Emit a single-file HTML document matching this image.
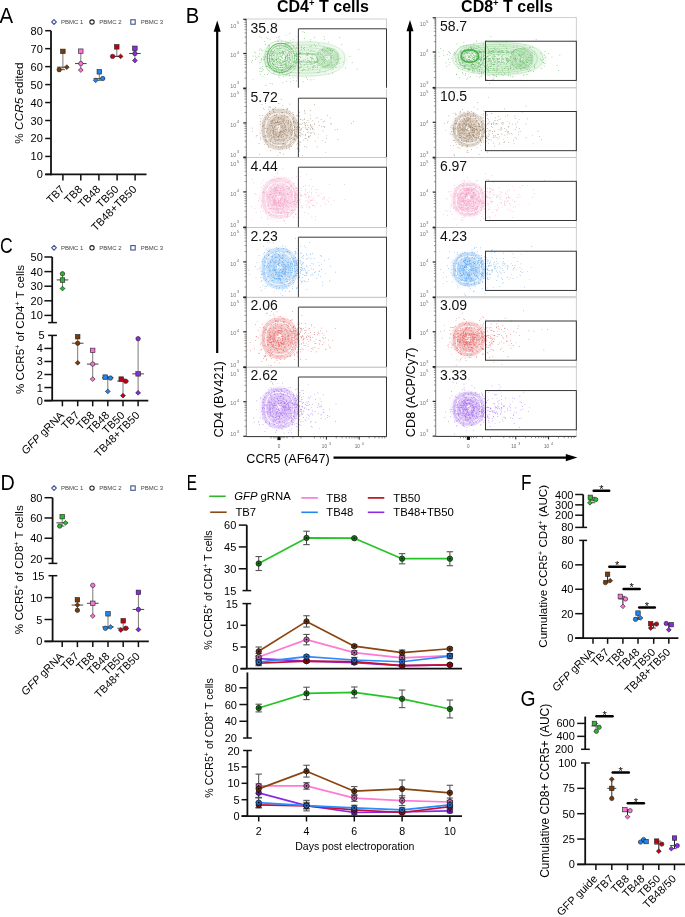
<!DOCTYPE html>
<html><head><meta charset="utf-8"><style>
html,body{margin:0;padding:0;background:#fff;overflow:hidden;width:685px;height:917px;}
svg{display:block;font-family:"Liberation Sans", sans-serif;will-change:transform;}
</style></head><body>
<svg width="685" height="917" viewBox="0 0 685 917">
<rect width="685" height="917" fill="#fff"/>
<defs><radialGradient id="g00"><stop offset="0" stop-color="#7fcf7f" stop-opacity="0.2"/><stop offset="0.75" stop-color="#7fcf7f" stop-opacity="0.28"/><stop offset="1" stop-color="#7fcf7f" stop-opacity="0"/></radialGradient><radialGradient id="g01"><stop offset="0" stop-color="#c8b39e" stop-opacity="0.2"/><stop offset="0.75" stop-color="#c8b39e" stop-opacity="0.28"/><stop offset="1" stop-color="#c8b39e" stop-opacity="0"/></radialGradient><radialGradient id="g02"><stop offset="0" stop-color="#f7c3dc" stop-opacity="0.2"/><stop offset="0.75" stop-color="#f7c3dc" stop-opacity="0.28"/><stop offset="1" stop-color="#f7c3dc" stop-opacity="0"/></radialGradient><radialGradient id="g03"><stop offset="0" stop-color="#a6cdf5" stop-opacity="0.2"/><stop offset="0.75" stop-color="#a6cdf5" stop-opacity="0.28"/><stop offset="1" stop-color="#a6cdf5" stop-opacity="0"/></radialGradient><radialGradient id="g04"><stop offset="0" stop-color="#f2a8a8" stop-opacity="0.2"/><stop offset="0.75" stop-color="#f2a8a8" stop-opacity="0.28"/><stop offset="1" stop-color="#f2a8a8" stop-opacity="0"/></radialGradient><radialGradient id="g05"><stop offset="0" stop-color="#cbaaf5" stop-opacity="0.2"/><stop offset="0.75" stop-color="#cbaaf5" stop-opacity="0.28"/><stop offset="1" stop-color="#cbaaf5" stop-opacity="0"/></radialGradient><radialGradient id="g10"><stop offset="0" stop-color="#7fcf7f" stop-opacity="0.2"/><stop offset="0.75" stop-color="#7fcf7f" stop-opacity="0.28"/><stop offset="1" stop-color="#7fcf7f" stop-opacity="0"/></radialGradient><radialGradient id="g11"><stop offset="0" stop-color="#c8b39e" stop-opacity="0.2"/><stop offset="0.75" stop-color="#c8b39e" stop-opacity="0.28"/><stop offset="1" stop-color="#c8b39e" stop-opacity="0"/></radialGradient><radialGradient id="g12"><stop offset="0" stop-color="#f7c3dc" stop-opacity="0.2"/><stop offset="0.75" stop-color="#f7c3dc" stop-opacity="0.28"/><stop offset="1" stop-color="#f7c3dc" stop-opacity="0"/></radialGradient><radialGradient id="g13"><stop offset="0" stop-color="#a6cdf5" stop-opacity="0.2"/><stop offset="0.75" stop-color="#a6cdf5" stop-opacity="0.28"/><stop offset="1" stop-color="#a6cdf5" stop-opacity="0"/></radialGradient><radialGradient id="g14"><stop offset="0" stop-color="#f2a8a8" stop-opacity="0.2"/><stop offset="0.75" stop-color="#f2a8a8" stop-opacity="0.28"/><stop offset="1" stop-color="#f2a8a8" stop-opacity="0"/></radialGradient><radialGradient id="g15"><stop offset="0" stop-color="#cbaaf5" stop-opacity="0.2"/><stop offset="0.75" stop-color="#cbaaf5" stop-opacity="0.28"/><stop offset="1" stop-color="#cbaaf5" stop-opacity="0"/></radialGradient></defs>
<text transform="translate(-0.49 23.00) scale(0.93 1)" font-size="22">A</text>
<path d="M54.00 19.65L56.35 22.00L54.00 24.35L51.65 22.00Z" fill="none" stroke="#3d5690" stroke-width="1.1"/>
<text x="61.00" y="24.10" font-size="6" fill="#444">PBMC 1</text>
<circle cx="92.00" cy="22.00" r="2.16" fill="none" stroke="#222" stroke-width="1.1"/>
<text x="99.30" y="24.10" font-size="6" fill="#444">PBMC 2</text>
<rect x="130.79" y="19.79" width="4.42" height="4.42" fill="none" stroke="#3d5690" stroke-width="1.1"/>
<text x="140.70" y="24.10" font-size="6" fill="#444">PBMC 3</text>
<line x1="51.00" y1="30.70" x2="51.00" y2="175.15" stroke="#111" stroke-width="1.8"/>
<line x1="45.20" y1="174.40" x2="51.00" y2="174.40" stroke="#111" stroke-width="1.5"/>
<text x="42.80" y="178.40" font-size="11" text-anchor="end">0</text>
<line x1="45.20" y1="156.44" x2="51.00" y2="156.44" stroke="#111" stroke-width="1.5"/>
<text x="42.80" y="160.44" font-size="11" text-anchor="end">10</text>
<line x1="45.20" y1="138.47" x2="51.00" y2="138.47" stroke="#111" stroke-width="1.5"/>
<text x="42.80" y="142.47" font-size="11" text-anchor="end">20</text>
<line x1="45.20" y1="120.51" x2="51.00" y2="120.51" stroke="#111" stroke-width="1.5"/>
<text x="42.80" y="124.51" font-size="11" text-anchor="end">30</text>
<line x1="45.20" y1="102.55" x2="51.00" y2="102.55" stroke="#111" stroke-width="1.5"/>
<text x="42.80" y="106.55" font-size="11" text-anchor="end">40</text>
<line x1="45.20" y1="84.59" x2="51.00" y2="84.59" stroke="#111" stroke-width="1.5"/>
<text x="42.80" y="88.59" font-size="11" text-anchor="end">50</text>
<line x1="45.20" y1="66.62" x2="51.00" y2="66.62" stroke="#111" stroke-width="1.5"/>
<text x="42.80" y="70.62" font-size="11" text-anchor="end">60</text>
<line x1="45.20" y1="48.66" x2="51.00" y2="48.66" stroke="#111" stroke-width="1.5"/>
<text x="42.80" y="52.66" font-size="11" text-anchor="end">70</text>
<line x1="45.20" y1="30.70" x2="51.00" y2="30.70" stroke="#111" stroke-width="1.5"/>
<text x="42.80" y="34.70" font-size="11" text-anchor="end">80</text>
<line x1="45.20" y1="174.40" x2="146.50" y2="174.40" stroke="#111" stroke-width="1.8"/>
<line x1="62.90" y1="174.40" x2="62.90" y2="180.40" stroke="#111" stroke-width="1.5"/>
<line x1="80.80" y1="174.40" x2="80.80" y2="180.40" stroke="#111" stroke-width="1.5"/>
<line x1="98.90" y1="174.40" x2="98.90" y2="180.40" stroke="#111" stroke-width="1.5"/>
<line x1="117.10" y1="174.40" x2="117.10" y2="180.40" stroke="#111" stroke-width="1.5"/>
<line x1="135.10" y1="174.40" x2="135.10" y2="180.40" stroke="#111" stroke-width="1.5"/>
<text x="65.20" y="190.00" font-size="11" text-anchor="end" transform="rotate(-45 65.20 190.00)">TB7</text>
<text x="83.10" y="190.00" font-size="11" text-anchor="end" transform="rotate(-45 83.10 190.00)">TB8</text>
<text x="101.20" y="190.00" font-size="11" text-anchor="end" transform="rotate(-45 101.20 190.00)">TB48</text>
<text x="119.40" y="190.00" font-size="11" text-anchor="end" transform="rotate(-45 119.40 190.00)">TB50</text>
<text x="137.40" y="190.00" font-size="11" text-anchor="end" transform="rotate(-45 137.40 190.00)">TB48+TB50</text>
<text x="23.00" y="103.00" font-size="11.8" text-anchor="middle" transform="rotate(-90 23.00 103.00)">% <tspan font-style="italic">CCR5</tspan> edited</text>
<line x1="62.90" y1="51.36" x2="62.90" y2="69.68" stroke="#7a7a7a" stroke-width="1"/>
<line x1="60.70" y1="51.36" x2="65.10" y2="51.36" stroke="#333" stroke-width="0.8"/>
<line x1="60.70" y1="69.68" x2="65.10" y2="69.68" stroke="#333" stroke-width="0.8"/>
<line x1="57.10" y1="67.16" x2="68.70" y2="67.16" stroke="#444" stroke-width="1"/>
<rect x="60.65" y="49.10" width="4.51" height="4.51" fill="#7b3b05" stroke="#222" stroke-width="0.6"/>
<circle cx="59.20" cy="69.68" r="2.21" fill="#7b3b05" stroke="#222" stroke-width="0.6"/>
<path d="M66.80 64.76L69.20 67.16L66.80 69.56L64.40 67.16Z" fill="#7b3b05" stroke="#222" stroke-width="0.6"/>
<line x1="80.80" y1="51.18" x2="80.80" y2="70.04" stroke="#7a7a7a" stroke-width="1"/>
<line x1="78.60" y1="51.18" x2="83.00" y2="51.18" stroke="#333" stroke-width="0.8"/>
<line x1="78.60" y1="70.04" x2="83.00" y2="70.04" stroke="#333" stroke-width="0.8"/>
<line x1="75.00" y1="63.57" x2="86.60" y2="63.57" stroke="#444" stroke-width="1"/>
<rect x="78.55" y="48.92" width="4.51" height="4.51" fill="#fd72d6" stroke="#222" stroke-width="0.6"/>
<circle cx="80.80" cy="63.57" r="2.21" fill="#fd72d6" stroke="#222" stroke-width="0.6"/>
<path d="M80.80 67.64L83.20 70.04L80.80 72.44L78.40 70.04Z" fill="#fd72d6" stroke="#222" stroke-width="0.6"/>
<line x1="99.30" y1="71.83" x2="99.30" y2="80.28" stroke="#7a7a7a" stroke-width="1"/>
<line x1="97.10" y1="71.83" x2="101.50" y2="71.83" stroke="#333" stroke-width="0.8"/>
<line x1="97.10" y1="80.28" x2="101.50" y2="80.28" stroke="#333" stroke-width="0.8"/>
<line x1="93.50" y1="78.66" x2="105.10" y2="78.66" stroke="#444" stroke-width="1"/>
<rect x="97.05" y="69.58" width="4.51" height="4.51" fill="#1f86f0" stroke="#222" stroke-width="0.6"/>
<circle cx="102.70" cy="78.48" r="2.21" fill="#1f86f0" stroke="#222" stroke-width="0.6"/>
<path d="M95.70 77.88L98.10 80.28L95.70 82.68L93.30 80.28Z" fill="#1f86f0" stroke="#222" stroke-width="0.6"/>
<line x1="116.80" y1="46.87" x2="116.80" y2="56.39" stroke="#7a7a7a" stroke-width="1"/>
<line x1="114.60" y1="46.87" x2="119.00" y2="46.87" stroke="#333" stroke-width="0.8"/>
<line x1="114.60" y1="56.39" x2="119.00" y2="56.39" stroke="#333" stroke-width="0.8"/>
<line x1="111.00" y1="56.39" x2="122.60" y2="56.39" stroke="#444" stroke-width="1"/>
<rect x="114.55" y="44.61" width="4.51" height="4.51" fill="#c10010" stroke="#222" stroke-width="0.6"/>
<circle cx="112.60" cy="56.39" r="2.21" fill="#c10010" stroke="#222" stroke-width="0.6"/>
<path d="M120.60 53.99L123.00 56.39L120.60 58.79L118.20 56.39Z" fill="#c10010" stroke="#222" stroke-width="0.6"/>
<line x1="134.90" y1="48.30" x2="134.90" y2="60.52" stroke="#7a7a7a" stroke-width="1"/>
<line x1="132.70" y1="48.30" x2="137.10" y2="48.30" stroke="#333" stroke-width="0.8"/>
<line x1="132.70" y1="60.52" x2="137.10" y2="60.52" stroke="#333" stroke-width="0.8"/>
<line x1="129.10" y1="53.51" x2="140.70" y2="53.51" stroke="#444" stroke-width="1"/>
<rect x="132.65" y="46.05" width="4.51" height="4.51" fill="#8a2be2" stroke="#222" stroke-width="0.6"/>
<circle cx="134.90" cy="53.51" r="2.21" fill="#8a2be2" stroke="#222" stroke-width="0.6"/>
<path d="M134.90 58.12L137.30 60.52L134.90 62.92L132.50 60.52Z" fill="#8a2be2" stroke="#222" stroke-width="0.6"/>
<text transform="translate(-0.02 253.20) scale(0.8 1)" font-size="22">C</text>
<path d="M54.00 245.45L56.35 247.80L54.00 250.15L51.65 247.80Z" fill="none" stroke="#3d5690" stroke-width="1.1"/>
<text x="61.00" y="249.90" font-size="6" fill="#444">PBMC 1</text>
<circle cx="92.00" cy="247.80" r="2.16" fill="none" stroke="#222" stroke-width="1.1"/>
<text x="99.30" y="249.90" font-size="6" fill="#444">PBMC 2</text>
<rect x="130.79" y="245.59" width="4.42" height="4.42" fill="none" stroke="#3d5690" stroke-width="1.1"/>
<text x="140.70" y="249.90" font-size="6" fill="#444">PBMC 3</text>
<line x1="52.20" y1="257.00" x2="52.20" y2="322.60" stroke="#111" stroke-width="1.8"/>
<line x1="44.40" y1="315.40" x2="52.20" y2="315.40" stroke="#111" stroke-width="1.5"/>
<text x="42.80" y="319.40" font-size="11" text-anchor="end">10</text>
<line x1="44.40" y1="300.80" x2="52.20" y2="300.80" stroke="#111" stroke-width="1.5"/>
<text x="42.80" y="304.80" font-size="11" text-anchor="end">20</text>
<line x1="44.40" y1="286.20" x2="52.20" y2="286.20" stroke="#111" stroke-width="1.5"/>
<text x="42.80" y="290.20" font-size="11" text-anchor="end">30</text>
<line x1="44.40" y1="271.60" x2="52.20" y2="271.60" stroke="#111" stroke-width="1.5"/>
<text x="42.80" y="275.60" font-size="11" text-anchor="end">40</text>
<line x1="44.40" y1="257.00" x2="52.20" y2="257.00" stroke="#111" stroke-width="1.5"/>
<text x="42.80" y="261.00" font-size="11" text-anchor="end">50</text>
<line x1="48.10" y1="322.60" x2="56.90" y2="322.60" stroke="#111" stroke-width="1.5"/>
<line x1="52.20" y1="335.40" x2="52.20" y2="400.60" stroke="#111" stroke-width="1.8"/>
<line x1="48.10" y1="335.40" x2="56.90" y2="335.40" stroke="#111" stroke-width="1.5"/>
<text x="44.50" y="339.40" font-size="11" text-anchor="end">5</text>
<line x1="44.40" y1="400.60" x2="52.20" y2="400.60" stroke="#111" stroke-width="1.5"/>
<text x="42.80" y="404.60" font-size="11" text-anchor="end">0</text>
<line x1="44.40" y1="387.56" x2="52.20" y2="387.56" stroke="#111" stroke-width="1.5"/>
<text x="42.80" y="391.56" font-size="11" text-anchor="end">1</text>
<line x1="44.40" y1="374.52" x2="52.20" y2="374.52" stroke="#111" stroke-width="1.5"/>
<text x="42.80" y="378.52" font-size="11" text-anchor="end">2</text>
<line x1="44.40" y1="361.48" x2="52.20" y2="361.48" stroke="#111" stroke-width="1.5"/>
<text x="42.80" y="365.48" font-size="11" text-anchor="end">3</text>
<line x1="44.40" y1="348.44" x2="52.20" y2="348.44" stroke="#111" stroke-width="1.5"/>
<text x="42.80" y="352.44" font-size="11" text-anchor="end">4</text>
<line x1="44.40" y1="400.60" x2="148.30" y2="400.60" stroke="#111" stroke-width="1.8"/>
<line x1="62.40" y1="400.60" x2="62.40" y2="406.30" stroke="#111" stroke-width="1.5"/>
<line x1="77.70" y1="400.60" x2="77.70" y2="406.30" stroke="#111" stroke-width="1.5"/>
<line x1="92.70" y1="400.60" x2="92.70" y2="406.30" stroke="#111" stroke-width="1.5"/>
<line x1="107.80" y1="400.60" x2="107.80" y2="406.30" stroke="#111" stroke-width="1.5"/>
<line x1="123.00" y1="400.60" x2="123.00" y2="406.30" stroke="#111" stroke-width="1.5"/>
<line x1="138.10" y1="400.60" x2="138.10" y2="406.30" stroke="#111" stroke-width="1.5"/>
<text x="64.70" y="416.00" font-size="11" text-anchor="end" transform="rotate(-45 64.70 416.00)"><tspan font-style="italic">GFP</tspan> gRNA</text>
<text x="80.00" y="416.00" font-size="11" text-anchor="end" transform="rotate(-45 80.00 416.00)">TB7</text>
<text x="95.00" y="416.00" font-size="11" text-anchor="end" transform="rotate(-45 95.00 416.00)">TB8</text>
<text x="110.10" y="416.00" font-size="11" text-anchor="end" transform="rotate(-45 110.10 416.00)">TB48</text>
<text x="125.30" y="416.00" font-size="11" text-anchor="end" transform="rotate(-45 125.30 416.00)">TB50</text>
<text x="140.40" y="416.00" font-size="11" text-anchor="end" transform="rotate(-45 140.40 416.00)">TB48+TB50</text>
<text x="23.50" y="329.50" font-size="11.6" text-anchor="middle" transform="rotate(-90 23.50 329.50)">% CCR5<tspan dy="-4" font-size="7">+</tspan><tspan dy="4"> of CD4</tspan><tspan dy="-4" font-size="7">+</tspan><tspan dy="4"> T cells</tspan></text>
<line x1="62.50" y1="273.79" x2="62.50" y2="288.54" stroke="#7a7a7a" stroke-width="1"/>
<line x1="60.30" y1="273.79" x2="64.70" y2="273.79" stroke="#333" stroke-width="0.8"/>
<line x1="60.30" y1="288.54" x2="64.70" y2="288.54" stroke="#333" stroke-width="0.8"/>
<line x1="56.70" y1="279.92" x2="68.30" y2="279.92" stroke="#444" stroke-width="1"/>
<circle cx="62.50" cy="273.79" r="2.21" fill="#2fb52f" stroke="#222" stroke-width="0.6"/>
<rect x="60.25" y="277.81" width="4.51" height="4.51" fill="#2fb52f" stroke="#222" stroke-width="0.6"/>
<path d="M62.50 286.13L64.90 288.54L62.50 290.94L60.10 288.54Z" fill="#2fb52f" stroke="#222" stroke-width="0.6"/>
<line x1="77.70" y1="336.70" x2="77.70" y2="362.78" stroke="#7a7a7a" stroke-width="1"/>
<line x1="75.50" y1="336.70" x2="79.90" y2="336.70" stroke="#333" stroke-width="0.8"/>
<line x1="75.50" y1="362.78" x2="79.90" y2="362.78" stroke="#333" stroke-width="0.8"/>
<line x1="71.90" y1="343.22" x2="83.50" y2="343.22" stroke="#444" stroke-width="1"/>
<rect x="75.45" y="334.45" width="4.51" height="4.51" fill="#7b3b05" stroke="#222" stroke-width="0.6"/>
<circle cx="77.70" cy="343.22" r="2.21" fill="#7b3b05" stroke="#222" stroke-width="0.6"/>
<path d="M77.70 360.38L80.10 362.78L77.70 365.19L75.30 362.78Z" fill="#7b3b05" stroke="#222" stroke-width="0.6"/>
<line x1="92.70" y1="350.40" x2="92.70" y2="379.08" stroke="#7a7a7a" stroke-width="1"/>
<line x1="90.50" y1="350.40" x2="94.90" y2="350.40" stroke="#333" stroke-width="0.8"/>
<line x1="90.50" y1="379.08" x2="94.90" y2="379.08" stroke="#333" stroke-width="0.8"/>
<line x1="86.90" y1="364.09" x2="98.50" y2="364.09" stroke="#444" stroke-width="1"/>
<rect x="90.45" y="348.14" width="4.51" height="4.51" fill="#fd72d6" stroke="#222" stroke-width="0.6"/>
<circle cx="92.70" cy="364.09" r="2.21" fill="#fd72d6" stroke="#222" stroke-width="0.6"/>
<path d="M92.70 376.68L95.10 379.08L92.70 381.49L90.30 379.08Z" fill="#fd72d6" stroke="#222" stroke-width="0.6"/>
<line x1="107.80" y1="377.13" x2="107.80" y2="391.47" stroke="#7a7a7a" stroke-width="1"/>
<line x1="105.60" y1="377.13" x2="110.00" y2="377.13" stroke="#333" stroke-width="0.8"/>
<line x1="105.60" y1="391.47" x2="110.00" y2="391.47" stroke="#333" stroke-width="0.8"/>
<line x1="102.00" y1="377.78" x2="113.60" y2="377.78" stroke="#444" stroke-width="1"/>
<rect x="102.95" y="374.87" width="4.51" height="4.51" fill="#1f86f0" stroke="#222" stroke-width="0.6"/>
<circle cx="110.40" cy="378.04" r="2.21" fill="#1f86f0" stroke="#222" stroke-width="0.6"/>
<path d="M107.80 389.07L110.20 391.47L107.80 393.87L105.40 391.47Z" fill="#1f86f0" stroke="#222" stroke-width="0.6"/>
<line x1="123.00" y1="379.08" x2="123.00" y2="395.64" stroke="#7a7a7a" stroke-width="1"/>
<line x1="120.80" y1="379.08" x2="125.20" y2="379.08" stroke="#333" stroke-width="0.8"/>
<line x1="120.80" y1="395.64" x2="125.20" y2="395.64" stroke="#333" stroke-width="0.8"/>
<line x1="117.20" y1="381.04" x2="128.80" y2="381.04" stroke="#444" stroke-width="1"/>
<rect x="118.95" y="376.83" width="4.51" height="4.51" fill="#c10010" stroke="#222" stroke-width="0.6"/>
<circle cx="125.70" cy="381.30" r="2.21" fill="#c10010" stroke="#222" stroke-width="0.6"/>
<path d="M123.00 393.24L125.40 395.64L123.00 398.05L120.60 395.64Z" fill="#c10010" stroke="#222" stroke-width="0.6"/>
<line x1="138.10" y1="338.66" x2="138.10" y2="392.78" stroke="#7a7a7a" stroke-width="1"/>
<line x1="135.90" y1="338.66" x2="140.30" y2="338.66" stroke="#333" stroke-width="0.8"/>
<line x1="135.90" y1="392.78" x2="140.30" y2="392.78" stroke="#333" stroke-width="0.8"/>
<line x1="132.30" y1="373.87" x2="143.90" y2="373.87" stroke="#444" stroke-width="1"/>
<circle cx="138.10" cy="338.66" r="2.21" fill="#8a2be2" stroke="#222" stroke-width="0.6"/>
<rect x="135.85" y="371.61" width="4.51" height="4.51" fill="#8a2be2" stroke="#222" stroke-width="0.6"/>
<path d="M138.10 390.38L140.50 392.78L138.10 395.18L135.70 392.78Z" fill="#8a2be2" stroke="#222" stroke-width="0.6"/>
<text transform="translate(0.38 489.70) scale(0.9 1)" font-size="22">D</text>
<path d="M54.00 485.75L56.35 488.10L54.00 490.45L51.65 488.10Z" fill="none" stroke="#3d5690" stroke-width="1.1"/>
<text x="61.00" y="490.20" font-size="6" fill="#444">PBMC 1</text>
<circle cx="92.00" cy="488.10" r="2.16" fill="none" stroke="#222" stroke-width="1.1"/>
<text x="99.30" y="490.20" font-size="6" fill="#444">PBMC 2</text>
<rect x="130.79" y="485.89" width="4.42" height="4.42" fill="none" stroke="#3d5690" stroke-width="1.1"/>
<text x="140.70" y="490.20" font-size="6" fill="#444">PBMC 3</text>
<line x1="52.60" y1="497.70" x2="52.60" y2="563.40" stroke="#111" stroke-width="1.8"/>
<line x1="44.50" y1="558.50" x2="52.60" y2="558.50" stroke="#111" stroke-width="1.5"/>
<text x="42.40" y="562.50" font-size="11" text-anchor="end">20</text>
<line x1="44.50" y1="538.23" x2="52.60" y2="538.23" stroke="#111" stroke-width="1.5"/>
<text x="42.40" y="542.23" font-size="11" text-anchor="end">40</text>
<line x1="44.50" y1="517.97" x2="52.60" y2="517.97" stroke="#111" stroke-width="1.5"/>
<text x="42.40" y="521.97" font-size="11" text-anchor="end">60</text>
<line x1="44.50" y1="497.70" x2="52.60" y2="497.70" stroke="#111" stroke-width="1.5"/>
<text x="42.40" y="501.70" font-size="11" text-anchor="end">80</text>
<line x1="48.50" y1="563.40" x2="57.30" y2="563.40" stroke="#111" stroke-width="1.5"/>
<line x1="52.60" y1="575.70" x2="52.60" y2="641.40" stroke="#111" stroke-width="1.8"/>
<line x1="48.50" y1="575.70" x2="57.30" y2="575.70" stroke="#111" stroke-width="1.5"/>
<text x="44.50" y="579.70" font-size="11" text-anchor="end">15</text>
<line x1="44.50" y1="641.40" x2="52.60" y2="641.40" stroke="#111" stroke-width="1.5"/>
<text x="42.40" y="645.40" font-size="11" text-anchor="end">0</text>
<line x1="44.50" y1="619.50" x2="52.60" y2="619.50" stroke="#111" stroke-width="1.5"/>
<text x="42.40" y="623.50" font-size="11" text-anchor="end">5</text>
<line x1="44.50" y1="597.60" x2="52.60" y2="597.60" stroke="#111" stroke-width="1.5"/>
<text x="42.40" y="601.60" font-size="11" text-anchor="end">10</text>
<line x1="44.50" y1="641.40" x2="148.80" y2="641.40" stroke="#111" stroke-width="1.8"/>
<line x1="62.20" y1="641.40" x2="62.20" y2="647.10" stroke="#111" stroke-width="1.5"/>
<line x1="77.40" y1="641.40" x2="77.40" y2="647.10" stroke="#111" stroke-width="1.5"/>
<line x1="92.80" y1="641.40" x2="92.80" y2="647.10" stroke="#111" stroke-width="1.5"/>
<line x1="108.00" y1="641.40" x2="108.00" y2="647.10" stroke="#111" stroke-width="1.5"/>
<line x1="123.20" y1="641.40" x2="123.20" y2="647.10" stroke="#111" stroke-width="1.5"/>
<line x1="138.40" y1="641.40" x2="138.40" y2="647.10" stroke="#111" stroke-width="1.5"/>
<text x="64.50" y="657.00" font-size="11" text-anchor="end" transform="rotate(-45 64.50 657.00)"><tspan font-style="italic">GFP</tspan> gRNA</text>
<text x="79.70" y="657.00" font-size="11" text-anchor="end" transform="rotate(-45 79.70 657.00)">TB7</text>
<text x="95.10" y="657.00" font-size="11" text-anchor="end" transform="rotate(-45 95.10 657.00)">TB8</text>
<text x="110.30" y="657.00" font-size="11" text-anchor="end" transform="rotate(-45 110.30 657.00)">TB48</text>
<text x="125.50" y="657.00" font-size="11" text-anchor="end" transform="rotate(-45 125.50 657.00)">TB50</text>
<text x="140.70" y="657.00" font-size="11" text-anchor="end" transform="rotate(-45 140.70 657.00)">TB48+TB50</text>
<text x="23.50" y="569.70" font-size="11.6" text-anchor="middle" transform="rotate(-90 23.50 569.70)">% CCR5<tspan dy="-4" font-size="7">+</tspan><tspan dy="4"> of CD8</tspan><tspan dy="-4" font-size="7">+</tspan><tspan dy="4"> T cells</tspan></text>
<line x1="62.20" y1="516.65" x2="62.20" y2="526.07" stroke="#7a7a7a" stroke-width="1"/>
<line x1="60.00" y1="516.65" x2="64.40" y2="516.65" stroke="#333" stroke-width="0.8"/>
<line x1="60.00" y1="526.07" x2="64.40" y2="526.07" stroke="#333" stroke-width="0.8"/>
<line x1="56.40" y1="522.83" x2="68.00" y2="522.83" stroke="#444" stroke-width="1"/>
<rect x="59.95" y="514.40" width="4.51" height="4.51" fill="#2fb52f" stroke="#222" stroke-width="0.6"/>
<path d="M65.50 520.43L67.90 522.83L65.50 525.23L63.10 522.83Z" fill="#2fb52f" stroke="#222" stroke-width="0.6"/>
<circle cx="59.70" cy="526.07" r="2.21" fill="#2fb52f" stroke="#222" stroke-width="0.6"/>
<line x1="77.40" y1="599.79" x2="77.40" y2="610.30" stroke="#7a7a7a" stroke-width="1"/>
<line x1="75.20" y1="599.79" x2="79.60" y2="599.79" stroke="#333" stroke-width="0.8"/>
<line x1="75.20" y1="610.30" x2="79.60" y2="610.30" stroke="#333" stroke-width="0.8"/>
<line x1="71.60" y1="605.05" x2="83.20" y2="605.05" stroke="#444" stroke-width="1"/>
<rect x="75.15" y="597.54" width="4.51" height="4.51" fill="#7b3b05" stroke="#222" stroke-width="0.6"/>
<path d="M77.40 602.65L79.80 605.05L77.40 607.45L75.00 605.05Z" fill="#7b3b05" stroke="#222" stroke-width="0.6"/>
<circle cx="77.40" cy="610.30" r="2.21" fill="#7b3b05" stroke="#222" stroke-width="0.6"/>
<line x1="92.80" y1="585.34" x2="92.80" y2="616.00" stroke="#7a7a7a" stroke-width="1"/>
<line x1="90.60" y1="585.34" x2="95.00" y2="585.34" stroke="#333" stroke-width="0.8"/>
<line x1="90.60" y1="616.00" x2="95.00" y2="616.00" stroke="#333" stroke-width="0.8"/>
<line x1="87.00" y1="603.29" x2="98.60" y2="603.29" stroke="#444" stroke-width="1"/>
<circle cx="92.80" cy="585.34" r="2.21" fill="#fd72d6" stroke="#222" stroke-width="0.6"/>
<rect x="90.55" y="601.04" width="4.51" height="4.51" fill="#fd72d6" stroke="#222" stroke-width="0.6"/>
<path d="M92.80 613.60L95.20 616.00L92.80 618.40L90.40 616.00Z" fill="#fd72d6" stroke="#222" stroke-width="0.6"/>
<line x1="108.00" y1="613.81" x2="108.00" y2="628.26" stroke="#7a7a7a" stroke-width="1"/>
<line x1="105.80" y1="613.81" x2="110.20" y2="613.81" stroke="#333" stroke-width="0.8"/>
<line x1="105.80" y1="628.26" x2="110.20" y2="628.26" stroke="#333" stroke-width="0.8"/>
<line x1="102.20" y1="626.95" x2="113.80" y2="626.95" stroke="#444" stroke-width="1"/>
<rect x="105.75" y="611.55" width="4.51" height="4.51" fill="#1f86f0" stroke="#222" stroke-width="0.6"/>
<circle cx="105.40" cy="628.26" r="2.21" fill="#1f86f0" stroke="#222" stroke-width="0.6"/>
<path d="M110.60 624.55L113.00 626.95L110.60 629.35L108.20 626.95Z" fill="#1f86f0" stroke="#222" stroke-width="0.6"/>
<line x1="123.20" y1="620.81" x2="123.20" y2="630.01" stroke="#7a7a7a" stroke-width="1"/>
<line x1="121.00" y1="620.81" x2="125.40" y2="620.81" stroke="#333" stroke-width="0.8"/>
<line x1="121.00" y1="630.01" x2="125.40" y2="630.01" stroke="#333" stroke-width="0.8"/>
<line x1="117.40" y1="628.26" x2="129.00" y2="628.26" stroke="#444" stroke-width="1"/>
<rect x="120.95" y="618.56" width="4.51" height="4.51" fill="#c10010" stroke="#222" stroke-width="0.6"/>
<circle cx="125.90" cy="628.26" r="2.21" fill="#c10010" stroke="#222" stroke-width="0.6"/>
<path d="M120.80 627.61L123.20 630.01L120.80 632.41L118.40 630.01Z" fill="#c10010" stroke="#222" stroke-width="0.6"/>
<line x1="138.40" y1="592.34" x2="138.40" y2="629.57" stroke="#7a7a7a" stroke-width="1"/>
<line x1="136.20" y1="592.34" x2="140.60" y2="592.34" stroke="#333" stroke-width="0.8"/>
<line x1="136.20" y1="629.57" x2="140.60" y2="629.57" stroke="#333" stroke-width="0.8"/>
<line x1="132.60" y1="609.43" x2="144.20" y2="609.43" stroke="#444" stroke-width="1"/>
<rect x="136.15" y="590.09" width="4.51" height="4.51" fill="#8a2be2" stroke="#222" stroke-width="0.6"/>
<circle cx="138.40" cy="609.43" r="2.21" fill="#8a2be2" stroke="#222" stroke-width="0.6"/>
<path d="M138.40 627.17L140.80 629.57L138.40 631.97L136.00 629.57Z" fill="#8a2be2" stroke="#222" stroke-width="0.6"/>
<text transform="translate(185.74 23.20) scale(0.92 1)" font-size="22">B</text>
<text x="322.90" y="11.80" font-size="16" text-anchor="middle" font-weight="bold">CD4<tspan dy="-5.5" font-size="9.5">+</tspan><tspan dy="5.5"> T cells</tspan></text>
<text x="507.00" y="11.80" font-size="16" text-anchor="middle" font-weight="bold">CD8<tspan dy="-5.5" font-size="9.5">+</tspan><tspan dy="5.5"> T cells</tspan></text>
<line x1="217.20" y1="28.00" x2="217.20" y2="353.10" stroke="#000" stroke-width="2.2"/>
<path d="M217.2 20.6L220.7 31.8L213.7 31.8Z" fill="#000"/>
<line x1="410.00" y1="28.00" x2="410.00" y2="339.20" stroke="#000" stroke-width="2.2"/>
<path d="M410.0 20.1L413.5 31.3L406.5 31.3Z" fill="#000"/>
<text x="222.60" y="399.30" font-size="12.85" text-anchor="middle" transform="rotate(-90 222.60 399.30)">CD4 (BV421)</text>
<text x="414.60" y="392.40" font-size="12.7" text-anchor="middle" transform="rotate(-90 414.60 392.40)">CD8 (ACP/Cy7)</text>
<text x="246.30" y="463.30" font-size="12.6">CCR5 (AF647)</text>
<line x1="333.50" y1="457.60" x2="567.00" y2="457.60" stroke="#000" stroke-width="2.2"/>
<path d="M577.4 457.6L565.8 461.2L565.8 454.0Z" fill="#000"/>
<rect x="246.30" y="19.00" width="140.20" height="69.40" fill="none" stroke="#c4c4c4" stroke-width="0.8"/>
<ellipse cx="302.8" cy="59.0" rx="48" ry="20" fill="url(#g00)" opacity="0.7"/>
<path d="M292.3 65.4L291.3 66.9L290.1 68.3L288.8 69.5L287.3 70.5L285.7 71.3L284.1 71.9L282.3 72.2L280.6 72.3L278.8 72.1L277.1 71.8L275.5 71.1L273.9 70.3L272.5 69.2L271.2 68.0L270.0 66.6L269.1 65.0L268.3 63.3L267.8 61.5L267.4 59.7L267.3 57.8L267.4 55.9L267.8 54.1L268.3 52.3L269.1 50.6L270.0 49.0L271.2 47.6L272.5 46.4L273.9 45.3L275.5 44.5L277.1 43.8L278.8 43.5L280.6 43.3L282.3 43.4L284.1 43.7L285.7 44.3L287.3 45.1L288.8 46.1L290.1 47.3L291.3 48.7L292.3 50.2" fill="none" stroke="#3aa53a" stroke-width="1.0" opacity="0.75"/>
<path d="M289.6 65.9L288.6 67.0L287.5 67.9L286.4 68.7L285.1 69.4L283.8 69.9L282.4 70.2L281.0 70.3L279.6 70.2L278.2 70.0L276.9 69.5L275.6 68.9L274.4 68.2L273.2 67.2L272.2 66.2L271.4 65.0L270.6 63.7L270.1 62.3L269.6 60.8L269.4 59.3L269.3 57.8L269.4 56.3L269.6 54.8L270.1 53.3L270.6 51.9L271.4 50.6L272.2 49.4L273.2 48.4L274.4 47.4L275.6 46.7L276.9 46.1L278.2 45.6L279.6 45.4L281.0 45.3L282.4 45.4L283.8 45.7L285.1 46.2L286.4 46.9L287.5 47.7L288.6 48.6L289.6 49.7" fill="none" stroke="#3aa53a" stroke-width="0.6" opacity="0.6"/>
<ellipse cx="281.8" cy="57.0" rx="3.5" ry="3" fill="#fff" opacity="0.9"/>
<path d="M293.8 54.0H318.8M293.8 62.0H318.8" stroke="#3aa53a" stroke-width="0.8" opacity="0.6"/>
<path d="M344.8 59.0L344.3 63.0L342.8 66.0L340.3 68.5L336.8 70.8L332.5 72.6L327.2 74.1L321.2 75.1L314.1 75.8L304.8 76.0L295.5 75.8L288.4 75.1L282.4 74.1L277.1 72.6L272.8 70.8L269.3 68.5L266.8 66.0L265.3 63.0L264.8 59.0L265.3 55.0L266.8 52.0L269.3 49.5L272.8 47.2L277.1 45.4L282.4 43.9L288.4 42.9L295.5 42.2L304.8 42.0L314.1 42.2L321.2 42.9L327.2 43.9L332.5 45.4L336.8 47.2L340.3 49.5L342.8 52.0L344.3 55.0Z" fill="none" stroke="#3aa53a" stroke-width="0.45" opacity="0.4"/>
<path d="M338.0 59.0L337.6 62.3L336.3 64.8L334.2 66.9L331.4 68.8L327.8 70.3L323.4 71.5L318.4 72.4L312.5 72.9L304.8 73.1L297.1 72.9L291.2 72.4L286.2 71.5L281.8 70.3L278.2 68.8L275.4 66.9L273.3 64.8L272.0 62.3L271.6 59.0L272.0 55.7L273.3 53.2L275.4 51.1L278.2 49.2L281.8 47.7L286.2 46.5L291.2 45.6L297.1 45.1L304.8 44.9L312.5 45.1L318.4 45.6L323.4 46.5L327.8 47.7L331.4 49.2L334.2 51.1L336.3 53.2L337.6 55.7Z" fill="none" stroke="#3aa53a" stroke-width="0.45" opacity="0.4"/>
<path d="M331.2 59.0L330.9 61.6L329.9 63.6L328.2 65.3L325.9 66.8L323.1 68.0L319.6 69.0L315.6 69.7L310.9 70.1L304.8 70.2L298.7 70.1L294.0 69.7L290.0 69.0L286.5 68.0L283.7 66.8L281.4 65.3L279.7 63.6L278.7 61.6L278.4 59.0L278.7 56.4L279.7 54.4L281.4 52.7L283.7 51.2L286.5 50.0L290.0 49.0L294.0 48.3L298.7 47.9L304.8 47.8L310.9 47.9L315.6 48.3L319.6 49.0L323.1 50.0L325.9 51.2L328.2 52.7L329.9 54.4L330.9 56.4Z" fill="none" stroke="#3aa53a" stroke-width="0.45" opacity="0.4"/>
<path d="M324.4 59.0L324.2 60.9L323.4 62.4L322.2 63.7L320.5 64.8L318.4 65.7L315.8 66.4L312.8 66.9L309.4 67.2L304.8 67.3L300.2 67.2L296.8 66.9L293.8 66.4L291.2 65.7L289.1 64.8L287.4 63.7L286.2 62.4L285.4 60.9L285.2 59.0L285.4 57.1L286.2 55.6L287.4 54.3L289.1 53.2L291.2 52.3L293.8 51.6L296.8 51.1L300.2 50.8L304.8 50.7L309.4 50.8L312.8 51.1L315.8 51.6L318.4 52.3L320.5 53.2L322.2 54.3L323.4 55.6L324.2 57.1Z" fill="none" stroke="#3aa53a" stroke-width="0.45" opacity="0.4"/>
<path d="M317.6 59.0L317.4 60.3L317.0 61.2L316.2 62.1L315.1 62.8L313.7 63.4L312.0 63.8L310.0 64.2L307.8 64.4L304.8 64.4L301.8 64.4L299.6 64.2L297.6 63.8L295.9 63.4L294.5 62.8L293.4 62.1L292.6 61.2L292.2 60.3L292.0 59.0L292.2 57.7L292.6 56.8L293.4 55.9L294.5 55.2L295.9 54.6L297.6 54.2L299.6 53.8L301.8 53.6L304.8 53.6L307.8 53.6L310.0 53.8L312.0 54.2L313.7 54.6L315.1 55.2L316.2 55.9L317.0 56.8L317.4 57.7Z" fill="none" stroke="#3aa53a" stroke-width="0.45" opacity="0.4"/>
<path d="M338.8 58.0L338.7 60.3L338.2 62.1L337.6 63.6L336.6 64.9L335.4 66.0L334.0 66.9L332.3 67.5L330.4 67.9L327.8 68.0L325.2 67.9L323.3 67.5L321.6 66.9L320.2 66.0L319.0 64.9L318.0 63.6L317.4 62.1L316.9 60.3L316.8 58.0L316.9 55.7L317.4 53.9L318.0 52.4L319.0 51.1L320.2 50.0L321.6 49.1L323.3 48.5L325.2 48.1L327.8 48.0L330.4 48.1L332.3 48.5L334.0 49.1L335.4 50.0L336.6 51.1L337.6 52.4L338.2 53.9L338.7 55.7Z" fill="none" stroke="#3aa53a" stroke-width="0.5" opacity="0.6"/>
<path d="M337.5 58.0L337.3 60.0L337.0 61.6L336.4 62.9L335.5 64.1L334.5 65.0L333.2 65.8L331.8 66.3L330.0 66.7L327.8 66.8L325.6 66.7L323.8 66.3L322.4 65.8L321.1 65.0L320.1 64.1L319.2 62.9L318.6 61.6L318.3 60.0L318.1 58.0L318.3 56.0L318.6 54.4L319.2 53.1L320.1 51.9L321.1 51.0L322.4 50.2L323.8 49.7L325.6 49.3L327.8 49.2L330.0 49.3L331.8 49.7L333.2 50.2L334.5 51.0L335.5 51.9L336.4 53.1L337.0 54.4L337.3 56.0Z" fill="none" stroke="#3aa53a" stroke-width="0.5" opacity="0.6"/>
<path d="M336.1 58.0L336.0 59.8L335.7 61.1L335.2 62.2L334.5 63.2L333.6 64.1L332.5 64.7L331.2 65.2L329.7 65.5L327.8 65.6L325.9 65.5L324.4 65.2L323.1 64.7L322.0 64.1L321.1 63.2L320.4 62.2L319.9 61.1L319.6 59.8L319.5 58.0L319.6 56.2L319.9 54.9L320.4 53.8L321.1 52.8L322.0 51.9L323.1 51.3L324.4 50.8L325.9 50.5L327.8 50.4L329.7 50.5L331.2 50.8L332.5 51.3L333.6 51.9L334.5 52.8L335.2 53.8L335.7 54.9L336.0 56.2Z" fill="none" stroke="#3aa53a" stroke-width="0.5" opacity="0.6"/>
<path d="M334.8 58.0L334.7 59.5L334.4 60.6L334.0 61.6L333.4 62.4L332.6 63.1L331.7 63.6L330.7 64.0L329.4 64.3L327.8 64.4L326.2 64.3L324.9 64.0L323.9 63.6L323.0 63.1L322.2 62.4L321.6 61.6L321.2 60.6L320.9 59.5L320.8 58.0L320.9 56.5L321.2 55.4L321.6 54.4L322.2 53.6L323.0 52.9L323.9 52.4L324.9 52.0L326.2 51.7L327.8 51.6L329.4 51.7L330.7 52.0L331.7 52.4L332.6 52.9L333.4 53.6L334.0 54.4L334.4 55.4L334.7 56.5Z" fill="none" stroke="#3aa53a" stroke-width="0.5" opacity="0.6"/>
<path d="M333.5 58.0L333.4 59.2L333.2 60.1L332.8 60.9L332.3 61.6L331.7 62.1L331.0 62.6L330.1 62.9L329.1 63.1L327.8 63.1L326.5 63.1L325.5 62.9L324.6 62.6L323.9 62.1L323.3 61.6L322.8 60.9L322.4 60.1L322.2 59.2L322.1 58.0L322.2 56.8L322.4 55.9L322.8 55.1L323.3 54.4L323.9 53.9L324.6 53.4L325.5 53.1L326.5 52.9L327.8 52.9L329.1 52.9L330.1 53.1L331.0 53.4L331.7 53.9L332.3 54.4L332.8 55.1L333.2 55.9L333.4 56.8Z" fill="none" stroke="#3aa53a" stroke-width="0.5" opacity="0.6"/>
<path d="M332.1 58.0L332.1 58.9L331.9 59.6L331.6 60.2L331.3 60.7L330.8 61.1L330.2 61.5L329.6 61.7L328.8 61.9L327.8 61.9L326.8 61.9L326.0 61.7L325.4 61.5L324.8 61.1L324.3 60.7L324.0 60.2L323.7 59.6L323.5 58.9L323.5 58.0L323.5 57.1L323.7 56.4L324.0 55.8L324.3 55.3L324.8 54.9L325.4 54.5L326.0 54.3L326.8 54.1L327.8 54.1L328.8 54.1L329.6 54.3L330.2 54.5L330.8 54.9L331.3 55.3L331.6 55.8L331.9 56.4L332.1 57.1Z" fill="none" stroke="#3aa53a" stroke-width="0.5" opacity="0.6"/>
<path d="M330.8 58.0L330.7 58.6L330.6 59.1L330.4 59.5L330.2 59.9L329.9 60.2L329.5 60.4L329.0 60.6L328.5 60.7L327.8 60.7L327.1 60.7L326.6 60.6L326.1 60.4L325.7 60.2L325.4 59.9L325.2 59.5L325.0 59.1L324.9 58.6L324.8 58.0L324.9 57.4L325.0 56.9L325.2 56.5L325.4 56.1L325.7 55.8L326.1 55.6L326.6 55.4L327.1 55.3L327.8 55.3L328.5 55.3L329.0 55.4L329.5 55.6L329.9 55.8L330.2 56.1L330.4 56.5L330.6 56.9L330.7 57.4Z" fill="none" stroke="#3aa53a" stroke-width="0.5" opacity="0.6"/>
<path d="M296.8 58.0L296.6 62.0L296.0 65.0L295.0 67.5L293.6 69.8L291.9 71.6L289.8 73.1L287.3 74.1L284.5 74.8L280.8 75.0L277.1 74.8L274.3 74.1L271.8 73.1L269.7 71.6L268.0 69.8L266.6 67.5L265.6 65.0L265.0 62.0L264.8 58.0L265.0 54.0L265.6 51.0L266.6 48.5L268.0 46.2L269.7 44.4L271.8 42.9L274.3 41.9L277.1 41.2L280.8 41.0L284.5 41.2L287.3 41.9L289.8 42.9L291.9 44.4L293.6 46.2L295.0 48.5L296.0 51.0L296.6 54.0Z" fill="none" stroke="#3aa53a" stroke-width="0.5" opacity="0.55"/>
<path d="M294.5 58.0L294.4 61.4L293.8 64.0L293.0 66.2L291.8 68.1L290.3 69.7L288.5 70.9L286.4 71.9L284.0 72.4L280.8 72.6L277.6 72.4L275.2 71.9L273.1 70.9L271.3 69.7L269.8 68.1L268.6 66.2L267.8 64.0L267.2 61.4L267.1 58.0L267.2 54.6L267.8 52.0L268.6 49.8L269.8 47.9L271.3 46.3L273.1 45.1L275.2 44.1L277.6 43.6L280.8 43.4L284.0 43.6L286.4 44.1L288.5 45.1L290.3 46.3L291.8 47.9L293.0 49.8L293.8 52.0L294.4 54.6Z" fill="none" stroke="#3aa53a" stroke-width="0.5" opacity="0.55"/>
<path d="M292.3 58.0L292.1 60.8L291.7 63.0L291.0 64.8L290.0 66.4L288.7 67.8L287.2 68.8L285.5 69.6L283.5 70.0L280.8 70.2L278.1 70.0L276.1 69.6L274.4 68.8L272.9 67.8L271.6 66.4L270.6 64.8L269.9 63.0L269.5 60.8L269.3 58.0L269.5 55.2L269.9 53.0L270.6 51.2L271.6 49.6L272.9 48.2L274.4 47.2L276.1 46.4L278.1 46.0L280.8 45.8L283.5 46.0L285.5 46.4L287.2 47.2L288.7 48.2L290.0 49.6L291.0 51.2L291.7 53.0L292.1 55.2Z" fill="none" stroke="#3aa53a" stroke-width="0.5" opacity="0.55"/>
<path d="M290.0 58.0L289.9 60.3L289.5 62.0L289.0 63.5L288.2 64.8L287.2 65.8L286.0 66.7L284.6 67.3L282.9 67.7L280.8 67.8L278.7 67.7L277.0 67.3L275.6 66.7L274.4 65.8L273.4 64.8L272.6 63.5L272.1 62.0L271.7 60.3L271.6 58.0L271.7 55.7L272.1 54.0L272.6 52.5L273.4 51.2L274.4 50.2L275.6 49.3L277.0 48.7L278.7 48.3L280.8 48.2L282.9 48.3L284.6 48.7L286.0 49.3L287.2 50.2L288.2 51.2L289.0 52.5L289.5 54.0L289.9 55.7Z" fill="none" stroke="#3aa53a" stroke-width="0.5" opacity="0.55"/>
<path d="M287.7 58.0L287.6 59.7L287.4 61.0L287.0 62.1L286.4 63.1L285.6 63.9L284.7 64.5L283.6 65.0L282.4 65.3L280.8 65.4L279.2 65.3L278.0 65.0L276.9 64.5L276.0 63.9L275.2 63.1L274.6 62.1L274.2 61.0L274.0 59.7L273.9 58.0L274.0 56.3L274.2 55.0L274.6 53.9L275.2 52.9L276.0 52.1L276.9 51.5L278.0 51.0L279.2 50.7L280.8 50.6L282.4 50.7L283.6 51.0L284.7 51.5L285.6 52.1L286.4 52.9L287.0 53.9L287.4 55.0L287.6 56.3Z" fill="none" stroke="#3aa53a" stroke-width="0.5" opacity="0.55"/>
<path d="M285.5 58.0L285.4 59.2L285.2 60.0L284.9 60.8L284.5 61.4L284.0 62.0L283.4 62.4L282.7 62.7L281.9 62.9L280.8 63.0L279.7 62.9L278.9 62.7L278.2 62.4L277.6 62.0L277.1 61.4L276.7 60.8L276.4 60.0L276.2 59.2L276.1 58.0L276.2 56.8L276.4 56.0L276.7 55.2L277.1 54.6L277.6 54.0L278.2 53.6L278.9 53.3L279.7 53.1L280.8 53.0L281.9 53.1L282.7 53.3L283.4 53.6L284.0 54.0L284.5 54.6L284.9 55.2L285.2 56.0L285.4 56.8Z" fill="none" stroke="#3aa53a" stroke-width="0.5" opacity="0.55"/>
<path d="M295.4 63.3h.7v.7h-.7zM296.1 56.3h.7v.7h-.7zM281.3 57.2h.7v.7h-.7zM324.2 62.6h.7v.7h-.7zM322.6 61.1h.7v.7h-.7zM309.1 60.6h.7v.7h-.7zM265.8 66.3h.7v.7h-.7zM311.4 63.2h.7v.7h-.7zM265.3 44.2h.7v.7h-.7zM282.1 55.0h.7v.7h-.7zM307.2 58.6h.7v.7h-.7zM311.7 53.5h.7v.7h-.7zM307.3 62.4h.7v.7h-.7zM286.9 73.6h.7v.7h-.7zM312.5 69.2h.7v.7h-.7zM287.8 52.7h.7v.7h-.7zM293.6 58.1h.7v.7h-.7zM314.1 61.1h.7v.7h-.7zM291.4 50.9h.7v.7h-.7zM289.9 69.4h.7v.7h-.7zM283.8 61.1h.7v.7h-.7zM309.8 46.3h.7v.7h-.7zM301.8 70.1h.7v.7h-.7zM258.5 56.3h.7v.7h-.7zM298.6 52.1h.7v.7h-.7zM311.2 58.5h.7v.7h-.7zM270.0 66.0h.7v.7h-.7zM314.9 67.0h.7v.7h-.7zM331.1 62.1h.7v.7h-.7zM303.3 48.0h.7v.7h-.7zM313.7 53.8h.7v.7h-.7zM291.3 48.2h.7v.7h-.7zM280.5 54.5h.7v.7h-.7zM327.9 41.7h.7v.7h-.7zM270.2 61.0h.7v.7h-.7zM331.1 63.9h.7v.7h-.7zM260.9 37.6h.7v.7h-.7zM308.3 52.7h.7v.7h-.7zM277.3 67.3h.7v.7h-.7zM323.9 60.3h.7v.7h-.7zM306.0 62.7h.7v.7h-.7zM334.3 64.3h.7v.7h-.7zM311.7 63.7h.7v.7h-.7zM267.9 69.9h.7v.7h-.7zM320.9 63.5h.7v.7h-.7zM259.3 53.6h.7v.7h-.7zM318.5 43.6h.7v.7h-.7zM296.9 67.7h.7v.7h-.7zM273.3 72.7h.7v.7h-.7zM312.4 57.7h.7v.7h-.7zM307.6 64.5h.7v.7h-.7zM303.3 68.7h.7v.7h-.7zM286.9 55.5h.7v.7h-.7zM322.7 59.2h.7v.7h-.7zM282.3 67.0h.7v.7h-.7zM331.6 55.2h.7v.7h-.7zM271.8 57.9h.7v.7h-.7zM297.7 56.5h.7v.7h-.7zM330.3 50.3h.7v.7h-.7zM327.3 48.2h.7v.7h-.7zM284.3 64.4h.7v.7h-.7zM324.5 66.3h.7v.7h-.7zM308.0 60.2h.7v.7h-.7zM304.0 63.9h.7v.7h-.7zM297.1 61.4h.7v.7h-.7zM312.8 59.0h.7v.7h-.7zM316.8 63.8h.7v.7h-.7zM343.0 61.8h.7v.7h-.7zM291.8 55.8h.7v.7h-.7zM300.5 66.9h.7v.7h-.7zM293.7 62.3h.7v.7h-.7zM339.4 37.2h.7v.7h-.7zM277.2 61.1h.7v.7h-.7zM309.2 61.0h.7v.7h-.7zM291.7 64.6h.7v.7h-.7zM306.7 54.6h.7v.7h-.7zM351.8 62.0h.7v.7h-.7zM289.2 58.2h.7v.7h-.7zM296.1 58.5h.7v.7h-.7zM322.0 49.1h.7v.7h-.7zM299.4 67.1h.7v.7h-.7zM318.8 71.7h.7v.7h-.7zM265.1 56.0h.7v.7h-.7zM293.6 64.3h.7v.7h-.7zM323.7 36.2h.7v.7h-.7zM323.7 46.7h.7v.7h-.7zM315.1 46.3h.7v.7h-.7zM304.5 69.2h.7v.7h-.7zM297.7 60.6h.7v.7h-.7zM317.5 60.2h.7v.7h-.7zM298.9 72.0h.7v.7h-.7zM322.8 56.5h.7v.7h-.7zM358.5 49.3h.7v.7h-.7zM320.0 56.7h.7v.7h-.7zM303.6 65.0h.7v.7h-.7zM305.5 64.4h.7v.7h-.7zM268.7 46.2h.7v.7h-.7zM313.7 50.8h.7v.7h-.7zM279.2 46.5h.7v.7h-.7zM327.4 65.3h.7v.7h-.7zM331.7 51.0h.7v.7h-.7zM300.8 49.3h.7v.7h-.7zM316.9 72.5h.7v.7h-.7zM282.1 72.3h.7v.7h-.7zM321.5 57.5h.7v.7h-.7zM259.4 71.0h.7v.7h-.7zM298.8 53.9h.7v.7h-.7zM309.2 62.5h.7v.7h-.7zM332.3 50.3h.7v.7h-.7zM324.7 71.6h.7v.7h-.7zM331.3 57.5h.7v.7h-.7zM285.2 67.7h.7v.7h-.7zM303.2 60.1h.7v.7h-.7zM330.7 56.8h.7v.7h-.7zM252.6 55.7h.7v.7h-.7zM261.9 66.0h.7v.7h-.7zM307.5 53.8h.7v.7h-.7zM300.6 66.1h.7v.7h-.7zM302.5 70.3h.7v.7h-.7zM299.5 67.8h.7v.7h-.7zM332.1 72.7h.7v.7h-.7zM286.7 66.5h.7v.7h-.7zM261.4 49.8h.7v.7h-.7zM259.6 68.1h.7v.7h-.7zM274.9 58.9h.7v.7h-.7zM296.8 58.8h.7v.7h-.7zM288.4 61.0h.7v.7h-.7zM338.4 59.4h.7v.7h-.7zM312.0 67.5h.7v.7h-.7zM296.6 48.3h.7v.7h-.7zM289.1 68.1h.7v.7h-.7zM266.2 53.9h.7v.7h-.7zM322.0 65.7h.7v.7h-.7zM301.0 65.8h.7v.7h-.7zM304.3 49.0h.7v.7h-.7zM268.0 53.6h.7v.7h-.7zM320.2 54.2h.7v.7h-.7zM281.9 52.4h.7v.7h-.7zM268.6 58.0h.7v.7h-.7zM276.0 62.1h.7v.7h-.7zM251.2 61.8h.7v.7h-.7zM287.3 42.5h.7v.7h-.7zM316.0 56.7h.7v.7h-.7zM254.0 51.6h.7v.7h-.7zM306.9 55.1h.7v.7h-.7zM317.2 65.4h.7v.7h-.7zM314.8 61.8h.7v.7h-.7zM328.8 64.6h.7v.7h-.7zM310.3 41.3h.7v.7h-.7zM319.6 70.1h.7v.7h-.7zM294.6 55.0h.7v.7h-.7zM341.5 44.1h.7v.7h-.7zM310.6 79.6h.7v.7h-.7zM281.3 64.9h.7v.7h-.7zM340.4 58.0h.7v.7h-.7zM312.6 66.7h.7v.7h-.7zM281.8 58.2h.7v.7h-.7zM306.9 66.0h.7v.7h-.7zM300.1 57.3h.7v.7h-.7zM279.5 55.9h.7v.7h-.7zM319.5 59.9h.7v.7h-.7zM282.9 51.8h.7v.7h-.7zM356.8 68.7h.7v.7h-.7zM314.2 37.0h.7v.7h-.7zM313.9 63.1h.7v.7h-.7zM336.2 62.6h.7v.7h-.7zM299.4 63.4h.7v.7h-.7zM260.0 67.8h.7v.7h-.7zM307.6 53.0h.7v.7h-.7zM328.6 74.4h.7v.7h-.7zM271.3 53.3h.7v.7h-.7zM306.9 60.6h.7v.7h-.7zM292.4 50.7h.7v.7h-.7zM345.3 67.8h.7v.7h-.7zM275.7 47.6h.7v.7h-.7zM336.6 67.4h.7v.7h-.7zM339.0 65.9h.7v.7h-.7zM282.5 61.2h.7v.7h-.7zM255.4 52.6h.7v.7h-.7zM299.6 63.4h.7v.7h-.7zM285.5 57.9h.7v.7h-.7zM310.4 62.2h.7v.7h-.7zM314.2 60.8h.7v.7h-.7zM294.0 65.7h.7v.7h-.7zM301.8 52.0h.7v.7h-.7zM287.7 59.0h.7v.7h-.7zM298.5 60.3h.7v.7h-.7zM300.8 60.5h.7v.7h-.7zM298.0 48.3h.7v.7h-.7zM309.6 68.0h.7v.7h-.7zM309.9 57.4h.7v.7h-.7zM310.2 50.8h.7v.7h-.7zM261.0 59.5h.7v.7h-.7zM281.3 65.3h.7v.7h-.7zM278.0 36.7h.7v.7h-.7zM279.0 72.4h.7v.7h-.7zM292.8 47.4h.7v.7h-.7zM284.8 63.4h.7v.7h-.7zM311.2 60.5h.7v.7h-.7zM332.0 65.0h.7v.7h-.7zM300.4 64.1h.7v.7h-.7zM335.5 67.3h.7v.7h-.7zM322.3 49.8h.7v.7h-.7zM297.7 65.2h.7v.7h-.7zM294.6 68.1h.7v.7h-.7zM313.3 66.7h.7v.7h-.7zM296.3 80.6h.7v.7h-.7zM326.8 57.2h.7v.7h-.7zM302.7 81.1h.7v.7h-.7zM293.6 66.4h.7v.7h-.7zM321.4 59.1h.7v.7h-.7zM276.3 60.6h.7v.7h-.7zM308.3 68.6h.7v.7h-.7zM317.2 59.2h.7v.7h-.7zM318.7 63.6h.7v.7h-.7zM305.1 59.5h.7v.7h-.7zM295.7 64.8h.7v.7h-.7zM278.7 53.7h.7v.7h-.7zM300.9 46.6h.7v.7h-.7zM291.6 41.9h.7v.7h-.7zM286.5 63.8h.7v.7h-.7zM312.7 58.5h.7v.7h-.7zM295.9 47.0h.7v.7h-.7zM339.2 63.4h.7v.7h-.7zM323.8 51.5h.7v.7h-.7zM296.9 43.5h.7v.7h-.7zM317.2 66.9h.7v.7h-.7zM261.0 58.6h.7v.7h-.7zM314.0 44.0h.7v.7h-.7zM262.5 49.9h.7v.7h-.7zM287.6 47.1h.7v.7h-.7zM301.5 61.1h.7v.7h-.7zM314.1 65.0h.7v.7h-.7zM332.4 68.9h.7v.7h-.7zM273.3 54.7h.7v.7h-.7zM278.5 49.8h.7v.7h-.7zM299.1 59.0h.7v.7h-.7zM311.1 45.5h.7v.7h-.7zM274.8 58.8h.7v.7h-.7zM296.6 56.4h.7v.7h-.7zM299.5 52.5h.7v.7h-.7zM315.5 62.0h.7v.7h-.7zM299.0 53.3h.7v.7h-.7zM297.1 35.9h.7v.7h-.7zM280.2 59.3h.7v.7h-.7zM269.2 60.7h.7v.7h-.7zM303.9 47.3h.7v.7h-.7zM295.5 56.3h.7v.7h-.7zM310.5 64.2h.7v.7h-.7zM300.0 51.8h.7v.7h-.7zM297.8 58.4h.7v.7h-.7zM316.2 61.5h.7v.7h-.7zM285.6 47.5h.7v.7h-.7zM293.0 52.7h.7v.7h-.7zM277.5 58.0h.7v.7h-.7zM290.5 59.9h.7v.7h-.7zM311.8 55.5h.7v.7h-.7zM349.6 56.3h.7v.7h-.7zM323.9 60.0h.7v.7h-.7zM324.2 38.8h.7v.7h-.7zM285.0 61.1h.7v.7h-.7zM313.5 78.9h.7v.7h-.7zM307.6 69.9h.7v.7h-.7zM316.9 67.1h.7v.7h-.7zM311.5 57.7h.7v.7h-.7zM311.5 49.8h.7v.7h-.7zM325.6 50.4h.7v.7h-.7zM306.0 77.0h.7v.7h-.7zM296.1 59.2h.7v.7h-.7zM325.2 59.2h.7v.7h-.7zM283.8 61.2h.7v.7h-.7zM313.0 65.0h.7v.7h-.7zM284.6 73.9h.7v.7h-.7zM335.8 59.2h.7v.7h-.7zM306.4 55.4h.7v.7h-.7zM330.5 53.0h.7v.7h-.7zM315.0 54.9h.7v.7h-.7zM286.2 65.1h.7v.7h-.7zM328.8 58.9h.7v.7h-.7zM286.6 65.9h.7v.7h-.7zM299.8 61.6h.7v.7h-.7zM332.8 68.6h.7v.7h-.7zM289.9 78.4h.7v.7h-.7zM300.9 65.7h.7v.7h-.7zM287.2 58.6h.7v.7h-.7zM264.1 74.2h.7v.7h-.7zM329.5 48.7h.7v.7h-.7zM269.2 45.2h.7v.7h-.7zM325.5 55.1h.7v.7h-.7zM299.5 56.3h.7v.7h-.7zM298.3 49.8h.7v.7h-.7zM301.3 46.8h.7v.7h-.7zM299.3 61.6h.7v.7h-.7zM310.6 57.0h.7v.7h-.7zM281.8 60.4h.7v.7h-.7zM290.6 72.3h.7v.7h-.7zM316.9 58.0h.7v.7h-.7zM290.9 53.0h.7v.7h-.7zM281.1 56.0h.7v.7h-.7zM283.0 64.4h.7v.7h-.7zM286.1 81.0h.7v.7h-.7zM272.0 59.1h.7v.7h-.7zM310.5 39.4h.7v.7h-.7zM274.1 60.8h.7v.7h-.7zM281.5 63.3h.7v.7h-.7zM277.2 62.8h.7v.7h-.7zM280.4 67.1h.7v.7h-.7zM259.0 49.7h.7v.7h-.7zM279.8 48.2h.7v.7h-.7zM268.3 65.6h.7v.7h-.7zM272.7 65.7h.7v.7h-.7zM288.0 62.2h.7v.7h-.7zM285.4 57.9h.7v.7h-.7zM264.3 58.7h.7v.7h-.7zM284.8 53.4h.7v.7h-.7zM278.7 66.9h.7v.7h-.7zM270.1 65.7h.7v.7h-.7zM300.3 53.2h.7v.7h-.7zM281.4 57.4h.7v.7h-.7zM296.7 62.3h.7v.7h-.7zM289.7 51.8h.7v.7h-.7zM279.6 58.9h.7v.7h-.7zM260.3 74.1h.7v.7h-.7zM289.7 40.6h.7v.7h-.7zM288.0 57.6h.7v.7h-.7zM284.7 62.8h.7v.7h-.7zM263.3 56.8h.7v.7h-.7zM296.2 53.0h.7v.7h-.7zM268.5 44.7h.7v.7h-.7zM266.4 62.5h.7v.7h-.7zM298.4 63.5h.7v.7h-.7zM282.5 82.5h.7v.7h-.7zM274.1 51.9h.7v.7h-.7zM285.6 64.8h.7v.7h-.7zM268.6 46.7h.7v.7h-.7zM283.0 61.6h.7v.7h-.7zM265.4 56.9h.7v.7h-.7zM273.8 63.8h.7v.7h-.7zM278.5 58.1h.7v.7h-.7zM275.9 70.1h.7v.7h-.7zM295.1 55.1h.7v.7h-.7zM289.1 51.0h.7v.7h-.7zM280.6 66.9h.7v.7h-.7zM296.5 55.0h.7v.7h-.7zM279.0 61.1h.7v.7h-.7zM263.3 59.2h.7v.7h-.7zM272.4 62.9h.7v.7h-.7zM267.4 38.2h.7v.7h-.7zM280.2 61.7h.7v.7h-.7zM273.8 68.3h.7v.7h-.7zM276.8 52.6h.7v.7h-.7zM285.1 42.5h.7v.7h-.7zM272.3 58.8h.7v.7h-.7zM289.1 57.3h.7v.7h-.7zM283.2 52.1h.7v.7h-.7zM283.1 76.5h.7v.7h-.7zM272.2 83.8h.7v.7h-.7zM272.7 59.2h.7v.7h-.7zM281.7 69.8h.7v.7h-.7zM266.2 36.9h.7v.7h-.7zM286.5 67.4h.7v.7h-.7zM282.1 61.7h.7v.7h-.7zM290.0 62.9h.7v.7h-.7zM298.1 46.0h.7v.7h-.7zM275.7 22.8h.7v.7h-.7zM288.7 55.1h.7v.7h-.7zM290.0 81.6h.7v.7h-.7zM279.7 56.3h.7v.7h-.7zM274.3 50.2h.7v.7h-.7zM272.9 65.7h.7v.7h-.7zM280.2 59.7h.7v.7h-.7zM277.9 68.6h.7v.7h-.7zM285.2 57.5h.7v.7h-.7zM287.1 57.4h.7v.7h-.7zM267.1 74.3h.7v.7h-.7zM284.9 48.9h.7v.7h-.7zM291.7 62.6h.7v.7h-.7zM262.6 75.9h.7v.7h-.7zM283.5 68.4h.7v.7h-.7zM282.0 57.4h.7v.7h-.7zM262.8 69.2h.7v.7h-.7zM280.1 56.0h.7v.7h-.7zM283.7 59.8h.7v.7h-.7zM287.2 55.1h.7v.7h-.7zM279.4 36.5h.7v.7h-.7zM275.1 66.1h.7v.7h-.7zM294.5 55.2h.7v.7h-.7zM278.5 75.6h.7v.7h-.7zM276.2 66.7h.7v.7h-.7zM298.3 59.4h.7v.7h-.7zM293.3 51.5h.7v.7h-.7zM282.1 58.2h.7v.7h-.7zM281.1 70.9h.7v.7h-.7zM306.1 52.0h.7v.7h-.7zM273.5 64.2h.7v.7h-.7zM268.2 64.2h.7v.7h-.7zM286.1 56.1h.7v.7h-.7zM285.6 42.7h.7v.7h-.7zM288.2 42.8h.7v.7h-.7zM272.1 53.2h.7v.7h-.7zM275.4 68.0h.7v.7h-.7zM280.7 54.8h.7v.7h-.7zM285.8 75.6h.7v.7h-.7zM279.9 62.8h.7v.7h-.7zM293.4 61.8h.7v.7h-.7zM265.7 85.1h.7v.7h-.7zM304.1 38.2h.7v.7h-.7zM279.4 63.4h.7v.7h-.7zM290.4 66.0h.7v.7h-.7zM276.8 47.9h.7v.7h-.7zM280.9 69.9h.7v.7h-.7zM267.8 48.2h.7v.7h-.7zM279.5 38.7h.7v.7h-.7zM276.9 54.4h.7v.7h-.7zM284.8 51.6h.7v.7h-.7zM270.1 54.9h.7v.7h-.7zM279.3 52.0h.7v.7h-.7zM279.9 66.9h.7v.7h-.7zM292.8 76.9h.7v.7h-.7zM271.2 54.6h.7v.7h-.7zM252.5 78.9h.7v.7h-.7zM271.8 58.6h.7v.7h-.7zM285.5 44.7h.7v.7h-.7zM284.9 58.7h.7v.7h-.7zM259.7 62.1h.7v.7h-.7zM292.9 39.4h.7v.7h-.7zM288.7 61.2h.7v.7h-.7zM285.0 63.6h.7v.7h-.7zM294.1 56.7h.7v.7h-.7zM289.4 54.7h.7v.7h-.7zM287.8 50.5h.7v.7h-.7zM278.6 77.2h.7v.7h-.7zM284.7 57.3h.7v.7h-.7zM267.2 50.7h.7v.7h-.7zM281.9 68.9h.7v.7h-.7zM284.5 64.5h.7v.7h-.7zM279.3 73.2h.7v.7h-.7zM275.5 53.2h.7v.7h-.7zM289.6 59.7h.7v.7h-.7zM276.7 53.0h.7v.7h-.7zM277.0 65.5h.7v.7h-.7zM283.7 46.3h.7v.7h-.7zM284.5 60.9h.7v.7h-.7zM268.8 67.1h.7v.7h-.7zM276.7 55.5h.7v.7h-.7zM288.6 72.9h.7v.7h-.7zM272.2 63.6h.7v.7h-.7zM270.2 83.3h.7v.7h-.7zM274.4 71.5h.7v.7h-.7zM272.7 67.5h.7v.7h-.7zM304.2 32.3h.7v.7h-.7zM275.0 64.3h.7v.7h-.7zM278.8 52.0h.7v.7h-.7zM303.5 59.8h.7v.7h-.7zM261.7 68.0h.7v.7h-.7zM260.9 71.1h.7v.7h-.7zM273.4 60.5h.7v.7h-.7zM293.7 60.2h.7v.7h-.7zM264.5 41.2h.7v.7h-.7zM292.8 66.8h.7v.7h-.7zM270.8 68.0h.7v.7h-.7zM285.3 65.8h.7v.7h-.7zM255.0 55.8h.7v.7h-.7zM289.7 66.7h.7v.7h-.7zM289.5 33.2h.7v.7h-.7zM281.7 64.2h.7v.7h-.7zM307.9 49.0h.7v.7h-.7zM276.2 59.4h.7v.7h-.7zM289.5 54.3h.7v.7h-.7zM292.4 50.7h.7v.7h-.7zM282.7 53.5h.7v.7h-.7zM281.5 51.7h.7v.7h-.7zM262.2 70.5h.7v.7h-.7zM283.1 53.1h.7v.7h-.7zM282.0 69.4h.7v.7h-.7zM269.0 57.8h.7v.7h-.7zM285.7 64.5h.7v.7h-.7zM276.1 36.9h.7v.7h-.7zM293.5 62.4h.7v.7h-.7zM279.9 56.1h.7v.7h-.7zM282.7 54.5h.7v.7h-.7zM268.5 51.2h.7v.7h-.7zM273.2 52.6h.7v.7h-.7zM267.1 65.7h.7v.7h-.7zM265.4 65.9h.7v.7h-.7zM268.6 62.7h.7v.7h-.7zM294.9 61.1h.7v.7h-.7zM271.8 59.5h.7v.7h-.7zM281.4 40.8h.7v.7h-.7zM273.1 60.7h.7v.7h-.7zM274.6 59.8h.7v.7h-.7zM287.9 67.0h.7v.7h-.7zM289.8 65.2h.7v.7h-.7zM276.6 58.8h.7v.7h-.7zM276.8 55.7h.7v.7h-.7zM277.8 40.9h.7v.7h-.7zM276.1 58.7h.7v.7h-.7zM269.1 58.7h.7v.7h-.7zM285.5 57.3h.7v.7h-.7zM302.6 31.6h.7v.7h-.7zM277.5 39.8h.7v.7h-.7zM252.3 60.3h.7v.7h-.7zM285.5 55.8h.7v.7h-.7zM285.9 35.4h.7v.7h-.7zM289.2 62.9h.7v.7h-.7zM280.1 52.8h.7v.7h-.7zM286.8 53.9h.7v.7h-.7zM282.3 53.6h.7v.7h-.7zM255.1 58.7h.7v.7h-.7zM282.0 66.9h.7v.7h-.7zM270.2 58.7h.7v.7h-.7zM286.6 60.5h.7v.7h-.7zM293.5 79.9h.7v.7h-.7zM269.8 38.8h.7v.7h-.7zM289.2 75.1h.7v.7h-.7zM289.9 67.5h.7v.7h-.7zM273.0 51.5h.7v.7h-.7zM289.6 49.4h.7v.7h-.7zM259.9 48.5h.7v.7h-.7zM307.2 79.2h.7v.7h-.7zM272.2 51.3h.7v.7h-.7zM282.3 51.1h.7v.7h-.7zM294.2 58.2h.7v.7h-.7zM267.9 72.7h.7v.7h-.7zM273.4 61.3h.7v.7h-.7zM279.7 55.7h.7v.7h-.7zM283.4 51.7h.7v.7h-.7zM259.5 35.8h.7v.7h-.7zM265.9 51.0h.7v.7h-.7zM279.5 59.6h.7v.7h-.7zM285.9 60.3h.7v.7h-.7zM271.1 51.6h.7v.7h-.7zM256.5 57.2h.7v.7h-.7zM285.1 64.6h.7v.7h-.7zM278.5 57.2h.7v.7h-.7zM290.1 59.2h.7v.7h-.7zM287.9 65.1h.7v.7h-.7zM282.1 72.7h.7v.7h-.7zM273.5 55.2h.7v.7h-.7zM270.9 50.6h.7v.7h-.7zM296.9 77.5h.7v.7h-.7zM280.1 65.0h.7v.7h-.7zM292.7 67.5h.7v.7h-.7zM293.1 45.7h.7v.7h-.7zM272.8 63.8h.7v.7h-.7zM295.6 60.1h.7v.7h-.7zM270.4 55.3h.7v.7h-.7z" fill="#3aa53a" opacity="0.78"/>
<path d="M298.40 88.40V28.80H386.50V88.40" fill="none" stroke="#222" stroke-width="0.9"/>
<text x="250.50" y="33.30" font-size="14" fill="#111">35.8</text>
<line x1="246.30" y1="19.00" x2="246.30" y2="88.40" stroke="#777" stroke-width="0.8"/>
<line x1="243.30" y1="19.30" x2="246.30" y2="19.30" stroke="#222" stroke-width="1.2"/>
<text x="230.30" y="27.60" font-size="5.4" fill="#777">10</text>
<text x="236.70" y="24.20" font-size="4.4" fill="#777">5</text>
<line x1="243.30" y1="53.50" x2="246.30" y2="53.50" stroke="#222" stroke-width="1.2"/>
<text x="230.30" y="57.10" font-size="5.4" fill="#777">10</text>
<text x="236.70" y="53.70" font-size="4.4" fill="#777">4</text>
<line x1="243.30" y1="88.10" x2="246.30" y2="88.10" stroke="#222" stroke-width="1.2"/>
<text x="230.30" y="87.80" font-size="5.4" fill="#777">10</text>
<text x="236.70" y="84.40" font-size="4.4" fill="#777">3</text>
<line x1="244.50" y1="43.17" x2="246.30" y2="43.17" stroke="#555" stroke-width="0.6"/>
<line x1="244.50" y1="37.13" x2="246.30" y2="37.13" stroke="#555" stroke-width="0.6"/>
<line x1="244.50" y1="32.85" x2="246.30" y2="32.85" stroke="#555" stroke-width="0.6"/>
<line x1="244.50" y1="29.53" x2="246.30" y2="29.53" stroke="#555" stroke-width="0.6"/>
<line x1="244.50" y1="26.81" x2="246.30" y2="26.81" stroke="#555" stroke-width="0.6"/>
<line x1="244.50" y1="24.51" x2="246.30" y2="24.51" stroke="#555" stroke-width="0.6"/>
<line x1="244.50" y1="22.52" x2="246.30" y2="22.52" stroke="#555" stroke-width="0.6"/>
<line x1="244.50" y1="20.77" x2="246.30" y2="20.77" stroke="#555" stroke-width="0.6"/>
<line x1="244.50" y1="78.07" x2="246.30" y2="78.07" stroke="#555" stroke-width="0.6"/>
<line x1="244.50" y1="72.03" x2="246.30" y2="72.03" stroke="#555" stroke-width="0.6"/>
<line x1="244.50" y1="67.75" x2="246.30" y2="67.75" stroke="#555" stroke-width="0.6"/>
<line x1="244.50" y1="64.43" x2="246.30" y2="64.43" stroke="#555" stroke-width="0.6"/>
<line x1="244.50" y1="61.71" x2="246.30" y2="61.71" stroke="#555" stroke-width="0.6"/>
<line x1="244.50" y1="59.41" x2="246.30" y2="59.41" stroke="#555" stroke-width="0.6"/>
<line x1="244.50" y1="57.42" x2="246.30" y2="57.42" stroke="#555" stroke-width="0.6"/>
<line x1="244.50" y1="55.67" x2="246.30" y2="55.67" stroke="#555" stroke-width="0.6"/>
<rect x="246.30" y="88.40" width="140.20" height="69.00" fill="none" stroke="#c4c4c4" stroke-width="0.8"/>
<line x1="246.90" y1="88.40" x2="387.10" y2="88.40" stroke="#fff" stroke-width="1.2"/>
<ellipse cx="278.8" cy="129.0" rx="21.0" ry="23" fill="url(#g01)"/>
<ellipse cx="278.8" cy="129.0" rx="10.5" ry="12.0" fill="#c8b39e" opacity="0.35"/>
<path d="M297.3 129.3L297.1 133.9L296.4 137.5L295.3 140.5L293.8 143.1L291.9 145.3L289.6 147.0L287.0 148.3L283.9 149.0L279.8 149.3L275.7 149.0L272.6 148.3L270.0 147.0L267.7 145.3L265.8 143.1L264.3 140.5L263.2 137.5L262.5 133.9L262.3 129.3L262.5 124.7L263.2 121.1L264.3 118.1L265.8 115.5L267.7 113.3L270.0 111.6L272.6 110.3L275.7 109.6L279.8 109.3L283.9 109.6L287.0 110.3L289.6 111.6L291.9 113.3L293.8 115.5L295.3 118.1L296.4 121.1L297.1 124.7Z" fill="none" stroke="#8a6a4c" stroke-width="0.45" opacity="0.6"/>
<path d="M296.0 129.3L295.8 133.6L295.2 136.9L294.2 139.7L292.8 142.2L291.0 144.2L288.9 145.8L286.4 147.0L283.5 147.7L279.7 147.9L275.9 147.7L273.1 147.0L270.6 145.8L268.5 144.2L266.7 142.2L265.3 139.7L264.3 136.9L263.7 133.6L263.5 129.3L263.7 125.0L264.3 121.7L265.3 118.9L266.7 116.4L268.5 114.4L270.6 112.8L273.1 111.6L275.9 110.9L279.7 110.7L283.5 110.9L286.4 111.6L288.9 112.8L291.0 114.4L292.8 116.4L294.2 118.9L295.2 121.7L295.8 125.0Z" fill="none" stroke="#8a6a4c" stroke-width="0.45" opacity="0.6"/>
<path d="M294.7 129.3L294.5 133.3L293.9 136.3L293.0 139.0L291.7 141.2L290.1 143.1L288.1 144.6L285.8 145.6L283.2 146.3L279.7 146.5L276.2 146.3L273.5 145.6L271.2 144.6L269.2 143.1L267.6 141.2L266.3 139.0L265.4 136.3L264.8 133.3L264.6 129.3L264.8 125.3L265.4 122.3L266.3 119.6L267.6 117.4L269.2 115.5L271.2 114.0L273.5 113.0L276.2 112.3L279.7 112.1L283.2 112.3L285.8 113.0L288.1 114.0L290.1 115.5L291.7 117.4L293.0 119.6L293.9 122.3L294.5 125.3Z" fill="none" stroke="#8a6a4c" stroke-width="0.45" opacity="0.6"/>
<path d="M293.4 129.3L293.2 133.0L292.7 135.8L291.9 138.2L290.7 140.2L289.2 142.0L287.3 143.3L285.2 144.3L282.8 144.9L279.6 145.1L276.4 144.9L273.9 144.3L271.8 143.3L270.0 142.0L268.5 140.2L267.3 138.2L266.5 135.8L265.9 133.0L265.8 129.3L265.9 125.6L266.5 122.8L267.3 120.4L268.5 118.4L270.0 116.6L271.8 115.3L273.9 114.3L276.4 113.7L279.6 113.5L282.8 113.7L285.2 114.3L287.3 115.3L289.2 116.6L290.7 118.4L291.9 120.4L292.7 122.8L293.2 125.6Z" fill="none" stroke="#8a6a4c" stroke-width="0.45" opacity="0.6"/>
<path d="M292.1 129.3L292.0 132.6L291.5 135.2L290.7 137.4L289.6 139.3L288.2 140.8L286.6 142.1L284.7 143.0L282.4 143.5L279.5 143.7L276.6 143.5L274.4 143.0L272.4 142.1L270.8 140.8L269.4 139.3L268.3 137.4L267.6 135.2L267.1 132.6L266.9 129.3L267.1 126.0L267.6 123.4L268.3 121.2L269.4 119.3L270.8 117.8L272.4 116.5L274.4 115.6L276.6 115.1L279.5 114.9L282.4 115.1L284.7 115.6L286.6 116.5L288.2 117.8L289.6 119.3L290.7 121.2L291.5 123.4L292.0 126.0Z" fill="none" stroke="#8a6a4c" stroke-width="0.45" opacity="0.6"/>
<path d="M290.8 129.3L290.7 132.3L290.3 134.6L289.5 136.6L288.6 138.3L287.3 139.7L285.8 140.8L284.1 141.6L282.1 142.1L279.5 142.3L276.8 142.1L274.8 141.6L273.1 140.8L271.6 139.7L270.3 138.3L269.4 136.6L268.6 134.6L268.2 132.3L268.1 129.3L268.2 126.3L268.6 124.0L269.4 122.0L270.3 120.3L271.6 118.9L273.1 117.8L274.8 117.0L276.8 116.5L279.4 116.3L282.1 116.5L284.1 117.0L285.8 117.8L287.3 118.9L288.6 120.3L289.5 122.0L290.3 124.0L290.7 126.3Z" fill="none" stroke="#8a6a4c" stroke-width="0.45" opacity="0.5"/>
<path d="M289.5 129.3L289.4 132.0L289.0 134.0L288.4 135.8L287.5 137.3L286.4 138.6L285.1 139.6L283.5 140.3L281.7 140.8L279.4 140.9L277.0 140.8L275.2 140.3L273.7 139.6L272.4 138.6L271.3 137.3L270.4 135.8L269.7 134.0L269.4 132.0L269.2 129.3L269.4 126.6L269.7 124.6L270.4 122.8L271.3 121.3L272.4 120.0L273.7 119.0L275.2 118.3L277.0 117.8L279.4 117.7L281.7 117.8L283.5 118.3L285.1 119.0L286.4 120.0L287.5 121.3L288.4 122.8L289.0 124.6L289.4 126.6Z" fill="none" stroke="#8a6a4c" stroke-width="0.45" opacity="0.5"/>
<path d="M288.2 129.3L288.1 131.7L287.8 133.5L287.2 135.0L286.5 136.4L285.5 137.5L284.3 138.3L283.0 139.0L281.4 139.4L279.3 139.5L277.2 139.4L275.7 139.0L274.3 138.3L273.1 137.5L272.2 136.4L271.4 135.0L270.8 133.5L270.5 131.7L270.4 129.3L270.5 126.9L270.8 125.1L271.4 123.6L272.2 122.2L273.1 121.1L274.3 120.3L275.7 119.6L277.2 119.2L279.3 119.1L281.4 119.2L283.0 119.6L284.3 120.3L285.5 121.1L286.5 122.2L287.2 123.6L287.8 125.1L288.1 126.9Z" fill="none" stroke="#8a6a4c" stroke-width="0.45" opacity="0.5"/>
<path d="M286.9 129.3L286.8 131.3L286.6 132.9L286.1 134.2L285.4 135.4L284.6 136.3L283.6 137.1L282.4 137.7L281.0 138.0L279.2 138.1L277.4 138.0L276.1 137.7L274.9 137.1L273.9 136.3L273.1 135.4L272.4 134.2L271.9 132.9L271.6 131.3L271.5 129.3L271.6 127.3L271.9 125.7L272.4 124.4L273.1 123.2L273.9 122.3L274.9 121.5L276.1 120.9L277.4 120.6L279.2 120.5L281.0 120.6L282.4 120.9L283.6 121.5L284.6 122.3L285.4 123.2L286.1 124.4L286.6 125.7L286.8 127.3Z" fill="none" stroke="#8a6a4c" stroke-width="0.45" opacity="0.5"/>
<path d="M285.6 129.3L285.6 131.0L285.3 132.3L284.9 133.5L284.4 134.4L283.7 135.2L282.8 135.9L281.8 136.3L280.7 136.6L279.2 136.7L277.7 136.6L276.5 136.3L275.5 135.9L274.7 135.2L274.0 134.4L273.4 133.5L273.0 132.3L272.8 131.0L272.7 129.3L272.8 127.6L273.0 126.3L273.4 125.1L274.0 124.2L274.7 123.4L275.5 122.7L276.5 122.3L277.7 122.0L279.2 121.9L280.7 122.0L281.8 122.3L282.8 122.7L283.7 123.4L284.4 124.2L284.9 125.1L285.3 126.3L285.6 127.6Z" fill="none" stroke="#8a6a4c" stroke-width="0.45" opacity="0.5"/>
<path d="M284.4 129.3L284.3 130.7L284.1 131.8L283.8 132.7L283.3 133.5L282.7 134.1L282.0 134.6L281.2 135.0L280.3 135.2L279.1 135.3L277.9 135.2L277.0 135.0L276.2 134.6L275.5 134.1L274.9 133.5L274.4 132.7L274.1 131.8L273.9 130.7L273.9 129.3L273.9 127.9L274.1 126.8L274.4 125.9L274.9 125.1L275.5 124.5L276.2 124.0L277.0 123.6L277.9 123.4L279.1 123.3L280.3 123.4L281.2 123.6L282.0 124.0L282.7 124.5L283.3 125.1L283.8 125.9L284.1 126.8L284.3 127.9Z" fill="none" stroke="#8a6a4c" stroke-width="0.45" opacity="0.5"/>
<path d="M283.1 129.3L283.0 130.4L282.9 131.2L282.6 131.9L282.3 132.5L281.8 133.0L281.3 133.4L280.7 133.7L280.0 133.8L279.0 133.9L278.1 133.8L277.4 133.7L276.8 133.4L276.2 133.0L275.8 132.5L275.5 131.9L275.2 131.2L275.1 130.4L275.0 129.3L275.1 128.2L275.2 127.4L275.5 126.7L275.8 126.1L276.2 125.6L276.8 125.2L277.4 124.9L278.1 124.8L279.0 124.7L280.0 124.8L280.7 124.9L281.3 125.2L281.8 125.6L282.3 126.1L282.6 126.7L282.9 127.4L283.0 128.2Z" fill="none" stroke="#8a6a4c" stroke-width="0.45" opacity="0.5"/>
<path d="M293.6 129.5L293.4 133.2L292.9 136.0L292.0 138.5L290.8 140.6L289.3 142.3L287.5 143.7L285.3 144.7L282.9 145.3L279.6 145.5L276.3 145.3L273.9 144.7L271.7 143.7L269.9 142.3L268.4 140.6L267.2 138.5L266.3 136.0L265.8 133.2L265.6 129.5L265.8 125.8L266.3 123.0L267.2 120.5L268.4 118.4L269.9 116.7L271.7 115.3L273.9 114.3L276.3 113.7L279.6 113.5L282.9 113.7L285.3 114.3L287.5 115.3L289.3 116.7L290.8 118.4L292.0 120.5L292.9 123.0L293.4 125.8Z" fill="none" stroke="#fff" stroke-width="1.1" opacity="0.85"/>
<path d="M287.2 129.5L287.1 131.6L286.8 133.2L286.3 134.6L285.6 135.7L284.7 136.7L283.7 137.5L282.5 138.0L281.1 138.4L279.3 138.5L277.5 138.4L276.1 138.0L274.9 137.5L273.9 136.7L273.0 135.7L272.3 134.6L271.8 133.2L271.5 131.6L271.4 129.5L271.5 127.4L271.8 125.8L272.3 124.4L273.0 123.3L273.9 122.3L274.9 121.5L276.1 121.0L277.5 120.6L279.3 120.5L281.1 120.6L282.5 121.0L283.7 121.5L284.7 122.3L285.6 123.3L286.3 124.4L286.8 125.8L287.1 127.4Z" fill="none" stroke="#fff" stroke-width="0.7" opacity="0.7"/>
<ellipse cx="279.3" cy="128.0" rx="2.2" ry="3" fill="#fff" opacity="0.8"/>
<path d="M272.3 119.7h.7v.7h-.7zM293.5 122.2h.7v.7h-.7zM279.0 152.4h.7v.7h-.7zM290.4 132.6h.7v.7h-.7zM272.8 133.4h.7v.7h-.7zM294.7 135.7h.7v.7h-.7zM291.2 130.1h.7v.7h-.7zM283.9 126.8h.7v.7h-.7zM283.0 143.0h.7v.7h-.7zM264.8 128.3h.7v.7h-.7zM281.2 122.8h.7v.7h-.7zM275.8 137.5h.7v.7h-.7zM298.4 135.8h.7v.7h-.7zM282.0 112.2h.7v.7h-.7zM297.7 129.8h.7v.7h-.7zM278.5 116.9h.7v.7h-.7zM278.2 117.2h.7v.7h-.7zM279.5 134.0h.7v.7h-.7zM279.1 132.0h.7v.7h-.7zM270.5 144.4h.7v.7h-.7zM272.4 109.4h.7v.7h-.7zM277.0 120.8h.7v.7h-.7zM268.9 125.2h.7v.7h-.7zM281.7 116.2h.7v.7h-.7zM277.5 144.4h.7v.7h-.7zM285.5 127.4h.7v.7h-.7zM280.1 127.7h.7v.7h-.7zM278.3 136.9h.7v.7h-.7zM277.9 103.0h.7v.7h-.7zM278.6 119.4h.7v.7h-.7zM285.2 122.4h.7v.7h-.7zM280.3 152.5h.7v.7h-.7zM268.5 116.9h.7v.7h-.7zM265.0 103.1h.7v.7h-.7zM260.4 132.9h.7v.7h-.7zM272.5 108.8h.7v.7h-.7zM264.3 135.7h.7v.7h-.7zM271.2 125.0h.7v.7h-.7zM282.0 143.6h.7v.7h-.7zM297.8 140.2h.7v.7h-.7zM280.2 131.0h.7v.7h-.7zM296.5 144.4h.7v.7h-.7zM275.8 133.9h.7v.7h-.7zM281.6 129.6h.7v.7h-.7zM273.9 114.7h.7v.7h-.7zM273.6 112.3h.7v.7h-.7zM290.8 134.8h.7v.7h-.7zM267.0 144.1h.7v.7h-.7zM287.5 108.4h.7v.7h-.7zM296.8 137.7h.7v.7h-.7zM299.0 115.7h.7v.7h-.7zM284.0 133.6h.7v.7h-.7zM280.8 130.8h.7v.7h-.7zM289.1 112.9h.7v.7h-.7zM266.6 113.9h.7v.7h-.7zM273.3 122.5h.7v.7h-.7zM282.4 131.9h.7v.7h-.7zM279.1 121.7h.7v.7h-.7zM274.5 139.3h.7v.7h-.7zM286.3 130.1h.7v.7h-.7zM275.6 145.8h.7v.7h-.7zM273.0 136.0h.7v.7h-.7zM290.1 126.1h.7v.7h-.7zM286.9 117.0h.7v.7h-.7zM288.7 131.2h.7v.7h-.7zM263.3 136.2h.7v.7h-.7zM270.1 142.8h.7v.7h-.7zM272.1 127.2h.7v.7h-.7zM281.6 125.4h.7v.7h-.7zM281.3 123.0h.7v.7h-.7zM285.4 129.1h.7v.7h-.7zM280.9 99.3h.7v.7h-.7zM290.2 129.3h.7v.7h-.7zM261.3 130.0h.7v.7h-.7zM283.4 140.6h.7v.7h-.7zM268.2 145.7h.7v.7h-.7zM277.2 154.9h.7v.7h-.7zM277.4 136.3h.7v.7h-.7zM275.2 116.9h.7v.7h-.7zM289.5 138.8h.7v.7h-.7zM293.9 138.3h.7v.7h-.7zM273.2 111.0h.7v.7h-.7zM272.4 121.7h.7v.7h-.7zM270.8 135.3h.7v.7h-.7zM282.0 126.1h.7v.7h-.7zM280.5 127.4h.7v.7h-.7zM280.9 137.1h.7v.7h-.7zM288.2 121.6h.7v.7h-.7zM264.0 144.4h.7v.7h-.7zM279.9 140.9h.7v.7h-.7zM262.7 125.4h.7v.7h-.7zM279.1 113.4h.7v.7h-.7zM273.7 136.8h.7v.7h-.7zM289.4 146.2h.7v.7h-.7zM270.3 113.9h.7v.7h-.7zM283.9 139.2h.7v.7h-.7zM280.7 114.9h.7v.7h-.7zM286.5 137.6h.7v.7h-.7zM284.2 123.7h.7v.7h-.7zM281.8 137.5h.7v.7h-.7zM273.3 109.1h.7v.7h-.7zM282.0 134.2h.7v.7h-.7zM278.9 138.6h.7v.7h-.7zM273.1 128.1h.7v.7h-.7zM275.8 135.2h.7v.7h-.7zM294.4 126.3h.7v.7h-.7zM298.9 145.5h.7v.7h-.7zM286.5 135.3h.7v.7h-.7zM296.2 127.1h.7v.7h-.7zM277.7 117.5h.7v.7h-.7zM283.4 143.5h.7v.7h-.7zM284.0 133.6h.7v.7h-.7zM276.8 130.8h.7v.7h-.7zM264.8 140.3h.7v.7h-.7zM274.8 117.1h.7v.7h-.7zM271.4 120.1h.7v.7h-.7zM287.2 140.4h.7v.7h-.7zM265.5 139.0h.7v.7h-.7zM287.5 122.7h.7v.7h-.7zM264.2 120.9h.7v.7h-.7zM272.6 132.7h.7v.7h-.7zM275.3 107.1h.7v.7h-.7zM281.1 112.4h.7v.7h-.7zM287.7 116.0h.7v.7h-.7zM272.0 119.8h.7v.7h-.7zM273.5 143.0h.7v.7h-.7zM287.1 135.5h.7v.7h-.7zM281.9 112.3h.7v.7h-.7zM273.7 123.0h.7v.7h-.7zM269.2 134.5h.7v.7h-.7zM271.5 121.3h.7v.7h-.7zM268.6 106.8h.7v.7h-.7zM284.6 143.4h.7v.7h-.7zM280.5 118.5h.7v.7h-.7zM252.3 130.9h.7v.7h-.7zM290.7 132.2h.7v.7h-.7zM287.9 145.0h.7v.7h-.7zM289.8 124.2h.7v.7h-.7zM289.1 137.4h.7v.7h-.7zM263.7 124.6h.7v.7h-.7zM264.8 127.8h.7v.7h-.7zM284.5 117.5h.7v.7h-.7zM258.7 143.0h.7v.7h-.7zM282.5 144.9h.7v.7h-.7zM265.8 140.5h.7v.7h-.7zM299.1 150.7h.7v.7h-.7zM276.7 131.9h.7v.7h-.7zM277.3 139.8h.7v.7h-.7zM289.0 129.9h.7v.7h-.7zM265.5 137.0h.7v.7h-.7zM274.2 135.8h.7v.7h-.7zM281.4 146.5h.7v.7h-.7zM289.9 124.1h.7v.7h-.7zM282.2 148.1h.7v.7h-.7zM273.5 133.7h.7v.7h-.7zM290.5 142.6h.7v.7h-.7zM283.9 114.7h.7v.7h-.7zM266.4 131.7h.7v.7h-.7zM270.4 141.3h.7v.7h-.7zM286.4 110.9h.7v.7h-.7zM270.8 130.8h.7v.7h-.7zM274.0 127.3h.7v.7h-.7zM283.4 120.3h.7v.7h-.7zM283.4 122.1h.7v.7h-.7zM273.5 134.8h.7v.7h-.7zM273.2 132.1h.7v.7h-.7zM294.5 129.3h.7v.7h-.7zM277.4 136.9h.7v.7h-.7zM275.2 140.7h.7v.7h-.7zM266.2 135.7h.7v.7h-.7zM273.8 120.4h.7v.7h-.7zM296.1 119.8h.7v.7h-.7zM296.0 136.1h.7v.7h-.7zM293.0 118.5h.7v.7h-.7zM290.5 144.7h.7v.7h-.7zM277.7 127.6h.7v.7h-.7zM302.9 130.9h.7v.7h-.7zM274.7 122.2h.7v.7h-.7zM283.2 132.6h.7v.7h-.7zM280.5 147.6h.7v.7h-.7zM275.6 134.1h.7v.7h-.7zM293.1 118.2h.7v.7h-.7zM289.0 148.8h.7v.7h-.7zM265.5 117.1h.7v.7h-.7zM268.6 109.1h.7v.7h-.7zM283.2 109.0h.7v.7h-.7zM283.7 144.7h.7v.7h-.7zM263.0 125.6h.7v.7h-.7zM260.0 137.4h.7v.7h-.7zM271.6 126.1h.7v.7h-.7zM279.3 134.9h.7v.7h-.7zM275.4 129.2h.7v.7h-.7zM273.4 130.2h.7v.7h-.7zM267.3 129.7h.7v.7h-.7zM259.9 123.7h.7v.7h-.7zM297.6 129.9h.7v.7h-.7zM266.5 131.8h.7v.7h-.7zM269.3 111.2h.7v.7h-.7zM271.6 137.0h.7v.7h-.7zM282.6 128.0h.7v.7h-.7zM269.7 117.4h.7v.7h-.7zM292.0 131.6h.7v.7h-.7zM269.5 106.2h.7v.7h-.7zM267.5 128.2h.7v.7h-.7zM280.9 127.3h.7v.7h-.7zM276.1 114.2h.7v.7h-.7zM268.5 147.2h.7v.7h-.7zM271.4 138.1h.7v.7h-.7zM262.2 126.0h.7v.7h-.7zM281.4 140.2h.7v.7h-.7zM267.8 135.4h.7v.7h-.7zM282.6 121.0h.7v.7h-.7zM283.5 119.3h.7v.7h-.7zM271.0 128.8h.7v.7h-.7zM252.2 127.8h.7v.7h-.7zM269.0 113.2h.7v.7h-.7zM274.6 137.2h.7v.7h-.7zM274.8 142.7h.7v.7h-.7zM267.4 114.8h.7v.7h-.7zM294.0 133.3h.7v.7h-.7zM288.1 120.1h.7v.7h-.7zM286.7 131.8h.7v.7h-.7zM285.2 129.3h.7v.7h-.7zM290.6 122.0h.7v.7h-.7zM269.4 113.0h.7v.7h-.7zM290.2 121.0h.7v.7h-.7zM268.6 118.9h.7v.7h-.7zM274.4 115.3h.7v.7h-.7zM276.0 122.2h.7v.7h-.7zM273.4 118.6h.7v.7h-.7zM279.2 124.0h.7v.7h-.7zM279.9 131.7h.7v.7h-.7zM282.1 105.4h.7v.7h-.7zM273.6 120.4h.7v.7h-.7zM286.4 112.0h.7v.7h-.7zM271.8 125.8h.7v.7h-.7zM275.5 139.7h.7v.7h-.7zM274.5 139.4h.7v.7h-.7zM264.4 109.4h.7v.7h-.7zM290.7 133.7h.7v.7h-.7zM283.6 130.3h.7v.7h-.7zM283.5 115.9h.7v.7h-.7zM288.1 123.3h.7v.7h-.7zM288.5 129.9h.7v.7h-.7zM259.5 115.1h.7v.7h-.7zM289.9 127.5h.7v.7h-.7zM274.9 131.6h.7v.7h-.7zM274.6 123.1h.7v.7h-.7zM279.8 130.6h.7v.7h-.7zM293.7 129.5h.7v.7h-.7zM297.2 148.5h.7v.7h-.7zM295.6 140.5h.7v.7h-.7zM280.1 130.5h.7v.7h-.7zM277.4 121.1h.7v.7h-.7zM278.1 122.1h.7v.7h-.7zM294.9 134.8h.7v.7h-.7zM274.4 108.3h.7v.7h-.7zM278.3 124.5h.7v.7h-.7zM268.2 116.7h.7v.7h-.7zM256.7 135.1h.7v.7h-.7zM278.5 127.4h.7v.7h-.7zM293.0 130.4h.7v.7h-.7zM280.4 125.0h.7v.7h-.7zM272.9 145.2h.7v.7h-.7zM288.6 147.5h.7v.7h-.7zM275.4 129.3h.7v.7h-.7zM270.2 139.4h.7v.7h-.7zM265.1 135.1h.7v.7h-.7zM289.5 144.2h.7v.7h-.7zM269.6 140.8h.7v.7h-.7zM271.8 120.8h.7v.7h-.7zM265.8 141.5h.7v.7h-.7zM295.0 122.6h.7v.7h-.7zM271.4 125.3h.7v.7h-.7zM303.4 139.8h.7v.7h-.7zM273.5 109.6h.7v.7h-.7zM272.2 141.8h.7v.7h-.7zM297.1 126.1h.7v.7h-.7zM272.0 123.5h.7v.7h-.7zM260.3 138.8h.7v.7h-.7zM268.2 140.5h.7v.7h-.7zM262.1 115.3h.7v.7h-.7zM281.6 120.8h.7v.7h-.7zM286.5 129.1h.7v.7h-.7zM267.3 135.7h.7v.7h-.7zM287.1 108.3h.7v.7h-.7zM296.7 134.4h.7v.7h-.7zM286.3 108.9h.7v.7h-.7zM271.7 125.2h.7v.7h-.7zM289.4 113.2h.7v.7h-.7zM270.1 107.1h.7v.7h-.7zM276.4 132.7h.7v.7h-.7zM262.3 122.6h.7v.7h-.7zM283.8 146.1h.7v.7h-.7zM285.3 125.7h.7v.7h-.7zM267.3 118.9h.7v.7h-.7zM272.3 130.6h.7v.7h-.7zM278.3 147.0h.7v.7h-.7zM281.6 117.4h.7v.7h-.7zM293.9 139.2h.7v.7h-.7zM279.8 121.2h.7v.7h-.7zM260.5 118.0h.7v.7h-.7zM287.7 120.3h.7v.7h-.7zM265.9 131.1h.7v.7h-.7zM281.2 135.5h.7v.7h-.7zM285.2 144.2h.7v.7h-.7zM270.6 139.6h.7v.7h-.7zM269.1 136.5h.7v.7h-.7zM280.6 131.6h.7v.7h-.7zM288.3 128.8h.7v.7h-.7zM289.7 138.5h.7v.7h-.7zM280.1 122.9h.7v.7h-.7zM271.4 123.3h.7v.7h-.7zM276.8 128.7h.7v.7h-.7zM308.0 135.9h.7v.7h-.7zM286.3 119.7h.7v.7h-.7zM271.8 125.6h.7v.7h-.7zM280.7 117.8h.7v.7h-.7zM294.6 122.9h.7v.7h-.7zM289.4 103.8h.7v.7h-.7zM278.7 132.0h.7v.7h-.7zM280.7 135.5h.7v.7h-.7zM281.5 130.8h.7v.7h-.7zM260.3 121.3h.7v.7h-.7zM255.8 135.8h.7v.7h-.7zM281.8 126.9h.7v.7h-.7zM270.8 122.7h.7v.7h-.7zM296.9 147.7h.7v.7h-.7zM278.2 142.9h.7v.7h-.7zM263.2 108.1h.7v.7h-.7zM274.1 119.6h.7v.7h-.7zM273.3 131.0h.7v.7h-.7zM308.4 121.9h.7v.7h-.7zM279.3 132.0h.7v.7h-.7zM278.5 139.1h.7v.7h-.7zM296.2 115.6h.7v.7h-.7zM280.4 126.1h.7v.7h-.7zM282.3 112.5h.7v.7h-.7zM261.6 104.0h.7v.7h-.7zM283.9 131.1h.7v.7h-.7zM279.5 103.4h.7v.7h-.7zM275.1 120.8h.7v.7h-.7zM264.9 119.1h.7v.7h-.7zM285.6 134.9h.7v.7h-.7zM278.6 134.6h.7v.7h-.7zM272.9 129.8h.7v.7h-.7zM279.2 135.0h.7v.7h-.7zM278.1 127.5h.7v.7h-.7zM277.5 122.0h.7v.7h-.7zM300.7 134.6h.7v.7h-.7zM283.0 153.7h.7v.7h-.7zM292.5 112.2h.7v.7h-.7zM285.6 138.1h.7v.7h-.7zM297.3 143.2h.7v.7h-.7zM286.4 116.3h.7v.7h-.7zM270.3 131.9h.7v.7h-.7zM283.7 118.0h.7v.7h-.7zM275.0 124.7h.7v.7h-.7zM279.4 132.6h.7v.7h-.7zM276.0 115.6h.7v.7h-.7zM291.0 146.2h.7v.7h-.7zM277.8 140.1h.7v.7h-.7zM283.2 136.1h.7v.7h-.7zM283.5 120.8h.7v.7h-.7zM284.4 139.9h.7v.7h-.7zM270.0 150.2h.7v.7h-.7zM299.3 148.7h.7v.7h-.7zM298.3 137.0h.7v.7h-.7zM275.5 122.5h.7v.7h-.7zM270.8 130.3h.7v.7h-.7zM278.5 136.2h.7v.7h-.7zM259.0 154.0h.7v.7h-.7zM301.1 128.7h.7v.7h-.7zM285.4 134.1h.7v.7h-.7zM281.5 126.7h.7v.7h-.7zM277.6 120.1h.7v.7h-.7zM280.5 128.7h.7v.7h-.7zM281.9 119.8h.7v.7h-.7zM279.2 129.5h.7v.7h-.7zM284.7 117.5h.7v.7h-.7zM282.9 139.6h.7v.7h-.7zM284.7 125.0h.7v.7h-.7zM274.0 126.4h.7v.7h-.7zM285.9 145.8h.7v.7h-.7zM277.3 122.1h.7v.7h-.7zM282.5 131.2h.7v.7h-.7zM269.9 121.0h.7v.7h-.7zM277.8 136.3h.7v.7h-.7zM267.1 118.0h.7v.7h-.7zM283.7 115.8h.7v.7h-.7zM279.9 132.8h.7v.7h-.7zM277.7 118.0h.7v.7h-.7zM278.2 125.4h.7v.7h-.7zM282.1 119.9h.7v.7h-.7zM289.5 110.9h.7v.7h-.7zM277.1 129.1h.7v.7h-.7zM288.2 122.4h.7v.7h-.7zM284.1 122.9h.7v.7h-.7zM286.0 147.8h.7v.7h-.7zM274.9 133.8h.7v.7h-.7zM269.7 139.5h.7v.7h-.7zM290.7 129.4h.7v.7h-.7zM267.7 133.3h.7v.7h-.7zM290.1 140.8h.7v.7h-.7zM286.8 109.2h.7v.7h-.7zM272.1 144.4h.7v.7h-.7zM266.8 141.2h.7v.7h-.7zM297.2 137.2h.7v.7h-.7zM289.8 125.4h.7v.7h-.7zM266.8 127.9h.7v.7h-.7zM276.9 128.5h.7v.7h-.7zM285.6 127.4h.7v.7h-.7zM280.7 133.6h.7v.7h-.7zM278.7 148.9h.7v.7h-.7zM283.1 129.9h.7v.7h-.7zM276.8 122.2h.7v.7h-.7zM292.0 130.6h.7v.7h-.7zM310.2 123.9h.7v.7h-.7zM293.3 125.0h.7v.7h-.7zM310.3 118.5h.7v.7h-.7zM299.7 130.3h.7v.7h-.7zM312.0 129.4h.7v.7h-.7zM292.5 133.5h.7v.7h-.7zM298.9 131.7h.7v.7h-.7zM320.8 119.2h.7v.7h-.7zM304.9 138.4h.7v.7h-.7zM291.0 123.6h.7v.7h-.7zM310.3 110.2h.7v.7h-.7zM305.2 135.0h.7v.7h-.7zM302.5 119.7h.7v.7h-.7zM324.8 142.1h.7v.7h-.7zM293.6 120.9h.7v.7h-.7zM291.8 137.1h.7v.7h-.7zM337.5 139.0h.7v.7h-.7zM304.1 110.3h.7v.7h-.7zM304.7 113.0h.7v.7h-.7zM311.3 132.6h.7v.7h-.7zM331.3 123.5h.7v.7h-.7zM290.9 138.4h.7v.7h-.7zM302.3 122.7h.7v.7h-.7zM297.5 128.3h.7v.7h-.7zM310.3 133.4h.7v.7h-.7zM300.6 129.6h.7v.7h-.7zM321.4 126.1h.7v.7h-.7zM314.3 124.1h.7v.7h-.7zM304.4 111.6h.7v.7h-.7zM294.4 127.4h.7v.7h-.7zM299.7 123.5h.7v.7h-.7zM297.1 122.5h.7v.7h-.7zM330.3 123.6h.7v.7h-.7zM300.7 124.3h.7v.7h-.7zM309.8 127.8h.7v.7h-.7zM304.9 126.7h.7v.7h-.7zM299.7 141.2h.7v.7h-.7zM308.4 137.3h.7v.7h-.7zM311.6 126.1h.7v.7h-.7zM293.1 139.0h.7v.7h-.7zM300.8 127.9h.7v.7h-.7zM297.6 132.4h.7v.7h-.7zM295.8 137.9h.7v.7h-.7zM294.0 135.5h.7v.7h-.7zM310.1 134.9h.7v.7h-.7zM304.0 118.6h.7v.7h-.7zM314.4 123.4h.7v.7h-.7zM299.4 142.5h.7v.7h-.7zM312.8 131.8h.7v.7h-.7zM306.2 122.4h.7v.7h-.7zM295.8 135.2h.7v.7h-.7zM294.6 139.6h.7v.7h-.7zM308.5 137.0h.7v.7h-.7zM307.5 129.6h.7v.7h-.7zM299.4 123.9h.7v.7h-.7zM310.4 125.4h.7v.7h-.7zM302.4 155.0h.7v.7h-.7zM299.5 143.9h.7v.7h-.7zM294.4 131.8h.7v.7h-.7zM304.2 122.0h.7v.7h-.7zM307.3 132.4h.7v.7h-.7zM318.1 134.4h.7v.7h-.7zM300.7 133.1h.7v.7h-.7zM319.3 125.3h.7v.7h-.7zM300.0 135.7h.7v.7h-.7zM307.0 139.8h.7v.7h-.7zM316.9 117.3h.7v.7h-.7zM300.2 119.2h.7v.7h-.7zM292.9 114.2h.7v.7h-.7zM292.0 118.8h.7v.7h-.7zM297.0 115.2h.7v.7h-.7zM298.9 126.6h.7v.7h-.7zM292.0 128.4h.7v.7h-.7zM293.2 117.1h.7v.7h-.7zM337.0 129.3h.7v.7h-.7zM307.6 124.9h.7v.7h-.7zM298.5 111.1h.7v.7h-.7zM304.5 123.5h.7v.7h-.7zM309.8 131.9h.7v.7h-.7zM293.3 121.6h.7v.7h-.7zM308.5 136.3h.7v.7h-.7zM302.7 134.3h.7v.7h-.7zM298.9 112.0h.7v.7h-.7zM310.3 129.0h.7v.7h-.7zM297.0 136.0h.7v.7h-.7zM305.2 138.3h.7v.7h-.7zM297.5 127.1h.7v.7h-.7zM304.8 125.2h.7v.7h-.7zM309.8 114.7h.7v.7h-.7zM302.6 127.4h.7v.7h-.7zM326.2 137.8h.7v.7h-.7zM296.4 129.2h.7v.7h-.7zM310.2 124.8h.7v.7h-.7zM318.0 121.6h.7v.7h-.7zM353.3 121.3h.7v.7h-.7zM312.4 127.8h.7v.7h-.7zM297.9 120.8h.7v.7h-.7zM306.0 138.4h.7v.7h-.7zM316.8 146.6h.7v.7h-.7zM300.6 119.2h.7v.7h-.7zM305.0 134.1h.7v.7h-.7zM309.6 135.7h.7v.7h-.7zM323.9 120.7h.7v.7h-.7zM311.1 126.7h.7v.7h-.7zM314.2 133.6h.7v.7h-.7zM307.3 128.8h.7v.7h-.7zM323.3 125.9h.7v.7h-.7zM298.3 135.9h.7v.7h-.7zM324.2 126.7h.7v.7h-.7zM299.5 128.7h.7v.7h-.7zM312.5 120.5h.7v.7h-.7zM314.3 104.3h.7v.7h-.7zM305.2 122.9h.7v.7h-.7zM299.1 135.2h.7v.7h-.7zM312.1 128.2h.7v.7h-.7zM295.1 134.3h.7v.7h-.7zM307.5 120.1h.7v.7h-.7zM325.4 151.9h.7v.7h-.7zM294.3 127.0h.7v.7h-.7zM317.7 137.4h.7v.7h-.7zM300.4 141.9h.7v.7h-.7zM306.1 129.2h.7v.7h-.7zM303.9 119.0h.7v.7h-.7zM296.7 123.8h.7v.7h-.7zM313.6 129.2h.7v.7h-.7zM293.4 141.9h.7v.7h-.7zM351.1 123.0h.7v.7h-.7zM307.3 124.8h.7v.7h-.7zM298.4 132.6h.7v.7h-.7zM291.3 124.7h.7v.7h-.7zM299.7 132.2h.7v.7h-.7zM324.0 126.6h.7v.7h-.7zM315.5 118.4h.7v.7h-.7zM293.4 129.5h.7v.7h-.7zM292.8 121.1h.7v.7h-.7zM294.4 120.8h.7v.7h-.7zM297.7 135.2h.7v.7h-.7zM322.4 140.4h.7v.7h-.7zM305.3 124.9h.7v.7h-.7zM307.7 131.8h.7v.7h-.7zM326.4 135.4h.7v.7h-.7zM330.4 117.7h.7v.7h-.7zM314.1 133.6h.7v.7h-.7zM290.8 131.7h.7v.7h-.7zM322.9 121.6h.7v.7h-.7zM306.1 146.7h.7v.7h-.7zM297.0 122.0h.7v.7h-.7zM327.3 115.3h.7v.7h-.7zM334.8 129.6h.7v.7h-.7zM291.6 137.9h.7v.7h-.7zM293.3 122.8h.7v.7h-.7zM304.1 146.1h.7v.7h-.7zM322.6 130.6h.7v.7h-.7zM291.3 134.6h.7v.7h-.7zM298.1 133.5h.7v.7h-.7zM305.5 127.7h.7v.7h-.7zM299.0 127.3h.7v.7h-.7zM308.2 127.1h.7v.7h-.7zM296.2 130.9h.7v.7h-.7zM314.9 140.8h.7v.7h-.7z" fill="#8a6a4c" opacity="0.78"/>
<path d="M298.40 157.40V98.20H386.50V157.40" fill="none" stroke="#222" stroke-width="0.9"/>
<text x="250.50" y="101.50" font-size="14" fill="#111">5.72</text>
<line x1="246.30" y1="88.40" x2="246.30" y2="157.40" stroke="#777" stroke-width="0.8"/>
<line x1="243.30" y1="88.70" x2="246.30" y2="88.70" stroke="#222" stroke-width="1.2"/>
<text x="230.30" y="97.00" font-size="5.4" fill="#777">10</text>
<text x="236.70" y="93.60" font-size="4.4" fill="#777">5</text>
<line x1="243.30" y1="122.90" x2="246.30" y2="122.90" stroke="#222" stroke-width="1.2"/>
<text x="230.30" y="126.50" font-size="5.4" fill="#777">10</text>
<text x="236.70" y="123.10" font-size="4.4" fill="#777">4</text>
<line x1="243.30" y1="157.10" x2="246.30" y2="157.10" stroke="#222" stroke-width="1.2"/>
<text x="230.30" y="156.80" font-size="5.4" fill="#777">10</text>
<text x="236.70" y="153.40" font-size="4.4" fill="#777">3</text>
<line x1="244.50" y1="112.57" x2="246.30" y2="112.57" stroke="#555" stroke-width="0.6"/>
<line x1="244.50" y1="106.53" x2="246.30" y2="106.53" stroke="#555" stroke-width="0.6"/>
<line x1="244.50" y1="102.25" x2="246.30" y2="102.25" stroke="#555" stroke-width="0.6"/>
<line x1="244.50" y1="98.93" x2="246.30" y2="98.93" stroke="#555" stroke-width="0.6"/>
<line x1="244.50" y1="96.21" x2="246.30" y2="96.21" stroke="#555" stroke-width="0.6"/>
<line x1="244.50" y1="93.91" x2="246.30" y2="93.91" stroke="#555" stroke-width="0.6"/>
<line x1="244.50" y1="91.92" x2="246.30" y2="91.92" stroke="#555" stroke-width="0.6"/>
<line x1="244.50" y1="90.17" x2="246.30" y2="90.17" stroke="#555" stroke-width="0.6"/>
<line x1="244.50" y1="147.07" x2="246.30" y2="147.07" stroke="#555" stroke-width="0.6"/>
<line x1="244.50" y1="141.03" x2="246.30" y2="141.03" stroke="#555" stroke-width="0.6"/>
<line x1="244.50" y1="136.75" x2="246.30" y2="136.75" stroke="#555" stroke-width="0.6"/>
<line x1="244.50" y1="133.43" x2="246.30" y2="133.43" stroke="#555" stroke-width="0.6"/>
<line x1="244.50" y1="130.71" x2="246.30" y2="130.71" stroke="#555" stroke-width="0.6"/>
<line x1="244.50" y1="128.41" x2="246.30" y2="128.41" stroke="#555" stroke-width="0.6"/>
<line x1="244.50" y1="126.42" x2="246.30" y2="126.42" stroke="#555" stroke-width="0.6"/>
<line x1="244.50" y1="124.67" x2="246.30" y2="124.67" stroke="#555" stroke-width="0.6"/>
<rect x="246.30" y="157.40" width="140.20" height="70.00" fill="none" stroke="#c4c4c4" stroke-width="0.8"/>
<ellipse cx="278.8" cy="198.0" rx="21.0" ry="23" fill="url(#g02)"/>
<ellipse cx="278.8" cy="198.0" rx="10.5" ry="12.0" fill="#f7c3dc" opacity="0.35"/>
<path d="M297.3 198.3L297.1 202.9L296.4 206.5L295.3 209.5L293.8 212.1L291.9 214.3L289.6 216.0L287.0 217.3L283.9 218.0L279.8 218.3L275.7 218.0L272.6 217.3L270.0 216.0L267.7 214.3L265.8 212.1L264.3 209.5L263.2 206.5L262.5 202.9L262.3 198.3L262.5 193.7L263.2 190.1L264.3 187.1L265.8 184.5L267.7 182.3L270.0 180.6L272.6 179.3L275.7 178.6L279.8 178.3L283.9 178.6L287.0 179.3L289.6 180.6L291.9 182.3L293.8 184.5L295.3 187.1L296.4 190.1L297.1 193.7Z" fill="none" stroke="#f08ab8" stroke-width="0.45" opacity="0.6"/>
<path d="M296.0 198.3L295.8 202.6L295.2 205.9L294.2 208.7L292.8 211.2L291.0 213.2L288.9 214.8L286.4 216.0L283.5 216.7L279.7 216.9L275.9 216.7L273.1 216.0L270.6 214.8L268.5 213.2L266.7 211.2L265.3 208.7L264.3 205.9L263.7 202.6L263.5 198.3L263.7 194.0L264.3 190.7L265.3 187.9L266.7 185.4L268.5 183.4L270.6 181.8L273.1 180.6L275.9 179.9L279.7 179.7L283.5 179.9L286.4 180.6L288.9 181.8L291.0 183.4L292.8 185.4L294.2 187.9L295.2 190.7L295.8 194.0Z" fill="none" stroke="#f08ab8" stroke-width="0.45" opacity="0.6"/>
<path d="M294.7 198.3L294.5 202.3L293.9 205.3L293.0 208.0L291.7 210.2L290.1 212.1L288.1 213.6L285.8 214.6L283.2 215.3L279.7 215.5L276.2 215.3L273.5 214.6L271.2 213.6L269.2 212.1L267.6 210.2L266.3 208.0L265.4 205.3L264.8 202.3L264.6 198.3L264.8 194.3L265.4 191.3L266.3 188.6L267.6 186.4L269.2 184.5L271.2 183.0L273.5 182.0L276.2 181.3L279.7 181.1L283.2 181.3L285.8 182.0L288.1 183.0L290.1 184.5L291.7 186.4L293.0 188.6L293.9 191.3L294.5 194.3Z" fill="none" stroke="#f08ab8" stroke-width="0.45" opacity="0.6"/>
<path d="M293.4 198.3L293.2 202.0L292.7 204.8L291.9 207.2L290.7 209.2L289.2 211.0L287.3 212.3L285.2 213.3L282.8 213.9L279.6 214.1L276.4 213.9L273.9 213.3L271.8 212.3L270.0 211.0L268.5 209.2L267.3 207.2L266.5 204.8L265.9 202.0L265.8 198.3L265.9 194.6L266.5 191.8L267.3 189.4L268.5 187.4L270.0 185.6L271.8 184.3L273.9 183.3L276.4 182.7L279.6 182.5L282.8 182.7L285.2 183.3L287.3 184.3L289.2 185.6L290.7 187.4L291.9 189.4L292.7 191.8L293.2 194.6Z" fill="none" stroke="#f08ab8" stroke-width="0.45" opacity="0.6"/>
<path d="M292.1 198.3L292.0 201.6L291.5 204.2L290.7 206.4L289.6 208.3L288.2 209.8L286.6 211.1L284.7 212.0L282.4 212.5L279.5 212.7L276.6 212.5L274.4 212.0L272.4 211.1L270.8 209.8L269.4 208.3L268.3 206.4L267.6 204.2L267.1 201.6L266.9 198.3L267.1 195.0L267.6 192.4L268.3 190.2L269.4 188.3L270.8 186.8L272.4 185.5L274.4 184.6L276.6 184.1L279.5 183.9L282.4 184.1L284.7 184.6L286.6 185.5L288.2 186.8L289.6 188.3L290.7 190.2L291.5 192.4L292.0 195.0Z" fill="none" stroke="#f08ab8" stroke-width="0.45" opacity="0.6"/>
<path d="M290.8 198.3L290.7 201.3L290.3 203.6L289.5 205.6L288.6 207.3L287.3 208.7L285.8 209.8L284.1 210.6L282.1 211.1L279.5 211.3L276.8 211.1L274.8 210.6L273.1 209.8L271.6 208.7L270.3 207.3L269.4 205.6L268.6 203.6L268.2 201.3L268.1 198.3L268.2 195.3L268.6 193.0L269.4 191.0L270.3 189.3L271.6 187.9L273.1 186.8L274.8 186.0L276.8 185.5L279.4 185.3L282.1 185.5L284.1 186.0L285.8 186.8L287.3 187.9L288.6 189.3L289.5 191.0L290.3 193.0L290.7 195.3Z" fill="none" stroke="#f08ab8" stroke-width="0.45" opacity="0.5"/>
<path d="M289.5 198.3L289.4 201.0L289.0 203.0L288.4 204.8L287.5 206.3L286.4 207.6L285.1 208.6L283.5 209.3L281.7 209.8L279.4 209.9L277.0 209.8L275.2 209.3L273.7 208.6L272.4 207.6L271.3 206.3L270.4 204.8L269.7 203.0L269.4 201.0L269.2 198.3L269.4 195.6L269.7 193.6L270.4 191.8L271.3 190.3L272.4 189.0L273.7 188.0L275.2 187.3L277.0 186.8L279.4 186.7L281.7 186.8L283.5 187.3L285.1 188.0L286.4 189.0L287.5 190.3L288.4 191.8L289.0 193.6L289.4 195.6Z" fill="none" stroke="#f08ab8" stroke-width="0.45" opacity="0.5"/>
<path d="M288.2 198.3L288.1 200.7L287.8 202.5L287.2 204.0L286.5 205.4L285.5 206.5L284.3 207.3L283.0 208.0L281.4 208.4L279.3 208.5L277.2 208.4L275.7 208.0L274.3 207.3L273.1 206.5L272.2 205.4L271.4 204.0L270.8 202.5L270.5 200.7L270.4 198.3L270.5 195.9L270.8 194.1L271.4 192.6L272.2 191.2L273.1 190.1L274.3 189.3L275.7 188.6L277.2 188.2L279.3 188.1L281.4 188.2L283.0 188.6L284.3 189.3L285.5 190.1L286.5 191.2L287.2 192.6L287.8 194.1L288.1 195.9Z" fill="none" stroke="#f08ab8" stroke-width="0.45" opacity="0.5"/>
<path d="M286.9 198.3L286.8 200.3L286.6 201.9L286.1 203.2L285.4 204.4L284.6 205.3L283.6 206.1L282.4 206.7L281.0 207.0L279.2 207.1L277.4 207.0L276.1 206.7L274.9 206.1L273.9 205.3L273.1 204.4L272.4 203.2L271.9 201.9L271.6 200.3L271.5 198.3L271.6 196.3L271.9 194.7L272.4 193.4L273.1 192.2L273.9 191.3L274.9 190.5L276.1 189.9L277.4 189.6L279.2 189.5L281.0 189.6L282.4 189.9L283.6 190.5L284.6 191.3L285.4 192.2L286.1 193.4L286.6 194.7L286.8 196.3Z" fill="none" stroke="#f08ab8" stroke-width="0.45" opacity="0.5"/>
<path d="M285.6 198.3L285.6 200.0L285.3 201.3L284.9 202.5L284.4 203.4L283.7 204.2L282.8 204.9L281.8 205.3L280.7 205.6L279.2 205.7L277.7 205.6L276.5 205.3L275.5 204.9L274.7 204.2L274.0 203.4L273.4 202.5L273.0 201.3L272.8 200.0L272.7 198.3L272.8 196.6L273.0 195.3L273.4 194.1L274.0 193.2L274.7 192.4L275.5 191.7L276.5 191.3L277.7 191.0L279.2 190.9L280.7 191.0L281.8 191.3L282.8 191.7L283.7 192.4L284.4 193.2L284.9 194.1L285.3 195.3L285.6 196.6Z" fill="none" stroke="#f08ab8" stroke-width="0.45" opacity="0.5"/>
<path d="M284.4 198.3L284.3 199.7L284.1 200.8L283.8 201.7L283.3 202.5L282.7 203.1L282.0 203.6L281.2 204.0L280.3 204.2L279.1 204.3L277.9 204.2L277.0 204.0L276.2 203.6L275.5 203.1L274.9 202.5L274.4 201.7L274.1 200.8L273.9 199.7L273.9 198.3L273.9 196.9L274.1 195.8L274.4 194.9L274.9 194.1L275.5 193.5L276.2 193.0L277.0 192.6L277.9 192.4L279.1 192.3L280.3 192.4L281.2 192.6L282.0 193.0L282.7 193.5L283.3 194.1L283.8 194.9L284.1 195.8L284.3 196.9Z" fill="none" stroke="#f08ab8" stroke-width="0.45" opacity="0.5"/>
<path d="M283.1 198.3L283.0 199.4L282.9 200.2L282.6 200.9L282.3 201.5L281.8 202.0L281.3 202.4L280.7 202.7L280.0 202.8L279.0 202.9L278.1 202.8L277.4 202.7L276.8 202.4L276.2 202.0L275.8 201.5L275.5 200.9L275.2 200.2L275.1 199.4L275.0 198.3L275.1 197.2L275.2 196.4L275.5 195.7L275.8 195.1L276.2 194.6L276.8 194.2L277.4 193.9L278.1 193.8L279.0 193.7L280.0 193.8L280.7 193.9L281.3 194.2L281.8 194.6L282.3 195.1L282.6 195.7L282.9 196.4L283.0 197.2Z" fill="none" stroke="#f08ab8" stroke-width="0.45" opacity="0.5"/>
<path d="M293.6 198.5L293.4 202.2L292.9 205.0L292.0 207.5L290.8 209.6L289.3 211.3L287.5 212.7L285.3 213.7L282.9 214.3L279.6 214.5L276.3 214.3L273.9 213.7L271.7 212.7L269.9 211.3L268.4 209.6L267.2 207.5L266.3 205.0L265.8 202.2L265.6 198.5L265.8 194.8L266.3 192.0L267.2 189.5L268.4 187.4L269.9 185.7L271.7 184.3L273.9 183.3L276.3 182.7L279.6 182.5L282.9 182.7L285.3 183.3L287.5 184.3L289.3 185.7L290.8 187.4L292.0 189.5L292.9 192.0L293.4 194.8Z" fill="none" stroke="#fff" stroke-width="1.1" opacity="0.85"/>
<path d="M287.2 198.5L287.1 200.6L286.8 202.2L286.3 203.6L285.6 204.7L284.7 205.7L283.7 206.5L282.5 207.0L281.1 207.4L279.3 207.5L277.5 207.4L276.1 207.0L274.9 206.5L273.9 205.7L273.0 204.7L272.3 203.6L271.8 202.2L271.5 200.6L271.4 198.5L271.5 196.4L271.8 194.8L272.3 193.4L273.0 192.3L273.9 191.3L274.9 190.5L276.1 190.0L277.5 189.6L279.3 189.5L281.1 189.6L282.5 190.0L283.7 190.5L284.7 191.3L285.6 192.3L286.3 193.4L286.8 194.8L287.1 196.4Z" fill="none" stroke="#fff" stroke-width="0.7" opacity="0.7"/>
<ellipse cx="279.3" cy="197.0" rx="2.2" ry="3" fill="#fff" opacity="0.8"/>
<path d="M274.4 204.5h.7v.7h-.7zM281.7 206.2h.7v.7h-.7zM279.0 200.9h.7v.7h-.7zM274.2 189.5h.7v.7h-.7zM287.3 212.0h.7v.7h-.7zM285.3 202.7h.7v.7h-.7zM281.4 193.1h.7v.7h-.7zM261.3 205.2h.7v.7h-.7zM280.8 192.0h.7v.7h-.7zM269.3 211.8h.7v.7h-.7zM261.1 217.0h.7v.7h-.7zM285.1 223.6h.7v.7h-.7zM271.8 197.8h.7v.7h-.7zM273.8 199.7h.7v.7h-.7zM276.7 189.9h.7v.7h-.7zM289.3 189.5h.7v.7h-.7zM273.8 204.0h.7v.7h-.7zM273.5 193.3h.7v.7h-.7zM282.3 194.0h.7v.7h-.7zM266.6 196.9h.7v.7h-.7zM276.6 216.4h.7v.7h-.7zM268.0 208.5h.7v.7h-.7zM271.1 194.2h.7v.7h-.7zM275.6 200.9h.7v.7h-.7zM287.3 216.9h.7v.7h-.7zM272.6 212.4h.7v.7h-.7zM288.6 206.8h.7v.7h-.7zM271.4 207.7h.7v.7h-.7zM277.7 201.8h.7v.7h-.7zM276.2 205.2h.7v.7h-.7zM289.7 210.2h.7v.7h-.7zM276.8 208.8h.7v.7h-.7zM293.0 187.9h.7v.7h-.7zM293.2 183.6h.7v.7h-.7zM284.1 204.4h.7v.7h-.7zM293.3 201.0h.7v.7h-.7zM274.1 189.4h.7v.7h-.7zM266.5 206.3h.7v.7h-.7zM276.5 190.2h.7v.7h-.7zM284.0 189.7h.7v.7h-.7zM274.5 193.0h.7v.7h-.7zM295.0 213.8h.7v.7h-.7zM277.3 181.0h.7v.7h-.7zM281.5 198.8h.7v.7h-.7zM282.2 204.1h.7v.7h-.7zM275.7 208.0h.7v.7h-.7zM287.0 200.3h.7v.7h-.7zM274.8 192.8h.7v.7h-.7zM285.6 186.1h.7v.7h-.7zM277.2 189.9h.7v.7h-.7zM265.1 204.5h.7v.7h-.7zM278.5 198.4h.7v.7h-.7zM287.4 181.9h.7v.7h-.7zM278.1 201.1h.7v.7h-.7zM287.0 186.3h.7v.7h-.7zM285.8 200.4h.7v.7h-.7zM292.1 210.3h.7v.7h-.7zM284.2 221.2h.7v.7h-.7zM278.8 193.4h.7v.7h-.7zM275.5 187.8h.7v.7h-.7zM278.5 177.7h.7v.7h-.7zM278.0 202.6h.7v.7h-.7zM288.5 194.2h.7v.7h-.7zM292.4 191.0h.7v.7h-.7zM277.5 177.7h.7v.7h-.7zM271.3 189.5h.7v.7h-.7zM293.1 203.6h.7v.7h-.7zM268.2 203.6h.7v.7h-.7zM283.4 195.5h.7v.7h-.7zM279.0 194.8h.7v.7h-.7zM273.6 179.3h.7v.7h-.7zM277.9 211.5h.7v.7h-.7zM292.5 195.1h.7v.7h-.7zM271.7 195.8h.7v.7h-.7zM287.4 201.7h.7v.7h-.7zM273.2 201.8h.7v.7h-.7zM276.8 203.4h.7v.7h-.7zM274.9 182.5h.7v.7h-.7zM279.4 206.0h.7v.7h-.7zM268.2 196.9h.7v.7h-.7zM287.2 194.1h.7v.7h-.7zM272.6 219.4h.7v.7h-.7zM286.7 208.8h.7v.7h-.7zM269.8 215.2h.7v.7h-.7zM263.0 192.5h.7v.7h-.7zM285.9 212.0h.7v.7h-.7zM269.9 191.0h.7v.7h-.7zM280.7 177.7h.7v.7h-.7zM284.9 203.9h.7v.7h-.7zM274.5 203.6h.7v.7h-.7zM286.2 201.2h.7v.7h-.7zM283.8 213.9h.7v.7h-.7zM274.3 199.7h.7v.7h-.7zM273.8 208.8h.7v.7h-.7zM274.9 203.0h.7v.7h-.7zM280.1 198.7h.7v.7h-.7zM295.1 197.1h.7v.7h-.7zM292.3 206.6h.7v.7h-.7zM291.3 196.3h.7v.7h-.7zM287.6 205.9h.7v.7h-.7zM273.0 200.8h.7v.7h-.7zM277.6 197.6h.7v.7h-.7zM291.1 190.5h.7v.7h-.7zM262.9 179.8h.7v.7h-.7zM274.5 191.3h.7v.7h-.7zM278.9 203.9h.7v.7h-.7zM295.5 201.2h.7v.7h-.7zM283.2 190.3h.7v.7h-.7zM284.3 212.2h.7v.7h-.7zM291.5 177.6h.7v.7h-.7zM287.2 214.5h.7v.7h-.7zM286.6 182.4h.7v.7h-.7zM275.9 204.1h.7v.7h-.7zM282.7 189.6h.7v.7h-.7zM270.4 208.1h.7v.7h-.7zM266.2 212.9h.7v.7h-.7zM279.0 201.1h.7v.7h-.7zM266.2 191.8h.7v.7h-.7zM285.3 182.7h.7v.7h-.7zM298.3 183.4h.7v.7h-.7zM267.3 198.4h.7v.7h-.7zM283.3 205.6h.7v.7h-.7zM275.3 195.8h.7v.7h-.7zM276.6 192.0h.7v.7h-.7zM254.5 208.0h.7v.7h-.7zM281.2 199.6h.7v.7h-.7zM272.9 200.6h.7v.7h-.7zM278.7 197.2h.7v.7h-.7zM289.2 180.1h.7v.7h-.7zM281.2 186.9h.7v.7h-.7zM275.8 213.6h.7v.7h-.7zM268.6 197.0h.7v.7h-.7zM273.2 207.9h.7v.7h-.7zM269.6 180.5h.7v.7h-.7zM283.6 194.3h.7v.7h-.7zM275.8 209.2h.7v.7h-.7zM270.4 194.1h.7v.7h-.7zM280.2 202.3h.7v.7h-.7zM273.9 208.7h.7v.7h-.7zM299.9 193.8h.7v.7h-.7zM296.4 176.1h.7v.7h-.7zM292.0 194.4h.7v.7h-.7zM280.1 194.5h.7v.7h-.7zM272.8 184.7h.7v.7h-.7zM275.1 211.4h.7v.7h-.7zM289.5 194.4h.7v.7h-.7zM273.8 190.7h.7v.7h-.7zM267.5 216.7h.7v.7h-.7zM285.0 199.2h.7v.7h-.7zM274.2 187.4h.7v.7h-.7zM291.2 206.1h.7v.7h-.7zM269.8 208.3h.7v.7h-.7zM268.4 204.7h.7v.7h-.7zM269.8 193.7h.7v.7h-.7zM283.5 202.5h.7v.7h-.7zM288.3 189.3h.7v.7h-.7zM293.7 211.9h.7v.7h-.7zM278.7 202.8h.7v.7h-.7zM271.5 196.4h.7v.7h-.7zM266.4 198.9h.7v.7h-.7zM280.7 211.9h.7v.7h-.7zM287.7 206.4h.7v.7h-.7zM275.4 195.7h.7v.7h-.7zM275.6 200.3h.7v.7h-.7zM260.6 206.0h.7v.7h-.7zM264.1 192.7h.7v.7h-.7zM279.0 192.7h.7v.7h-.7zM294.4 197.0h.7v.7h-.7zM293.6 210.2h.7v.7h-.7zM274.1 202.2h.7v.7h-.7zM291.0 194.5h.7v.7h-.7zM279.6 192.2h.7v.7h-.7zM279.4 194.3h.7v.7h-.7zM279.6 208.4h.7v.7h-.7zM291.9 199.4h.7v.7h-.7zM280.7 206.9h.7v.7h-.7zM276.1 187.0h.7v.7h-.7zM289.2 188.3h.7v.7h-.7zM287.6 188.0h.7v.7h-.7zM296.0 187.2h.7v.7h-.7zM286.8 213.5h.7v.7h-.7zM269.8 213.4h.7v.7h-.7zM271.1 179.7h.7v.7h-.7zM285.6 205.3h.7v.7h-.7zM276.9 171.8h.7v.7h-.7zM278.3 194.8h.7v.7h-.7zM275.2 195.0h.7v.7h-.7zM262.0 192.1h.7v.7h-.7zM295.7 214.0h.7v.7h-.7zM275.4 190.6h.7v.7h-.7zM282.5 209.0h.7v.7h-.7zM285.6 185.9h.7v.7h-.7zM280.3 199.5h.7v.7h-.7zM292.3 210.4h.7v.7h-.7zM283.7 210.6h.7v.7h-.7zM275.1 213.9h.7v.7h-.7zM274.8 202.1h.7v.7h-.7zM287.4 188.5h.7v.7h-.7zM272.2 179.8h.7v.7h-.7zM280.3 197.4h.7v.7h-.7zM275.7 203.2h.7v.7h-.7zM258.9 197.8h.7v.7h-.7zM279.6 195.2h.7v.7h-.7zM286.3 216.2h.7v.7h-.7zM274.6 188.3h.7v.7h-.7zM273.1 199.0h.7v.7h-.7zM284.3 189.1h.7v.7h-.7zM288.2 187.4h.7v.7h-.7zM286.6 202.4h.7v.7h-.7zM283.2 220.4h.7v.7h-.7zM276.3 196.3h.7v.7h-.7zM283.3 206.9h.7v.7h-.7zM266.2 200.9h.7v.7h-.7zM271.8 204.5h.7v.7h-.7zM291.7 198.5h.7v.7h-.7zM277.8 199.9h.7v.7h-.7zM251.0 206.0h.7v.7h-.7zM284.1 199.7h.7v.7h-.7zM275.1 190.4h.7v.7h-.7zM277.1 210.6h.7v.7h-.7zM277.8 212.0h.7v.7h-.7zM254.6 193.2h.7v.7h-.7zM281.4 197.9h.7v.7h-.7zM263.2 191.1h.7v.7h-.7zM290.6 184.6h.7v.7h-.7zM269.5 186.6h.7v.7h-.7zM273.6 204.7h.7v.7h-.7zM284.4 177.0h.7v.7h-.7zM292.5 191.9h.7v.7h-.7zM273.3 215.3h.7v.7h-.7zM278.0 185.1h.7v.7h-.7zM272.8 190.5h.7v.7h-.7zM269.3 194.5h.7v.7h-.7zM287.1 201.6h.7v.7h-.7zM269.5 199.2h.7v.7h-.7zM279.1 205.9h.7v.7h-.7zM275.7 202.7h.7v.7h-.7zM298.6 199.0h.7v.7h-.7zM268.6 201.4h.7v.7h-.7zM271.2 194.2h.7v.7h-.7zM280.6 201.5h.7v.7h-.7zM276.1 206.8h.7v.7h-.7zM277.0 184.5h.7v.7h-.7zM287.1 194.2h.7v.7h-.7zM290.2 191.2h.7v.7h-.7zM284.2 201.3h.7v.7h-.7zM253.4 182.5h.7v.7h-.7zM268.3 212.6h.7v.7h-.7zM261.0 207.5h.7v.7h-.7zM289.1 203.1h.7v.7h-.7zM285.1 192.9h.7v.7h-.7zM278.7 200.3h.7v.7h-.7zM282.8 205.3h.7v.7h-.7zM276.9 190.7h.7v.7h-.7zM273.5 202.3h.7v.7h-.7zM263.2 185.0h.7v.7h-.7zM274.9 192.3h.7v.7h-.7zM276.3 170.4h.7v.7h-.7zM275.6 195.4h.7v.7h-.7zM286.1 177.5h.7v.7h-.7zM275.9 202.9h.7v.7h-.7zM283.4 210.4h.7v.7h-.7zM288.7 187.1h.7v.7h-.7zM284.8 194.5h.7v.7h-.7zM271.2 213.9h.7v.7h-.7zM272.9 189.1h.7v.7h-.7zM275.0 189.2h.7v.7h-.7zM288.3 201.9h.7v.7h-.7zM292.0 202.3h.7v.7h-.7zM273.0 208.9h.7v.7h-.7zM272.6 193.2h.7v.7h-.7zM277.2 198.4h.7v.7h-.7zM290.1 191.7h.7v.7h-.7zM282.1 197.7h.7v.7h-.7zM266.9 186.6h.7v.7h-.7zM276.7 202.2h.7v.7h-.7zM281.8 203.0h.7v.7h-.7zM279.3 193.3h.7v.7h-.7zM282.8 187.6h.7v.7h-.7zM266.1 194.5h.7v.7h-.7zM265.3 192.6h.7v.7h-.7zM271.7 192.2h.7v.7h-.7zM278.4 189.7h.7v.7h-.7zM274.8 180.2h.7v.7h-.7zM280.2 188.8h.7v.7h-.7zM282.6 168.6h.7v.7h-.7zM271.2 200.5h.7v.7h-.7zM255.7 194.2h.7v.7h-.7zM279.7 199.1h.7v.7h-.7zM264.7 200.4h.7v.7h-.7zM280.2 187.9h.7v.7h-.7zM285.8 197.5h.7v.7h-.7zM279.0 193.3h.7v.7h-.7zM284.0 199.0h.7v.7h-.7zM289.6 202.7h.7v.7h-.7zM273.0 195.7h.7v.7h-.7zM287.5 194.2h.7v.7h-.7zM282.4 203.4h.7v.7h-.7zM277.1 173.7h.7v.7h-.7zM280.0 200.2h.7v.7h-.7zM280.1 190.1h.7v.7h-.7zM290.3 196.6h.7v.7h-.7zM272.9 190.5h.7v.7h-.7zM282.2 186.6h.7v.7h-.7zM269.3 218.9h.7v.7h-.7zM291.2 209.0h.7v.7h-.7zM291.7 204.2h.7v.7h-.7zM262.8 210.5h.7v.7h-.7zM290.5 203.1h.7v.7h-.7zM260.2 211.0h.7v.7h-.7zM291.8 192.9h.7v.7h-.7zM280.0 206.1h.7v.7h-.7zM278.0 209.5h.7v.7h-.7zM279.6 205.2h.7v.7h-.7zM279.6 182.5h.7v.7h-.7zM281.4 211.7h.7v.7h-.7zM289.6 215.9h.7v.7h-.7zM284.1 191.8h.7v.7h-.7zM279.0 177.9h.7v.7h-.7zM277.0 207.5h.7v.7h-.7zM258.3 200.1h.7v.7h-.7zM286.6 211.9h.7v.7h-.7zM270.0 191.2h.7v.7h-.7zM261.0 187.3h.7v.7h-.7zM283.9 219.7h.7v.7h-.7zM267.9 212.4h.7v.7h-.7zM282.9 192.8h.7v.7h-.7zM299.7 171.6h.7v.7h-.7zM278.2 200.3h.7v.7h-.7zM299.1 216.9h.7v.7h-.7zM300.3 199.4h.7v.7h-.7zM288.1 212.3h.7v.7h-.7zM283.7 201.8h.7v.7h-.7zM277.1 193.7h.7v.7h-.7zM267.1 218.5h.7v.7h-.7zM274.5 176.2h.7v.7h-.7zM281.3 197.6h.7v.7h-.7zM280.5 217.1h.7v.7h-.7zM277.8 195.2h.7v.7h-.7zM271.7 197.8h.7v.7h-.7zM274.6 200.2h.7v.7h-.7zM308.6 202.1h.7v.7h-.7zM270.6 218.3h.7v.7h-.7zM287.0 206.6h.7v.7h-.7zM285.6 206.6h.7v.7h-.7zM285.2 212.8h.7v.7h-.7zM288.4 212.2h.7v.7h-.7zM274.0 198.0h.7v.7h-.7zM271.8 208.1h.7v.7h-.7zM286.7 193.1h.7v.7h-.7zM290.6 186.3h.7v.7h-.7zM277.9 204.7h.7v.7h-.7zM278.5 202.1h.7v.7h-.7zM290.1 201.5h.7v.7h-.7zM268.3 205.5h.7v.7h-.7zM277.9 199.2h.7v.7h-.7zM273.4 183.5h.7v.7h-.7zM266.9 194.3h.7v.7h-.7zM268.6 169.4h.7v.7h-.7zM289.8 185.8h.7v.7h-.7zM271.9 203.6h.7v.7h-.7zM255.8 212.1h.7v.7h-.7zM271.5 204.9h.7v.7h-.7zM274.2 201.2h.7v.7h-.7zM279.8 198.0h.7v.7h-.7zM261.4 182.5h.7v.7h-.7zM278.4 212.8h.7v.7h-.7zM273.6 203.6h.7v.7h-.7zM280.4 203.1h.7v.7h-.7zM288.3 182.2h.7v.7h-.7zM281.4 196.1h.7v.7h-.7zM275.8 189.0h.7v.7h-.7zM271.3 187.2h.7v.7h-.7zM268.3 224.4h.7v.7h-.7zM295.0 198.1h.7v.7h-.7zM285.9 187.7h.7v.7h-.7zM252.2 178.8h.7v.7h-.7zM280.1 213.1h.7v.7h-.7zM278.4 187.5h.7v.7h-.7zM276.5 187.5h.7v.7h-.7zM265.5 195.6h.7v.7h-.7zM275.0 189.5h.7v.7h-.7zM270.3 188.2h.7v.7h-.7zM281.1 212.7h.7v.7h-.7zM276.8 221.5h.7v.7h-.7zM263.3 200.9h.7v.7h-.7zM267.8 196.3h.7v.7h-.7zM279.8 203.9h.7v.7h-.7zM289.6 192.2h.7v.7h-.7zM266.9 196.0h.7v.7h-.7zM281.6 190.6h.7v.7h-.7zM287.3 215.7h.7v.7h-.7zM265.2 201.8h.7v.7h-.7zM288.5 177.8h.7v.7h-.7zM280.8 195.6h.7v.7h-.7zM265.2 211.8h.7v.7h-.7zM280.9 193.0h.7v.7h-.7zM283.0 204.8h.7v.7h-.7zM286.1 204.1h.7v.7h-.7zM282.7 185.6h.7v.7h-.7zM274.8 199.4h.7v.7h-.7zM252.4 220.4h.7v.7h-.7zM275.2 186.9h.7v.7h-.7zM261.4 200.6h.7v.7h-.7zM279.1 191.9h.7v.7h-.7zM274.8 188.7h.7v.7h-.7zM271.6 197.0h.7v.7h-.7zM272.7 205.1h.7v.7h-.7zM277.4 199.4h.7v.7h-.7zM282.7 211.4h.7v.7h-.7zM284.5 200.4h.7v.7h-.7zM277.2 189.5h.7v.7h-.7zM275.5 205.2h.7v.7h-.7zM281.0 193.9h.7v.7h-.7zM266.1 181.9h.7v.7h-.7zM281.9 208.8h.7v.7h-.7zM282.4 183.5h.7v.7h-.7zM294.5 199.9h.7v.7h-.7zM306.9 201.0h.7v.7h-.7zM294.3 190.7h.7v.7h-.7zM312.6 205.1h.7v.7h-.7zM297.1 190.2h.7v.7h-.7zM308.6 205.8h.7v.7h-.7zM301.3 195.3h.7v.7h-.7zM318.7 195.5h.7v.7h-.7zM309.3 207.6h.7v.7h-.7zM294.1 201.0h.7v.7h-.7zM291.5 189.2h.7v.7h-.7zM311.6 196.3h.7v.7h-.7zM315.4 189.2h.7v.7h-.7zM314.6 199.9h.7v.7h-.7zM310.3 200.3h.7v.7h-.7zM300.7 190.1h.7v.7h-.7zM328.1 201.1h.7v.7h-.7zM310.2 201.9h.7v.7h-.7zM324.3 196.8h.7v.7h-.7zM305.0 185.0h.7v.7h-.7zM295.0 199.5h.7v.7h-.7zM300.6 187.7h.7v.7h-.7zM294.5 182.7h.7v.7h-.7zM300.2 202.3h.7v.7h-.7zM320.2 205.7h.7v.7h-.7zM297.0 200.3h.7v.7h-.7zM291.3 186.4h.7v.7h-.7zM316.4 202.6h.7v.7h-.7zM295.8 188.0h.7v.7h-.7zM316.8 202.7h.7v.7h-.7zM311.5 203.9h.7v.7h-.7zM324.0 197.8h.7v.7h-.7zM297.8 194.4h.7v.7h-.7zM301.8 207.4h.7v.7h-.7zM344.6 199.0h.7v.7h-.7zM293.0 204.9h.7v.7h-.7zM296.1 204.4h.7v.7h-.7zM305.3 189.1h.7v.7h-.7zM309.5 197.4h.7v.7h-.7zM305.4 200.4h.7v.7h-.7zM312.5 186.0h.7v.7h-.7zM299.4 192.6h.7v.7h-.7zM292.5 200.8h.7v.7h-.7zM307.8 196.0h.7v.7h-.7zM311.1 200.3h.7v.7h-.7zM305.7 193.7h.7v.7h-.7zM294.6 192.3h.7v.7h-.7zM310.9 192.4h.7v.7h-.7zM305.6 200.5h.7v.7h-.7zM308.9 196.1h.7v.7h-.7zM305.4 194.8h.7v.7h-.7zM295.5 213.9h.7v.7h-.7zM298.1 211.7h.7v.7h-.7zM298.6 186.6h.7v.7h-.7zM331.2 203.9h.7v.7h-.7zM325.5 204.3h.7v.7h-.7zM308.7 201.4h.7v.7h-.7zM294.5 195.8h.7v.7h-.7zM295.3 195.4h.7v.7h-.7zM300.1 194.8h.7v.7h-.7zM311.2 192.6h.7v.7h-.7zM297.4 188.0h.7v.7h-.7zM303.2 186.0h.7v.7h-.7zM294.2 204.0h.7v.7h-.7zM296.1 193.7h.7v.7h-.7zM301.5 195.0h.7v.7h-.7zM297.3 200.4h.7v.7h-.7zM300.2 176.4h.7v.7h-.7zM313.5 204.7h.7v.7h-.7zM292.7 217.5h.7v.7h-.7zM294.9 193.2h.7v.7h-.7zM316.8 202.8h.7v.7h-.7zM323.9 202.4h.7v.7h-.7zM294.3 204.3h.7v.7h-.7zM304.5 194.1h.7v.7h-.7zM300.5 196.1h.7v.7h-.7zM304.4 193.8h.7v.7h-.7zM296.4 193.7h.7v.7h-.7zM306.2 174.0h.7v.7h-.7zM294.4 199.5h.7v.7h-.7zM309.6 206.8h.7v.7h-.7zM294.6 209.1h.7v.7h-.7zM307.5 203.6h.7v.7h-.7zM293.4 188.5h.7v.7h-.7zM294.6 194.0h.7v.7h-.7zM295.1 194.0h.7v.7h-.7zM344.0 184.1h.7v.7h-.7zM311.2 193.9h.7v.7h-.7zM295.0 206.1h.7v.7h-.7zM290.8 187.5h.7v.7h-.7zM298.0 196.3h.7v.7h-.7zM326.6 199.7h.7v.7h-.7zM309.1 191.5h.7v.7h-.7zM299.2 200.6h.7v.7h-.7zM295.8 216.9h.7v.7h-.7zM298.1 192.7h.7v.7h-.7zM294.9 196.9h.7v.7h-.7zM329.1 184.3h.7v.7h-.7zM315.0 215.9h.7v.7h-.7zM294.0 195.6h.7v.7h-.7zM300.6 206.5h.7v.7h-.7zM291.3 212.8h.7v.7h-.7zM304.5 212.3h.7v.7h-.7zM292.8 201.3h.7v.7h-.7zM298.3 196.5h.7v.7h-.7zM320.9 193.0h.7v.7h-.7zM307.3 192.3h.7v.7h-.7zM311.9 200.3h.7v.7h-.7zM312.1 205.4h.7v.7h-.7zM306.8 206.7h.7v.7h-.7zM301.3 205.0h.7v.7h-.7zM296.4 193.4h.7v.7h-.7zM311.5 216.8h.7v.7h-.7zM307.8 213.1h.7v.7h-.7zM305.2 190.6h.7v.7h-.7zM295.5 201.2h.7v.7h-.7zM297.3 194.9h.7v.7h-.7zM313.1 198.3h.7v.7h-.7zM305.7 204.8h.7v.7h-.7zM302.3 207.6h.7v.7h-.7zM308.0 197.6h.7v.7h-.7zM296.7 206.7h.7v.7h-.7zM293.5 202.5h.7v.7h-.7zM293.1 216.2h.7v.7h-.7zM328.7 197.8h.7v.7h-.7zM333.7 200.0h.7v.7h-.7zM322.6 199.2h.7v.7h-.7zM315.7 192.1h.7v.7h-.7zM294.7 212.9h.7v.7h-.7zM298.8 203.8h.7v.7h-.7zM308.5 199.7h.7v.7h-.7zM305.7 197.2h.7v.7h-.7zM296.6 195.6h.7v.7h-.7zM302.4 194.9h.7v.7h-.7zM316.8 189.1h.7v.7h-.7zM292.4 194.9h.7v.7h-.7zM291.4 210.2h.7v.7h-.7zM296.0 197.7h.7v.7h-.7zM311.1 188.7h.7v.7h-.7zM297.3 190.4h.7v.7h-.7zM298.2 188.7h.7v.7h-.7zM293.1 197.4h.7v.7h-.7zM308.1 194.6h.7v.7h-.7zM297.2 200.1h.7v.7h-.7zM291.7 212.6h.7v.7h-.7zM295.3 193.4h.7v.7h-.7zM296.3 202.1h.7v.7h-.7zM294.9 204.0h.7v.7h-.7zM314.8 219.5h.7v.7h-.7zM322.7 197.7h.7v.7h-.7zM311.7 199.3h.7v.7h-.7zM298.0 178.7h.7v.7h-.7zM291.0 185.2h.7v.7h-.7zM298.7 210.0h.7v.7h-.7zM308.7 185.0h.7v.7h-.7zM314.7 205.8h.7v.7h-.7zM297.1 202.3h.7v.7h-.7zM317.1 195.1h.7v.7h-.7zM291.1 193.2h.7v.7h-.7zM310.8 179.3h.7v.7h-.7z" fill="#f08ab8" opacity="0.78"/>
<path d="M298.40 227.40V167.20H386.50V227.40" fill="none" stroke="#222" stroke-width="0.9"/>
<text x="250.50" y="170.50" font-size="14" fill="#111">4.44</text>
<line x1="246.30" y1="157.40" x2="246.30" y2="227.40" stroke="#777" stroke-width="0.8"/>
<line x1="243.30" y1="157.70" x2="246.30" y2="157.70" stroke="#222" stroke-width="1.2"/>
<text x="230.30" y="166.00" font-size="5.4" fill="#777">10</text>
<text x="236.70" y="162.60" font-size="4.4" fill="#777">5</text>
<line x1="243.30" y1="191.90" x2="246.30" y2="191.90" stroke="#222" stroke-width="1.2"/>
<text x="230.30" y="195.50" font-size="5.4" fill="#777">10</text>
<text x="236.70" y="192.10" font-size="4.4" fill="#777">4</text>
<line x1="243.30" y1="227.10" x2="246.30" y2="227.10" stroke="#222" stroke-width="1.2"/>
<text x="230.30" y="226.80" font-size="5.4" fill="#777">10</text>
<text x="236.70" y="223.40" font-size="4.4" fill="#777">3</text>
<line x1="244.50" y1="181.57" x2="246.30" y2="181.57" stroke="#555" stroke-width="0.6"/>
<line x1="244.50" y1="175.53" x2="246.30" y2="175.53" stroke="#555" stroke-width="0.6"/>
<line x1="244.50" y1="171.25" x2="246.30" y2="171.25" stroke="#555" stroke-width="0.6"/>
<line x1="244.50" y1="167.93" x2="246.30" y2="167.93" stroke="#555" stroke-width="0.6"/>
<line x1="244.50" y1="165.21" x2="246.30" y2="165.21" stroke="#555" stroke-width="0.6"/>
<line x1="244.50" y1="162.91" x2="246.30" y2="162.91" stroke="#555" stroke-width="0.6"/>
<line x1="244.50" y1="160.92" x2="246.30" y2="160.92" stroke="#555" stroke-width="0.6"/>
<line x1="244.50" y1="159.17" x2="246.30" y2="159.17" stroke="#555" stroke-width="0.6"/>
<line x1="244.50" y1="217.07" x2="246.30" y2="217.07" stroke="#555" stroke-width="0.6"/>
<line x1="244.50" y1="211.03" x2="246.30" y2="211.03" stroke="#555" stroke-width="0.6"/>
<line x1="244.50" y1="206.75" x2="246.30" y2="206.75" stroke="#555" stroke-width="0.6"/>
<line x1="244.50" y1="203.43" x2="246.30" y2="203.43" stroke="#555" stroke-width="0.6"/>
<line x1="244.50" y1="200.71" x2="246.30" y2="200.71" stroke="#555" stroke-width="0.6"/>
<line x1="244.50" y1="198.41" x2="246.30" y2="198.41" stroke="#555" stroke-width="0.6"/>
<line x1="244.50" y1="196.42" x2="246.30" y2="196.42" stroke="#555" stroke-width="0.6"/>
<line x1="244.50" y1="194.67" x2="246.30" y2="194.67" stroke="#555" stroke-width="0.6"/>
<rect x="246.30" y="227.40" width="140.20" height="69.90" fill="none" stroke="#c4c4c4" stroke-width="0.8"/>
<ellipse cx="278.8" cy="268.0" rx="21.0" ry="23" fill="url(#g03)"/>
<ellipse cx="278.8" cy="268.0" rx="10.5" ry="12.0" fill="#a6cdf5" opacity="0.35"/>
<path d="M297.3 268.3L297.1 272.9L296.4 276.5L295.3 279.5L293.8 282.1L291.9 284.3L289.6 286.0L287.0 287.3L283.9 288.0L279.8 288.3L275.7 288.0L272.6 287.3L270.0 286.0L267.7 284.3L265.8 282.1L264.3 279.5L263.2 276.5L262.5 272.9L262.3 268.3L262.5 263.7L263.2 260.1L264.3 257.1L265.8 254.5L267.7 252.3L270.0 250.6L272.6 249.3L275.7 248.6L279.8 248.3L283.9 248.6L287.0 249.3L289.6 250.6L291.9 252.3L293.8 254.5L295.3 257.1L296.4 260.1L297.1 263.7Z" fill="none" stroke="#3c95ee" stroke-width="0.45" opacity="0.6"/>
<path d="M296.0 268.3L295.8 272.6L295.2 275.9L294.2 278.7L292.8 281.2L291.0 283.2L288.9 284.8L286.4 286.0L283.5 286.7L279.7 286.9L275.9 286.7L273.1 286.0L270.6 284.8L268.5 283.2L266.7 281.2L265.3 278.7L264.3 275.9L263.7 272.6L263.5 268.3L263.7 264.0L264.3 260.7L265.3 257.9L266.7 255.4L268.5 253.4L270.6 251.8L273.1 250.6L275.9 249.9L279.7 249.7L283.5 249.9L286.4 250.6L288.9 251.8L291.0 253.4L292.8 255.4L294.2 257.9L295.2 260.7L295.8 264.0Z" fill="none" stroke="#3c95ee" stroke-width="0.45" opacity="0.6"/>
<path d="M294.7 268.3L294.5 272.3L293.9 275.3L293.0 278.0L291.7 280.2L290.1 282.1L288.1 283.6L285.8 284.6L283.2 285.3L279.7 285.5L276.2 285.3L273.5 284.6L271.2 283.6L269.2 282.1L267.6 280.2L266.3 278.0L265.4 275.3L264.8 272.3L264.6 268.3L264.8 264.3L265.4 261.3L266.3 258.6L267.6 256.4L269.2 254.5L271.2 253.0L273.5 252.0L276.2 251.3L279.7 251.1L283.2 251.3L285.8 252.0L288.1 253.0L290.1 254.5L291.7 256.4L293.0 258.6L293.9 261.3L294.5 264.3Z" fill="none" stroke="#3c95ee" stroke-width="0.45" opacity="0.6"/>
<path d="M293.4 268.3L293.2 272.0L292.7 274.8L291.9 277.2L290.7 279.2L289.2 281.0L287.3 282.3L285.2 283.3L282.8 283.9L279.6 284.1L276.4 283.9L273.9 283.3L271.8 282.3L270.0 281.0L268.5 279.2L267.3 277.2L266.5 274.8L265.9 272.0L265.8 268.3L265.9 264.6L266.5 261.8L267.3 259.4L268.5 257.4L270.0 255.6L271.8 254.3L273.9 253.3L276.4 252.7L279.6 252.5L282.8 252.7L285.2 253.3L287.3 254.3L289.2 255.6L290.7 257.4L291.9 259.4L292.7 261.8L293.2 264.6Z" fill="none" stroke="#3c95ee" stroke-width="0.45" opacity="0.6"/>
<path d="M292.1 268.3L292.0 271.6L291.5 274.2L290.7 276.4L289.6 278.3L288.2 279.8L286.6 281.1L284.7 282.0L282.4 282.5L279.5 282.7L276.6 282.5L274.4 282.0L272.4 281.1L270.8 279.8L269.4 278.3L268.3 276.4L267.6 274.2L267.1 271.6L266.9 268.3L267.1 265.0L267.6 262.4L268.3 260.2L269.4 258.3L270.8 256.8L272.4 255.5L274.4 254.6L276.6 254.1L279.5 253.9L282.4 254.1L284.7 254.6L286.6 255.5L288.2 256.8L289.6 258.3L290.7 260.2L291.5 262.4L292.0 265.0Z" fill="none" stroke="#3c95ee" stroke-width="0.45" opacity="0.6"/>
<path d="M290.8 268.3L290.7 271.3L290.3 273.6L289.5 275.6L288.6 277.3L287.3 278.7L285.8 279.8L284.1 280.6L282.1 281.1L279.5 281.3L276.8 281.1L274.8 280.6L273.1 279.8L271.6 278.7L270.3 277.3L269.4 275.6L268.6 273.6L268.2 271.3L268.1 268.3L268.2 265.3L268.6 263.0L269.4 261.0L270.3 259.3L271.6 257.9L273.1 256.8L274.8 256.0L276.8 255.5L279.4 255.3L282.1 255.5L284.1 256.0L285.8 256.8L287.3 257.9L288.6 259.3L289.5 261.0L290.3 263.0L290.7 265.3Z" fill="none" stroke="#3c95ee" stroke-width="0.45" opacity="0.5"/>
<path d="M289.5 268.3L289.4 271.0L289.0 273.0L288.4 274.8L287.5 276.3L286.4 277.6L285.1 278.6L283.5 279.3L281.7 279.8L279.4 279.9L277.0 279.8L275.2 279.3L273.7 278.6L272.4 277.6L271.3 276.3L270.4 274.8L269.7 273.0L269.4 271.0L269.2 268.3L269.4 265.6L269.7 263.6L270.4 261.8L271.3 260.3L272.4 259.0L273.7 258.0L275.2 257.3L277.0 256.8L279.4 256.7L281.7 256.8L283.5 257.3L285.1 258.0L286.4 259.0L287.5 260.3L288.4 261.8L289.0 263.6L289.4 265.6Z" fill="none" stroke="#3c95ee" stroke-width="0.45" opacity="0.5"/>
<path d="M288.2 268.3L288.1 270.7L287.8 272.5L287.2 274.0L286.5 275.4L285.5 276.5L284.3 277.3L283.0 278.0L281.4 278.4L279.3 278.5L277.2 278.4L275.7 278.0L274.3 277.3L273.1 276.5L272.2 275.4L271.4 274.0L270.8 272.5L270.5 270.7L270.4 268.3L270.5 265.9L270.8 264.1L271.4 262.6L272.2 261.2L273.1 260.1L274.3 259.3L275.7 258.6L277.2 258.2L279.3 258.1L281.4 258.2L283.0 258.6L284.3 259.3L285.5 260.1L286.5 261.2L287.2 262.6L287.8 264.1L288.1 265.9Z" fill="none" stroke="#3c95ee" stroke-width="0.45" opacity="0.5"/>
<path d="M286.9 268.3L286.8 270.3L286.6 271.9L286.1 273.2L285.4 274.4L284.6 275.3L283.6 276.1L282.4 276.7L281.0 277.0L279.2 277.1L277.4 277.0L276.1 276.7L274.9 276.1L273.9 275.3L273.1 274.4L272.4 273.2L271.9 271.9L271.6 270.3L271.5 268.3L271.6 266.3L271.9 264.7L272.4 263.4L273.1 262.2L273.9 261.3L274.9 260.5L276.1 259.9L277.4 259.6L279.2 259.5L281.0 259.6L282.4 259.9L283.6 260.5L284.6 261.3L285.4 262.2L286.1 263.4L286.6 264.7L286.8 266.3Z" fill="none" stroke="#3c95ee" stroke-width="0.45" opacity="0.5"/>
<path d="M285.6 268.3L285.6 270.0L285.3 271.3L284.9 272.5L284.4 273.4L283.7 274.2L282.8 274.9L281.8 275.3L280.7 275.6L279.2 275.7L277.7 275.6L276.5 275.3L275.5 274.9L274.7 274.2L274.0 273.4L273.4 272.5L273.0 271.3L272.8 270.0L272.7 268.3L272.8 266.6L273.0 265.3L273.4 264.1L274.0 263.2L274.7 262.4L275.5 261.7L276.5 261.3L277.7 261.0L279.2 260.9L280.7 261.0L281.8 261.3L282.8 261.7L283.7 262.4L284.4 263.2L284.9 264.1L285.3 265.3L285.6 266.6Z" fill="none" stroke="#3c95ee" stroke-width="0.45" opacity="0.5"/>
<path d="M284.4 268.3L284.3 269.7L284.1 270.8L283.8 271.7L283.3 272.5L282.7 273.1L282.0 273.6L281.2 274.0L280.3 274.2L279.1 274.3L277.9 274.2L277.0 274.0L276.2 273.6L275.5 273.1L274.9 272.5L274.4 271.7L274.1 270.8L273.9 269.7L273.9 268.3L273.9 266.9L274.1 265.8L274.4 264.9L274.9 264.1L275.5 263.5L276.2 263.0L277.0 262.6L277.9 262.4L279.1 262.3L280.3 262.4L281.2 262.6L282.0 263.0L282.7 263.5L283.3 264.1L283.8 264.9L284.1 265.8L284.3 266.9Z" fill="none" stroke="#3c95ee" stroke-width="0.45" opacity="0.5"/>
<path d="M283.1 268.3L283.0 269.4L282.9 270.2L282.6 270.9L282.3 271.5L281.8 272.0L281.3 272.4L280.7 272.7L280.0 272.8L279.0 272.9L278.1 272.8L277.4 272.7L276.8 272.4L276.2 272.0L275.8 271.5L275.5 270.9L275.2 270.2L275.1 269.4L275.0 268.3L275.1 267.2L275.2 266.4L275.5 265.7L275.8 265.1L276.2 264.6L276.8 264.2L277.4 263.9L278.1 263.8L279.0 263.7L280.0 263.8L280.7 263.9L281.3 264.2L281.8 264.6L282.3 265.1L282.6 265.7L282.9 266.4L283.0 267.2Z" fill="none" stroke="#3c95ee" stroke-width="0.45" opacity="0.5"/>
<path d="M293.6 268.5L293.4 272.2L292.9 275.0L292.0 277.5L290.8 279.6L289.3 281.3L287.5 282.7L285.3 283.7L282.9 284.3L279.6 284.5L276.3 284.3L273.9 283.7L271.7 282.7L269.9 281.3L268.4 279.6L267.2 277.5L266.3 275.0L265.8 272.2L265.6 268.5L265.8 264.8L266.3 262.0L267.2 259.5L268.4 257.4L269.9 255.7L271.7 254.3L273.9 253.3L276.3 252.7L279.6 252.5L282.9 252.7L285.3 253.3L287.5 254.3L289.3 255.7L290.8 257.4L292.0 259.5L292.9 262.0L293.4 264.8Z" fill="none" stroke="#fff" stroke-width="1.1" opacity="0.85"/>
<path d="M287.2 268.5L287.1 270.6L286.8 272.2L286.3 273.6L285.6 274.7L284.7 275.7L283.7 276.5L282.5 277.0L281.1 277.4L279.3 277.5L277.5 277.4L276.1 277.0L274.9 276.5L273.9 275.7L273.0 274.7L272.3 273.6L271.8 272.2L271.5 270.6L271.4 268.5L271.5 266.4L271.8 264.8L272.3 263.4L273.0 262.3L273.9 261.3L274.9 260.5L276.1 260.0L277.5 259.6L279.3 259.5L281.1 259.6L282.5 260.0L283.7 260.5L284.7 261.3L285.6 262.3L286.3 263.4L286.8 264.8L287.1 266.4Z" fill="none" stroke="#fff" stroke-width="0.7" opacity="0.7"/>
<ellipse cx="279.3" cy="267.0" rx="2.2" ry="3" fill="#fff" opacity="0.8"/>
<path d="M292.2 257.9h.7v.7h-.7zM287.5 251.1h.7v.7h-.7zM270.0 261.8h.7v.7h-.7zM286.6 251.2h.7v.7h-.7zM284.5 261.4h.7v.7h-.7zM290.5 264.8h.7v.7h-.7zM283.4 266.2h.7v.7h-.7zM295.7 264.3h.7v.7h-.7zM278.6 288.6h.7v.7h-.7zM279.5 275.1h.7v.7h-.7zM271.8 270.1h.7v.7h-.7zM257.4 269.1h.7v.7h-.7zM272.7 252.4h.7v.7h-.7zM265.4 279.9h.7v.7h-.7zM282.8 252.2h.7v.7h-.7zM295.9 260.8h.7v.7h-.7zM275.3 270.6h.7v.7h-.7zM268.1 251.2h.7v.7h-.7zM271.8 280.3h.7v.7h-.7zM287.8 251.6h.7v.7h-.7zM290.2 268.4h.7v.7h-.7zM283.5 268.5h.7v.7h-.7zM282.7 257.6h.7v.7h-.7zM270.2 260.7h.7v.7h-.7zM275.3 274.4h.7v.7h-.7zM267.3 284.6h.7v.7h-.7zM272.8 261.9h.7v.7h-.7zM285.4 272.5h.7v.7h-.7zM275.6 256.9h.7v.7h-.7zM269.4 251.4h.7v.7h-.7zM289.6 279.3h.7v.7h-.7zM296.4 273.2h.7v.7h-.7zM281.9 275.9h.7v.7h-.7zM287.8 265.3h.7v.7h-.7zM282.1 290.4h.7v.7h-.7zM262.8 253.4h.7v.7h-.7zM269.7 275.8h.7v.7h-.7zM290.0 264.5h.7v.7h-.7zM285.1 267.5h.7v.7h-.7zM281.6 262.4h.7v.7h-.7zM278.5 268.0h.7v.7h-.7zM289.5 291.2h.7v.7h-.7zM261.7 273.5h.7v.7h-.7zM278.8 278.1h.7v.7h-.7zM288.8 276.1h.7v.7h-.7zM286.4 258.1h.7v.7h-.7zM262.7 285.4h.7v.7h-.7zM290.2 258.1h.7v.7h-.7zM291.0 274.9h.7v.7h-.7zM255.6 277.4h.7v.7h-.7zM269.5 280.1h.7v.7h-.7zM272.4 260.3h.7v.7h-.7zM264.2 265.7h.7v.7h-.7zM288.4 261.0h.7v.7h-.7zM261.2 290.3h.7v.7h-.7zM296.2 275.2h.7v.7h-.7zM273.7 255.4h.7v.7h-.7zM263.3 273.8h.7v.7h-.7zM291.1 257.0h.7v.7h-.7zM278.8 265.1h.7v.7h-.7zM276.4 273.2h.7v.7h-.7zM298.6 261.4h.7v.7h-.7zM286.8 279.3h.7v.7h-.7zM276.1 266.5h.7v.7h-.7zM266.1 279.2h.7v.7h-.7zM273.8 261.2h.7v.7h-.7zM279.4 259.1h.7v.7h-.7zM269.0 264.9h.7v.7h-.7zM292.8 265.9h.7v.7h-.7zM283.8 252.7h.7v.7h-.7zM260.4 286.9h.7v.7h-.7zM275.0 252.0h.7v.7h-.7zM277.8 274.3h.7v.7h-.7zM262.5 258.8h.7v.7h-.7zM281.3 258.4h.7v.7h-.7zM286.3 278.0h.7v.7h-.7zM283.0 263.5h.7v.7h-.7zM278.4 261.4h.7v.7h-.7zM277.6 271.3h.7v.7h-.7zM276.0 278.1h.7v.7h-.7zM303.3 262.3h.7v.7h-.7zM282.0 276.6h.7v.7h-.7zM284.9 265.5h.7v.7h-.7zM274.3 278.5h.7v.7h-.7zM284.7 273.3h.7v.7h-.7zM271.2 274.6h.7v.7h-.7zM286.3 266.1h.7v.7h-.7zM284.9 290.7h.7v.7h-.7zM261.0 274.3h.7v.7h-.7zM267.7 253.8h.7v.7h-.7zM276.6 273.7h.7v.7h-.7zM279.3 255.8h.7v.7h-.7zM265.2 262.2h.7v.7h-.7zM278.9 259.3h.7v.7h-.7zM264.6 286.3h.7v.7h-.7zM270.9 266.4h.7v.7h-.7zM273.6 261.9h.7v.7h-.7zM279.2 264.9h.7v.7h-.7zM284.7 255.6h.7v.7h-.7zM264.7 288.4h.7v.7h-.7zM278.1 276.0h.7v.7h-.7zM290.0 273.8h.7v.7h-.7zM279.1 251.7h.7v.7h-.7zM263.6 278.2h.7v.7h-.7zM285.2 274.0h.7v.7h-.7zM263.1 245.7h.7v.7h-.7zM268.8 255.6h.7v.7h-.7zM280.3 257.3h.7v.7h-.7zM293.8 261.5h.7v.7h-.7zM273.5 277.0h.7v.7h-.7zM281.9 258.6h.7v.7h-.7zM286.6 288.1h.7v.7h-.7zM267.1 265.4h.7v.7h-.7zM268.6 247.7h.7v.7h-.7zM284.8 275.3h.7v.7h-.7zM288.1 272.5h.7v.7h-.7zM259.6 267.7h.7v.7h-.7zM272.4 255.7h.7v.7h-.7zM268.3 276.0h.7v.7h-.7zM276.0 288.6h.7v.7h-.7zM283.3 248.0h.7v.7h-.7zM287.3 281.1h.7v.7h-.7zM279.1 255.3h.7v.7h-.7zM295.6 254.2h.7v.7h-.7zM278.0 248.0h.7v.7h-.7zM266.9 250.1h.7v.7h-.7zM289.2 280.4h.7v.7h-.7zM274.9 253.8h.7v.7h-.7zM278.2 272.0h.7v.7h-.7zM264.2 255.8h.7v.7h-.7zM277.8 275.4h.7v.7h-.7zM279.5 272.7h.7v.7h-.7zM266.9 241.8h.7v.7h-.7zM281.8 258.3h.7v.7h-.7zM277.6 264.0h.7v.7h-.7zM283.4 259.9h.7v.7h-.7zM292.6 268.3h.7v.7h-.7zM283.9 274.6h.7v.7h-.7zM288.7 272.3h.7v.7h-.7zM262.1 261.4h.7v.7h-.7zM296.6 273.0h.7v.7h-.7zM284.2 272.9h.7v.7h-.7zM272.7 260.8h.7v.7h-.7zM272.6 280.2h.7v.7h-.7zM282.3 286.8h.7v.7h-.7zM283.6 288.0h.7v.7h-.7zM283.2 255.5h.7v.7h-.7zM295.5 271.6h.7v.7h-.7zM290.2 270.3h.7v.7h-.7zM275.7 269.8h.7v.7h-.7zM268.0 255.4h.7v.7h-.7zM270.3 262.4h.7v.7h-.7zM265.8 266.9h.7v.7h-.7zM281.7 289.5h.7v.7h-.7zM296.5 267.5h.7v.7h-.7zM287.3 265.7h.7v.7h-.7zM282.6 267.6h.7v.7h-.7zM273.6 268.8h.7v.7h-.7zM264.6 272.7h.7v.7h-.7zM276.0 256.5h.7v.7h-.7zM275.3 273.9h.7v.7h-.7zM272.3 273.0h.7v.7h-.7zM284.3 284.6h.7v.7h-.7zM268.3 266.8h.7v.7h-.7zM283.7 283.9h.7v.7h-.7zM281.3 276.0h.7v.7h-.7zM264.6 261.8h.7v.7h-.7zM294.8 265.0h.7v.7h-.7zM299.7 260.3h.7v.7h-.7zM276.1 251.0h.7v.7h-.7zM284.9 270.8h.7v.7h-.7zM298.3 269.8h.7v.7h-.7zM276.4 253.0h.7v.7h-.7zM278.0 278.1h.7v.7h-.7zM286.0 281.1h.7v.7h-.7zM287.2 267.5h.7v.7h-.7zM284.6 269.8h.7v.7h-.7zM265.9 286.2h.7v.7h-.7zM282.4 256.8h.7v.7h-.7zM282.5 271.1h.7v.7h-.7zM288.4 283.4h.7v.7h-.7zM249.4 273.9h.7v.7h-.7zM293.6 257.9h.7v.7h-.7zM260.8 271.0h.7v.7h-.7zM282.1 271.7h.7v.7h-.7zM268.0 263.0h.7v.7h-.7zM280.7 276.0h.7v.7h-.7zM300.1 271.1h.7v.7h-.7zM273.0 242.8h.7v.7h-.7zM289.2 266.6h.7v.7h-.7zM277.7 257.4h.7v.7h-.7zM285.9 248.8h.7v.7h-.7zM279.9 269.3h.7v.7h-.7zM281.7 282.0h.7v.7h-.7zM277.8 269.0h.7v.7h-.7zM287.1 251.4h.7v.7h-.7zM276.0 268.7h.7v.7h-.7zM288.1 259.4h.7v.7h-.7zM286.6 272.1h.7v.7h-.7zM264.3 252.1h.7v.7h-.7zM264.9 269.5h.7v.7h-.7zM280.8 275.8h.7v.7h-.7zM286.8 262.1h.7v.7h-.7zM289.2 276.8h.7v.7h-.7zM283.4 273.1h.7v.7h-.7zM266.3 271.9h.7v.7h-.7zM268.7 255.2h.7v.7h-.7zM275.4 269.5h.7v.7h-.7zM278.3 264.5h.7v.7h-.7zM269.1 270.0h.7v.7h-.7zM271.6 252.9h.7v.7h-.7zM279.7 283.6h.7v.7h-.7zM274.9 256.6h.7v.7h-.7zM292.3 286.4h.7v.7h-.7zM275.9 265.7h.7v.7h-.7zM280.1 278.7h.7v.7h-.7zM283.1 248.4h.7v.7h-.7zM268.1 254.8h.7v.7h-.7zM283.0 269.1h.7v.7h-.7zM296.3 265.1h.7v.7h-.7zM281.8 268.8h.7v.7h-.7zM280.2 292.9h.7v.7h-.7zM281.6 283.8h.7v.7h-.7zM291.5 261.5h.7v.7h-.7zM285.5 263.9h.7v.7h-.7zM279.9 269.7h.7v.7h-.7zM279.0 262.9h.7v.7h-.7zM294.0 265.1h.7v.7h-.7zM285.7 286.1h.7v.7h-.7zM284.9 279.0h.7v.7h-.7zM292.4 279.7h.7v.7h-.7zM295.6 252.6h.7v.7h-.7zM297.9 268.3h.7v.7h-.7zM261.7 261.1h.7v.7h-.7zM265.2 267.8h.7v.7h-.7zM264.2 257.2h.7v.7h-.7zM281.7 269.7h.7v.7h-.7zM271.0 265.5h.7v.7h-.7zM277.8 268.8h.7v.7h-.7zM278.7 265.6h.7v.7h-.7zM287.4 250.7h.7v.7h-.7zM274.0 269.4h.7v.7h-.7zM274.9 262.0h.7v.7h-.7zM274.5 270.3h.7v.7h-.7zM291.0 266.0h.7v.7h-.7zM276.2 271.8h.7v.7h-.7zM276.4 247.1h.7v.7h-.7zM281.4 263.9h.7v.7h-.7zM273.2 274.8h.7v.7h-.7zM279.2 261.9h.7v.7h-.7zM257.5 249.4h.7v.7h-.7zM278.9 266.7h.7v.7h-.7zM283.1 270.4h.7v.7h-.7zM274.1 254.3h.7v.7h-.7zM268.1 266.5h.7v.7h-.7zM267.5 276.2h.7v.7h-.7zM265.8 248.7h.7v.7h-.7zM276.9 248.8h.7v.7h-.7zM294.7 257.3h.7v.7h-.7zM278.3 265.4h.7v.7h-.7zM270.8 248.9h.7v.7h-.7zM260.6 277.3h.7v.7h-.7zM288.8 291.4h.7v.7h-.7zM264.5 274.1h.7v.7h-.7zM278.7 277.1h.7v.7h-.7zM273.8 275.8h.7v.7h-.7zM287.6 274.5h.7v.7h-.7zM293.0 266.1h.7v.7h-.7zM293.9 260.4h.7v.7h-.7zM295.1 238.3h.7v.7h-.7zM278.9 259.4h.7v.7h-.7zM278.8 279.1h.7v.7h-.7zM285.8 269.0h.7v.7h-.7zM295.5 252.1h.7v.7h-.7zM270.8 284.3h.7v.7h-.7zM282.0 245.6h.7v.7h-.7zM282.1 255.2h.7v.7h-.7zM293.3 280.4h.7v.7h-.7zM273.4 282.0h.7v.7h-.7zM270.6 277.9h.7v.7h-.7zM284.5 266.6h.7v.7h-.7zM264.9 265.0h.7v.7h-.7zM256.4 261.9h.7v.7h-.7zM260.7 281.1h.7v.7h-.7zM269.3 241.7h.7v.7h-.7zM284.5 272.0h.7v.7h-.7zM273.8 290.9h.7v.7h-.7zM286.4 268.7h.7v.7h-.7zM272.5 236.1h.7v.7h-.7zM283.5 278.4h.7v.7h-.7zM273.0 252.7h.7v.7h-.7zM278.4 249.9h.7v.7h-.7zM278.9 276.3h.7v.7h-.7zM293.6 270.9h.7v.7h-.7zM280.7 276.1h.7v.7h-.7zM292.5 264.6h.7v.7h-.7zM266.8 259.5h.7v.7h-.7zM266.5 258.4h.7v.7h-.7zM277.6 271.7h.7v.7h-.7zM280.3 268.8h.7v.7h-.7zM275.3 272.6h.7v.7h-.7zM287.5 276.2h.7v.7h-.7zM293.5 264.9h.7v.7h-.7zM276.3 286.3h.7v.7h-.7zM280.8 272.5h.7v.7h-.7zM275.5 278.5h.7v.7h-.7zM274.9 257.1h.7v.7h-.7zM278.2 263.2h.7v.7h-.7zM287.0 263.9h.7v.7h-.7zM280.0 265.7h.7v.7h-.7zM282.1 261.2h.7v.7h-.7zM289.6 252.6h.7v.7h-.7zM275.0 260.3h.7v.7h-.7zM285.1 268.4h.7v.7h-.7zM283.6 264.4h.7v.7h-.7zM271.8 255.9h.7v.7h-.7zM275.5 262.2h.7v.7h-.7zM281.5 271.8h.7v.7h-.7zM288.4 266.8h.7v.7h-.7zM271.5 256.5h.7v.7h-.7zM279.4 271.9h.7v.7h-.7zM297.9 270.0h.7v.7h-.7zM296.0 288.2h.7v.7h-.7zM268.5 281.1h.7v.7h-.7zM289.9 282.5h.7v.7h-.7zM278.7 278.3h.7v.7h-.7zM274.1 267.2h.7v.7h-.7zM279.0 287.3h.7v.7h-.7zM276.7 278.3h.7v.7h-.7zM279.4 260.3h.7v.7h-.7zM281.2 275.1h.7v.7h-.7zM271.8 274.9h.7v.7h-.7zM271.8 258.5h.7v.7h-.7zM281.0 265.5h.7v.7h-.7zM269.2 250.4h.7v.7h-.7zM279.0 270.6h.7v.7h-.7zM274.3 270.0h.7v.7h-.7zM263.8 272.2h.7v.7h-.7zM282.9 271.0h.7v.7h-.7zM272.8 268.9h.7v.7h-.7zM280.1 279.5h.7v.7h-.7zM281.5 270.7h.7v.7h-.7zM271.7 277.3h.7v.7h-.7zM290.3 262.7h.7v.7h-.7zM285.1 271.3h.7v.7h-.7zM278.3 254.1h.7v.7h-.7zM296.0 247.9h.7v.7h-.7zM281.8 263.9h.7v.7h-.7zM290.0 263.4h.7v.7h-.7zM279.2 274.6h.7v.7h-.7zM283.3 262.4h.7v.7h-.7zM285.5 272.2h.7v.7h-.7zM288.5 262.5h.7v.7h-.7zM278.3 263.8h.7v.7h-.7zM270.6 270.7h.7v.7h-.7zM282.8 283.3h.7v.7h-.7zM275.6 272.2h.7v.7h-.7zM290.0 266.8h.7v.7h-.7zM279.4 269.4h.7v.7h-.7zM272.1 257.4h.7v.7h-.7zM289.7 269.9h.7v.7h-.7zM278.1 254.6h.7v.7h-.7zM280.0 280.6h.7v.7h-.7zM267.6 258.4h.7v.7h-.7zM289.6 283.4h.7v.7h-.7zM294.0 262.1h.7v.7h-.7zM284.7 259.9h.7v.7h-.7zM283.9 264.1h.7v.7h-.7zM280.7 282.4h.7v.7h-.7zM282.1 265.4h.7v.7h-.7zM279.3 270.9h.7v.7h-.7zM273.8 270.2h.7v.7h-.7zM284.7 284.8h.7v.7h-.7zM258.7 255.2h.7v.7h-.7zM266.7 277.4h.7v.7h-.7zM302.6 270.1h.7v.7h-.7zM280.0 280.2h.7v.7h-.7zM255.0 266.1h.7v.7h-.7zM248.4 269.7h.7v.7h-.7zM273.8 262.8h.7v.7h-.7zM282.1 261.7h.7v.7h-.7zM289.6 268.0h.7v.7h-.7zM282.5 295.2h.7v.7h-.7zM274.4 277.9h.7v.7h-.7zM270.8 281.4h.7v.7h-.7zM288.2 269.5h.7v.7h-.7zM288.4 285.3h.7v.7h-.7zM292.2 268.0h.7v.7h-.7zM278.3 279.9h.7v.7h-.7zM264.5 261.5h.7v.7h-.7zM283.5 274.1h.7v.7h-.7zM296.9 286.8h.7v.7h-.7zM282.0 272.7h.7v.7h-.7zM266.0 266.0h.7v.7h-.7zM281.3 265.6h.7v.7h-.7zM279.4 274.5h.7v.7h-.7zM269.6 261.9h.7v.7h-.7zM261.5 280.2h.7v.7h-.7zM268.6 249.8h.7v.7h-.7zM286.3 265.7h.7v.7h-.7zM288.2 264.1h.7v.7h-.7zM299.4 275.6h.7v.7h-.7zM280.3 269.2h.7v.7h-.7zM276.8 276.6h.7v.7h-.7zM298.2 263.5h.7v.7h-.7zM268.3 274.4h.7v.7h-.7zM289.1 252.1h.7v.7h-.7zM272.1 257.4h.7v.7h-.7zM284.2 273.4h.7v.7h-.7zM271.7 256.0h.7v.7h-.7zM285.4 246.1h.7v.7h-.7zM285.0 266.3h.7v.7h-.7zM297.4 278.6h.7v.7h-.7zM273.2 265.1h.7v.7h-.7zM276.1 260.2h.7v.7h-.7zM279.6 278.3h.7v.7h-.7zM264.2 265.6h.7v.7h-.7zM293.2 275.9h.7v.7h-.7zM270.9 259.4h.7v.7h-.7zM306.0 253.8h.7v.7h-.7zM311.2 268.6h.7v.7h-.7zM303.2 255.3h.7v.7h-.7zM297.6 263.5h.7v.7h-.7zM321.3 263.9h.7v.7h-.7zM292.8 277.5h.7v.7h-.7zM302.6 266.4h.7v.7h-.7zM329.5 280.4h.7v.7h-.7zM301.4 264.2h.7v.7h-.7zM292.4 259.5h.7v.7h-.7zM306.7 254.9h.7v.7h-.7zM299.7 272.6h.7v.7h-.7zM293.9 274.9h.7v.7h-.7zM300.3 269.1h.7v.7h-.7zM306.4 273.2h.7v.7h-.7zM311.8 273.6h.7v.7h-.7zM312.9 263.8h.7v.7h-.7zM308.1 279.1h.7v.7h-.7zM301.1 270.1h.7v.7h-.7zM294.2 268.2h.7v.7h-.7zM295.6 263.2h.7v.7h-.7zM322.3 284.8h.7v.7h-.7zM294.4 251.0h.7v.7h-.7zM306.8 258.1h.7v.7h-.7zM303.9 245.5h.7v.7h-.7zM301.0 282.5h.7v.7h-.7zM295.1 274.6h.7v.7h-.7zM301.4 257.0h.7v.7h-.7zM312.3 253.1h.7v.7h-.7zM301.0 264.8h.7v.7h-.7zM313.0 269.0h.7v.7h-.7zM293.0 260.9h.7v.7h-.7zM292.4 268.4h.7v.7h-.7zM303.7 280.3h.7v.7h-.7zM303.8 268.2h.7v.7h-.7zM293.5 282.1h.7v.7h-.7zM294.3 267.9h.7v.7h-.7zM322.5 281.8h.7v.7h-.7zM300.8 267.0h.7v.7h-.7zM302.0 277.4h.7v.7h-.7zM298.8 276.5h.7v.7h-.7zM304.6 268.9h.7v.7h-.7zM297.9 269.3h.7v.7h-.7zM294.9 271.4h.7v.7h-.7zM310.6 258.2h.7v.7h-.7zM293.4 283.9h.7v.7h-.7zM293.0 259.8h.7v.7h-.7zM302.4 268.3h.7v.7h-.7zM311.6 263.0h.7v.7h-.7zM300.7 269.6h.7v.7h-.7zM297.1 259.7h.7v.7h-.7zM293.5 261.6h.7v.7h-.7zM300.3 252.5h.7v.7h-.7zM310.6 274.7h.7v.7h-.7zM301.0 281.2h.7v.7h-.7zM301.4 253.0h.7v.7h-.7zM291.7 272.0h.7v.7h-.7zM302.8 258.1h.7v.7h-.7zM298.4 272.5h.7v.7h-.7zM298.3 265.9h.7v.7h-.7zM299.7 263.0h.7v.7h-.7zM291.8 277.4h.7v.7h-.7zM319.1 265.0h.7v.7h-.7zM319.2 270.8h.7v.7h-.7zM293.5 275.3h.7v.7h-.7zM308.4 257.4h.7v.7h-.7zM319.9 255.2h.7v.7h-.7zM295.2 275.5h.7v.7h-.7zM298.1 262.0h.7v.7h-.7zM297.9 273.4h.7v.7h-.7zM295.3 251.3h.7v.7h-.7zM300.4 245.8h.7v.7h-.7zM295.1 260.6h.7v.7h-.7zM302.3 281.2h.7v.7h-.7zM314.0 272.2h.7v.7h-.7zM295.6 269.5h.7v.7h-.7zM301.1 267.6h.7v.7h-.7zM324.3 260.3h.7v.7h-.7zM302.4 269.4h.7v.7h-.7zM306.4 275.3h.7v.7h-.7zM307.7 266.9h.7v.7h-.7zM295.4 257.2h.7v.7h-.7zM292.2 263.8h.7v.7h-.7zM306.9 271.8h.7v.7h-.7zM304.5 268.7h.7v.7h-.7zM297.0 262.4h.7v.7h-.7zM299.3 277.3h.7v.7h-.7zM298.0 253.0h.7v.7h-.7zM304.4 275.1h.7v.7h-.7zM328.5 258.8h.7v.7h-.7zM297.0 265.1h.7v.7h-.7zM315.4 271.5h.7v.7h-.7zM291.7 270.4h.7v.7h-.7zM330.0 265.7h.7v.7h-.7zM304.7 275.3h.7v.7h-.7zM301.9 262.8h.7v.7h-.7zM318.1 274.3h.7v.7h-.7zM293.3 258.4h.7v.7h-.7zM306.3 272.6h.7v.7h-.7zM329.3 280.9h.7v.7h-.7zM304.9 270.3h.7v.7h-.7zM291.9 263.2h.7v.7h-.7zM296.2 270.1h.7v.7h-.7zM302.2 277.5h.7v.7h-.7zM296.3 263.3h.7v.7h-.7zM304.9 281.6h.7v.7h-.7zM305.4 271.7h.7v.7h-.7zM300.4 272.7h.7v.7h-.7zM299.6 267.2h.7v.7h-.7zM292.6 282.8h.7v.7h-.7zM321.1 255.7h.7v.7h-.7zM335.2 271.8h.7v.7h-.7zM302.6 263.5h.7v.7h-.7zM318.7 271.1h.7v.7h-.7zM291.8 263.3h.7v.7h-.7zM306.5 289.3h.7v.7h-.7zM316.6 278.3h.7v.7h-.7zM298.0 273.8h.7v.7h-.7zM291.5 278.1h.7v.7h-.7zM301.0 267.7h.7v.7h-.7zM300.5 261.7h.7v.7h-.7zM304.7 281.2h.7v.7h-.7zM297.1 272.9h.7v.7h-.7zM319.9 276.2h.7v.7h-.7zM306.2 259.1h.7v.7h-.7zM321.3 269.0h.7v.7h-.7zM321.1 256.0h.7v.7h-.7zM306.1 265.6h.7v.7h-.7zM310.1 254.4h.7v.7h-.7zM292.5 276.5h.7v.7h-.7zM302.6 274.0h.7v.7h-.7zM297.1 271.0h.7v.7h-.7zM296.4 287.5h.7v.7h-.7zM312.5 274.8h.7v.7h-.7zM313.8 258.2h.7v.7h-.7zM292.2 288.2h.7v.7h-.7zM309.2 242.1h.7v.7h-.7zM294.9 253.1h.7v.7h-.7zM296.1 261.7h.7v.7h-.7zM300.6 260.7h.7v.7h-.7zM295.9 263.9h.7v.7h-.7zM306.6 266.0h.7v.7h-.7zM297.9 260.5h.7v.7h-.7zM310.2 253.5h.7v.7h-.7zM297.9 264.6h.7v.7h-.7zM318.3 262.4h.7v.7h-.7zM302.4 256.3h.7v.7h-.7zM325.5 273.4h.7v.7h-.7zM309.8 265.1h.7v.7h-.7zM307.5 281.3h.7v.7h-.7zM298.1 250.2h.7v.7h-.7zM294.5 276.0h.7v.7h-.7zM290.8 272.1h.7v.7h-.7zM292.7 269.8h.7v.7h-.7zM294.5 261.8h.7v.7h-.7zM296.9 269.4h.7v.7h-.7zM291.5 262.0h.7v.7h-.7zM308.5 270.2h.7v.7h-.7zM305.2 246.9h.7v.7h-.7zM300.2 279.8h.7v.7h-.7z" fill="#3c95ee" opacity="0.78"/>
<path d="M298.40 297.30V237.20H386.50V297.30" fill="none" stroke="#222" stroke-width="0.9"/>
<text x="250.50" y="240.50" font-size="14" fill="#111">2.23</text>
<line x1="246.30" y1="227.40" x2="246.30" y2="297.30" stroke="#777" stroke-width="0.8"/>
<line x1="243.30" y1="227.70" x2="246.30" y2="227.70" stroke="#222" stroke-width="1.2"/>
<text x="230.30" y="236.00" font-size="5.4" fill="#777">10</text>
<text x="236.70" y="232.60" font-size="4.4" fill="#777">5</text>
<line x1="243.30" y1="261.90" x2="246.30" y2="261.90" stroke="#222" stroke-width="1.2"/>
<text x="230.30" y="265.50" font-size="5.4" fill="#777">10</text>
<text x="236.70" y="262.10" font-size="4.4" fill="#777">4</text>
<line x1="243.30" y1="297.00" x2="246.30" y2="297.00" stroke="#222" stroke-width="1.2"/>
<text x="230.30" y="296.70" font-size="5.4" fill="#777">10</text>
<text x="236.70" y="293.30" font-size="4.4" fill="#777">3</text>
<line x1="244.50" y1="251.57" x2="246.30" y2="251.57" stroke="#555" stroke-width="0.6"/>
<line x1="244.50" y1="245.53" x2="246.30" y2="245.53" stroke="#555" stroke-width="0.6"/>
<line x1="244.50" y1="241.25" x2="246.30" y2="241.25" stroke="#555" stroke-width="0.6"/>
<line x1="244.50" y1="237.93" x2="246.30" y2="237.93" stroke="#555" stroke-width="0.6"/>
<line x1="244.50" y1="235.21" x2="246.30" y2="235.21" stroke="#555" stroke-width="0.6"/>
<line x1="244.50" y1="232.91" x2="246.30" y2="232.91" stroke="#555" stroke-width="0.6"/>
<line x1="244.50" y1="230.92" x2="246.30" y2="230.92" stroke="#555" stroke-width="0.6"/>
<line x1="244.50" y1="229.17" x2="246.30" y2="229.17" stroke="#555" stroke-width="0.6"/>
<line x1="244.50" y1="286.97" x2="246.30" y2="286.97" stroke="#555" stroke-width="0.6"/>
<line x1="244.50" y1="280.93" x2="246.30" y2="280.93" stroke="#555" stroke-width="0.6"/>
<line x1="244.50" y1="276.65" x2="246.30" y2="276.65" stroke="#555" stroke-width="0.6"/>
<line x1="244.50" y1="273.33" x2="246.30" y2="273.33" stroke="#555" stroke-width="0.6"/>
<line x1="244.50" y1="270.61" x2="246.30" y2="270.61" stroke="#555" stroke-width="0.6"/>
<line x1="244.50" y1="268.31" x2="246.30" y2="268.31" stroke="#555" stroke-width="0.6"/>
<line x1="244.50" y1="266.32" x2="246.30" y2="266.32" stroke="#555" stroke-width="0.6"/>
<line x1="244.50" y1="264.57" x2="246.30" y2="264.57" stroke="#555" stroke-width="0.6"/>
<rect x="246.30" y="297.30" width="140.20" height="69.90" fill="none" stroke="#c4c4c4" stroke-width="0.8"/>
<ellipse cx="278.8" cy="337.9" rx="21.0" ry="23" fill="url(#g04)"/>
<ellipse cx="278.8" cy="337.9" rx="10.5" ry="12.0" fill="#f2a8a8" opacity="0.35"/>
<path d="M297.3 338.2L297.1 342.8L296.4 346.4L295.3 349.4L293.8 352.0L291.9 354.2L289.6 355.9L287.0 357.2L283.9 357.9L279.8 358.2L275.7 357.9L272.6 357.2L270.0 355.9L267.7 354.2L265.8 352.0L264.3 349.4L263.2 346.4L262.5 342.8L262.3 338.2L262.5 333.6L263.2 330.0L264.3 327.0L265.8 324.4L267.7 322.2L270.0 320.5L272.6 319.2L275.7 318.5L279.8 318.2L283.9 318.5L287.0 319.2L289.6 320.5L291.9 322.2L293.8 324.4L295.3 327.0L296.4 330.0L297.1 333.6Z" fill="none" stroke="#e04848" stroke-width="0.45" opacity="0.6"/>
<path d="M296.0 338.2L295.8 342.5L295.2 345.8L294.2 348.6L292.8 351.1L291.0 353.1L288.9 354.7L286.4 355.9L283.5 356.6L279.7 356.8L275.9 356.6L273.1 355.9L270.6 354.7L268.5 353.1L266.7 351.1L265.3 348.6L264.3 345.8L263.7 342.5L263.5 338.2L263.7 333.9L264.3 330.6L265.3 327.8L266.7 325.3L268.5 323.3L270.6 321.7L273.1 320.5L275.9 319.8L279.7 319.6L283.5 319.8L286.4 320.5L288.9 321.7L291.0 323.3L292.8 325.3L294.2 327.8L295.2 330.6L295.8 333.9Z" fill="none" stroke="#e04848" stroke-width="0.45" opacity="0.6"/>
<path d="M294.7 338.2L294.5 342.2L293.9 345.2L293.0 347.9L291.7 350.1L290.1 352.0L288.1 353.5L285.8 354.5L283.2 355.2L279.7 355.4L276.2 355.2L273.5 354.5L271.2 353.5L269.2 352.0L267.6 350.1L266.3 347.9L265.4 345.2L264.8 342.2L264.6 338.2L264.8 334.2L265.4 331.2L266.3 328.5L267.6 326.3L269.2 324.4L271.2 322.9L273.5 321.9L276.2 321.2L279.7 321.0L283.2 321.2L285.8 321.9L288.1 322.9L290.1 324.4L291.7 326.3L293.0 328.5L293.9 331.2L294.5 334.2Z" fill="none" stroke="#e04848" stroke-width="0.45" opacity="0.6"/>
<path d="M293.4 338.2L293.2 341.9L292.7 344.7L291.9 347.1L290.7 349.1L289.2 350.9L287.3 352.2L285.2 353.2L282.8 353.8L279.6 354.0L276.4 353.8L273.9 353.2L271.8 352.2L270.0 350.9L268.5 349.1L267.3 347.1L266.5 344.7L265.9 341.9L265.8 338.2L265.9 334.5L266.5 331.7L267.3 329.3L268.5 327.3L270.0 325.5L271.8 324.2L273.9 323.2L276.4 322.6L279.6 322.4L282.8 322.6L285.2 323.2L287.3 324.2L289.2 325.5L290.7 327.3L291.9 329.3L292.7 331.7L293.2 334.5Z" fill="none" stroke="#e04848" stroke-width="0.45" opacity="0.6"/>
<path d="M292.1 338.2L292.0 341.5L291.5 344.1L290.7 346.3L289.6 348.2L288.2 349.7L286.6 351.0L284.7 351.9L282.4 352.4L279.5 352.6L276.6 352.4L274.4 351.9L272.4 351.0L270.8 349.7L269.4 348.2L268.3 346.3L267.6 344.1L267.1 341.5L266.9 338.2L267.1 334.9L267.6 332.3L268.3 330.1L269.4 328.2L270.8 326.7L272.4 325.4L274.4 324.5L276.6 324.0L279.5 323.8L282.4 324.0L284.7 324.5L286.6 325.4L288.2 326.7L289.6 328.2L290.7 330.1L291.5 332.3L292.0 334.9Z" fill="none" stroke="#e04848" stroke-width="0.45" opacity="0.6"/>
<path d="M290.8 338.2L290.7 341.2L290.3 343.5L289.5 345.5L288.6 347.2L287.3 348.6L285.8 349.7L284.1 350.5L282.1 351.0L279.5 351.2L276.8 351.0L274.8 350.5L273.1 349.7L271.6 348.6L270.3 347.2L269.4 345.5L268.6 343.5L268.2 341.2L268.1 338.2L268.2 335.2L268.6 332.9L269.4 330.9L270.3 329.2L271.6 327.8L273.1 326.7L274.8 325.9L276.8 325.4L279.4 325.2L282.1 325.4L284.1 325.9L285.8 326.7L287.3 327.8L288.6 329.2L289.5 330.9L290.3 332.9L290.7 335.2Z" fill="none" stroke="#e04848" stroke-width="0.45" opacity="0.5"/>
<path d="M289.5 338.2L289.4 340.9L289.0 342.9L288.4 344.7L287.5 346.2L286.4 347.5L285.1 348.5L283.5 349.2L281.7 349.7L279.4 349.8L277.0 349.7L275.2 349.2L273.7 348.5L272.4 347.5L271.3 346.2L270.4 344.7L269.7 342.9L269.4 340.9L269.2 338.2L269.4 335.5L269.7 333.5L270.4 331.7L271.3 330.2L272.4 328.9L273.7 327.9L275.2 327.2L277.0 326.7L279.4 326.6L281.7 326.7L283.5 327.2L285.1 327.9L286.4 328.9L287.5 330.2L288.4 331.7L289.0 333.5L289.4 335.5Z" fill="none" stroke="#e04848" stroke-width="0.45" opacity="0.5"/>
<path d="M288.2 338.2L288.1 340.6L287.8 342.4L287.2 343.9L286.5 345.3L285.5 346.4L284.3 347.2L283.0 347.9L281.4 348.3L279.3 348.4L277.2 348.3L275.7 347.9L274.3 347.2L273.1 346.4L272.2 345.3L271.4 343.9L270.8 342.4L270.5 340.6L270.4 338.2L270.5 335.8L270.8 334.0L271.4 332.5L272.2 331.1L273.1 330.0L274.3 329.2L275.7 328.5L277.2 328.1L279.3 328.0L281.4 328.1L283.0 328.5L284.3 329.2L285.5 330.0L286.5 331.1L287.2 332.5L287.8 334.0L288.1 335.8Z" fill="none" stroke="#e04848" stroke-width="0.45" opacity="0.5"/>
<path d="M286.9 338.2L286.8 340.2L286.6 341.8L286.1 343.1L285.4 344.3L284.6 345.2L283.6 346.0L282.4 346.6L281.0 346.9L279.2 347.0L277.4 346.9L276.1 346.6L274.9 346.0L273.9 345.2L273.1 344.3L272.4 343.1L271.9 341.8L271.6 340.2L271.5 338.2L271.6 336.2L271.9 334.6L272.4 333.3L273.1 332.1L273.9 331.2L274.9 330.4L276.1 329.8L277.4 329.5L279.2 329.4L281.0 329.5L282.4 329.8L283.6 330.4L284.6 331.2L285.4 332.1L286.1 333.3L286.6 334.6L286.8 336.2Z" fill="none" stroke="#e04848" stroke-width="0.45" opacity="0.5"/>
<path d="M285.6 338.2L285.6 339.9L285.3 341.2L284.9 342.4L284.4 343.3L283.7 344.1L282.8 344.8L281.8 345.2L280.7 345.5L279.2 345.6L277.7 345.5L276.5 345.2L275.5 344.8L274.7 344.1L274.0 343.3L273.4 342.4L273.0 341.2L272.8 339.9L272.7 338.2L272.8 336.5L273.0 335.2L273.4 334.0L274.0 333.1L274.7 332.3L275.5 331.6L276.5 331.2L277.7 330.9L279.2 330.8L280.7 330.9L281.8 331.2L282.8 331.6L283.7 332.3L284.4 333.1L284.9 334.0L285.3 335.2L285.6 336.5Z" fill="none" stroke="#e04848" stroke-width="0.45" opacity="0.5"/>
<path d="M284.4 338.2L284.3 339.6L284.1 340.7L283.8 341.6L283.3 342.4L282.7 343.0L282.0 343.5L281.2 343.9L280.3 344.1L279.1 344.2L277.9 344.1L277.0 343.9L276.2 343.5L275.5 343.0L274.9 342.4L274.4 341.6L274.1 340.7L273.9 339.6L273.9 338.2L273.9 336.8L274.1 335.7L274.4 334.8L274.9 334.0L275.5 333.4L276.2 332.9L277.0 332.5L277.9 332.3L279.1 332.2L280.3 332.3L281.2 332.5L282.0 332.9L282.7 333.4L283.3 334.0L283.8 334.8L284.1 335.7L284.3 336.8Z" fill="none" stroke="#e04848" stroke-width="0.45" opacity="0.5"/>
<path d="M283.1 338.2L283.0 339.3L282.9 340.1L282.6 340.8L282.3 341.4L281.8 341.9L281.3 342.3L280.7 342.6L280.0 342.7L279.0 342.8L278.1 342.7L277.4 342.6L276.8 342.3L276.2 341.9L275.8 341.4L275.5 340.8L275.2 340.1L275.1 339.3L275.0 338.2L275.1 337.1L275.2 336.3L275.5 335.6L275.8 335.0L276.2 334.5L276.8 334.1L277.4 333.8L278.1 333.7L279.0 333.6L280.0 333.7L280.7 333.8L281.3 334.1L281.8 334.5L282.3 335.0L282.6 335.6L282.9 336.3L283.0 337.1Z" fill="none" stroke="#e04848" stroke-width="0.45" opacity="0.5"/>
<path d="M293.6 338.4L293.4 342.1L292.9 344.9L292.0 347.4L290.8 349.5L289.3 351.2L287.5 352.6L285.3 353.6L282.9 354.2L279.6 354.4L276.3 354.2L273.9 353.6L271.7 352.6L269.9 351.2L268.4 349.5L267.2 347.4L266.3 344.9L265.8 342.1L265.6 338.4L265.8 334.7L266.3 331.9L267.2 329.4L268.4 327.3L269.9 325.6L271.7 324.2L273.9 323.2L276.3 322.6L279.6 322.4L282.9 322.6L285.3 323.2L287.5 324.2L289.3 325.6L290.8 327.3L292.0 329.4L292.9 331.9L293.4 334.7Z" fill="none" stroke="#fff" stroke-width="1.1" opacity="0.85"/>
<path d="M287.2 338.4L287.1 340.5L286.8 342.1L286.3 343.5L285.6 344.6L284.7 345.6L283.7 346.4L282.5 346.9L281.1 347.3L279.3 347.4L277.5 347.3L276.1 346.9L274.9 346.4L273.9 345.6L273.0 344.6L272.3 343.5L271.8 342.1L271.5 340.5L271.4 338.4L271.5 336.3L271.8 334.7L272.3 333.3L273.0 332.2L273.9 331.2L274.9 330.4L276.1 329.9L277.5 329.5L279.3 329.4L281.1 329.5L282.5 329.9L283.7 330.4L284.7 331.2L285.6 332.2L286.3 333.3L286.8 334.7L287.1 336.3Z" fill="none" stroke="#fff" stroke-width="0.7" opacity="0.7"/>
<ellipse cx="279.3" cy="336.9" rx="2.2" ry="3" fill="#fff" opacity="0.8"/>
<path d="M287.5 330.4h.7v.7h-.7zM291.7 327.5h.7v.7h-.7zM271.3 358.3h.7v.7h-.7zM274.6 335.6h.7v.7h-.7zM263.1 327.3h.7v.7h-.7zM267.6 336.5h.7v.7h-.7zM261.3 349.1h.7v.7h-.7zM275.4 331.5h.7v.7h-.7zM272.8 345.7h.7v.7h-.7zM293.4 333.6h.7v.7h-.7zM294.2 354.8h.7v.7h-.7zM291.6 341.0h.7v.7h-.7zM264.6 345.0h.7v.7h-.7zM274.9 339.9h.7v.7h-.7zM260.8 334.9h.7v.7h-.7zM281.0 328.1h.7v.7h-.7zM281.6 355.5h.7v.7h-.7zM281.0 330.7h.7v.7h-.7zM301.5 315.3h.7v.7h-.7zM270.0 342.2h.7v.7h-.7zM273.2 313.8h.7v.7h-.7zM281.3 346.6h.7v.7h-.7zM271.2 353.3h.7v.7h-.7zM283.6 350.4h.7v.7h-.7zM264.2 337.9h.7v.7h-.7zM294.1 359.1h.7v.7h-.7zM291.4 337.9h.7v.7h-.7zM280.5 331.3h.7v.7h-.7zM289.3 330.6h.7v.7h-.7zM280.0 316.2h.7v.7h-.7zM264.4 356.6h.7v.7h-.7zM279.4 340.2h.7v.7h-.7zM257.8 337.6h.7v.7h-.7zM298.6 322.2h.7v.7h-.7zM256.1 336.2h.7v.7h-.7zM273.7 335.7h.7v.7h-.7zM266.8 323.6h.7v.7h-.7zM267.0 344.7h.7v.7h-.7zM278.3 346.6h.7v.7h-.7zM268.5 344.1h.7v.7h-.7zM274.6 338.8h.7v.7h-.7zM287.7 338.3h.7v.7h-.7zM275.4 320.3h.7v.7h-.7zM279.4 346.2h.7v.7h-.7zM272.7 337.2h.7v.7h-.7zM261.9 323.8h.7v.7h-.7zM282.7 351.6h.7v.7h-.7zM275.8 320.2h.7v.7h-.7zM275.2 321.4h.7v.7h-.7zM276.2 358.3h.7v.7h-.7zM281.7 336.3h.7v.7h-.7zM288.7 333.9h.7v.7h-.7zM282.0 340.0h.7v.7h-.7zM283.1 322.3h.7v.7h-.7zM285.6 347.2h.7v.7h-.7zM256.9 309.2h.7v.7h-.7zM270.2 353.7h.7v.7h-.7zM279.0 345.1h.7v.7h-.7zM284.1 347.3h.7v.7h-.7zM272.7 331.7h.7v.7h-.7zM282.4 344.4h.7v.7h-.7zM284.3 341.5h.7v.7h-.7zM274.1 349.6h.7v.7h-.7zM283.3 349.2h.7v.7h-.7zM254.3 348.6h.7v.7h-.7zM255.3 340.1h.7v.7h-.7zM272.4 339.2h.7v.7h-.7zM274.2 334.6h.7v.7h-.7zM280.7 341.6h.7v.7h-.7zM271.1 311.0h.7v.7h-.7zM271.3 343.7h.7v.7h-.7zM270.7 342.5h.7v.7h-.7zM275.2 327.9h.7v.7h-.7zM290.1 355.5h.7v.7h-.7zM277.8 337.4h.7v.7h-.7zM288.1 323.8h.7v.7h-.7zM270.4 350.0h.7v.7h-.7zM287.5 332.6h.7v.7h-.7zM271.3 341.6h.7v.7h-.7zM265.2 332.6h.7v.7h-.7zM276.6 311.6h.7v.7h-.7zM284.5 346.1h.7v.7h-.7zM289.1 322.6h.7v.7h-.7zM266.4 329.2h.7v.7h-.7zM266.2 359.8h.7v.7h-.7zM269.3 334.6h.7v.7h-.7zM280.8 342.8h.7v.7h-.7zM292.9 326.3h.7v.7h-.7zM287.3 339.5h.7v.7h-.7zM267.4 339.5h.7v.7h-.7zM265.2 355.3h.7v.7h-.7zM271.7 348.7h.7v.7h-.7zM291.4 331.3h.7v.7h-.7zM270.1 339.3h.7v.7h-.7zM268.6 347.5h.7v.7h-.7zM280.5 329.7h.7v.7h-.7zM272.1 345.7h.7v.7h-.7zM264.7 356.0h.7v.7h-.7zM271.2 335.8h.7v.7h-.7zM269.8 355.3h.7v.7h-.7zM286.8 351.9h.7v.7h-.7zM285.2 338.9h.7v.7h-.7zM295.3 345.0h.7v.7h-.7zM283.1 344.1h.7v.7h-.7zM286.0 340.9h.7v.7h-.7zM277.2 320.8h.7v.7h-.7zM298.9 323.9h.7v.7h-.7zM257.8 330.2h.7v.7h-.7zM297.7 351.0h.7v.7h-.7zM272.9 340.7h.7v.7h-.7zM278.6 316.5h.7v.7h-.7zM275.5 341.0h.7v.7h-.7zM290.2 325.0h.7v.7h-.7zM256.8 320.9h.7v.7h-.7zM282.0 338.8h.7v.7h-.7zM280.3 339.5h.7v.7h-.7zM275.2 323.2h.7v.7h-.7zM283.2 342.1h.7v.7h-.7zM284.4 351.3h.7v.7h-.7zM266.7 312.7h.7v.7h-.7zM261.4 361.0h.7v.7h-.7zM269.9 342.2h.7v.7h-.7zM278.7 345.8h.7v.7h-.7zM310.2 332.3h.7v.7h-.7zM277.1 331.5h.7v.7h-.7zM281.2 343.5h.7v.7h-.7zM269.3 352.1h.7v.7h-.7zM290.0 342.7h.7v.7h-.7zM277.7 335.3h.7v.7h-.7zM262.7 345.0h.7v.7h-.7zM269.3 332.5h.7v.7h-.7zM288.6 328.0h.7v.7h-.7zM273.7 347.2h.7v.7h-.7zM297.0 330.4h.7v.7h-.7zM289.6 330.8h.7v.7h-.7zM282.6 343.1h.7v.7h-.7zM267.6 349.0h.7v.7h-.7zM296.4 338.5h.7v.7h-.7zM281.4 325.2h.7v.7h-.7zM296.3 338.6h.7v.7h-.7zM266.3 346.2h.7v.7h-.7zM264.5 330.5h.7v.7h-.7zM257.9 352.8h.7v.7h-.7zM300.5 331.0h.7v.7h-.7zM272.4 331.7h.7v.7h-.7zM273.3 343.9h.7v.7h-.7zM293.1 327.0h.7v.7h-.7zM283.1 318.4h.7v.7h-.7zM293.7 336.9h.7v.7h-.7zM271.9 354.4h.7v.7h-.7zM277.8 352.7h.7v.7h-.7zM289.3 355.8h.7v.7h-.7zM271.0 338.5h.7v.7h-.7zM282.4 335.8h.7v.7h-.7zM293.7 330.2h.7v.7h-.7zM288.6 352.6h.7v.7h-.7zM259.7 327.4h.7v.7h-.7zM269.9 332.0h.7v.7h-.7zM282.6 336.0h.7v.7h-.7zM279.6 332.9h.7v.7h-.7zM278.0 343.1h.7v.7h-.7zM286.1 329.5h.7v.7h-.7zM277.7 329.7h.7v.7h-.7zM277.1 322.4h.7v.7h-.7zM288.2 345.2h.7v.7h-.7zM277.6 330.5h.7v.7h-.7zM274.3 330.7h.7v.7h-.7zM263.7 355.5h.7v.7h-.7zM311.0 324.6h.7v.7h-.7zM267.4 344.1h.7v.7h-.7zM284.7 320.9h.7v.7h-.7zM260.0 343.8h.7v.7h-.7zM259.3 353.3h.7v.7h-.7zM273.9 338.8h.7v.7h-.7zM278.8 331.9h.7v.7h-.7zM277.4 334.7h.7v.7h-.7zM291.0 336.9h.7v.7h-.7zM278.5 332.2h.7v.7h-.7zM272.6 329.9h.7v.7h-.7zM278.9 357.7h.7v.7h-.7zM289.7 340.5h.7v.7h-.7zM295.2 348.8h.7v.7h-.7zM280.8 336.1h.7v.7h-.7zM268.0 340.6h.7v.7h-.7zM275.7 320.8h.7v.7h-.7zM266.2 358.8h.7v.7h-.7zM280.9 343.3h.7v.7h-.7zM280.8 332.9h.7v.7h-.7zM283.3 349.6h.7v.7h-.7zM275.8 343.4h.7v.7h-.7zM288.8 332.7h.7v.7h-.7zM280.5 329.9h.7v.7h-.7zM284.7 333.9h.7v.7h-.7zM290.0 329.6h.7v.7h-.7zM295.4 334.5h.7v.7h-.7zM270.6 328.1h.7v.7h-.7zM285.3 328.7h.7v.7h-.7zM296.5 351.8h.7v.7h-.7zM283.9 322.5h.7v.7h-.7zM278.6 330.1h.7v.7h-.7zM261.0 342.5h.7v.7h-.7zM300.4 332.1h.7v.7h-.7zM286.7 351.8h.7v.7h-.7zM269.4 334.2h.7v.7h-.7zM281.4 343.0h.7v.7h-.7zM267.6 340.2h.7v.7h-.7zM277.8 348.2h.7v.7h-.7zM263.1 331.8h.7v.7h-.7zM273.9 334.5h.7v.7h-.7zM285.9 331.1h.7v.7h-.7zM305.6 330.3h.7v.7h-.7zM287.0 348.9h.7v.7h-.7zM288.3 335.7h.7v.7h-.7zM270.7 335.1h.7v.7h-.7zM285.3 339.2h.7v.7h-.7zM284.5 344.1h.7v.7h-.7zM270.1 327.8h.7v.7h-.7zM292.9 332.7h.7v.7h-.7zM263.3 358.0h.7v.7h-.7zM270.6 327.8h.7v.7h-.7zM288.3 325.7h.7v.7h-.7zM270.3 349.2h.7v.7h-.7zM270.8 365.0h.7v.7h-.7zM280.1 338.5h.7v.7h-.7zM272.5 335.5h.7v.7h-.7zM273.9 337.6h.7v.7h-.7zM286.4 324.2h.7v.7h-.7zM269.8 315.3h.7v.7h-.7zM293.5 337.1h.7v.7h-.7zM278.7 337.3h.7v.7h-.7zM288.6 341.4h.7v.7h-.7zM287.1 336.1h.7v.7h-.7zM277.6 337.3h.7v.7h-.7zM260.5 349.7h.7v.7h-.7zM263.3 327.2h.7v.7h-.7zM285.4 338.5h.7v.7h-.7zM286.8 356.3h.7v.7h-.7zM297.0 352.8h.7v.7h-.7zM276.6 360.0h.7v.7h-.7zM270.2 337.0h.7v.7h-.7zM288.6 335.6h.7v.7h-.7zM277.6 334.1h.7v.7h-.7zM292.2 311.3h.7v.7h-.7zM291.3 349.3h.7v.7h-.7zM278.1 344.0h.7v.7h-.7zM269.3 349.9h.7v.7h-.7zM308.8 328.0h.7v.7h-.7zM292.5 337.3h.7v.7h-.7zM275.5 332.6h.7v.7h-.7zM276.9 324.4h.7v.7h-.7zM265.5 355.9h.7v.7h-.7zM278.6 343.9h.7v.7h-.7zM281.8 343.0h.7v.7h-.7zM263.8 327.7h.7v.7h-.7zM285.0 348.7h.7v.7h-.7zM267.6 331.7h.7v.7h-.7zM268.3 345.0h.7v.7h-.7zM282.2 338.3h.7v.7h-.7zM272.4 341.6h.7v.7h-.7zM279.1 329.9h.7v.7h-.7zM282.1 330.7h.7v.7h-.7zM288.1 344.7h.7v.7h-.7zM272.1 344.2h.7v.7h-.7zM279.5 330.3h.7v.7h-.7zM269.8 319.9h.7v.7h-.7zM267.7 341.6h.7v.7h-.7zM290.6 331.1h.7v.7h-.7zM280.4 341.6h.7v.7h-.7zM286.5 342.7h.7v.7h-.7zM290.8 346.2h.7v.7h-.7zM271.3 342.2h.7v.7h-.7zM255.8 336.0h.7v.7h-.7zM279.0 344.2h.7v.7h-.7zM275.8 346.9h.7v.7h-.7zM291.7 328.8h.7v.7h-.7zM273.5 340.7h.7v.7h-.7zM283.6 339.5h.7v.7h-.7zM286.9 325.1h.7v.7h-.7zM286.4 350.5h.7v.7h-.7zM289.7 342.5h.7v.7h-.7zM276.5 342.2h.7v.7h-.7zM278.1 320.8h.7v.7h-.7zM272.9 337.5h.7v.7h-.7zM273.7 327.8h.7v.7h-.7zM276.5 333.9h.7v.7h-.7zM279.5 337.4h.7v.7h-.7zM280.5 348.6h.7v.7h-.7zM280.1 342.3h.7v.7h-.7zM266.8 306.1h.7v.7h-.7zM274.9 345.2h.7v.7h-.7zM275.5 331.2h.7v.7h-.7zM266.7 347.5h.7v.7h-.7zM273.6 340.6h.7v.7h-.7zM289.9 343.7h.7v.7h-.7zM300.8 336.5h.7v.7h-.7zM288.2 345.4h.7v.7h-.7zM272.4 338.4h.7v.7h-.7zM273.3 326.8h.7v.7h-.7zM281.7 329.5h.7v.7h-.7zM295.3 329.9h.7v.7h-.7zM273.5 338.9h.7v.7h-.7zM273.7 338.5h.7v.7h-.7zM272.8 322.5h.7v.7h-.7zM255.2 324.0h.7v.7h-.7zM293.7 342.7h.7v.7h-.7zM280.3 332.9h.7v.7h-.7zM277.4 341.1h.7v.7h-.7zM265.2 329.3h.7v.7h-.7zM270.1 351.5h.7v.7h-.7zM268.4 350.6h.7v.7h-.7zM278.0 338.2h.7v.7h-.7zM292.0 347.3h.7v.7h-.7zM288.0 326.4h.7v.7h-.7zM289.9 356.0h.7v.7h-.7zM277.8 332.7h.7v.7h-.7zM268.1 348.9h.7v.7h-.7zM281.7 338.0h.7v.7h-.7zM266.7 355.4h.7v.7h-.7zM287.4 337.7h.7v.7h-.7zM293.3 327.6h.7v.7h-.7zM287.4 327.1h.7v.7h-.7zM292.6 334.9h.7v.7h-.7zM290.8 333.4h.7v.7h-.7zM282.7 350.2h.7v.7h-.7zM270.0 338.9h.7v.7h-.7zM270.6 347.1h.7v.7h-.7zM272.9 333.9h.7v.7h-.7zM276.8 350.5h.7v.7h-.7zM268.6 337.6h.7v.7h-.7zM275.6 332.0h.7v.7h-.7zM271.1 336.2h.7v.7h-.7zM280.7 321.2h.7v.7h-.7zM281.1 325.1h.7v.7h-.7zM278.9 362.5h.7v.7h-.7zM269.3 337.2h.7v.7h-.7zM276.3 348.5h.7v.7h-.7zM274.2 318.6h.7v.7h-.7zM263.0 339.8h.7v.7h-.7zM281.3 349.4h.7v.7h-.7zM273.5 345.1h.7v.7h-.7zM268.4 351.9h.7v.7h-.7zM278.1 330.6h.7v.7h-.7zM280.5 356.7h.7v.7h-.7zM270.5 324.5h.7v.7h-.7zM268.9 325.4h.7v.7h-.7zM278.3 341.7h.7v.7h-.7zM277.2 340.0h.7v.7h-.7zM290.4 334.8h.7v.7h-.7zM266.5 313.2h.7v.7h-.7zM281.2 330.6h.7v.7h-.7zM276.4 342.3h.7v.7h-.7zM283.3 321.0h.7v.7h-.7zM269.4 338.7h.7v.7h-.7zM277.4 350.3h.7v.7h-.7zM273.9 315.6h.7v.7h-.7zM290.3 320.2h.7v.7h-.7zM269.3 342.1h.7v.7h-.7zM268.4 364.8h.7v.7h-.7zM281.1 343.7h.7v.7h-.7zM274.5 361.8h.7v.7h-.7zM284.1 330.2h.7v.7h-.7zM291.1 319.7h.7v.7h-.7zM273.1 341.0h.7v.7h-.7zM280.2 327.5h.7v.7h-.7zM294.3 353.8h.7v.7h-.7zM269.6 341.9h.7v.7h-.7zM272.6 333.2h.7v.7h-.7zM288.5 339.3h.7v.7h-.7zM277.7 339.0h.7v.7h-.7zM267.3 351.1h.7v.7h-.7zM271.4 352.0h.7v.7h-.7zM274.3 333.0h.7v.7h-.7zM293.4 340.0h.7v.7h-.7zM272.5 332.1h.7v.7h-.7zM284.7 358.1h.7v.7h-.7zM284.8 333.7h.7v.7h-.7zM267.8 330.6h.7v.7h-.7zM277.6 340.5h.7v.7h-.7zM272.4 351.7h.7v.7h-.7zM269.4 330.2h.7v.7h-.7zM283.7 343.1h.7v.7h-.7zM275.0 348.3h.7v.7h-.7zM265.0 355.5h.7v.7h-.7zM300.2 359.0h.7v.7h-.7zM280.0 359.1h.7v.7h-.7zM279.3 352.3h.7v.7h-.7zM276.8 340.0h.7v.7h-.7zM283.9 319.0h.7v.7h-.7zM276.8 356.5h.7v.7h-.7zM250.2 342.1h.7v.7h-.7zM287.8 341.4h.7v.7h-.7zM280.7 352.9h.7v.7h-.7zM282.1 317.5h.7v.7h-.7zM269.5 334.7h.7v.7h-.7zM280.2 333.1h.7v.7h-.7zM277.8 355.9h.7v.7h-.7zM250.1 350.3h.7v.7h-.7zM288.0 344.4h.7v.7h-.7zM278.9 338.6h.7v.7h-.7zM282.4 340.5h.7v.7h-.7zM271.7 346.3h.7v.7h-.7zM270.7 337.5h.7v.7h-.7zM275.3 325.5h.7v.7h-.7zM284.7 337.2h.7v.7h-.7zM267.4 337.1h.7v.7h-.7zM265.3 353.4h.7v.7h-.7zM283.9 359.3h.7v.7h-.7zM273.2 345.5h.7v.7h-.7zM269.3 328.7h.7v.7h-.7zM277.9 342.3h.7v.7h-.7zM287.8 335.0h.7v.7h-.7zM289.6 348.3h.7v.7h-.7zM270.2 336.0h.7v.7h-.7zM269.8 356.3h.7v.7h-.7zM273.4 347.4h.7v.7h-.7zM287.7 335.2h.7v.7h-.7zM274.0 341.6h.7v.7h-.7zM271.2 324.3h.7v.7h-.7zM308.1 340.9h.7v.7h-.7zM294.2 353.7h.7v.7h-.7zM323.6 342.4h.7v.7h-.7zM311.5 348.3h.7v.7h-.7zM303.3 339.0h.7v.7h-.7zM317.2 334.6h.7v.7h-.7zM300.3 328.5h.7v.7h-.7zM302.6 338.9h.7v.7h-.7zM302.9 349.4h.7v.7h-.7zM295.6 331.4h.7v.7h-.7zM296.8 334.1h.7v.7h-.7zM299.2 334.3h.7v.7h-.7zM306.4 337.4h.7v.7h-.7zM300.0 336.4h.7v.7h-.7zM315.6 339.2h.7v.7h-.7zM301.0 343.7h.7v.7h-.7zM300.6 327.7h.7v.7h-.7zM314.1 327.4h.7v.7h-.7zM302.3 335.1h.7v.7h-.7zM322.5 343.9h.7v.7h-.7zM318.3 331.8h.7v.7h-.7zM303.7 345.3h.7v.7h-.7zM323.7 334.7h.7v.7h-.7zM295.7 334.4h.7v.7h-.7zM294.4 336.4h.7v.7h-.7zM334.9 328.2h.7v.7h-.7zM292.7 330.9h.7v.7h-.7zM297.2 333.3h.7v.7h-.7zM301.1 328.3h.7v.7h-.7zM328.5 339.8h.7v.7h-.7zM322.3 344.1h.7v.7h-.7zM299.2 327.6h.7v.7h-.7zM298.7 333.3h.7v.7h-.7zM304.0 333.0h.7v.7h-.7zM306.9 339.2h.7v.7h-.7zM297.2 339.3h.7v.7h-.7zM297.3 334.7h.7v.7h-.7zM298.9 344.2h.7v.7h-.7zM298.1 357.8h.7v.7h-.7zM320.9 327.7h.7v.7h-.7zM310.1 337.3h.7v.7h-.7zM294.9 330.9h.7v.7h-.7zM320.2 330.6h.7v.7h-.7zM292.2 331.5h.7v.7h-.7zM325.2 349.0h.7v.7h-.7zM314.3 333.9h.7v.7h-.7zM297.3 334.1h.7v.7h-.7zM297.1 328.4h.7v.7h-.7zM295.3 328.2h.7v.7h-.7zM305.6 359.2h.7v.7h-.7zM296.6 352.5h.7v.7h-.7zM297.4 332.0h.7v.7h-.7zM296.9 329.4h.7v.7h-.7zM292.8 344.1h.7v.7h-.7zM307.3 335.4h.7v.7h-.7zM312.0 337.2h.7v.7h-.7zM320.5 340.4h.7v.7h-.7zM291.9 319.5h.7v.7h-.7zM298.5 342.7h.7v.7h-.7zM307.6 349.9h.7v.7h-.7zM300.8 330.2h.7v.7h-.7zM301.1 337.1h.7v.7h-.7zM308.5 332.9h.7v.7h-.7zM322.4 337.2h.7v.7h-.7zM300.1 351.5h.7v.7h-.7zM310.7 351.0h.7v.7h-.7zM302.8 341.9h.7v.7h-.7zM304.4 330.1h.7v.7h-.7zM307.7 346.2h.7v.7h-.7zM294.7 347.4h.7v.7h-.7zM323.0 338.1h.7v.7h-.7zM291.6 354.9h.7v.7h-.7zM313.9 334.0h.7v.7h-.7zM297.3 334.6h.7v.7h-.7zM293.3 330.5h.7v.7h-.7zM311.4 325.9h.7v.7h-.7zM305.2 323.0h.7v.7h-.7zM315.6 343.1h.7v.7h-.7zM301.9 336.2h.7v.7h-.7zM305.8 343.4h.7v.7h-.7zM301.0 337.6h.7v.7h-.7zM297.3 355.7h.7v.7h-.7zM298.6 341.2h.7v.7h-.7zM300.5 348.7h.7v.7h-.7zM298.3 347.4h.7v.7h-.7zM309.6 335.6h.7v.7h-.7zM325.1 337.5h.7v.7h-.7zM332.1 340.1h.7v.7h-.7zM292.4 340.3h.7v.7h-.7zM293.4 326.3h.7v.7h-.7zM303.1 336.4h.7v.7h-.7zM293.8 330.3h.7v.7h-.7zM292.7 331.5h.7v.7h-.7zM314.1 332.2h.7v.7h-.7zM305.0 345.3h.7v.7h-.7zM314.5 343.1h.7v.7h-.7zM294.5 333.1h.7v.7h-.7zM318.6 333.3h.7v.7h-.7zM318.5 348.1h.7v.7h-.7zM294.8 335.8h.7v.7h-.7zM290.9 341.7h.7v.7h-.7zM290.9 341.7h.7v.7h-.7zM304.4 338.4h.7v.7h-.7zM297.0 347.4h.7v.7h-.7zM312.7 349.4h.7v.7h-.7zM292.3 333.5h.7v.7h-.7zM291.2 339.0h.7v.7h-.7zM294.9 341.7h.7v.7h-.7zM301.0 323.1h.7v.7h-.7zM303.1 337.7h.7v.7h-.7zM320.3 341.4h.7v.7h-.7zM326.2 348.9h.7v.7h-.7zM303.0 342.8h.7v.7h-.7zM330.1 347.5h.7v.7h-.7zM310.1 337.2h.7v.7h-.7zM319.2 343.8h.7v.7h-.7zM300.8 329.0h.7v.7h-.7zM298.8 346.2h.7v.7h-.7zM305.1 332.1h.7v.7h-.7zM303.0 328.1h.7v.7h-.7zM313.7 340.7h.7v.7h-.7zM291.5 349.4h.7v.7h-.7zM295.6 335.1h.7v.7h-.7zM316.0 351.5h.7v.7h-.7zM293.7 337.7h.7v.7h-.7zM308.6 328.8h.7v.7h-.7zM302.0 329.4h.7v.7h-.7zM301.1 343.5h.7v.7h-.7zM297.5 323.8h.7v.7h-.7zM298.1 350.3h.7v.7h-.7zM305.4 326.9h.7v.7h-.7zM310.0 339.2h.7v.7h-.7zM301.8 348.7h.7v.7h-.7zM295.7 341.9h.7v.7h-.7zM297.9 331.4h.7v.7h-.7zM294.7 330.5h.7v.7h-.7zM322.2 333.3h.7v.7h-.7zM312.6 347.6h.7v.7h-.7zM329.2 346.7h.7v.7h-.7zM319.3 340.2h.7v.7h-.7zM298.5 342.1h.7v.7h-.7zM307.6 344.4h.7v.7h-.7zM298.7 340.2h.7v.7h-.7zM305.9 336.8h.7v.7h-.7zM308.1 336.1h.7v.7h-.7zM302.7 340.5h.7v.7h-.7zM306.4 336.4h.7v.7h-.7zM311.4 324.4h.7v.7h-.7zM314.5 347.3h.7v.7h-.7zM292.4 342.2h.7v.7h-.7zM309.8 340.5h.7v.7h-.7zM299.3 333.6h.7v.7h-.7zM319.2 343.5h.7v.7h-.7zM292.5 343.0h.7v.7h-.7zM309.6 336.8h.7v.7h-.7zM326.4 330.7h.7v.7h-.7zM292.5 349.4h.7v.7h-.7zM294.9 339.1h.7v.7h-.7zM328.4 344.8h.7v.7h-.7zM298.6 349.2h.7v.7h-.7z" fill="#e04848" opacity="0.78"/>
<path d="M298.40 367.20V307.10H386.50V367.20" fill="none" stroke="#222" stroke-width="0.9"/>
<text x="250.50" y="310.40" font-size="14" fill="#111">2.06</text>
<line x1="246.30" y1="297.30" x2="246.30" y2="367.20" stroke="#777" stroke-width="0.8"/>
<line x1="243.30" y1="297.60" x2="246.30" y2="297.60" stroke="#222" stroke-width="1.2"/>
<text x="230.30" y="305.90" font-size="5.4" fill="#777">10</text>
<text x="236.70" y="302.50" font-size="4.4" fill="#777">5</text>
<line x1="243.30" y1="331.80" x2="246.30" y2="331.80" stroke="#222" stroke-width="1.2"/>
<text x="230.30" y="335.40" font-size="5.4" fill="#777">10</text>
<text x="236.70" y="332.00" font-size="4.4" fill="#777">4</text>
<line x1="243.30" y1="366.90" x2="246.30" y2="366.90" stroke="#222" stroke-width="1.2"/>
<text x="230.30" y="366.60" font-size="5.4" fill="#777">10</text>
<text x="236.70" y="363.20" font-size="4.4" fill="#777">3</text>
<line x1="244.50" y1="321.47" x2="246.30" y2="321.47" stroke="#555" stroke-width="0.6"/>
<line x1="244.50" y1="315.43" x2="246.30" y2="315.43" stroke="#555" stroke-width="0.6"/>
<line x1="244.50" y1="311.15" x2="246.30" y2="311.15" stroke="#555" stroke-width="0.6"/>
<line x1="244.50" y1="307.83" x2="246.30" y2="307.83" stroke="#555" stroke-width="0.6"/>
<line x1="244.50" y1="305.11" x2="246.30" y2="305.11" stroke="#555" stroke-width="0.6"/>
<line x1="244.50" y1="302.81" x2="246.30" y2="302.81" stroke="#555" stroke-width="0.6"/>
<line x1="244.50" y1="300.82" x2="246.30" y2="300.82" stroke="#555" stroke-width="0.6"/>
<line x1="244.50" y1="299.07" x2="246.30" y2="299.07" stroke="#555" stroke-width="0.6"/>
<line x1="244.50" y1="356.87" x2="246.30" y2="356.87" stroke="#555" stroke-width="0.6"/>
<line x1="244.50" y1="350.83" x2="246.30" y2="350.83" stroke="#555" stroke-width="0.6"/>
<line x1="244.50" y1="346.55" x2="246.30" y2="346.55" stroke="#555" stroke-width="0.6"/>
<line x1="244.50" y1="343.23" x2="246.30" y2="343.23" stroke="#555" stroke-width="0.6"/>
<line x1="244.50" y1="340.51" x2="246.30" y2="340.51" stroke="#555" stroke-width="0.6"/>
<line x1="244.50" y1="338.21" x2="246.30" y2="338.21" stroke="#555" stroke-width="0.6"/>
<line x1="244.50" y1="336.22" x2="246.30" y2="336.22" stroke="#555" stroke-width="0.6"/>
<line x1="244.50" y1="334.47" x2="246.30" y2="334.47" stroke="#555" stroke-width="0.6"/>
<rect x="246.30" y="367.20" width="140.20" height="69.40" fill="none" stroke="#c4c4c4" stroke-width="0.8"/>
<ellipse cx="278.8" cy="407.8" rx="21.0" ry="23" fill="url(#g05)"/>
<ellipse cx="278.8" cy="407.8" rx="10.5" ry="12.0" fill="#cbaaf5" opacity="0.35"/>
<path d="M297.3 408.1L297.1 412.7L296.4 416.3L295.3 419.3L293.8 421.9L291.9 424.1L289.6 425.8L287.0 427.1L283.9 427.8L279.8 428.1L275.7 427.8L272.6 427.1L270.0 425.8L267.7 424.1L265.8 421.9L264.3 419.3L263.2 416.3L262.5 412.7L262.3 408.1L262.5 403.5L263.2 399.9L264.3 396.9L265.8 394.3L267.7 392.1L270.0 390.4L272.6 389.1L275.7 388.4L279.8 388.1L283.9 388.4L287.0 389.1L289.6 390.4L291.9 392.1L293.8 394.3L295.3 396.9L296.4 399.9L297.1 403.5Z" fill="none" stroke="#9650ea" stroke-width="0.45" opacity="0.6"/>
<path d="M296.0 408.1L295.8 412.4L295.2 415.7L294.2 418.5L292.8 421.0L291.0 423.0L288.9 424.6L286.4 425.8L283.5 426.5L279.7 426.7L275.9 426.5L273.1 425.8L270.6 424.6L268.5 423.0L266.7 421.0L265.3 418.5L264.3 415.7L263.7 412.4L263.5 408.1L263.7 403.8L264.3 400.5L265.3 397.7L266.7 395.2L268.5 393.2L270.6 391.6L273.1 390.4L275.9 389.7L279.7 389.5L283.5 389.7L286.4 390.4L288.9 391.6L291.0 393.2L292.8 395.2L294.2 397.7L295.2 400.5L295.8 403.8Z" fill="none" stroke="#9650ea" stroke-width="0.45" opacity="0.6"/>
<path d="M294.7 408.1L294.5 412.1L293.9 415.1L293.0 417.8L291.7 420.0L290.1 421.9L288.1 423.4L285.8 424.4L283.2 425.1L279.7 425.3L276.2 425.1L273.5 424.4L271.2 423.4L269.2 421.9L267.6 420.0L266.3 417.8L265.4 415.1L264.8 412.1L264.6 408.1L264.8 404.1L265.4 401.1L266.3 398.4L267.6 396.2L269.2 394.3L271.2 392.8L273.5 391.8L276.2 391.1L279.7 390.9L283.2 391.1L285.8 391.8L288.1 392.8L290.1 394.3L291.7 396.2L293.0 398.4L293.9 401.1L294.5 404.1Z" fill="none" stroke="#9650ea" stroke-width="0.45" opacity="0.6"/>
<path d="M293.4 408.1L293.2 411.8L292.7 414.6L291.9 417.0L290.7 419.0L289.2 420.8L287.3 422.1L285.2 423.1L282.8 423.7L279.6 423.9L276.4 423.7L273.9 423.1L271.8 422.1L270.0 420.8L268.5 419.0L267.3 417.0L266.5 414.6L265.9 411.8L265.8 408.1L265.9 404.4L266.5 401.6L267.3 399.2L268.5 397.2L270.0 395.4L271.8 394.1L273.9 393.1L276.4 392.5L279.6 392.3L282.8 392.5L285.2 393.1L287.3 394.1L289.2 395.4L290.7 397.2L291.9 399.2L292.7 401.6L293.2 404.4Z" fill="none" stroke="#9650ea" stroke-width="0.45" opacity="0.6"/>
<path d="M292.1 408.1L292.0 411.4L291.5 414.0L290.7 416.2L289.6 418.1L288.2 419.6L286.6 420.9L284.7 421.8L282.4 422.3L279.5 422.5L276.6 422.3L274.4 421.8L272.4 420.9L270.8 419.6L269.4 418.1L268.3 416.2L267.6 414.0L267.1 411.4L266.9 408.1L267.1 404.8L267.6 402.2L268.3 400.0L269.4 398.1L270.8 396.6L272.4 395.3L274.4 394.4L276.6 393.9L279.5 393.7L282.4 393.9L284.7 394.4L286.6 395.3L288.2 396.6L289.6 398.1L290.7 400.0L291.5 402.2L292.0 404.8Z" fill="none" stroke="#9650ea" stroke-width="0.45" opacity="0.6"/>
<path d="M290.8 408.1L290.7 411.1L290.3 413.4L289.5 415.4L288.6 417.1L287.3 418.5L285.8 419.6L284.1 420.4L282.1 420.9L279.5 421.1L276.8 420.9L274.8 420.4L273.1 419.6L271.6 418.5L270.3 417.1L269.4 415.4L268.6 413.4L268.2 411.1L268.1 408.1L268.2 405.1L268.6 402.8L269.4 400.8L270.3 399.1L271.6 397.7L273.1 396.6L274.8 395.8L276.8 395.3L279.4 395.1L282.1 395.3L284.1 395.8L285.8 396.6L287.3 397.7L288.6 399.1L289.5 400.8L290.3 402.8L290.7 405.1Z" fill="none" stroke="#9650ea" stroke-width="0.45" opacity="0.5"/>
<path d="M289.5 408.1L289.4 410.8L289.0 412.8L288.4 414.6L287.5 416.1L286.4 417.4L285.1 418.4L283.5 419.1L281.7 419.6L279.4 419.7L277.0 419.6L275.2 419.1L273.7 418.4L272.4 417.4L271.3 416.1L270.4 414.6L269.7 412.8L269.4 410.8L269.2 408.1L269.4 405.4L269.7 403.4L270.4 401.6L271.3 400.1L272.4 398.8L273.7 397.8L275.2 397.1L277.0 396.6L279.4 396.5L281.7 396.6L283.5 397.1L285.1 397.8L286.4 398.8L287.5 400.1L288.4 401.6L289.0 403.4L289.4 405.4Z" fill="none" stroke="#9650ea" stroke-width="0.45" opacity="0.5"/>
<path d="M288.2 408.1L288.1 410.5L287.8 412.3L287.2 413.8L286.5 415.2L285.5 416.3L284.3 417.1L283.0 417.8L281.4 418.2L279.3 418.3L277.2 418.2L275.7 417.8L274.3 417.1L273.1 416.3L272.2 415.2L271.4 413.8L270.8 412.3L270.5 410.5L270.4 408.1L270.5 405.7L270.8 403.9L271.4 402.4L272.2 401.0L273.1 399.9L274.3 399.1L275.7 398.4L277.2 398.0L279.3 397.9L281.4 398.0L283.0 398.4L284.3 399.1L285.5 399.9L286.5 401.0L287.2 402.4L287.8 403.9L288.1 405.7Z" fill="none" stroke="#9650ea" stroke-width="0.45" opacity="0.5"/>
<path d="M286.9 408.1L286.8 410.1L286.6 411.7L286.1 413.0L285.4 414.2L284.6 415.1L283.6 415.9L282.4 416.5L281.0 416.8L279.2 416.9L277.4 416.8L276.1 416.5L274.9 415.9L273.9 415.1L273.1 414.2L272.4 413.0L271.9 411.7L271.6 410.1L271.5 408.1L271.6 406.1L271.9 404.5L272.4 403.2L273.1 402.0L273.9 401.1L274.9 400.3L276.1 399.7L277.4 399.4L279.2 399.3L281.0 399.4L282.4 399.7L283.6 400.3L284.6 401.1L285.4 402.0L286.1 403.2L286.6 404.5L286.8 406.1Z" fill="none" stroke="#9650ea" stroke-width="0.45" opacity="0.5"/>
<path d="M285.6 408.1L285.6 409.8L285.3 411.1L284.9 412.3L284.4 413.2L283.7 414.0L282.8 414.7L281.8 415.1L280.7 415.4L279.2 415.5L277.7 415.4L276.5 415.1L275.5 414.7L274.7 414.0L274.0 413.2L273.4 412.3L273.0 411.1L272.8 409.8L272.7 408.1L272.8 406.4L273.0 405.1L273.4 403.9L274.0 403.0L274.7 402.2L275.5 401.5L276.5 401.1L277.7 400.8L279.2 400.7L280.7 400.8L281.8 401.1L282.8 401.5L283.7 402.2L284.4 403.0L284.9 403.9L285.3 405.1L285.6 406.4Z" fill="none" stroke="#9650ea" stroke-width="0.45" opacity="0.5"/>
<path d="M284.4 408.1L284.3 409.5L284.1 410.6L283.8 411.5L283.3 412.3L282.7 412.9L282.0 413.4L281.2 413.8L280.3 414.0L279.1 414.1L277.9 414.0L277.0 413.8L276.2 413.4L275.5 412.9L274.9 412.3L274.4 411.5L274.1 410.6L273.9 409.5L273.9 408.1L273.9 406.7L274.1 405.6L274.4 404.7L274.9 403.9L275.5 403.3L276.2 402.8L277.0 402.4L277.9 402.2L279.1 402.1L280.3 402.2L281.2 402.4L282.0 402.8L282.7 403.3L283.3 403.9L283.8 404.7L284.1 405.6L284.3 406.7Z" fill="none" stroke="#9650ea" stroke-width="0.45" opacity="0.5"/>
<path d="M283.1 408.1L283.0 409.2L282.9 410.0L282.6 410.7L282.3 411.3L281.8 411.8L281.3 412.2L280.7 412.5L280.0 412.6L279.0 412.7L278.1 412.6L277.4 412.5L276.8 412.2L276.2 411.8L275.8 411.3L275.5 410.7L275.2 410.0L275.1 409.2L275.0 408.1L275.1 407.0L275.2 406.2L275.5 405.5L275.8 404.9L276.2 404.4L276.8 404.0L277.4 403.7L278.1 403.6L279.0 403.5L280.0 403.6L280.7 403.7L281.3 404.0L281.8 404.4L282.3 404.9L282.6 405.5L282.9 406.2L283.0 407.0Z" fill="none" stroke="#9650ea" stroke-width="0.45" opacity="0.5"/>
<path d="M293.6 408.3L293.4 412.0L292.9 414.8L292.0 417.3L290.8 419.4L289.3 421.1L287.5 422.5L285.3 423.5L282.9 424.1L279.6 424.3L276.3 424.1L273.9 423.5L271.7 422.5L269.9 421.1L268.4 419.4L267.2 417.3L266.3 414.8L265.8 412.0L265.6 408.3L265.8 404.6L266.3 401.8L267.2 399.3L268.4 397.2L269.9 395.5L271.7 394.1L273.9 393.1L276.3 392.5L279.6 392.3L282.9 392.5L285.3 393.1L287.5 394.1L289.3 395.5L290.8 397.2L292.0 399.3L292.9 401.8L293.4 404.6Z" fill="none" stroke="#fff" stroke-width="1.1" opacity="0.85"/>
<path d="M287.2 408.3L287.1 410.4L286.8 412.0L286.3 413.4L285.6 414.5L284.7 415.5L283.7 416.3L282.5 416.8L281.1 417.2L279.3 417.3L277.5 417.2L276.1 416.8L274.9 416.3L273.9 415.5L273.0 414.5L272.3 413.4L271.8 412.0L271.5 410.4L271.4 408.3L271.5 406.2L271.8 404.6L272.3 403.2L273.0 402.1L273.9 401.1L274.9 400.3L276.1 399.8L277.5 399.4L279.3 399.3L281.1 399.4L282.5 399.8L283.7 400.3L284.7 401.1L285.6 402.1L286.3 403.2L286.8 404.6L287.1 406.2Z" fill="none" stroke="#fff" stroke-width="0.7" opacity="0.7"/>
<ellipse cx="279.3" cy="406.8" rx="2.2" ry="3" fill="#fff" opacity="0.8"/>
<path d="M277.9 404.0h.7v.7h-.7zM283.0 405.4h.7v.7h-.7zM273.9 424.0h.7v.7h-.7zM288.2 409.1h.7v.7h-.7zM286.6 416.5h.7v.7h-.7zM284.4 408.4h.7v.7h-.7zM279.5 412.2h.7v.7h-.7zM284.2 411.6h.7v.7h-.7zM273.5 407.2h.7v.7h-.7zM283.2 397.7h.7v.7h-.7zM278.7 415.8h.7v.7h-.7zM280.4 405.0h.7v.7h-.7zM278.6 402.9h.7v.7h-.7zM288.2 404.0h.7v.7h-.7zM262.8 395.4h.7v.7h-.7zM281.7 410.1h.7v.7h-.7zM274.3 394.3h.7v.7h-.7zM277.4 399.2h.7v.7h-.7zM272.5 407.9h.7v.7h-.7zM271.4 411.2h.7v.7h-.7zM271.7 403.1h.7v.7h-.7zM276.6 423.1h.7v.7h-.7zM293.9 417.7h.7v.7h-.7zM271.7 408.0h.7v.7h-.7zM287.6 416.3h.7v.7h-.7zM263.2 407.4h.7v.7h-.7zM271.7 415.7h.7v.7h-.7zM284.9 402.4h.7v.7h-.7zM299.4 405.1h.7v.7h-.7zM302.2 406.2h.7v.7h-.7zM278.0 427.6h.7v.7h-.7zM273.8 403.1h.7v.7h-.7zM293.0 407.6h.7v.7h-.7zM283.4 395.0h.7v.7h-.7zM296.0 418.1h.7v.7h-.7zM282.2 415.3h.7v.7h-.7zM274.0 403.1h.7v.7h-.7zM263.7 411.8h.7v.7h-.7zM290.7 416.8h.7v.7h-.7zM287.6 415.3h.7v.7h-.7zM270.0 394.5h.7v.7h-.7zM284.9 409.7h.7v.7h-.7zM288.3 405.1h.7v.7h-.7zM270.3 412.6h.7v.7h-.7zM273.5 391.1h.7v.7h-.7zM273.0 398.9h.7v.7h-.7zM268.1 402.3h.7v.7h-.7zM287.9 432.2h.7v.7h-.7zM295.4 403.7h.7v.7h-.7zM289.8 407.2h.7v.7h-.7zM282.7 401.0h.7v.7h-.7zM278.1 390.7h.7v.7h-.7zM296.0 400.1h.7v.7h-.7zM284.4 401.9h.7v.7h-.7zM281.4 395.9h.7v.7h-.7zM275.2 417.4h.7v.7h-.7zM284.5 388.0h.7v.7h-.7zM287.0 394.5h.7v.7h-.7zM281.5 413.3h.7v.7h-.7zM272.6 404.7h.7v.7h-.7zM276.4 412.1h.7v.7h-.7zM287.6 422.0h.7v.7h-.7zM281.9 428.5h.7v.7h-.7zM269.7 426.3h.7v.7h-.7zM276.3 415.9h.7v.7h-.7zM277.6 408.8h.7v.7h-.7zM270.0 412.0h.7v.7h-.7zM298.2 409.5h.7v.7h-.7zM278.6 408.0h.7v.7h-.7zM285.6 405.9h.7v.7h-.7zM278.8 410.2h.7v.7h-.7zM291.3 417.7h.7v.7h-.7zM268.7 401.5h.7v.7h-.7zM279.0 416.7h.7v.7h-.7zM288.1 405.9h.7v.7h-.7zM299.2 406.3h.7v.7h-.7zM292.3 422.6h.7v.7h-.7zM294.1 410.0h.7v.7h-.7zM284.3 392.3h.7v.7h-.7zM261.7 401.7h.7v.7h-.7zM285.7 418.9h.7v.7h-.7zM277.8 418.6h.7v.7h-.7zM284.3 423.6h.7v.7h-.7zM263.5 399.5h.7v.7h-.7zM269.6 397.3h.7v.7h-.7zM294.6 398.5h.7v.7h-.7zM270.8 403.9h.7v.7h-.7zM287.3 403.2h.7v.7h-.7zM285.9 413.6h.7v.7h-.7zM272.7 383.7h.7v.7h-.7zM270.0 395.2h.7v.7h-.7zM294.5 400.6h.7v.7h-.7zM268.5 411.8h.7v.7h-.7zM279.3 398.4h.7v.7h-.7zM289.3 417.4h.7v.7h-.7zM281.5 400.2h.7v.7h-.7zM270.4 386.9h.7v.7h-.7zM282.5 412.0h.7v.7h-.7zM270.0 408.2h.7v.7h-.7zM310.3 396.4h.7v.7h-.7zM262.4 414.2h.7v.7h-.7zM274.7 402.9h.7v.7h-.7zM284.8 406.6h.7v.7h-.7zM288.4 413.2h.7v.7h-.7zM289.9 409.2h.7v.7h-.7zM258.1 421.9h.7v.7h-.7zM262.5 418.7h.7v.7h-.7zM281.2 393.7h.7v.7h-.7zM279.4 417.0h.7v.7h-.7zM269.0 408.4h.7v.7h-.7zM271.7 397.6h.7v.7h-.7zM272.9 421.0h.7v.7h-.7zM285.4 407.6h.7v.7h-.7zM278.0 409.2h.7v.7h-.7zM281.6 409.8h.7v.7h-.7zM262.3 417.4h.7v.7h-.7zM270.6 381.2h.7v.7h-.7zM285.6 395.5h.7v.7h-.7zM277.4 407.0h.7v.7h-.7zM273.1 413.4h.7v.7h-.7zM276.2 405.1h.7v.7h-.7zM269.6 405.0h.7v.7h-.7zM268.8 408.4h.7v.7h-.7zM291.5 418.3h.7v.7h-.7zM282.9 393.9h.7v.7h-.7zM288.7 417.5h.7v.7h-.7zM298.6 384.8h.7v.7h-.7zM279.0 404.5h.7v.7h-.7zM289.3 396.8h.7v.7h-.7zM275.1 431.7h.7v.7h-.7zM288.4 387.4h.7v.7h-.7zM279.0 422.0h.7v.7h-.7zM272.9 414.0h.7v.7h-.7zM279.8 392.9h.7v.7h-.7zM272.8 419.6h.7v.7h-.7zM290.2 401.7h.7v.7h-.7zM289.6 400.6h.7v.7h-.7zM281.2 407.7h.7v.7h-.7zM266.8 411.2h.7v.7h-.7zM275.1 379.7h.7v.7h-.7zM270.8 399.2h.7v.7h-.7zM270.8 397.8h.7v.7h-.7zM272.2 382.7h.7v.7h-.7zM287.4 408.6h.7v.7h-.7zM281.3 405.1h.7v.7h-.7zM279.4 405.2h.7v.7h-.7zM268.3 392.2h.7v.7h-.7zM279.5 418.4h.7v.7h-.7zM281.1 424.5h.7v.7h-.7zM265.6 405.1h.7v.7h-.7zM272.8 420.6h.7v.7h-.7zM295.1 402.5h.7v.7h-.7zM285.8 405.4h.7v.7h-.7zM269.2 406.7h.7v.7h-.7zM268.8 423.8h.7v.7h-.7zM284.5 420.1h.7v.7h-.7zM282.3 382.8h.7v.7h-.7zM286.5 408.8h.7v.7h-.7zM255.8 408.9h.7v.7h-.7zM288.5 425.5h.7v.7h-.7zM268.9 416.0h.7v.7h-.7zM282.0 406.1h.7v.7h-.7zM276.1 413.3h.7v.7h-.7zM284.4 414.6h.7v.7h-.7zM274.9 394.2h.7v.7h-.7zM291.5 421.3h.7v.7h-.7zM273.4 407.5h.7v.7h-.7zM286.6 389.7h.7v.7h-.7zM283.6 432.8h.7v.7h-.7zM281.4 400.6h.7v.7h-.7zM298.5 407.9h.7v.7h-.7zM280.8 403.5h.7v.7h-.7zM280.5 389.3h.7v.7h-.7zM266.4 392.6h.7v.7h-.7zM287.5 406.9h.7v.7h-.7zM289.9 386.8h.7v.7h-.7zM273.0 422.9h.7v.7h-.7zM271.2 388.6h.7v.7h-.7zM271.6 404.3h.7v.7h-.7zM278.7 421.3h.7v.7h-.7zM291.6 423.9h.7v.7h-.7zM284.4 402.6h.7v.7h-.7zM274.0 392.5h.7v.7h-.7zM291.1 420.8h.7v.7h-.7zM279.7 398.6h.7v.7h-.7zM285.3 412.9h.7v.7h-.7zM280.3 395.8h.7v.7h-.7zM281.1 402.0h.7v.7h-.7zM285.9 414.0h.7v.7h-.7zM283.0 403.4h.7v.7h-.7zM293.5 415.8h.7v.7h-.7zM291.0 416.5h.7v.7h-.7zM285.2 411.9h.7v.7h-.7zM268.5 389.0h.7v.7h-.7zM269.8 414.2h.7v.7h-.7zM287.6 409.7h.7v.7h-.7zM279.7 426.8h.7v.7h-.7zM275.0 389.4h.7v.7h-.7zM263.9 404.5h.7v.7h-.7zM285.5 415.4h.7v.7h-.7zM276.7 416.3h.7v.7h-.7zM278.3 400.3h.7v.7h-.7zM275.2 415.6h.7v.7h-.7zM288.0 396.2h.7v.7h-.7zM269.3 409.1h.7v.7h-.7zM299.2 395.7h.7v.7h-.7zM266.8 412.1h.7v.7h-.7zM283.7 401.5h.7v.7h-.7zM278.6 412.8h.7v.7h-.7zM262.0 407.6h.7v.7h-.7zM284.6 417.4h.7v.7h-.7zM290.0 407.1h.7v.7h-.7zM264.9 421.7h.7v.7h-.7zM286.2 401.2h.7v.7h-.7zM288.8 418.6h.7v.7h-.7zM277.5 383.4h.7v.7h-.7zM274.3 400.0h.7v.7h-.7zM270.8 407.0h.7v.7h-.7zM268.4 411.8h.7v.7h-.7zM296.9 395.5h.7v.7h-.7zM288.8 402.3h.7v.7h-.7zM284.0 406.5h.7v.7h-.7zM291.1 400.5h.7v.7h-.7zM285.8 399.8h.7v.7h-.7zM281.0 407.7h.7v.7h-.7zM289.3 391.5h.7v.7h-.7zM265.8 422.2h.7v.7h-.7zM282.5 425.4h.7v.7h-.7zM268.9 410.0h.7v.7h-.7zM284.6 426.1h.7v.7h-.7zM278.3 403.2h.7v.7h-.7zM285.7 406.7h.7v.7h-.7zM271.6 415.7h.7v.7h-.7zM260.5 397.3h.7v.7h-.7zM291.9 402.6h.7v.7h-.7zM275.7 411.7h.7v.7h-.7zM289.6 413.3h.7v.7h-.7zM269.6 401.9h.7v.7h-.7zM288.9 406.6h.7v.7h-.7zM272.8 416.9h.7v.7h-.7zM289.7 430.3h.7v.7h-.7zM268.5 400.5h.7v.7h-.7zM272.2 411.5h.7v.7h-.7zM274.2 419.3h.7v.7h-.7zM253.0 417.8h.7v.7h-.7zM272.6 405.0h.7v.7h-.7zM284.2 409.9h.7v.7h-.7zM269.1 423.3h.7v.7h-.7zM284.3 402.7h.7v.7h-.7zM280.8 396.4h.7v.7h-.7zM267.0 404.7h.7v.7h-.7zM282.3 408.9h.7v.7h-.7zM271.4 393.5h.7v.7h-.7zM262.7 424.3h.7v.7h-.7zM282.3 399.5h.7v.7h-.7zM290.2 413.4h.7v.7h-.7zM274.8 401.5h.7v.7h-.7zM289.7 411.2h.7v.7h-.7zM294.4 411.6h.7v.7h-.7zM273.2 401.6h.7v.7h-.7zM272.1 410.4h.7v.7h-.7zM281.2 414.1h.7v.7h-.7zM283.1 396.9h.7v.7h-.7zM276.9 398.1h.7v.7h-.7zM283.4 394.2h.7v.7h-.7zM273.2 398.9h.7v.7h-.7zM272.9 405.1h.7v.7h-.7zM293.2 405.2h.7v.7h-.7zM265.1 404.7h.7v.7h-.7zM285.9 413.5h.7v.7h-.7zM281.1 428.4h.7v.7h-.7zM289.4 408.7h.7v.7h-.7zM290.4 393.9h.7v.7h-.7zM277.2 398.8h.7v.7h-.7zM280.5 424.6h.7v.7h-.7zM274.1 424.3h.7v.7h-.7zM269.1 422.6h.7v.7h-.7zM262.6 399.0h.7v.7h-.7zM288.3 406.9h.7v.7h-.7zM280.2 407.7h.7v.7h-.7zM280.5 405.9h.7v.7h-.7zM269.5 404.8h.7v.7h-.7zM279.9 398.5h.7v.7h-.7zM283.3 426.1h.7v.7h-.7zM263.2 402.2h.7v.7h-.7zM276.1 408.0h.7v.7h-.7zM279.7 400.3h.7v.7h-.7zM278.5 407.9h.7v.7h-.7zM278.0 423.8h.7v.7h-.7zM280.0 392.5h.7v.7h-.7zM263.9 413.9h.7v.7h-.7zM275.6 401.4h.7v.7h-.7zM265.9 404.6h.7v.7h-.7zM277.9 400.7h.7v.7h-.7zM275.5 417.0h.7v.7h-.7zM286.3 413.5h.7v.7h-.7zM277.2 393.7h.7v.7h-.7zM286.2 423.3h.7v.7h-.7zM290.9 419.9h.7v.7h-.7zM281.4 411.7h.7v.7h-.7zM278.7 420.8h.7v.7h-.7zM276.2 430.0h.7v.7h-.7zM286.2 404.5h.7v.7h-.7zM278.8 391.1h.7v.7h-.7zM271.8 404.7h.7v.7h-.7zM302.1 399.4h.7v.7h-.7zM287.5 408.6h.7v.7h-.7zM276.0 414.3h.7v.7h-.7zM259.8 417.6h.7v.7h-.7zM297.2 410.9h.7v.7h-.7zM278.2 409.5h.7v.7h-.7zM285.1 402.7h.7v.7h-.7zM280.0 413.0h.7v.7h-.7zM275.5 411.8h.7v.7h-.7zM282.0 415.2h.7v.7h-.7zM269.4 402.3h.7v.7h-.7zM274.7 420.2h.7v.7h-.7zM281.2 390.7h.7v.7h-.7zM266.6 427.9h.7v.7h-.7zM282.0 394.4h.7v.7h-.7zM270.1 409.3h.7v.7h-.7zM292.4 424.6h.7v.7h-.7zM275.3 404.7h.7v.7h-.7zM297.1 397.6h.7v.7h-.7zM293.7 411.3h.7v.7h-.7zM279.7 421.1h.7v.7h-.7zM283.4 399.1h.7v.7h-.7zM264.3 408.0h.7v.7h-.7zM283.7 422.0h.7v.7h-.7zM253.9 421.7h.7v.7h-.7zM284.7 423.5h.7v.7h-.7zM286.4 410.0h.7v.7h-.7zM282.9 411.9h.7v.7h-.7zM272.8 406.6h.7v.7h-.7zM280.0 403.1h.7v.7h-.7zM264.9 392.8h.7v.7h-.7zM283.6 413.2h.7v.7h-.7zM279.8 395.7h.7v.7h-.7zM286.9 403.7h.7v.7h-.7zM259.1 424.0h.7v.7h-.7zM264.6 431.2h.7v.7h-.7zM283.9 403.2h.7v.7h-.7zM256.4 400.5h.7v.7h-.7zM292.9 421.9h.7v.7h-.7zM281.3 390.0h.7v.7h-.7zM275.2 404.9h.7v.7h-.7zM283.2 406.5h.7v.7h-.7zM282.1 390.9h.7v.7h-.7zM272.7 422.8h.7v.7h-.7zM265.0 417.4h.7v.7h-.7zM300.8 414.6h.7v.7h-.7zM265.6 420.7h.7v.7h-.7zM261.2 411.3h.7v.7h-.7zM274.9 420.7h.7v.7h-.7zM290.0 409.8h.7v.7h-.7zM295.9 418.0h.7v.7h-.7zM274.3 397.6h.7v.7h-.7zM302.2 403.6h.7v.7h-.7zM282.7 406.6h.7v.7h-.7zM274.3 391.1h.7v.7h-.7zM277.4 406.6h.7v.7h-.7zM288.1 402.5h.7v.7h-.7zM263.9 396.7h.7v.7h-.7zM278.4 410.4h.7v.7h-.7zM285.7 403.8h.7v.7h-.7zM283.9 409.3h.7v.7h-.7zM294.9 407.2h.7v.7h-.7zM280.2 413.7h.7v.7h-.7zM290.4 398.2h.7v.7h-.7zM274.3 404.9h.7v.7h-.7zM258.5 421.3h.7v.7h-.7zM289.0 408.0h.7v.7h-.7zM310.8 421.0h.7v.7h-.7zM298.1 424.1h.7v.7h-.7zM287.4 393.1h.7v.7h-.7zM293.4 412.2h.7v.7h-.7zM267.4 408.4h.7v.7h-.7zM286.0 418.0h.7v.7h-.7zM280.5 402.4h.7v.7h-.7zM286.1 399.9h.7v.7h-.7zM278.1 415.7h.7v.7h-.7zM265.1 411.7h.7v.7h-.7zM260.2 398.2h.7v.7h-.7zM267.1 406.9h.7v.7h-.7zM285.6 407.3h.7v.7h-.7zM287.5 408.8h.7v.7h-.7zM276.9 412.9h.7v.7h-.7zM276.5 409.2h.7v.7h-.7zM288.7 401.9h.7v.7h-.7zM289.8 396.3h.7v.7h-.7zM276.7 389.7h.7v.7h-.7zM273.8 424.3h.7v.7h-.7zM282.2 421.0h.7v.7h-.7zM264.8 397.3h.7v.7h-.7zM283.2 416.4h.7v.7h-.7zM286.8 390.4h.7v.7h-.7zM283.7 407.1h.7v.7h-.7zM280.0 412.8h.7v.7h-.7zM276.1 390.2h.7v.7h-.7zM268.6 392.7h.7v.7h-.7zM266.3 406.4h.7v.7h-.7zM291.3 400.4h.7v.7h-.7zM271.5 395.8h.7v.7h-.7zM262.3 408.5h.7v.7h-.7zM274.2 405.3h.7v.7h-.7zM269.6 412.9h.7v.7h-.7zM267.3 413.5h.7v.7h-.7zM272.5 416.0h.7v.7h-.7zM270.3 412.4h.7v.7h-.7zM283.0 407.0h.7v.7h-.7zM294.4 409.6h.7v.7h-.7zM270.3 415.0h.7v.7h-.7zM270.9 402.2h.7v.7h-.7zM278.9 409.7h.7v.7h-.7zM295.1 389.6h.7v.7h-.7zM276.3 419.6h.7v.7h-.7zM277.3 411.1h.7v.7h-.7zM293.4 395.0h.7v.7h-.7zM279.2 416.1h.7v.7h-.7zM273.2 389.5h.7v.7h-.7zM308.3 409.5h.7v.7h-.7zM294.1 423.8h.7v.7h-.7zM314.1 394.4h.7v.7h-.7zM309.0 415.8h.7v.7h-.7zM319.2 406.5h.7v.7h-.7zM300.6 409.1h.7v.7h-.7zM317.9 413.2h.7v.7h-.7zM320.6 414.6h.7v.7h-.7zM301.1 399.0h.7v.7h-.7zM323.3 394.6h.7v.7h-.7zM296.9 405.0h.7v.7h-.7zM306.8 402.8h.7v.7h-.7zM290.9 428.5h.7v.7h-.7zM291.9 403.2h.7v.7h-.7zM293.0 416.0h.7v.7h-.7zM305.1 404.3h.7v.7h-.7zM321.4 413.9h.7v.7h-.7zM302.7 420.9h.7v.7h-.7zM311.8 426.7h.7v.7h-.7zM306.1 405.4h.7v.7h-.7zM297.7 405.1h.7v.7h-.7zM312.1 414.5h.7v.7h-.7zM301.5 401.5h.7v.7h-.7zM299.9 408.8h.7v.7h-.7zM301.0 405.8h.7v.7h-.7zM299.4 419.5h.7v.7h-.7zM308.4 401.5h.7v.7h-.7zM291.5 419.7h.7v.7h-.7zM295.8 423.3h.7v.7h-.7zM298.6 413.6h.7v.7h-.7zM327.2 415.2h.7v.7h-.7zM296.8 412.9h.7v.7h-.7zM299.2 412.4h.7v.7h-.7zM299.7 415.6h.7v.7h-.7zM291.9 398.7h.7v.7h-.7zM308.7 409.2h.7v.7h-.7zM296.7 388.6h.7v.7h-.7zM327.0 417.0h.7v.7h-.7zM291.0 432.6h.7v.7h-.7zM317.7 405.6h.7v.7h-.7zM301.3 412.7h.7v.7h-.7zM315.5 421.9h.7v.7h-.7zM308.5 418.6h.7v.7h-.7zM312.1 410.5h.7v.7h-.7zM293.8 413.2h.7v.7h-.7zM304.8 419.5h.7v.7h-.7zM292.0 407.6h.7v.7h-.7zM295.5 398.5h.7v.7h-.7zM303.5 410.7h.7v.7h-.7zM298.8 424.1h.7v.7h-.7zM306.0 405.3h.7v.7h-.7zM290.9 415.3h.7v.7h-.7zM293.9 416.0h.7v.7h-.7zM298.8 392.5h.7v.7h-.7zM302.8 390.1h.7v.7h-.7zM295.8 404.2h.7v.7h-.7zM301.2 409.3h.7v.7h-.7zM291.9 418.8h.7v.7h-.7zM301.3 397.1h.7v.7h-.7zM302.9 410.7h.7v.7h-.7zM320.7 406.1h.7v.7h-.7zM293.8 410.1h.7v.7h-.7zM304.6 407.0h.7v.7h-.7zM296.0 404.1h.7v.7h-.7zM300.5 400.9h.7v.7h-.7zM302.4 402.9h.7v.7h-.7zM300.5 411.3h.7v.7h-.7zM307.9 384.4h.7v.7h-.7zM307.8 397.1h.7v.7h-.7zM293.7 414.8h.7v.7h-.7zM335.3 421.3h.7v.7h-.7zM314.7 411.1h.7v.7h-.7zM297.6 412.5h.7v.7h-.7zM329.1 415.9h.7v.7h-.7zM291.0 413.2h.7v.7h-.7zM308.9 398.2h.7v.7h-.7zM302.1 407.4h.7v.7h-.7zM296.9 404.7h.7v.7h-.7zM296.9 413.7h.7v.7h-.7zM311.2 406.9h.7v.7h-.7zM318.2 403.0h.7v.7h-.7zM306.7 401.6h.7v.7h-.7zM323.6 412.2h.7v.7h-.7zM306.4 408.7h.7v.7h-.7zM306.0 417.4h.7v.7h-.7zM292.7 403.2h.7v.7h-.7zM300.5 424.7h.7v.7h-.7zM294.0 403.8h.7v.7h-.7zM303.2 393.1h.7v.7h-.7zM299.6 410.6h.7v.7h-.7zM299.3 401.2h.7v.7h-.7zM298.0 411.8h.7v.7h-.7zM298.5 410.5h.7v.7h-.7zM307.9 415.3h.7v.7h-.7zM308.1 404.9h.7v.7h-.7zM293.2 404.1h.7v.7h-.7zM310.9 426.2h.7v.7h-.7zM317.5 392.5h.7v.7h-.7zM292.9 396.7h.7v.7h-.7zM296.3 396.4h.7v.7h-.7zM301.0 412.5h.7v.7h-.7zM320.8 418.3h.7v.7h-.7zM298.9 416.1h.7v.7h-.7zM298.9 406.8h.7v.7h-.7zM299.6 392.4h.7v.7h-.7zM301.4 390.0h.7v.7h-.7zM294.9 412.4h.7v.7h-.7zM292.8 394.0h.7v.7h-.7zM302.2 413.8h.7v.7h-.7zM310.1 421.8h.7v.7h-.7zM322.7 411.8h.7v.7h-.7zM299.3 414.5h.7v.7h-.7zM320.5 406.6h.7v.7h-.7zM303.2 402.2h.7v.7h-.7zM297.2 399.2h.7v.7h-.7zM310.4 396.2h.7v.7h-.7zM306.9 404.9h.7v.7h-.7zM296.4 426.3h.7v.7h-.7zM295.6 400.5h.7v.7h-.7zM301.0 410.8h.7v.7h-.7zM295.8 407.2h.7v.7h-.7zM298.9 397.5h.7v.7h-.7zM311.9 404.1h.7v.7h-.7zM310.2 413.9h.7v.7h-.7zM324.9 418.6h.7v.7h-.7zM298.7 410.8h.7v.7h-.7zM302.9 396.4h.7v.7h-.7zM300.4 394.8h.7v.7h-.7zM296.1 406.6h.7v.7h-.7zM304.0 408.2h.7v.7h-.7zM292.7 402.7h.7v.7h-.7zM321.1 404.8h.7v.7h-.7zM303.0 417.0h.7v.7h-.7zM315.0 399.1h.7v.7h-.7zM307.3 413.9h.7v.7h-.7zM298.8 430.3h.7v.7h-.7zM296.3 394.5h.7v.7h-.7zM300.6 421.6h.7v.7h-.7zM322.9 409.1h.7v.7h-.7zM315.2 421.8h.7v.7h-.7zM298.7 398.8h.7v.7h-.7zM320.8 401.6h.7v.7h-.7zM335.7 403.6h.7v.7h-.7zM329.2 408.7h.7v.7h-.7zM295.5 397.6h.7v.7h-.7zM296.8 403.7h.7v.7h-.7zM305.7 419.9h.7v.7h-.7zM298.5 400.0h.7v.7h-.7zM316.8 407.3h.7v.7h-.7zM299.7 409.1h.7v.7h-.7zM311.5 413.2h.7v.7h-.7zM296.9 414.1h.7v.7h-.7zM297.7 409.0h.7v.7h-.7zM319.7 398.5h.7v.7h-.7zM309.0 404.3h.7v.7h-.7zM299.6 419.2h.7v.7h-.7zM318.8 427.9h.7v.7h-.7zM318.7 403.9h.7v.7h-.7zM294.1 404.6h.7v.7h-.7zM302.6 413.6h.7v.7h-.7z" fill="#9650ea" opacity="0.78"/>
<path d="M298.40 436.60V377.00H386.50V436.60" fill="none" stroke="#222" stroke-width="0.9"/>
<text x="250.50" y="380.30" font-size="14" fill="#111">2.62</text>
<line x1="246.30" y1="367.20" x2="246.30" y2="436.60" stroke="#777" stroke-width="0.8"/>
<line x1="243.30" y1="367.50" x2="246.30" y2="367.50" stroke="#222" stroke-width="1.2"/>
<text x="230.30" y="375.80" font-size="5.4" fill="#777">10</text>
<text x="236.70" y="372.40" font-size="4.4" fill="#777">5</text>
<line x1="243.30" y1="401.70" x2="246.30" y2="401.70" stroke="#222" stroke-width="1.2"/>
<text x="230.30" y="405.30" font-size="5.4" fill="#777">10</text>
<text x="236.70" y="401.90" font-size="4.4" fill="#777">4</text>
<line x1="243.30" y1="436.30" x2="246.30" y2="436.30" stroke="#222" stroke-width="1.2"/>
<text x="230.30" y="436.00" font-size="5.4" fill="#777">10</text>
<text x="236.70" y="432.60" font-size="4.4" fill="#777">3</text>
<line x1="244.50" y1="391.37" x2="246.30" y2="391.37" stroke="#555" stroke-width="0.6"/>
<line x1="244.50" y1="385.33" x2="246.30" y2="385.33" stroke="#555" stroke-width="0.6"/>
<line x1="244.50" y1="381.05" x2="246.30" y2="381.05" stroke="#555" stroke-width="0.6"/>
<line x1="244.50" y1="377.73" x2="246.30" y2="377.73" stroke="#555" stroke-width="0.6"/>
<line x1="244.50" y1="375.01" x2="246.30" y2="375.01" stroke="#555" stroke-width="0.6"/>
<line x1="244.50" y1="372.71" x2="246.30" y2="372.71" stroke="#555" stroke-width="0.6"/>
<line x1="244.50" y1="370.72" x2="246.30" y2="370.72" stroke="#555" stroke-width="0.6"/>
<line x1="244.50" y1="368.97" x2="246.30" y2="368.97" stroke="#555" stroke-width="0.6"/>
<line x1="244.50" y1="426.27" x2="246.30" y2="426.27" stroke="#555" stroke-width="0.6"/>
<line x1="244.50" y1="420.23" x2="246.30" y2="420.23" stroke="#555" stroke-width="0.6"/>
<line x1="244.50" y1="415.95" x2="246.30" y2="415.95" stroke="#555" stroke-width="0.6"/>
<line x1="244.50" y1="412.63" x2="246.30" y2="412.63" stroke="#555" stroke-width="0.6"/>
<line x1="244.50" y1="409.91" x2="246.30" y2="409.91" stroke="#555" stroke-width="0.6"/>
<line x1="244.50" y1="407.61" x2="246.30" y2="407.61" stroke="#555" stroke-width="0.6"/>
<line x1="244.50" y1="405.62" x2="246.30" y2="405.62" stroke="#555" stroke-width="0.6"/>
<line x1="244.50" y1="403.87" x2="246.30" y2="403.87" stroke="#555" stroke-width="0.6"/>
<line x1="246.30" y1="436.60" x2="386.50" y2="436.60" stroke="#333" stroke-width="1"/>
<line x1="279.00" y1="436.60" x2="279.00" y2="439.60" stroke="#222" stroke-width="1"/>
<line x1="326.40" y1="436.60" x2="326.40" y2="439.60" stroke="#222" stroke-width="1"/>
<line x1="359.20" y1="436.60" x2="359.20" y2="439.60" stroke="#222" stroke-width="1"/>
<line x1="336.27" y1="436.60" x2="336.27" y2="438.40" stroke="#444" stroke-width="0.6"/>
<line x1="369.07" y1="436.60" x2="369.07" y2="438.40" stroke="#444" stroke-width="0.6"/>
<line x1="342.05" y1="436.60" x2="342.05" y2="438.40" stroke="#444" stroke-width="0.6"/>
<line x1="374.85" y1="436.60" x2="374.85" y2="438.40" stroke="#444" stroke-width="0.6"/>
<line x1="346.15" y1="436.60" x2="346.15" y2="438.40" stroke="#444" stroke-width="0.6"/>
<line x1="378.95" y1="436.60" x2="378.95" y2="438.40" stroke="#444" stroke-width="0.6"/>
<line x1="349.33" y1="436.60" x2="349.33" y2="438.40" stroke="#444" stroke-width="0.6"/>
<line x1="382.13" y1="436.60" x2="382.13" y2="438.40" stroke="#444" stroke-width="0.6"/>
<line x1="351.92" y1="436.60" x2="351.92" y2="438.40" stroke="#444" stroke-width="0.6"/>
<line x1="384.72" y1="436.60" x2="384.72" y2="438.40" stroke="#444" stroke-width="0.6"/>
<line x1="354.12" y1="436.60" x2="354.12" y2="438.40" stroke="#444" stroke-width="0.6"/>
<line x1="356.02" y1="436.60" x2="356.02" y2="438.40" stroke="#444" stroke-width="0.6"/>
<line x1="357.70" y1="436.60" x2="357.70" y2="438.40" stroke="#444" stroke-width="0.6"/>
<line x1="271.00" y1="436.60" x2="271.00" y2="438.40" stroke="#444" stroke-width="0.6"/>
<line x1="274.00" y1="436.60" x2="274.00" y2="438.40" stroke="#444" stroke-width="0.6"/>
<line x1="276.00" y1="436.60" x2="276.00" y2="438.40" stroke="#444" stroke-width="0.6"/>
<line x1="282.00" y1="436.60" x2="282.00" y2="438.40" stroke="#444" stroke-width="0.6"/>
<line x1="284.00" y1="436.60" x2="284.00" y2="438.40" stroke="#444" stroke-width="0.6"/>
<line x1="287.00" y1="436.60" x2="287.00" y2="438.40" stroke="#444" stroke-width="0.6"/>
<line x1="293.00" y1="436.60" x2="293.00" y2="438.40" stroke="#444" stroke-width="0.6"/>
<line x1="301.00" y1="436.60" x2="301.00" y2="438.40" stroke="#444" stroke-width="0.6"/>
<line x1="314.40" y1="436.60" x2="314.40" y2="438.40" stroke="#444" stroke-width="0.6"/>
<line x1="320.40" y1="436.60" x2="320.40" y2="438.40" stroke="#444" stroke-width="0.6"/>
<line x1="323.40" y1="436.60" x2="323.40" y2="438.40" stroke="#444" stroke-width="0.6"/>
<rect x="277.40" y="437.10" width="3.20" height="3.00" fill="#111" stroke="none" stroke-width="1"/>
<text x="279.00" y="448.10" font-size="4.6" text-anchor="middle" fill="#666">0</text>
<text x="324.40" y="448.10" font-size="4.6" text-anchor="middle" fill="#666">10</text>
<text x="328.90" y="445.10" font-size="3.6" fill="#666">3</text>
<text x="357.20" y="448.10" font-size="4.6" text-anchor="middle" fill="#666">10</text>
<text x="361.70" y="445.10" font-size="3.6" fill="#666">4</text>
<rect x="435.70" y="17.50" width="140.60" height="70.30" fill="none" stroke="#c4c4c4" stroke-width="0.8"/>
<ellipse cx="499.8" cy="58.5" rx="50" ry="19" fill="url(#g10)"/>
<path d="M478.3 56.0L478.2 57.4L477.9 58.5L477.3 59.4L476.6 60.2L475.7 60.8L474.6 61.3L473.3 61.7L471.8 61.9L469.8 62.0L467.8 61.9L466.3 61.7L465.0 61.3L463.9 60.8L463.0 60.2L462.3 59.4L461.7 58.5L461.4 57.4L461.3 56.0L461.4 54.6L461.7 53.5L462.3 52.6L463.0 51.8L463.9 51.2L465.0 50.7L466.3 50.3L467.8 50.1L469.8 50.0L471.8 50.1L473.3 50.3L474.6 50.7L475.7 51.2L476.6 51.8L477.3 52.6L477.9 53.5L478.2 54.6Z" fill="none" stroke="#3aa53a" stroke-width="1.6" opacity="0.85"/>
<path d="M474.3 56.0L474.2 56.5L474.1 56.9L473.7 57.3L473.3 57.7L472.8 58.0L472.2 58.2L471.5 58.4L470.7 58.5L469.8 58.5L468.9 58.5L468.1 58.4L467.4 58.2L466.8 58.0L466.3 57.7L465.9 57.3L465.5 56.9L465.4 56.5L465.3 56.0L465.4 55.5L465.5 55.1L465.9 54.7L466.3 54.3L466.8 54.0L467.4 53.8L468.1 53.6L468.9 53.5L469.8 53.5L470.7 53.5L471.5 53.6L472.2 53.8L472.8 54.0L473.3 54.3L473.7 54.7L474.1 55.1L474.2 55.5Z" fill="none" stroke="#fff" stroke-width="1.8" opacity="0.9"/>
<path d="M478.8 52.0H513.8M478.8 59.0H507.8" stroke="#3aa53a" stroke-width="1.2" opacity="0.65" stroke-dasharray="3 1.5"/>
<path d="M542.8 58.5L542.2 62.2L540.5 65.0L537.7 67.5L533.8 69.6L528.9 71.3L523.1 72.7L516.2 73.7L508.3 74.3L497.8 74.5L487.3 74.3L479.4 73.7L472.5 72.7L466.7 71.3L461.8 69.6L457.9 67.5L455.1 65.0L453.4 62.2L452.8 58.5L453.4 54.8L455.1 52.0L457.9 49.5L461.8 47.4L466.7 45.7L472.5 44.3L479.4 43.3L487.3 42.7L497.8 42.5L508.3 42.7L516.2 43.3L523.1 44.3L528.9 45.7L533.8 47.4L537.7 49.5L540.5 52.0L542.2 54.8Z" fill="none" stroke="#3aa53a" stroke-width="0.45" opacity="0.45"/>
<path d="M537.3 58.5L536.8 61.8L535.3 64.2L532.9 66.4L529.5 68.2L525.2 69.8L520.0 71.0L514.0 71.8L507.0 72.4L497.8 72.6L488.6 72.4L481.6 71.8L475.6 71.0L470.4 69.8L466.1 68.2L462.7 66.4L460.3 64.2L458.8 61.8L458.3 58.5L458.8 55.2L460.3 52.8L462.7 50.6L466.1 48.8L470.4 47.2L475.6 46.0L481.6 45.2L488.6 44.6L497.8 44.4L507.0 44.6L514.0 45.2L520.0 46.0L525.2 47.2L529.5 48.8L532.9 50.6L535.3 52.8L536.8 55.2Z" fill="none" stroke="#3aa53a" stroke-width="0.45" opacity="0.45"/>
<path d="M531.9 58.5L531.4 61.3L530.2 63.5L528.0 65.3L525.1 66.9L521.4 68.2L516.9 69.2L511.7 70.0L505.7 70.5L497.8 70.6L489.9 70.5L483.9 70.0L478.7 69.2L474.2 68.2L470.5 66.9L467.6 65.3L465.4 63.5L464.2 61.3L463.7 58.5L464.2 55.7L465.4 53.5L467.6 51.7L470.5 50.1L474.2 48.8L478.7 47.8L483.9 47.0L489.9 46.5L497.8 46.4L505.7 46.5L511.7 47.0L516.9 47.8L521.4 48.8L525.1 50.1L528.0 51.7L530.2 53.5L531.4 55.7Z" fill="none" stroke="#3aa53a" stroke-width="0.45" opacity="0.45"/>
<path d="M526.4 58.5L526.0 60.9L525.0 62.7L523.2 64.2L520.7 65.5L517.6 66.6L513.9 67.5L509.5 68.2L504.5 68.5L497.8 68.7L491.1 68.5L486.1 68.2L481.7 67.5L478.0 66.6L474.9 65.5L472.4 64.2L470.6 62.7L469.6 60.9L469.2 58.5L469.6 56.1L470.6 54.3L472.4 52.8L474.9 51.5L478.0 50.4L481.7 49.5L486.1 48.8L491.1 48.5L497.8 48.3L504.5 48.5L509.5 48.8L513.9 49.5L517.6 50.4L520.7 51.5L523.2 52.8L525.0 54.3L526.0 56.1Z" fill="none" stroke="#3aa53a" stroke-width="0.45" opacity="0.45"/>
<path d="M520.9 58.5L520.6 60.4L519.8 61.9L518.3 63.1L516.3 64.2L513.8 65.1L510.8 65.8L507.3 66.3L503.2 66.6L497.8 66.7L492.4 66.6L488.3 66.3L484.8 65.8L481.8 65.1L479.3 64.2L477.3 63.1L475.8 61.9L475.0 60.4L474.7 58.5L475.0 56.6L475.8 55.1L477.3 53.9L479.3 52.8L481.8 51.9L484.8 51.2L488.3 50.7L492.4 50.4L497.8 50.3L503.2 50.4L507.3 50.7L510.8 51.2L513.8 51.9L516.3 52.8L518.3 53.9L519.8 55.1L520.6 56.6Z" fill="none" stroke="#3aa53a" stroke-width="0.45" opacity="0.45"/>
<path d="M515.5 58.5L515.3 60.0L514.6 61.1L513.5 62.0L512.0 62.8L510.0 63.5L507.7 64.1L505.0 64.5L501.9 64.7L497.8 64.8L493.7 64.7L490.6 64.5L487.9 64.1L485.6 63.5L483.6 62.8L482.1 62.0L481.0 61.1L480.3 60.0L480.1 58.5L480.3 57.0L481.0 55.9L482.1 55.0L483.6 54.2L485.6 53.5L487.9 52.9L490.6 52.5L493.7 52.3L497.8 52.2L501.9 52.3L505.0 52.5L507.7 52.9L510.0 53.5L512.0 54.2L513.5 55.0L514.6 55.9L515.3 57.0Z" fill="none" stroke="#3aa53a" stroke-width="0.45" opacity="0.45"/>
<path d="M510.0 58.5L509.9 59.5L509.4 60.3L508.6 60.9L507.6 61.5L506.3 62.0L504.7 62.4L502.8 62.6L500.6 62.8L497.8 62.8L495.0 62.8L492.8 62.6L490.9 62.4L489.3 62.0L488.0 61.5L487.0 60.9L486.2 60.3L485.7 59.5L485.6 58.5L485.7 57.5L486.2 56.7L487.0 56.1L488.0 55.5L489.3 55.0L490.9 54.6L492.8 54.4L495.0 54.2L497.8 54.2L500.6 54.2L502.8 54.4L504.7 54.6L506.3 55.0L507.6 55.5L508.6 56.1L509.4 56.7L509.9 57.5Z" fill="none" stroke="#3aa53a" stroke-width="0.45" opacity="0.45"/>
<path d="M532.8 58.5L532.7 60.8L532.2 62.6L531.6 64.1L530.6 65.4L529.4 66.5L528.0 67.4L526.3 68.0L524.4 68.4L521.8 68.5L519.2 68.4L517.3 68.0L515.6 67.4L514.2 66.5L513.0 65.4L512.0 64.1L511.4 62.6L510.9 60.8L510.8 58.5L510.9 56.2L511.4 54.4L512.0 52.9L513.0 51.6L514.2 50.5L515.6 49.6L517.3 49.0L519.2 48.6L521.8 48.5L524.4 48.6L526.3 49.0L528.0 49.6L529.4 50.5L530.6 51.6L531.6 52.9L532.2 54.4L532.7 56.2Z" fill="none" stroke="#3aa53a" stroke-width="0.5" opacity="0.6"/>
<path d="M531.5 58.5L531.3 60.5L531.0 62.1L530.4 63.4L529.5 64.6L528.5 65.5L527.2 66.3L525.8 66.8L524.0 67.2L521.8 67.3L519.6 67.2L517.8 66.8L516.4 66.3L515.1 65.5L514.1 64.6L513.2 63.4L512.6 62.1L512.3 60.5L512.1 58.5L512.3 56.5L512.6 54.9L513.2 53.6L514.1 52.4L515.1 51.5L516.4 50.7L517.8 50.2L519.6 49.8L521.8 49.7L524.0 49.8L525.8 50.2L527.2 50.7L528.5 51.5L529.5 52.4L530.4 53.6L531.0 54.9L531.3 56.5Z" fill="none" stroke="#3aa53a" stroke-width="0.5" opacity="0.6"/>
<path d="M530.1 58.5L530.0 60.3L529.7 61.6L529.2 62.7L528.5 63.7L527.6 64.6L526.5 65.2L525.2 65.7L523.7 66.0L521.8 66.1L519.9 66.0L518.4 65.7L517.1 65.2L516.0 64.6L515.1 63.7L514.4 62.7L513.9 61.6L513.6 60.3L513.5 58.5L513.6 56.7L513.9 55.4L514.4 54.3L515.1 53.3L516.0 52.4L517.1 51.8L518.4 51.3L519.9 51.0L521.8 50.9L523.7 51.0L525.2 51.3L526.5 51.8L527.6 52.4L528.5 53.3L529.2 54.3L529.7 55.4L530.0 56.7Z" fill="none" stroke="#3aa53a" stroke-width="0.5" opacity="0.6"/>
<path d="M528.8 58.5L528.7 60.0L528.4 61.1L528.0 62.1L527.4 62.9L526.6 63.6L525.7 64.1L524.7 64.5L523.4 64.8L521.8 64.9L520.2 64.8L518.9 64.5L517.9 64.1L517.0 63.6L516.2 62.9L515.6 62.1L515.2 61.1L514.9 60.0L514.8 58.5L514.9 57.0L515.2 55.9L515.6 54.9L516.2 54.1L517.0 53.4L517.9 52.9L518.9 52.5L520.2 52.2L521.8 52.1L523.4 52.2L524.7 52.5L525.7 52.9L526.6 53.4L527.4 54.1L528.0 54.9L528.4 55.9L528.7 57.0Z" fill="none" stroke="#3aa53a" stroke-width="0.5" opacity="0.6"/>
<path d="M527.5 58.5L527.4 59.7L527.2 60.6L526.8 61.4L526.3 62.1L525.7 62.6L525.0 63.1L524.1 63.4L523.1 63.6L521.8 63.6L520.5 63.6L519.5 63.4L518.6 63.1L517.9 62.6L517.3 62.1L516.8 61.4L516.4 60.6L516.2 59.7L516.1 58.5L516.2 57.3L516.4 56.4L516.8 55.6L517.3 54.9L517.9 54.4L518.6 53.9L519.5 53.6L520.5 53.4L521.8 53.4L523.1 53.4L524.1 53.6L525.0 53.9L525.7 54.4L526.3 54.9L526.8 55.6L527.2 56.4L527.4 57.3Z" fill="none" stroke="#3aa53a" stroke-width="0.5" opacity="0.6"/>
<path d="M526.1 58.5L526.1 59.4L525.9 60.1L525.6 60.7L525.3 61.2L524.8 61.6L524.2 62.0L523.6 62.2L522.8 62.4L521.8 62.4L520.8 62.4L520.0 62.2L519.4 62.0L518.8 61.6L518.3 61.2L518.0 60.7L517.7 60.1L517.5 59.4L517.5 58.5L517.5 57.6L517.7 56.9L518.0 56.3L518.3 55.8L518.8 55.4L519.4 55.0L520.0 54.8L520.8 54.6L521.8 54.6L522.8 54.6L523.6 54.8L524.2 55.0L524.8 55.4L525.3 55.8L525.6 56.3L525.9 56.9L526.1 57.6Z" fill="none" stroke="#3aa53a" stroke-width="0.5" opacity="0.6"/>
<path d="M524.8 58.5L524.7 59.1L524.6 59.6L524.4 60.0L524.2 60.4L523.9 60.7L523.5 60.9L523.0 61.1L522.5 61.2L521.8 61.2L521.1 61.2L520.6 61.1L520.1 60.9L519.7 60.7L519.4 60.4L519.2 60.0L519.0 59.6L518.9 59.1L518.8 58.5L518.9 57.9L519.0 57.4L519.2 57.0L519.4 56.6L519.7 56.3L520.1 56.1L520.6 55.9L521.1 55.8L521.8 55.8L522.5 55.8L523.0 55.9L523.5 56.1L523.9 56.3L524.2 56.6L524.4 57.0L524.6 57.4L524.7 57.9Z" fill="none" stroke="#3aa53a" stroke-width="0.5" opacity="0.6"/>
<path d="M483.8 57.0L483.6 59.8L483.1 61.9L482.2 63.7L481.0 65.3L479.5 66.6L477.7 67.6L475.5 68.4L473.1 68.8L469.8 69.0L466.5 68.8L464.1 68.4L461.9 67.6L460.1 66.6L458.6 65.3L457.4 63.7L456.5 61.9L456.0 59.8L455.8 57.0L456.0 54.2L456.5 52.1L457.4 50.3L458.6 48.7L460.1 47.4L461.9 46.4L464.1 45.6L466.5 45.2L469.8 45.0L473.1 45.2L475.5 45.6L477.7 46.4L479.5 47.4L481.0 48.7L482.2 50.3L483.1 52.1L483.6 54.2Z" fill="none" stroke="#3aa53a" stroke-width="0.5" opacity="0.55"/>
<path d="M481.4 57.0L481.3 59.3L480.8 61.1L480.1 62.6L479.1 63.9L477.8 65.0L476.3 65.8L474.6 66.5L472.5 66.8L469.8 67.0L467.1 66.8L465.0 66.5L463.3 65.8L461.8 65.0L460.5 63.9L459.5 62.6L458.8 61.1L458.3 59.3L458.2 57.0L458.3 54.7L458.8 52.9L459.5 51.4L460.5 50.1L461.8 49.0L463.3 48.2L465.0 47.5L467.1 47.2L469.8 47.0L472.5 47.2L474.6 47.5L476.3 48.2L477.8 49.0L479.1 50.1L480.1 51.4L480.8 52.9L481.3 54.7Z" fill="none" stroke="#3aa53a" stroke-width="0.5" opacity="0.55"/>
<path d="M479.0 57.0L478.9 58.8L478.6 60.2L478.0 61.4L477.2 62.5L476.2 63.3L475.0 64.0L473.6 64.5L471.9 64.8L469.8 64.9L467.7 64.8L466.0 64.5L464.6 64.0L463.4 63.3L462.4 62.5L461.6 61.4L461.0 60.2L460.7 58.8L460.6 57.0L460.7 55.2L461.0 53.8L461.6 52.6L462.4 51.5L463.4 50.7L464.6 50.0L466.0 49.5L467.7 49.2L469.8 49.1L471.9 49.2L473.6 49.5L475.0 50.0L476.2 50.7L477.2 51.5L478.0 52.6L478.6 53.8L478.9 55.2Z" fill="none" stroke="#3aa53a" stroke-width="0.5" opacity="0.55"/>
<path d="M476.7 57.0L476.6 58.4L476.3 59.4L475.9 60.3L475.3 61.1L474.5 61.7L473.7 62.2L472.6 62.6L471.4 62.8L469.8 62.9L468.2 62.8L467.0 62.6L465.9 62.2L465.1 61.7L464.3 61.1L463.7 60.3L463.3 59.4L463.0 58.4L462.9 57.0L463.0 55.6L463.3 54.6L463.7 53.7L464.3 52.9L465.1 52.3L465.9 51.8L467.0 51.4L468.2 51.2L469.8 51.1L471.4 51.2L472.6 51.4L473.7 51.8L474.5 52.3L475.3 52.9L475.9 53.7L476.3 54.6L476.6 55.6Z" fill="none" stroke="#3aa53a" stroke-width="0.5" opacity="0.55"/>
<path d="M474.3 57.0L474.2 57.9L474.1 58.6L473.8 59.2L473.4 59.7L472.9 60.1L472.3 60.4L471.6 60.6L470.8 60.8L469.8 60.8L468.8 60.8L468.0 60.6L467.3 60.4L466.7 60.1L466.2 59.7L465.8 59.2L465.5 58.6L465.4 57.9L465.3 57.0L465.4 56.1L465.5 55.4L465.8 54.8L466.2 54.3L466.7 53.9L467.3 53.6L468.0 53.4L468.8 53.2L469.8 53.2L470.8 53.2L471.6 53.4L472.3 53.6L472.9 53.9L473.4 54.3L473.8 54.8L474.1 55.4L474.2 56.1Z" fill="none" stroke="#3aa53a" stroke-width="0.5" opacity="0.55"/>
<path d="M515.5 66.8h.7v.7h-.7zM543.1 59.1h.7v.7h-.7zM514.2 59.0h.7v.7h-.7zM498.7 62.3h.7v.7h-.7zM496.6 63.4h.7v.7h-.7zM477.8 59.2h.7v.7h-.7zM483.6 50.8h.7v.7h-.7zM481.2 56.4h.7v.7h-.7zM494.3 47.6h.7v.7h-.7zM491.8 51.1h.7v.7h-.7zM478.6 62.1h.7v.7h-.7zM523.8 62.9h.7v.7h-.7zM486.3 56.9h.7v.7h-.7zM529.2 47.0h.7v.7h-.7zM524.6 48.1h.7v.7h-.7zM482.9 60.9h.7v.7h-.7zM492.6 74.3h.7v.7h-.7zM509.4 60.1h.7v.7h-.7zM520.2 60.8h.7v.7h-.7zM478.9 69.8h.7v.7h-.7zM533.0 71.1h.7v.7h-.7zM470.2 76.3h.7v.7h-.7zM488.0 66.9h.7v.7h-.7zM525.8 80.2h.7v.7h-.7zM459.8 52.0h.7v.7h-.7zM525.5 64.6h.7v.7h-.7zM490.5 36.2h.7v.7h-.7zM508.2 59.0h.7v.7h-.7zM439.0 55.9h.7v.7h-.7zM497.7 62.4h.7v.7h-.7zM515.5 58.3h.7v.7h-.7zM476.7 57.5h.7v.7h-.7zM448.4 51.2h.7v.7h-.7zM544.2 54.8h.7v.7h-.7zM495.9 76.3h.7v.7h-.7zM522.5 61.5h.7v.7h-.7zM515.1 58.3h.7v.7h-.7zM476.5 68.8h.7v.7h-.7zM501.0 73.8h.7v.7h-.7zM491.6 57.4h.7v.7h-.7zM505.9 58.9h.7v.7h-.7zM490.5 53.1h.7v.7h-.7zM503.8 63.2h.7v.7h-.7zM540.8 60.3h.7v.7h-.7zM456.5 64.4h.7v.7h-.7zM551.6 56.8h.7v.7h-.7zM479.0 59.1h.7v.7h-.7zM493.4 47.9h.7v.7h-.7zM511.4 53.2h.7v.7h-.7zM454.3 54.5h.7v.7h-.7zM512.7 76.5h.7v.7h-.7zM527.2 62.1h.7v.7h-.7zM485.8 58.3h.7v.7h-.7zM520.6 56.2h.7v.7h-.7zM507.6 68.5h.7v.7h-.7zM476.5 55.6h.7v.7h-.7zM508.4 60.6h.7v.7h-.7zM494.9 56.1h.7v.7h-.7zM496.3 75.9h.7v.7h-.7zM529.8 47.1h.7v.7h-.7zM498.9 61.3h.7v.7h-.7zM498.7 49.0h.7v.7h-.7zM494.7 61.7h.7v.7h-.7zM481.8 63.1h.7v.7h-.7zM440.4 48.0h.7v.7h-.7zM500.2 63.7h.7v.7h-.7zM493.9 56.7h.7v.7h-.7zM502.2 69.5h.7v.7h-.7zM519.0 59.8h.7v.7h-.7zM486.8 69.3h.7v.7h-.7zM510.5 67.8h.7v.7h-.7zM491.3 53.3h.7v.7h-.7zM502.2 55.3h.7v.7h-.7zM524.9 67.6h.7v.7h-.7zM446.4 66.0h.7v.7h-.7zM529.2 69.1h.7v.7h-.7zM486.7 53.3h.7v.7h-.7zM520.7 68.9h.7v.7h-.7zM499.2 50.9h.7v.7h-.7zM461.8 62.7h.7v.7h-.7zM478.3 54.8h.7v.7h-.7zM508.3 69.2h.7v.7h-.7zM449.2 54.9h.7v.7h-.7zM528.4 60.1h.7v.7h-.7zM489.7 65.8h.7v.7h-.7zM471.0 50.3h.7v.7h-.7zM498.3 73.5h.7v.7h-.7zM521.7 60.5h.7v.7h-.7zM521.6 57.1h.7v.7h-.7zM470.0 46.6h.7v.7h-.7zM504.2 68.0h.7v.7h-.7zM506.6 60.2h.7v.7h-.7zM488.4 69.6h.7v.7h-.7zM496.7 48.5h.7v.7h-.7zM530.1 55.1h.7v.7h-.7zM507.0 60.5h.7v.7h-.7zM522.6 62.6h.7v.7h-.7zM526.7 62.3h.7v.7h-.7zM486.9 56.3h.7v.7h-.7zM513.1 53.6h.7v.7h-.7zM519.7 58.5h.7v.7h-.7zM475.9 53.2h.7v.7h-.7zM494.4 75.2h.7v.7h-.7zM516.0 60.7h.7v.7h-.7zM476.5 76.4h.7v.7h-.7zM491.3 60.5h.7v.7h-.7zM487.8 71.6h.7v.7h-.7zM502.0 56.7h.7v.7h-.7zM502.2 52.2h.7v.7h-.7zM473.0 59.2h.7v.7h-.7zM544.7 51.2h.7v.7h-.7zM494.5 47.4h.7v.7h-.7zM501.9 62.3h.7v.7h-.7zM515.3 49.4h.7v.7h-.7zM483.6 55.1h.7v.7h-.7zM492.0 79.5h.7v.7h-.7zM493.1 60.2h.7v.7h-.7zM485.8 67.1h.7v.7h-.7zM558.2 70.2h.7v.7h-.7zM533.9 51.6h.7v.7h-.7zM522.7 60.7h.7v.7h-.7zM527.3 69.3h.7v.7h-.7zM513.2 46.5h.7v.7h-.7zM501.0 56.3h.7v.7h-.7zM508.4 60.8h.7v.7h-.7zM522.5 47.1h.7v.7h-.7zM480.3 59.9h.7v.7h-.7zM505.4 57.1h.7v.7h-.7zM497.1 61.0h.7v.7h-.7zM522.5 59.6h.7v.7h-.7zM503.5 45.3h.7v.7h-.7zM506.2 41.3h.7v.7h-.7zM507.5 59.7h.7v.7h-.7zM497.9 54.4h.7v.7h-.7zM487.9 67.4h.7v.7h-.7zM506.2 60.3h.7v.7h-.7zM486.3 62.3h.7v.7h-.7zM525.9 60.3h.7v.7h-.7zM489.1 50.7h.7v.7h-.7zM500.1 52.8h.7v.7h-.7zM463.9 67.8h.7v.7h-.7zM483.1 43.5h.7v.7h-.7zM480.8 75.9h.7v.7h-.7zM495.3 49.4h.7v.7h-.7zM471.8 66.5h.7v.7h-.7zM507.4 62.3h.7v.7h-.7zM493.2 64.5h.7v.7h-.7zM534.2 64.6h.7v.7h-.7zM493.9 48.8h.7v.7h-.7zM508.3 73.6h.7v.7h-.7zM513.1 50.0h.7v.7h-.7zM502.2 71.4h.7v.7h-.7zM482.8 64.6h.7v.7h-.7zM526.4 74.2h.7v.7h-.7zM460.2 45.9h.7v.7h-.7zM506.6 66.4h.7v.7h-.7zM489.4 60.3h.7v.7h-.7zM488.2 70.5h.7v.7h-.7zM445.5 62.6h.7v.7h-.7zM467.6 54.8h.7v.7h-.7zM461.6 52.9h.7v.7h-.7zM497.2 60.7h.7v.7h-.7zM540.0 58.7h.7v.7h-.7zM506.0 63.5h.7v.7h-.7zM503.9 72.8h.7v.7h-.7zM501.1 61.8h.7v.7h-.7zM495.1 60.5h.7v.7h-.7zM496.5 68.8h.7v.7h-.7zM498.3 61.1h.7v.7h-.7zM496.7 66.8h.7v.7h-.7zM486.6 68.4h.7v.7h-.7zM484.3 66.3h.7v.7h-.7zM543.2 62.4h.7v.7h-.7zM495.7 50.6h.7v.7h-.7zM515.3 60.6h.7v.7h-.7zM519.3 55.0h.7v.7h-.7zM510.1 75.6h.7v.7h-.7zM507.3 57.8h.7v.7h-.7zM467.0 60.4h.7v.7h-.7zM513.4 65.5h.7v.7h-.7zM471.4 51.9h.7v.7h-.7zM474.7 52.0h.7v.7h-.7zM491.3 62.7h.7v.7h-.7zM543.3 62.1h.7v.7h-.7zM532.2 46.7h.7v.7h-.7zM534.3 67.2h.7v.7h-.7zM508.2 67.4h.7v.7h-.7zM512.4 76.5h.7v.7h-.7zM516.9 45.9h.7v.7h-.7zM456.4 74.0h.7v.7h-.7zM495.8 71.6h.7v.7h-.7zM489.7 55.0h.7v.7h-.7zM489.7 63.1h.7v.7h-.7zM502.2 55.3h.7v.7h-.7zM510.5 65.7h.7v.7h-.7zM476.1 51.2h.7v.7h-.7zM451.3 57.9h.7v.7h-.7zM498.1 54.7h.7v.7h-.7zM483.5 59.4h.7v.7h-.7zM498.5 65.3h.7v.7h-.7zM517.5 64.2h.7v.7h-.7zM524.3 52.4h.7v.7h-.7zM512.2 63.6h.7v.7h-.7zM473.1 54.8h.7v.7h-.7zM508.3 61.1h.7v.7h-.7zM468.0 55.9h.7v.7h-.7zM534.0 67.6h.7v.7h-.7zM499.7 71.8h.7v.7h-.7zM476.3 59.1h.7v.7h-.7zM520.5 57.7h.7v.7h-.7zM471.3 65.4h.7v.7h-.7zM535.8 39.2h.7v.7h-.7zM501.5 50.0h.7v.7h-.7zM490.7 48.6h.7v.7h-.7zM559.5 54.8h.7v.7h-.7zM498.9 54.6h.7v.7h-.7zM474.3 56.7h.7v.7h-.7zM502.7 75.2h.7v.7h-.7zM504.6 73.7h.7v.7h-.7zM472.5 61.1h.7v.7h-.7zM487.4 47.3h.7v.7h-.7zM503.6 54.2h.7v.7h-.7zM484.1 51.8h.7v.7h-.7zM522.1 57.1h.7v.7h-.7zM494.4 62.0h.7v.7h-.7zM468.7 62.5h.7v.7h-.7zM493.7 64.2h.7v.7h-.7zM488.7 60.8h.7v.7h-.7zM510.1 68.6h.7v.7h-.7zM481.5 68.7h.7v.7h-.7zM474.4 58.9h.7v.7h-.7zM500.9 61.7h.7v.7h-.7zM438.6 52.3h.7v.7h-.7zM493.4 68.3h.7v.7h-.7zM481.1 73.2h.7v.7h-.7zM455.0 61.1h.7v.7h-.7zM510.6 60.6h.7v.7h-.7zM504.1 68.3h.7v.7h-.7zM478.7 65.5h.7v.7h-.7zM523.0 58.5h.7v.7h-.7zM442.9 50.5h.7v.7h-.7zM477.5 51.6h.7v.7h-.7zM508.0 53.7h.7v.7h-.7zM556.6 65.3h.7v.7h-.7zM466.8 58.1h.7v.7h-.7zM534.0 66.2h.7v.7h-.7zM473.6 69.2h.7v.7h-.7zM486.5 79.1h.7v.7h-.7zM484.7 65.5h.7v.7h-.7zM511.2 56.8h.7v.7h-.7zM494.2 70.2h.7v.7h-.7zM509.6 60.0h.7v.7h-.7zM508.3 75.2h.7v.7h-.7zM519.9 64.5h.7v.7h-.7zM505.6 47.4h.7v.7h-.7zM501.0 56.4h.7v.7h-.7zM515.2 55.4h.7v.7h-.7zM508.4 51.7h.7v.7h-.7zM519.0 54.4h.7v.7h-.7zM497.1 65.4h.7v.7h-.7zM490.1 60.6h.7v.7h-.7zM523.0 75.4h.7v.7h-.7zM455.0 52.9h.7v.7h-.7zM513.8 68.4h.7v.7h-.7zM486.6 61.3h.7v.7h-.7zM493.2 79.6h.7v.7h-.7zM493.1 50.5h.7v.7h-.7zM461.0 49.8h.7v.7h-.7zM528.7 57.2h.7v.7h-.7zM544.0 65.9h.7v.7h-.7zM506.9 65.9h.7v.7h-.7zM516.5 68.2h.7v.7h-.7zM474.7 55.8h.7v.7h-.7zM484.8 61.4h.7v.7h-.7zM491.9 50.2h.7v.7h-.7zM481.3 75.5h.7v.7h-.7zM548.1 53.3h.7v.7h-.7zM506.8 60.2h.7v.7h-.7zM477.7 66.5h.7v.7h-.7zM496.2 74.5h.7v.7h-.7zM508.6 57.9h.7v.7h-.7zM517.9 54.5h.7v.7h-.7zM518.8 66.2h.7v.7h-.7zM455.9 58.9h.7v.7h-.7zM505.4 66.8h.7v.7h-.7zM501.5 60.4h.7v.7h-.7zM489.6 58.1h.7v.7h-.7zM497.9 51.6h.7v.7h-.7zM513.0 57.8h.7v.7h-.7zM510.2 56.2h.7v.7h-.7zM507.5 61.6h.7v.7h-.7zM518.9 64.4h.7v.7h-.7zM519.9 59.1h.7v.7h-.7zM496.5 58.3h.7v.7h-.7zM468.1 59.4h.7v.7h-.7zM523.6 67.0h.7v.7h-.7zM477.6 63.0h.7v.7h-.7zM515.6 49.1h.7v.7h-.7zM506.1 63.3h.7v.7h-.7zM515.6 62.6h.7v.7h-.7zM456.5 43.6h.7v.7h-.7zM544.9 57.2h.7v.7h-.7zM528.0 71.1h.7v.7h-.7zM499.9 50.9h.7v.7h-.7zM530.2 60.2h.7v.7h-.7zM510.1 64.5h.7v.7h-.7zM520.4 69.0h.7v.7h-.7zM464.1 48.7h.7v.7h-.7zM501.2 60.6h.7v.7h-.7zM516.2 59.4h.7v.7h-.7zM493.5 77.5h.7v.7h-.7zM530.4 70.2h.7v.7h-.7zM522.4 53.9h.7v.7h-.7zM495.8 59.9h.7v.7h-.7zM471.9 53.2h.7v.7h-.7zM501.6 50.3h.7v.7h-.7zM510.7 64.5h.7v.7h-.7zM492.2 57.7h.7v.7h-.7zM512.1 64.5h.7v.7h-.7zM506.5 50.3h.7v.7h-.7zM459.3 77.6h.7v.7h-.7zM482.3 57.4h.7v.7h-.7zM454.5 53.8h.7v.7h-.7zM480.4 67.2h.7v.7h-.7zM488.0 56.4h.7v.7h-.7zM479.4 56.8h.7v.7h-.7zM460.4 62.7h.7v.7h-.7zM526.1 61.8h.7v.7h-.7zM485.1 71.1h.7v.7h-.7zM509.4 51.9h.7v.7h-.7zM484.2 55.4h.7v.7h-.7zM496.7 70.6h.7v.7h-.7zM481.1 59.3h.7v.7h-.7zM500.5 50.5h.7v.7h-.7zM486.5 65.6h.7v.7h-.7zM524.6 44.8h.7v.7h-.7zM514.6 58.1h.7v.7h-.7zM528.4 65.7h.7v.7h-.7zM544.5 63.1h.7v.7h-.7zM488.4 53.5h.7v.7h-.7zM463.9 65.1h.7v.7h-.7zM510.0 67.3h.7v.7h-.7zM506.1 48.0h.7v.7h-.7zM488.2 58.5h.7v.7h-.7zM501.6 66.9h.7v.7h-.7zM531.4 62.9h.7v.7h-.7zM448.9 52.0h.7v.7h-.7zM447.2 54.1h.7v.7h-.7zM469.4 62.5h.7v.7h-.7zM492.6 69.8h.7v.7h-.7zM523.4 56.7h.7v.7h-.7zM520.2 60.6h.7v.7h-.7zM508.6 71.7h.7v.7h-.7zM470.6 59.9h.7v.7h-.7zM534.3 54.1h.7v.7h-.7zM502.9 61.6h.7v.7h-.7zM487.9 49.6h.7v.7h-.7zM481.5 52.3h.7v.7h-.7zM523.4 62.6h.7v.7h-.7zM514.5 50.6h.7v.7h-.7zM509.7 61.7h.7v.7h-.7zM522.7 54.5h.7v.7h-.7zM517.0 71.9h.7v.7h-.7zM540.6 52.8h.7v.7h-.7zM471.2 48.3h.7v.7h-.7zM520.6 65.5h.7v.7h-.7zM505.9 53.3h.7v.7h-.7zM527.5 73.9h.7v.7h-.7zM497.0 59.5h.7v.7h-.7zM526.0 64.7h.7v.7h-.7zM529.7 57.1h.7v.7h-.7zM505.9 57.7h.7v.7h-.7zM484.3 58.0h.7v.7h-.7zM491.1 64.7h.7v.7h-.7zM490.6 61.1h.7v.7h-.7zM478.6 50.3h.7v.7h-.7zM531.7 52.3h.7v.7h-.7zM540.8 68.3h.7v.7h-.7zM443.5 55.2h.7v.7h-.7zM487.9 60.7h.7v.7h-.7zM493.6 55.5h.7v.7h-.7zM527.5 59.4h.7v.7h-.7zM520.6 54.8h.7v.7h-.7zM481.5 71.6h.7v.7h-.7zM491.1 51.4h.7v.7h-.7zM493.8 69.3h.7v.7h-.7zM494.0 54.5h.7v.7h-.7zM512.9 68.7h.7v.7h-.7zM492.9 57.9h.7v.7h-.7zM489.2 83.0h.7v.7h-.7zM493.4 75.0h.7v.7h-.7zM494.3 63.9h.7v.7h-.7zM449.5 62.0h.7v.7h-.7zM499.1 57.9h.7v.7h-.7zM488.2 49.2h.7v.7h-.7zM462.5 61.9h.7v.7h-.7zM482.7 59.8h.7v.7h-.7zM493.6 56.3h.7v.7h-.7zM480.6 75.9h.7v.7h-.7zM471.7 56.3h.7v.7h-.7zM490.8 50.9h.7v.7h-.7zM475.1 67.7h.7v.7h-.7zM519.9 61.6h.7v.7h-.7zM527.1 53.7h.7v.7h-.7zM523.5 74.5h.7v.7h-.7zM488.9 75.5h.7v.7h-.7zM478.8 51.1h.7v.7h-.7zM496.8 53.8h.7v.7h-.7zM513.0 51.3h.7v.7h-.7zM499.8 44.2h.7v.7h-.7zM497.1 69.2h.7v.7h-.7zM491.6 63.1h.7v.7h-.7zM480.5 50.9h.7v.7h-.7zM459.5 60.1h.7v.7h-.7zM473.3 57.4h.7v.7h-.7zM462.2 69.0h.7v.7h-.7zM460.5 57.5h.7v.7h-.7zM470.4 65.2h.7v.7h-.7zM466.9 53.1h.7v.7h-.7zM488.7 52.9h.7v.7h-.7zM477.9 58.3h.7v.7h-.7zM466.6 59.2h.7v.7h-.7zM468.6 61.9h.7v.7h-.7zM448.2 59.3h.7v.7h-.7zM471.5 51.9h.7v.7h-.7zM467.4 77.8h.7v.7h-.7zM487.2 64.5h.7v.7h-.7zM472.9 57.1h.7v.7h-.7zM483.2 56.0h.7v.7h-.7zM463.5 64.9h.7v.7h-.7zM462.2 53.3h.7v.7h-.7zM483.7 47.0h.7v.7h-.7zM470.2 60.4h.7v.7h-.7zM473.1 48.1h.7v.7h-.7zM468.8 56.9h.7v.7h-.7zM487.9 67.4h.7v.7h-.7zM464.1 66.3h.7v.7h-.7zM476.6 58.6h.7v.7h-.7zM468.7 57.4h.7v.7h-.7zM457.1 54.6h.7v.7h-.7zM479.2 70.8h.7v.7h-.7zM487.3 56.6h.7v.7h-.7zM476.3 40.7h.7v.7h-.7zM468.4 49.6h.7v.7h-.7zM478.1 46.6h.7v.7h-.7zM461.6 50.9h.7v.7h-.7zM474.4 66.0h.7v.7h-.7zM462.7 73.6h.7v.7h-.7zM472.3 53.0h.7v.7h-.7zM473.9 59.4h.7v.7h-.7zM478.2 62.2h.7v.7h-.7zM490.3 68.6h.7v.7h-.7zM465.2 65.7h.7v.7h-.7zM477.6 51.7h.7v.7h-.7zM464.2 53.2h.7v.7h-.7zM448.9 64.5h.7v.7h-.7zM468.9 69.1h.7v.7h-.7zM465.9 60.1h.7v.7h-.7zM477.3 67.1h.7v.7h-.7zM473.7 51.4h.7v.7h-.7zM490.4 66.3h.7v.7h-.7zM482.9 72.1h.7v.7h-.7zM483.3 62.7h.7v.7h-.7zM475.0 64.4h.7v.7h-.7zM457.5 65.9h.7v.7h-.7zM462.2 62.8h.7v.7h-.7zM461.9 65.1h.7v.7h-.7zM466.5 78.9h.7v.7h-.7zM472.6 63.5h.7v.7h-.7zM462.8 57.3h.7v.7h-.7zM470.3 57.3h.7v.7h-.7zM467.0 52.7h.7v.7h-.7zM477.6 56.5h.7v.7h-.7zM463.6 62.4h.7v.7h-.7zM463.7 58.1h.7v.7h-.7zM466.3 52.3h.7v.7h-.7zM468.9 53.1h.7v.7h-.7zM459.7 62.3h.7v.7h-.7zM468.2 48.1h.7v.7h-.7zM467.4 61.0h.7v.7h-.7zM474.7 62.4h.7v.7h-.7zM473.1 64.2h.7v.7h-.7zM466.5 53.3h.7v.7h-.7zM476.3 56.3h.7v.7h-.7zM471.0 64.6h.7v.7h-.7zM479.2 69.0h.7v.7h-.7zM464.8 56.6h.7v.7h-.7zM475.8 48.3h.7v.7h-.7zM459.7 64.2h.7v.7h-.7zM465.4 52.3h.7v.7h-.7zM478.0 63.6h.7v.7h-.7zM479.0 56.9h.7v.7h-.7zM468.3 56.9h.7v.7h-.7zM473.5 43.7h.7v.7h-.7zM464.7 65.0h.7v.7h-.7zM464.0 59.0h.7v.7h-.7zM472.0 63.6h.7v.7h-.7zM466.7 50.7h.7v.7h-.7zM493.0 53.9h.7v.7h-.7zM486.0 45.8h.7v.7h-.7zM471.9 58.0h.7v.7h-.7zM487.7 75.4h.7v.7h-.7zM479.5 51.6h.7v.7h-.7zM463.8 53.7h.7v.7h-.7zM466.3 61.5h.7v.7h-.7zM463.9 57.6h.7v.7h-.7zM483.9 70.7h.7v.7h-.7zM454.4 52.1h.7v.7h-.7zM467.6 69.6h.7v.7h-.7zM468.0 74.4h.7v.7h-.7zM474.1 70.7h.7v.7h-.7zM463.3 57.1h.7v.7h-.7zM479.9 64.0h.7v.7h-.7zM454.4 57.4h.7v.7h-.7zM472.5 64.4h.7v.7h-.7zM465.3 73.0h.7v.7h-.7zM472.2 70.8h.7v.7h-.7zM474.5 60.2h.7v.7h-.7zM468.1 50.4h.7v.7h-.7zM478.5 65.4h.7v.7h-.7zM479.1 56.6h.7v.7h-.7zM462.0 56.6h.7v.7h-.7zM468.1 59.4h.7v.7h-.7zM479.6 52.4h.7v.7h-.7zM466.6 64.9h.7v.7h-.7zM478.9 76.7h.7v.7h-.7zM475.5 52.9h.7v.7h-.7zM461.7 53.4h.7v.7h-.7zM471.5 61.5h.7v.7h-.7zM470.3 54.8h.7v.7h-.7zM469.3 58.9h.7v.7h-.7zM476.1 60.2h.7v.7h-.7zM463.7 50.4h.7v.7h-.7zM484.0 58.8h.7v.7h-.7zM469.3 59.3h.7v.7h-.7zM480.9 57.1h.7v.7h-.7zM472.5 57.7h.7v.7h-.7zM476.0 51.7h.7v.7h-.7zM472.7 67.5h.7v.7h-.7zM481.4 64.3h.7v.7h-.7zM473.5 71.7h.7v.7h-.7zM477.2 70.4h.7v.7h-.7zM460.3 51.0h.7v.7h-.7zM478.0 57.5h.7v.7h-.7zM467.1 52.2h.7v.7h-.7zM484.0 50.3h.7v.7h-.7zM471.8 48.7h.7v.7h-.7zM469.4 76.9h.7v.7h-.7zM492.4 55.7h.7v.7h-.7zM462.0 72.1h.7v.7h-.7zM463.4 45.7h.7v.7h-.7zM474.0 51.2h.7v.7h-.7zM458.1 68.2h.7v.7h-.7zM464.5 51.3h.7v.7h-.7zM472.4 58.1h.7v.7h-.7zM480.8 60.3h.7v.7h-.7zM485.0 68.3h.7v.7h-.7zM486.6 68.2h.7v.7h-.7zM471.6 63.7h.7v.7h-.7zM471.1 47.5h.7v.7h-.7zM460.6 65.3h.7v.7h-.7zM450.1 53.1h.7v.7h-.7zM459.6 59.0h.7v.7h-.7zM461.8 61.4h.7v.7h-.7zM469.2 55.9h.7v.7h-.7zM463.5 42.3h.7v.7h-.7zM471.6 49.5h.7v.7h-.7zM468.3 62.4h.7v.7h-.7zM480.2 65.0h.7v.7h-.7zM484.0 48.5h.7v.7h-.7zM476.9 71.7h.7v.7h-.7zM474.4 50.9h.7v.7h-.7zM474.4 55.5h.7v.7h-.7zM465.3 67.8h.7v.7h-.7zM469.4 50.9h.7v.7h-.7zM465.0 74.7h.7v.7h-.7zM463.5 64.7h.7v.7h-.7zM472.5 68.6h.7v.7h-.7zM468.5 52.2h.7v.7h-.7zM465.3 51.6h.7v.7h-.7zM493.8 61.0h.7v.7h-.7zM468.1 69.3h.7v.7h-.7zM476.7 58.1h.7v.7h-.7zM476.4 61.6h.7v.7h-.7zM480.9 72.3h.7v.7h-.7zM468.2 59.2h.7v.7h-.7zM469.3 69.0h.7v.7h-.7zM474.3 65.6h.7v.7h-.7zM478.9 54.6h.7v.7h-.7zM472.1 70.2h.7v.7h-.7zM479.1 65.8h.7v.7h-.7zM468.5 56.7h.7v.7h-.7zM463.4 57.4h.7v.7h-.7zM470.4 48.4h.7v.7h-.7zM481.2 53.6h.7v.7h-.7zM473.2 64.2h.7v.7h-.7zM466.1 45.5h.7v.7h-.7zM479.4 62.7h.7v.7h-.7zM468.7 68.3h.7v.7h-.7zM478.8 52.1h.7v.7h-.7zM470.2 45.9h.7v.7h-.7zM468.6 70.4h.7v.7h-.7zM463.6 65.9h.7v.7h-.7zM457.7 57.2h.7v.7h-.7zM479.2 72.8h.7v.7h-.7zM474.9 65.4h.7v.7h-.7zM486.1 40.6h.7v.7h-.7zM455.9 74.1h.7v.7h-.7zM492.6 64.1h.7v.7h-.7zM471.5 61.5h.7v.7h-.7zM471.2 54.8h.7v.7h-.7zM470.8 58.6h.7v.7h-.7z" fill="#3aa53a" opacity="0.78"/>
<rect x="485.50" y="41.20" width="90.80" height="39.20" fill="none" stroke="#222" stroke-width="0.9"/>
<text x="439.90" y="30.60" font-size="14" fill="#111">58.7</text>
<line x1="435.70" y1="17.50" x2="435.70" y2="87.80" stroke="#777" stroke-width="0.8"/>
<line x1="432.70" y1="17.80" x2="435.70" y2="17.80" stroke="#222" stroke-width="1.2"/>
<text x="419.70" y="26.10" font-size="5.4" fill="#777">10</text>
<text x="426.10" y="22.70" font-size="4.4" fill="#777">5</text>
<line x1="432.70" y1="52.00" x2="435.70" y2="52.00" stroke="#222" stroke-width="1.2"/>
<text x="419.70" y="55.60" font-size="5.4" fill="#777">10</text>
<text x="426.10" y="52.20" font-size="4.4" fill="#777">4</text>
<line x1="432.70" y1="87.50" x2="435.70" y2="87.50" stroke="#222" stroke-width="1.2"/>
<text x="419.70" y="87.20" font-size="5.4" fill="#777">10</text>
<text x="426.10" y="83.80" font-size="4.4" fill="#777">3</text>
<line x1="433.90" y1="41.67" x2="435.70" y2="41.67" stroke="#555" stroke-width="0.6"/>
<line x1="433.90" y1="35.63" x2="435.70" y2="35.63" stroke="#555" stroke-width="0.6"/>
<line x1="433.90" y1="31.35" x2="435.70" y2="31.35" stroke="#555" stroke-width="0.6"/>
<line x1="433.90" y1="28.03" x2="435.70" y2="28.03" stroke="#555" stroke-width="0.6"/>
<line x1="433.90" y1="25.31" x2="435.70" y2="25.31" stroke="#555" stroke-width="0.6"/>
<line x1="433.90" y1="23.01" x2="435.70" y2="23.01" stroke="#555" stroke-width="0.6"/>
<line x1="433.90" y1="21.02" x2="435.70" y2="21.02" stroke="#555" stroke-width="0.6"/>
<line x1="433.90" y1="19.27" x2="435.70" y2="19.27" stroke="#555" stroke-width="0.6"/>
<line x1="433.90" y1="77.47" x2="435.70" y2="77.47" stroke="#555" stroke-width="0.6"/>
<line x1="433.90" y1="71.43" x2="435.70" y2="71.43" stroke="#555" stroke-width="0.6"/>
<line x1="433.90" y1="67.15" x2="435.70" y2="67.15" stroke="#555" stroke-width="0.6"/>
<line x1="433.90" y1="63.83" x2="435.70" y2="63.83" stroke="#555" stroke-width="0.6"/>
<line x1="433.90" y1="61.11" x2="435.70" y2="61.11" stroke="#555" stroke-width="0.6"/>
<line x1="433.90" y1="58.81" x2="435.70" y2="58.81" stroke="#555" stroke-width="0.6"/>
<line x1="433.90" y1="56.82" x2="435.70" y2="56.82" stroke="#555" stroke-width="0.6"/>
<line x1="433.90" y1="55.07" x2="435.70" y2="55.07" stroke="#555" stroke-width="0.6"/>
<rect x="435.70" y="87.80" width="140.60" height="69.80" fill="none" stroke="#c4c4c4" stroke-width="0.8"/>
<ellipse cx="467.8" cy="129.4" rx="19.0" ry="19.5" fill="url(#g11)"/>
<ellipse cx="467.8" cy="129.4" rx="9.3" ry="9.9" fill="#c8b39e" opacity="0.35"/>
<path d="M484.3 129.7L484.1 133.5L483.5 136.4L482.5 139.0L481.2 141.1L479.5 142.9L477.5 144.3L475.1 145.4L472.4 146.0L468.8 146.2L465.2 146.0L462.5 145.4L460.1 144.3L458.1 142.9L456.4 141.1L455.1 139.0L454.1 136.4L453.5 133.5L453.3 129.7L453.5 125.9L454.1 123.0L455.1 120.4L456.4 118.3L458.1 116.5L460.1 115.1L462.5 114.0L465.2 113.4L468.8 113.2L472.4 113.4L475.1 114.0L477.5 115.1L479.5 116.5L481.2 118.3L482.5 120.4L483.5 123.0L484.1 125.9Z" fill="none" stroke="#8a6a4c" stroke-width="0.45" opacity="0.6"/>
<path d="M483.1 129.7L483.0 133.3L482.4 136.0L481.5 138.3L480.3 140.3L478.7 142.0L476.8 143.3L474.6 144.3L472.1 144.9L468.7 145.0L465.4 144.9L462.8 144.3L460.6 143.3L458.8 142.0L457.2 140.3L455.9 138.3L455.0 136.0L454.5 133.3L454.3 129.7L454.5 126.1L455.0 123.4L455.9 121.1L457.2 119.1L458.8 117.4L460.6 116.1L462.8 115.1L465.4 114.5L468.7 114.4L472.1 114.5L474.6 115.1L476.8 116.1L478.7 117.4L480.3 119.1L481.5 121.1L482.4 123.4L483.0 126.1Z" fill="none" stroke="#8a6a4c" stroke-width="0.45" opacity="0.6"/>
<path d="M482.0 129.7L481.8 133.0L481.3 135.5L480.5 137.7L479.3 139.5L477.9 141.1L476.1 142.3L474.1 143.2L471.8 143.7L468.7 143.9L465.6 143.7L463.2 143.2L461.2 142.3L459.4 141.1L458.0 139.5L456.8 137.7L456.0 135.5L455.5 133.0L455.3 129.7L455.5 126.4L456.0 123.9L456.8 121.7L458.0 119.9L459.4 118.3L461.2 117.1L463.2 116.2L465.6 115.7L468.7 115.5L471.8 115.7L474.1 116.2L476.1 117.1L477.9 118.3L479.3 119.9L480.5 121.7L481.3 123.9L481.8 126.4Z" fill="none" stroke="#8a6a4c" stroke-width="0.45" opacity="0.6"/>
<path d="M480.8 129.7L480.7 132.7L480.2 135.0L479.5 137.0L478.4 138.7L477.1 140.1L475.5 141.3L473.6 142.1L471.4 142.6L468.6 142.7L465.7 142.6L463.6 142.1L461.7 141.3L460.1 140.1L458.8 138.7L457.7 137.0L457.0 135.0L456.5 132.7L456.3 129.7L456.5 126.7L457.0 124.4L457.7 122.4L458.8 120.7L460.1 119.3L461.7 118.1L463.6 117.3L465.7 116.8L468.6 116.7L471.4 116.8L473.6 117.3L475.5 118.1L477.1 119.3L478.4 120.7L479.5 122.4L480.2 124.4L480.7 126.7Z" fill="none" stroke="#8a6a4c" stroke-width="0.45" opacity="0.6"/>
<path d="M479.7 129.7L479.5 132.5L479.1 134.6L478.4 136.4L477.5 137.9L476.2 139.2L474.8 140.2L473.1 141.0L471.1 141.4L468.5 141.6L465.9 141.4L464.0 141.0L462.3 140.2L460.8 139.2L459.6 137.9L458.6 136.4L457.9 134.6L457.5 132.5L457.4 129.7L457.5 126.9L457.9 124.8L458.6 123.0L459.6 121.5L460.8 120.2L462.3 119.2L464.0 118.4L465.9 118.0L468.5 117.8L471.1 118.0L473.1 118.4L474.8 119.2L476.2 120.2L477.5 121.5L478.4 123.0L479.1 124.8L479.5 126.9Z" fill="none" stroke="#8a6a4c" stroke-width="0.45" opacity="0.6"/>
<path d="M478.5 129.7L478.4 132.2L478.0 134.1L477.4 135.7L476.5 137.1L475.4 138.3L474.1 139.2L472.6 139.9L470.8 140.3L468.5 140.4L466.1 140.3L464.3 139.9L462.8 139.2L461.5 138.3L460.4 137.1L459.5 135.7L458.9 134.1L458.5 132.2L458.4 129.7L458.5 127.2L458.9 125.3L459.5 123.7L460.4 122.3L461.5 121.1L462.8 120.2L464.3 119.5L466.1 119.1L468.4 119.0L470.8 119.1L472.6 119.5L474.1 120.2L475.4 121.1L476.5 122.3L477.4 123.7L478.0 125.3L478.4 127.2Z" fill="none" stroke="#8a6a4c" stroke-width="0.45" opacity="0.5"/>
<path d="M477.4 129.7L477.3 131.9L476.9 133.6L476.4 135.1L475.6 136.3L474.6 137.4L473.4 138.2L472.1 138.8L470.5 139.1L468.4 139.3L466.3 139.1L464.7 138.8L463.3 138.2L462.2 137.4L461.2 136.3L460.4 135.1L459.8 133.6L459.5 131.9L459.4 129.7L459.5 127.5L459.8 125.8L460.4 124.3L461.2 123.1L462.2 122.0L463.3 121.2L464.7 120.6L466.3 120.3L468.4 120.1L470.5 120.3L472.1 120.6L473.4 121.2L474.6 122.0L475.6 123.1L476.4 124.3L476.9 125.8L477.3 127.5Z" fill="none" stroke="#8a6a4c" stroke-width="0.45" opacity="0.5"/>
<path d="M476.2 129.7L476.1 131.7L475.8 133.1L475.3 134.4L474.6 135.5L473.8 136.4L472.7 137.2L471.5 137.7L470.1 138.0L468.3 138.1L466.5 138.0L465.1 137.7L463.9 137.2L462.8 136.4L462.0 135.5L461.3 134.4L460.8 133.1L460.5 131.7L460.4 129.7L460.5 127.7L460.8 126.3L461.3 125.0L462.0 123.9L462.8 123.0L463.9 122.2L465.1 121.7L466.5 121.4L468.3 121.3L470.1 121.4L471.5 121.7L472.7 122.2L473.8 123.0L474.6 123.9L475.3 125.0L475.8 126.3L476.1 127.7Z" fill="none" stroke="#8a6a4c" stroke-width="0.45" opacity="0.5"/>
<path d="M475.1 129.7L475.0 131.4L474.7 132.7L474.3 133.8L473.7 134.7L473.0 135.5L472.1 136.1L471.0 136.6L469.8 136.9L468.2 137.0L466.7 136.9L465.5 136.6L464.4 136.1L463.5 135.5L462.8 134.7L462.2 133.8L461.8 132.7L461.5 131.4L461.4 129.7L461.5 128.0L461.8 126.7L462.2 125.6L462.8 124.7L463.5 123.9L464.4 123.3L465.5 122.8L466.7 122.5L468.2 122.4L469.8 122.5L471.0 122.8L472.1 123.3L473.0 123.9L473.7 124.7L474.3 125.6L474.7 126.7L475.0 128.0Z" fill="none" stroke="#8a6a4c" stroke-width="0.45" opacity="0.5"/>
<path d="M473.9 129.7L473.8 131.1L473.6 132.2L473.3 133.1L472.8 133.9L472.1 134.6L471.4 135.1L470.5 135.5L469.5 135.7L468.2 135.8L466.8 135.7L465.8 135.5L465.0 135.1L464.2 134.6L463.6 133.9L463.1 133.1L462.7 132.2L462.5 131.1L462.4 129.7L462.5 128.3L462.7 127.2L463.1 126.3L463.6 125.5L464.2 124.8L465.0 124.3L465.8 123.9L466.8 123.7L468.2 123.6L469.5 123.7L470.5 123.9L471.4 124.3L472.1 124.8L472.8 125.5L473.3 126.3L473.6 127.2L473.8 128.3Z" fill="none" stroke="#8a6a4c" stroke-width="0.45" opacity="0.5"/>
<path d="M472.8 129.7L472.7 130.9L472.5 131.7L472.2 132.5L471.8 133.1L471.3 133.7L470.7 134.1L470.0 134.4L469.2 134.6L468.1 134.7L467.0 134.6L466.2 134.4L465.5 134.1L464.9 133.7L464.4 133.1L464.0 132.5L463.7 131.7L463.5 130.9L463.5 129.7L463.5 128.5L463.7 127.7L464.0 126.9L464.4 126.3L464.9 125.7L465.5 125.3L466.2 125.0L467.0 124.8L468.1 124.8L469.2 124.8L470.0 125.0L470.7 125.3L471.3 125.7L471.8 126.3L472.2 126.9L472.5 127.7L472.7 128.5Z" fill="none" stroke="#8a6a4c" stroke-width="0.45" opacity="0.5"/>
<path d="M471.6 129.7L471.5 130.6L471.4 131.3L471.2 131.8L470.9 132.3L470.5 132.7L470.0 133.1L469.5 133.3L468.9 133.4L468.0 133.5L467.2 133.4L466.6 133.3L466.0 133.1L465.6 132.7L465.2 132.3L464.9 131.8L464.6 131.3L464.5 130.6L464.5 129.7L464.5 128.8L464.6 128.1L464.9 127.6L465.2 127.1L465.6 126.7L466.0 126.3L466.6 126.1L467.2 126.0L468.0 125.9L468.9 126.0L469.5 126.1L470.0 126.3L470.5 126.7L470.9 127.1L471.2 127.6L471.4 128.1L471.5 128.8Z" fill="none" stroke="#8a6a4c" stroke-width="0.45" opacity="0.5"/>
<path d="M481.0 129.9L480.8 133.0L480.4 135.3L479.6 137.3L478.5 139.0L477.2 140.5L475.6 141.6L473.7 142.4L471.5 142.9L468.6 143.1L465.7 142.9L463.5 142.4L461.6 141.6L460.0 140.5L458.7 139.0L457.6 137.3L456.8 135.3L456.4 133.0L456.2 129.9L456.4 126.8L456.8 124.5L457.6 122.5L458.7 120.8L460.0 119.3L461.6 118.2L463.5 117.4L465.7 116.9L468.6 116.7L471.5 116.9L473.7 117.4L475.6 118.2L477.2 119.3L478.5 120.8L479.6 122.5L480.4 124.5L480.8 126.8Z" fill="none" stroke="#fff" stroke-width="1.1" opacity="0.85"/>
<path d="M475.3 129.9L475.2 131.6L474.9 132.9L474.5 134.1L473.9 135.0L473.1 135.8L472.2 136.5L471.2 136.9L469.9 137.2L468.3 137.3L466.7 137.2L465.4 136.9L464.4 136.5L463.5 135.8L462.7 135.0L462.1 134.1L461.7 132.9L461.4 131.6L461.3 129.9L461.4 128.2L461.7 126.9L462.1 125.7L462.7 124.8L463.5 124.0L464.4 123.3L465.4 122.9L466.7 122.6L468.3 122.5L469.9 122.6L471.2 122.9L472.2 123.3L473.1 124.0L473.9 124.8L474.5 125.7L474.9 126.9L475.2 128.2Z" fill="none" stroke="#fff" stroke-width="0.7" opacity="0.7"/>
<ellipse cx="468.3" cy="128.4" rx="2.2" ry="3" fill="#fff" opacity="0.8"/>
<path d="M473.6 135.3h.7v.7h-.7zM476.2 134.5h.7v.7h-.7zM459.8 141.5h.7v.7h-.7zM445.5 130.4h.7v.7h-.7zM470.7 124.8h.7v.7h-.7zM483.6 119.9h.7v.7h-.7zM458.1 125.0h.7v.7h-.7zM471.4 136.3h.7v.7h-.7zM468.9 135.2h.7v.7h-.7zM462.1 124.2h.7v.7h-.7zM469.0 117.7h.7v.7h-.7zM469.5 126.0h.7v.7h-.7zM473.7 120.6h.7v.7h-.7zM463.5 124.5h.7v.7h-.7zM464.9 120.7h.7v.7h-.7zM465.8 117.7h.7v.7h-.7zM472.4 135.3h.7v.7h-.7zM467.8 127.8h.7v.7h-.7zM460.5 121.1h.7v.7h-.7zM466.1 121.6h.7v.7h-.7zM458.1 130.9h.7v.7h-.7zM467.8 125.9h.7v.7h-.7zM461.1 129.0h.7v.7h-.7zM462.2 125.7h.7v.7h-.7zM469.5 135.7h.7v.7h-.7zM474.3 124.1h.7v.7h-.7zM478.0 119.4h.7v.7h-.7zM466.5 140.8h.7v.7h-.7zM487.8 130.5h.7v.7h-.7zM464.9 126.2h.7v.7h-.7zM457.8 128.2h.7v.7h-.7zM464.4 122.9h.7v.7h-.7zM477.9 122.7h.7v.7h-.7zM482.1 136.7h.7v.7h-.7zM473.3 124.3h.7v.7h-.7zM463.7 112.1h.7v.7h-.7zM470.2 127.1h.7v.7h-.7zM471.2 123.6h.7v.7h-.7zM472.0 116.4h.7v.7h-.7zM449.7 133.6h.7v.7h-.7zM476.9 102.1h.7v.7h-.7zM478.6 126.4h.7v.7h-.7zM466.6 116.0h.7v.7h-.7zM459.6 135.6h.7v.7h-.7zM461.8 129.1h.7v.7h-.7zM466.6 146.7h.7v.7h-.7zM475.3 117.9h.7v.7h-.7zM463.9 119.4h.7v.7h-.7zM456.4 123.5h.7v.7h-.7zM477.1 129.8h.7v.7h-.7zM473.5 128.2h.7v.7h-.7zM464.4 130.1h.7v.7h-.7zM467.3 146.2h.7v.7h-.7zM482.9 132.7h.7v.7h-.7zM472.9 112.1h.7v.7h-.7zM466.9 150.2h.7v.7h-.7zM461.3 136.5h.7v.7h-.7zM478.1 126.0h.7v.7h-.7zM466.0 125.5h.7v.7h-.7zM474.5 129.6h.7v.7h-.7zM480.4 139.7h.7v.7h-.7zM467.8 152.0h.7v.7h-.7zM465.4 124.1h.7v.7h-.7zM466.0 121.8h.7v.7h-.7zM464.4 128.8h.7v.7h-.7zM475.3 115.7h.7v.7h-.7zM456.3 122.7h.7v.7h-.7zM465.4 133.4h.7v.7h-.7zM461.4 142.6h.7v.7h-.7zM463.5 127.5h.7v.7h-.7zM468.4 139.6h.7v.7h-.7zM470.4 129.6h.7v.7h-.7zM463.4 130.9h.7v.7h-.7zM471.3 126.4h.7v.7h-.7zM467.7 113.4h.7v.7h-.7zM463.5 139.7h.7v.7h-.7zM479.7 128.8h.7v.7h-.7zM450.0 145.4h.7v.7h-.7zM466.5 151.8h.7v.7h-.7zM464.5 138.2h.7v.7h-.7zM462.8 141.4h.7v.7h-.7zM477.5 120.1h.7v.7h-.7zM478.7 154.3h.7v.7h-.7zM466.1 118.9h.7v.7h-.7zM470.2 125.9h.7v.7h-.7zM455.5 120.3h.7v.7h-.7zM469.9 116.1h.7v.7h-.7zM476.9 133.3h.7v.7h-.7zM466.4 141.6h.7v.7h-.7zM460.2 135.4h.7v.7h-.7zM456.7 126.6h.7v.7h-.7zM473.2 124.7h.7v.7h-.7zM466.9 135.1h.7v.7h-.7zM480.5 140.8h.7v.7h-.7zM471.7 127.1h.7v.7h-.7zM455.9 144.4h.7v.7h-.7zM483.4 110.6h.7v.7h-.7zM475.1 129.0h.7v.7h-.7zM473.8 132.2h.7v.7h-.7zM466.3 129.4h.7v.7h-.7zM467.6 139.6h.7v.7h-.7zM465.7 124.7h.7v.7h-.7zM473.3 135.0h.7v.7h-.7zM471.5 131.9h.7v.7h-.7zM480.1 139.1h.7v.7h-.7zM469.6 127.6h.7v.7h-.7zM473.4 113.1h.7v.7h-.7zM463.6 123.2h.7v.7h-.7zM469.3 126.0h.7v.7h-.7zM488.3 135.9h.7v.7h-.7zM471.2 149.1h.7v.7h-.7zM467.9 126.6h.7v.7h-.7zM478.1 136.7h.7v.7h-.7zM475.5 140.0h.7v.7h-.7zM464.9 123.6h.7v.7h-.7zM461.9 130.3h.7v.7h-.7zM476.2 120.2h.7v.7h-.7zM463.5 117.7h.7v.7h-.7zM484.4 136.4h.7v.7h-.7zM469.7 118.8h.7v.7h-.7zM459.4 123.8h.7v.7h-.7zM468.2 118.3h.7v.7h-.7zM466.0 140.1h.7v.7h-.7zM468.0 130.3h.7v.7h-.7zM450.6 127.0h.7v.7h-.7zM466.7 123.3h.7v.7h-.7zM456.4 128.8h.7v.7h-.7zM459.4 124.6h.7v.7h-.7zM454.7 128.6h.7v.7h-.7zM475.4 122.0h.7v.7h-.7zM470.6 116.1h.7v.7h-.7zM472.7 134.2h.7v.7h-.7zM464.7 137.2h.7v.7h-.7zM460.6 129.8h.7v.7h-.7zM481.8 129.2h.7v.7h-.7zM458.6 139.5h.7v.7h-.7zM472.3 127.0h.7v.7h-.7zM452.9 112.9h.7v.7h-.7zM455.3 142.4h.7v.7h-.7zM470.3 121.9h.7v.7h-.7zM477.4 142.2h.7v.7h-.7zM460.9 133.6h.7v.7h-.7zM454.3 132.7h.7v.7h-.7zM482.9 117.0h.7v.7h-.7zM468.3 123.8h.7v.7h-.7zM467.1 130.2h.7v.7h-.7zM470.2 137.2h.7v.7h-.7zM472.1 138.6h.7v.7h-.7zM476.3 139.0h.7v.7h-.7zM462.3 133.0h.7v.7h-.7zM464.8 122.0h.7v.7h-.7zM484.0 132.0h.7v.7h-.7zM468.3 110.9h.7v.7h-.7zM466.0 136.2h.7v.7h-.7zM466.2 124.6h.7v.7h-.7zM480.0 126.7h.7v.7h-.7zM465.1 128.5h.7v.7h-.7zM465.9 138.6h.7v.7h-.7zM472.6 128.8h.7v.7h-.7zM464.9 127.4h.7v.7h-.7zM481.8 126.7h.7v.7h-.7zM473.3 115.6h.7v.7h-.7zM470.5 135.4h.7v.7h-.7zM478.4 132.2h.7v.7h-.7zM472.6 132.2h.7v.7h-.7zM476.7 147.4h.7v.7h-.7zM469.5 122.2h.7v.7h-.7zM472.8 128.4h.7v.7h-.7zM473.2 136.2h.7v.7h-.7zM469.1 125.5h.7v.7h-.7zM470.4 118.5h.7v.7h-.7zM470.1 121.6h.7v.7h-.7zM471.6 130.5h.7v.7h-.7zM466.1 118.8h.7v.7h-.7zM468.3 123.4h.7v.7h-.7zM466.7 135.5h.7v.7h-.7zM475.7 118.1h.7v.7h-.7zM475.6 141.4h.7v.7h-.7zM477.2 131.8h.7v.7h-.7zM467.1 144.7h.7v.7h-.7zM465.2 116.0h.7v.7h-.7zM468.6 131.9h.7v.7h-.7zM459.4 118.7h.7v.7h-.7zM484.2 130.4h.7v.7h-.7zM474.3 124.3h.7v.7h-.7zM455.4 127.8h.7v.7h-.7zM478.9 123.5h.7v.7h-.7zM453.2 127.9h.7v.7h-.7zM465.6 129.5h.7v.7h-.7zM459.3 126.7h.7v.7h-.7zM463.4 137.2h.7v.7h-.7zM469.1 137.1h.7v.7h-.7zM467.5 110.7h.7v.7h-.7zM451.8 134.1h.7v.7h-.7zM475.1 137.1h.7v.7h-.7zM467.3 113.7h.7v.7h-.7zM463.8 133.0h.7v.7h-.7zM479.2 126.4h.7v.7h-.7zM463.3 122.6h.7v.7h-.7zM476.3 137.0h.7v.7h-.7zM452.9 140.1h.7v.7h-.7zM460.3 116.5h.7v.7h-.7zM454.8 123.0h.7v.7h-.7zM487.0 151.8h.7v.7h-.7zM457.7 123.5h.7v.7h-.7zM469.2 133.1h.7v.7h-.7zM464.0 115.5h.7v.7h-.7zM464.5 123.4h.7v.7h-.7zM453.1 130.7h.7v.7h-.7zM455.8 114.1h.7v.7h-.7zM480.4 137.7h.7v.7h-.7zM479.8 130.4h.7v.7h-.7zM464.5 128.6h.7v.7h-.7zM456.7 135.9h.7v.7h-.7zM470.1 126.7h.7v.7h-.7zM452.5 128.4h.7v.7h-.7zM481.3 142.1h.7v.7h-.7zM475.1 126.3h.7v.7h-.7zM469.0 134.3h.7v.7h-.7zM469.5 138.6h.7v.7h-.7zM462.4 109.0h.7v.7h-.7zM447.9 121.4h.7v.7h-.7zM456.5 135.2h.7v.7h-.7zM476.8 129.4h.7v.7h-.7zM472.3 130.1h.7v.7h-.7zM469.3 125.3h.7v.7h-.7zM464.6 139.9h.7v.7h-.7zM465.7 129.0h.7v.7h-.7zM477.7 138.1h.7v.7h-.7zM464.7 131.6h.7v.7h-.7zM459.6 130.6h.7v.7h-.7zM470.5 129.4h.7v.7h-.7zM469.2 132.6h.7v.7h-.7zM447.1 122.2h.7v.7h-.7zM468.5 125.1h.7v.7h-.7zM460.0 127.3h.7v.7h-.7zM481.1 127.4h.7v.7h-.7zM462.5 125.2h.7v.7h-.7zM458.1 133.7h.7v.7h-.7zM459.8 137.4h.7v.7h-.7zM475.4 134.4h.7v.7h-.7zM476.5 128.7h.7v.7h-.7zM453.4 128.8h.7v.7h-.7zM473.2 115.8h.7v.7h-.7zM457.8 139.0h.7v.7h-.7zM471.5 141.3h.7v.7h-.7zM473.4 130.0h.7v.7h-.7zM471.4 136.9h.7v.7h-.7zM467.7 127.6h.7v.7h-.7zM470.5 126.6h.7v.7h-.7zM487.8 122.7h.7v.7h-.7zM455.4 118.0h.7v.7h-.7zM476.5 125.8h.7v.7h-.7zM469.2 127.5h.7v.7h-.7zM470.2 116.6h.7v.7h-.7zM468.6 124.4h.7v.7h-.7zM476.9 134.9h.7v.7h-.7zM457.5 120.9h.7v.7h-.7zM472.6 139.9h.7v.7h-.7zM474.2 128.1h.7v.7h-.7zM477.1 108.7h.7v.7h-.7zM463.5 120.8h.7v.7h-.7zM459.4 134.4h.7v.7h-.7zM470.2 131.9h.7v.7h-.7zM466.8 134.9h.7v.7h-.7zM474.4 124.4h.7v.7h-.7zM475.6 121.2h.7v.7h-.7zM482.5 117.9h.7v.7h-.7zM465.5 119.9h.7v.7h-.7zM468.2 141.0h.7v.7h-.7zM461.7 145.0h.7v.7h-.7zM479.6 132.8h.7v.7h-.7zM463.0 137.4h.7v.7h-.7zM444.2 122.7h.7v.7h-.7zM475.9 129.1h.7v.7h-.7zM488.5 123.5h.7v.7h-.7zM456.9 127.5h.7v.7h-.7zM472.7 144.4h.7v.7h-.7zM453.3 130.8h.7v.7h-.7zM478.4 123.5h.7v.7h-.7zM464.1 118.7h.7v.7h-.7zM474.3 136.7h.7v.7h-.7zM472.8 131.6h.7v.7h-.7zM476.1 128.3h.7v.7h-.7zM473.9 136.6h.7v.7h-.7zM478.7 133.9h.7v.7h-.7zM468.6 135.6h.7v.7h-.7zM455.0 113.9h.7v.7h-.7zM481.4 130.6h.7v.7h-.7zM459.2 124.3h.7v.7h-.7zM466.7 130.0h.7v.7h-.7zM461.6 138.2h.7v.7h-.7zM453.7 154.2h.7v.7h-.7zM458.9 144.1h.7v.7h-.7zM473.5 114.5h.7v.7h-.7zM457.7 129.9h.7v.7h-.7zM470.2 125.7h.7v.7h-.7zM468.0 130.8h.7v.7h-.7zM458.4 129.9h.7v.7h-.7zM486.9 123.7h.7v.7h-.7zM459.4 135.3h.7v.7h-.7zM479.2 138.6h.7v.7h-.7zM462.6 128.7h.7v.7h-.7zM469.6 127.5h.7v.7h-.7zM471.3 139.0h.7v.7h-.7zM472.5 129.3h.7v.7h-.7zM466.2 145.2h.7v.7h-.7zM457.6 147.1h.7v.7h-.7zM474.1 130.2h.7v.7h-.7zM461.7 145.7h.7v.7h-.7zM478.1 137.5h.7v.7h-.7zM485.4 113.5h.7v.7h-.7zM468.8 126.7h.7v.7h-.7zM461.8 130.1h.7v.7h-.7zM472.4 134.1h.7v.7h-.7zM466.7 117.7h.7v.7h-.7zM472.6 134.8h.7v.7h-.7zM485.8 137.7h.7v.7h-.7zM468.1 119.2h.7v.7h-.7zM490.9 123.4h.7v.7h-.7zM469.6 136.0h.7v.7h-.7zM472.2 141.2h.7v.7h-.7zM459.2 123.3h.7v.7h-.7zM469.4 118.5h.7v.7h-.7zM462.7 141.7h.7v.7h-.7zM470.4 128.5h.7v.7h-.7zM463.1 129.8h.7v.7h-.7zM467.6 119.8h.7v.7h-.7zM474.6 118.0h.7v.7h-.7zM478.8 126.4h.7v.7h-.7zM448.6 115.6h.7v.7h-.7zM470.4 121.7h.7v.7h-.7zM483.2 141.7h.7v.7h-.7zM485.8 137.3h.7v.7h-.7zM479.4 124.0h.7v.7h-.7zM479.0 125.5h.7v.7h-.7zM467.5 117.3h.7v.7h-.7zM468.4 133.0h.7v.7h-.7zM467.4 119.5h.7v.7h-.7zM475.6 137.5h.7v.7h-.7zM467.2 136.4h.7v.7h-.7zM476.3 120.6h.7v.7h-.7zM467.6 112.8h.7v.7h-.7zM459.1 133.2h.7v.7h-.7zM460.4 132.9h.7v.7h-.7zM471.0 111.0h.7v.7h-.7zM463.8 142.9h.7v.7h-.7zM468.0 130.5h.7v.7h-.7zM461.9 115.1h.7v.7h-.7zM454.3 155.1h.7v.7h-.7zM466.3 121.6h.7v.7h-.7zM468.9 112.1h.7v.7h-.7zM479.9 144.7h.7v.7h-.7zM461.5 132.3h.7v.7h-.7zM460.2 137.1h.7v.7h-.7zM460.7 128.1h.7v.7h-.7zM479.1 134.1h.7v.7h-.7zM465.1 115.8h.7v.7h-.7zM454.3 140.2h.7v.7h-.7zM472.3 129.9h.7v.7h-.7zM478.7 130.7h.7v.7h-.7zM461.7 128.5h.7v.7h-.7zM467.1 129.3h.7v.7h-.7zM489.3 134.6h.7v.7h-.7zM470.3 127.2h.7v.7h-.7zM462.1 120.5h.7v.7h-.7zM451.8 125.3h.7v.7h-.7zM454.9 112.8h.7v.7h-.7zM459.9 111.2h.7v.7h-.7zM479.7 140.6h.7v.7h-.7zM459.6 147.8h.7v.7h-.7zM473.6 106.8h.7v.7h-.7zM468.1 120.4h.7v.7h-.7zM452.9 127.1h.7v.7h-.7zM477.8 133.4h.7v.7h-.7zM455.4 123.5h.7v.7h-.7zM461.4 139.7h.7v.7h-.7zM467.1 120.6h.7v.7h-.7zM460.1 111.7h.7v.7h-.7zM460.6 137.4h.7v.7h-.7zM451.5 131.1h.7v.7h-.7zM466.9 136.7h.7v.7h-.7zM458.0 137.6h.7v.7h-.7zM481.3 150.0h.7v.7h-.7zM453.9 129.1h.7v.7h-.7zM466.1 130.5h.7v.7h-.7zM459.4 137.1h.7v.7h-.7zM488.1 142.9h.7v.7h-.7zM459.7 124.2h.7v.7h-.7zM474.2 130.6h.7v.7h-.7zM461.3 140.5h.7v.7h-.7zM472.3 138.6h.7v.7h-.7zM466.4 140.9h.7v.7h-.7zM463.9 119.3h.7v.7h-.7zM467.8 116.8h.7v.7h-.7zM478.7 136.0h.7v.7h-.7zM453.4 130.9h.7v.7h-.7zM475.2 126.2h.7v.7h-.7zM471.5 124.1h.7v.7h-.7zM467.3 128.6h.7v.7h-.7zM472.0 120.7h.7v.7h-.7zM458.1 132.4h.7v.7h-.7zM463.5 134.1h.7v.7h-.7zM463.5 117.6h.7v.7h-.7zM474.2 131.8h.7v.7h-.7zM474.2 126.3h.7v.7h-.7zM464.8 140.8h.7v.7h-.7zM453.2 145.1h.7v.7h-.7zM472.3 128.9h.7v.7h-.7zM468.6 134.8h.7v.7h-.7zM461.2 131.9h.7v.7h-.7zM459.6 112.7h.7v.7h-.7zM469.6 130.3h.7v.7h-.7zM473.4 134.4h.7v.7h-.7zM473.9 136.5h.7v.7h-.7zM458.7 140.4h.7v.7h-.7zM491.0 124.3h.7v.7h-.7zM457.0 135.6h.7v.7h-.7zM475.8 138.5h.7v.7h-.7zM481.1 116.9h.7v.7h-.7zM488.2 133.6h.7v.7h-.7zM507.5 121.4h.7v.7h-.7zM480.4 126.1h.7v.7h-.7zM483.3 128.1h.7v.7h-.7zM483.0 113.4h.7v.7h-.7zM480.5 130.0h.7v.7h-.7zM488.2 97.4h.7v.7h-.7zM495.1 123.5h.7v.7h-.7zM498.9 143.9h.7v.7h-.7zM500.4 127.7h.7v.7h-.7zM501.2 133.7h.7v.7h-.7zM493.0 142.8h.7v.7h-.7zM504.4 128.3h.7v.7h-.7zM493.4 122.2h.7v.7h-.7zM514.8 137.0h.7v.7h-.7zM516.1 126.7h.7v.7h-.7zM491.4 113.2h.7v.7h-.7zM527.4 118.6h.7v.7h-.7zM501.2 127.6h.7v.7h-.7zM506.7 129.9h.7v.7h-.7zM480.2 129.6h.7v.7h-.7zM498.6 129.1h.7v.7h-.7zM483.4 128.7h.7v.7h-.7zM504.3 141.5h.7v.7h-.7zM495.1 117.5h.7v.7h-.7zM489.4 129.7h.7v.7h-.7zM498.0 116.1h.7v.7h-.7zM507.8 131.0h.7v.7h-.7zM488.3 119.5h.7v.7h-.7zM504.8 131.0h.7v.7h-.7zM482.9 114.8h.7v.7h-.7zM499.1 142.8h.7v.7h-.7zM503.2 138.9h.7v.7h-.7zM513.6 142.8h.7v.7h-.7zM515.3 123.7h.7v.7h-.7zM494.8 135.1h.7v.7h-.7zM507.2 134.4h.7v.7h-.7zM506.8 131.8h.7v.7h-.7zM487.0 128.0h.7v.7h-.7zM502.0 122.0h.7v.7h-.7zM515.0 129.2h.7v.7h-.7zM487.0 114.6h.7v.7h-.7zM489.5 131.5h.7v.7h-.7zM507.4 114.8h.7v.7h-.7zM482.6 123.2h.7v.7h-.7zM506.2 129.4h.7v.7h-.7zM496.6 137.3h.7v.7h-.7zM539.4 136.1h.7v.7h-.7zM521.9 111.8h.7v.7h-.7zM491.3 126.3h.7v.7h-.7zM482.7 120.7h.7v.7h-.7zM503.0 122.7h.7v.7h-.7zM481.0 121.8h.7v.7h-.7zM489.1 121.6h.7v.7h-.7zM485.0 119.1h.7v.7h-.7zM525.8 105.7h.7v.7h-.7zM480.2 130.3h.7v.7h-.7zM501.1 122.7h.7v.7h-.7zM505.0 115.9h.7v.7h-.7zM496.6 123.8h.7v.7h-.7zM501.6 128.7h.7v.7h-.7zM485.9 112.6h.7v.7h-.7zM494.7 136.5h.7v.7h-.7zM493.3 135.5h.7v.7h-.7zM516.1 138.6h.7v.7h-.7zM541.3 139.5h.7v.7h-.7zM486.9 118.2h.7v.7h-.7zM491.4 123.5h.7v.7h-.7zM483.9 111.2h.7v.7h-.7zM498.9 136.6h.7v.7h-.7zM483.0 136.1h.7v.7h-.7zM498.7 119.1h.7v.7h-.7zM509.5 133.6h.7v.7h-.7zM480.6 130.1h.7v.7h-.7zM497.8 138.6h.7v.7h-.7zM490.8 139.7h.7v.7h-.7zM487.6 135.7h.7v.7h-.7zM481.1 120.9h.7v.7h-.7zM481.6 114.4h.7v.7h-.7zM483.8 131.0h.7v.7h-.7zM495.1 119.9h.7v.7h-.7zM509.1 122.8h.7v.7h-.7zM525.5 123.5h.7v.7h-.7zM537.6 130.7h.7v.7h-.7zM496.6 123.3h.7v.7h-.7zM518.8 118.9h.7v.7h-.7zM482.3 128.7h.7v.7h-.7zM496.0 122.9h.7v.7h-.7zM516.9 121.8h.7v.7h-.7zM508.5 142.2h.7v.7h-.7zM486.0 135.8h.7v.7h-.7zM490.0 130.4h.7v.7h-.7zM482.8 140.4h.7v.7h-.7zM492.4 127.4h.7v.7h-.7zM485.0 137.8h.7v.7h-.7zM492.9 122.9h.7v.7h-.7zM485.9 124.9h.7v.7h-.7zM507.7 132.6h.7v.7h-.7zM481.7 124.6h.7v.7h-.7zM511.0 133.4h.7v.7h-.7zM525.8 137.6h.7v.7h-.7zM484.5 124.4h.7v.7h-.7zM486.1 131.0h.7v.7h-.7zM497.3 133.8h.7v.7h-.7zM514.5 115.7h.7v.7h-.7zM480.4 116.6h.7v.7h-.7zM502.5 124.0h.7v.7h-.7zM494.2 120.6h.7v.7h-.7zM513.3 139.7h.7v.7h-.7zM486.9 138.1h.7v.7h-.7zM504.2 108.5h.7v.7h-.7zM492.9 137.3h.7v.7h-.7zM492.1 133.0h.7v.7h-.7zM503.6 142.0h.7v.7h-.7zM489.3 138.9h.7v.7h-.7zM485.9 141.0h.7v.7h-.7zM481.4 125.0h.7v.7h-.7zM493.9 129.9h.7v.7h-.7zM499.9 118.6h.7v.7h-.7zM482.7 135.8h.7v.7h-.7zM486.2 137.0h.7v.7h-.7zM514.8 118.0h.7v.7h-.7zM485.5 120.7h.7v.7h-.7zM494.0 131.0h.7v.7h-.7zM532.1 134.9h.7v.7h-.7zM498.3 134.3h.7v.7h-.7zM494.1 145.8h.7v.7h-.7zM487.9 139.3h.7v.7h-.7zM511.7 133.8h.7v.7h-.7zM519.2 128.0h.7v.7h-.7zM486.3 114.8h.7v.7h-.7zM481.1 136.2h.7v.7h-.7zM485.5 127.8h.7v.7h-.7zM512.2 123.8h.7v.7h-.7zM500.6 129.7h.7v.7h-.7zM504.5 134.7h.7v.7h-.7zM481.4 124.9h.7v.7h-.7zM507.0 137.4h.7v.7h-.7zM518.1 132.4h.7v.7h-.7zM532.9 142.9h.7v.7h-.7zM493.3 123.7h.7v.7h-.7zM508.3 126.7h.7v.7h-.7zM518.4 134.5h.7v.7h-.7zM491.1 113.4h.7v.7h-.7zM480.3 140.1h.7v.7h-.7zM507.8 126.2h.7v.7h-.7zM519.8 131.1h.7v.7h-.7zM492.1 131.1h.7v.7h-.7zM497.0 120.3h.7v.7h-.7z" fill="#8a6a4c" opacity="0.78"/>
<rect x="485.50" y="111.50" width="90.80" height="39.20" fill="none" stroke="#222" stroke-width="0.9"/>
<text x="439.90" y="100.90" font-size="14" fill="#111">10.5</text>
<line x1="435.70" y1="87.80" x2="435.70" y2="157.60" stroke="#777" stroke-width="0.8"/>
<line x1="432.70" y1="88.10" x2="435.70" y2="88.10" stroke="#222" stroke-width="1.2"/>
<text x="419.70" y="96.40" font-size="5.4" fill="#777">10</text>
<text x="426.10" y="93.00" font-size="4.4" fill="#777">5</text>
<line x1="432.70" y1="122.30" x2="435.70" y2="122.30" stroke="#222" stroke-width="1.2"/>
<text x="419.70" y="125.90" font-size="5.4" fill="#777">10</text>
<text x="426.10" y="122.50" font-size="4.4" fill="#777">4</text>
<line x1="432.70" y1="157.30" x2="435.70" y2="157.30" stroke="#222" stroke-width="1.2"/>
<text x="419.70" y="157.00" font-size="5.4" fill="#777">10</text>
<text x="426.10" y="153.60" font-size="4.4" fill="#777">3</text>
<line x1="433.90" y1="111.97" x2="435.70" y2="111.97" stroke="#555" stroke-width="0.6"/>
<line x1="433.90" y1="105.93" x2="435.70" y2="105.93" stroke="#555" stroke-width="0.6"/>
<line x1="433.90" y1="101.65" x2="435.70" y2="101.65" stroke="#555" stroke-width="0.6"/>
<line x1="433.90" y1="98.33" x2="435.70" y2="98.33" stroke="#555" stroke-width="0.6"/>
<line x1="433.90" y1="95.61" x2="435.70" y2="95.61" stroke="#555" stroke-width="0.6"/>
<line x1="433.90" y1="93.31" x2="435.70" y2="93.31" stroke="#555" stroke-width="0.6"/>
<line x1="433.90" y1="91.32" x2="435.70" y2="91.32" stroke="#555" stroke-width="0.6"/>
<line x1="433.90" y1="89.57" x2="435.70" y2="89.57" stroke="#555" stroke-width="0.6"/>
<line x1="433.90" y1="147.27" x2="435.70" y2="147.27" stroke="#555" stroke-width="0.6"/>
<line x1="433.90" y1="141.23" x2="435.70" y2="141.23" stroke="#555" stroke-width="0.6"/>
<line x1="433.90" y1="136.95" x2="435.70" y2="136.95" stroke="#555" stroke-width="0.6"/>
<line x1="433.90" y1="133.63" x2="435.70" y2="133.63" stroke="#555" stroke-width="0.6"/>
<line x1="433.90" y1="130.91" x2="435.70" y2="130.91" stroke="#555" stroke-width="0.6"/>
<line x1="433.90" y1="128.61" x2="435.70" y2="128.61" stroke="#555" stroke-width="0.6"/>
<line x1="433.90" y1="126.62" x2="435.70" y2="126.62" stroke="#555" stroke-width="0.6"/>
<line x1="433.90" y1="124.87" x2="435.70" y2="124.87" stroke="#555" stroke-width="0.6"/>
<rect x="435.70" y="157.60" width="140.60" height="69.90" fill="none" stroke="#c4c4c4" stroke-width="0.8"/>
<ellipse cx="467.8" cy="199.2" rx="19.0" ry="19.5" fill="url(#g12)"/>
<ellipse cx="467.8" cy="199.2" rx="9.3" ry="9.9" fill="#f7c3dc" opacity="0.35"/>
<path d="M484.3 199.5L484.1 203.3L483.5 206.2L482.5 208.8L481.2 210.9L479.5 212.7L477.5 214.1L475.1 215.2L472.4 215.8L468.8 216.0L465.2 215.8L462.5 215.2L460.1 214.1L458.1 212.7L456.4 210.9L455.1 208.8L454.1 206.2L453.5 203.3L453.3 199.5L453.5 195.7L454.1 192.8L455.1 190.2L456.4 188.1L458.1 186.3L460.1 184.9L462.5 183.8L465.2 183.2L468.8 183.0L472.4 183.2L475.1 183.8L477.5 184.9L479.5 186.3L481.2 188.1L482.5 190.2L483.5 192.8L484.1 195.7Z" fill="none" stroke="#f08ab8" stroke-width="0.45" opacity="0.6"/>
<path d="M483.1 199.5L483.0 203.1L482.4 205.8L481.5 208.1L480.3 210.1L478.7 211.8L476.8 213.1L474.6 214.1L472.1 214.7L468.7 214.8L465.4 214.7L462.8 214.1L460.6 213.1L458.8 211.8L457.2 210.1L455.9 208.1L455.0 205.8L454.5 203.1L454.3 199.5L454.5 195.9L455.0 193.2L455.9 190.9L457.2 188.9L458.8 187.2L460.6 185.9L462.8 184.9L465.4 184.3L468.7 184.2L472.1 184.3L474.6 184.9L476.8 185.9L478.7 187.2L480.3 188.9L481.5 190.9L482.4 193.2L483.0 195.9Z" fill="none" stroke="#f08ab8" stroke-width="0.45" opacity="0.6"/>
<path d="M482.0 199.5L481.8 202.8L481.3 205.3L480.5 207.5L479.3 209.3L477.9 210.9L476.1 212.1L474.1 213.0L471.8 213.5L468.7 213.7L465.6 213.5L463.2 213.0L461.2 212.1L459.4 210.9L458.0 209.3L456.8 207.5L456.0 205.3L455.5 202.8L455.3 199.5L455.5 196.2L456.0 193.7L456.8 191.5L458.0 189.7L459.4 188.1L461.2 186.9L463.2 186.0L465.6 185.5L468.7 185.3L471.8 185.5L474.1 186.0L476.1 186.9L477.9 188.1L479.3 189.7L480.5 191.5L481.3 193.7L481.8 196.2Z" fill="none" stroke="#f08ab8" stroke-width="0.45" opacity="0.6"/>
<path d="M480.8 199.5L480.7 202.5L480.2 204.8L479.5 206.8L478.4 208.5L477.1 209.9L475.5 211.1L473.6 211.9L471.4 212.4L468.6 212.5L465.7 212.4L463.6 211.9L461.7 211.1L460.1 209.9L458.8 208.5L457.7 206.8L457.0 204.8L456.5 202.5L456.3 199.5L456.5 196.5L457.0 194.2L457.7 192.2L458.8 190.5L460.1 189.1L461.7 187.9L463.6 187.1L465.7 186.6L468.6 186.5L471.4 186.6L473.6 187.1L475.5 187.9L477.1 189.1L478.4 190.5L479.5 192.2L480.2 194.2L480.7 196.5Z" fill="none" stroke="#f08ab8" stroke-width="0.45" opacity="0.6"/>
<path d="M479.7 199.5L479.5 202.3L479.1 204.4L478.4 206.2L477.5 207.7L476.2 209.0L474.8 210.0L473.1 210.8L471.1 211.2L468.5 211.4L465.9 211.2L464.0 210.8L462.3 210.0L460.8 209.0L459.6 207.7L458.6 206.2L457.9 204.4L457.5 202.3L457.4 199.5L457.5 196.7L457.9 194.6L458.6 192.8L459.6 191.3L460.8 190.0L462.3 189.0L464.0 188.2L465.9 187.8L468.5 187.6L471.1 187.8L473.1 188.2L474.8 189.0L476.2 190.0L477.5 191.3L478.4 192.8L479.1 194.6L479.5 196.7Z" fill="none" stroke="#f08ab8" stroke-width="0.45" opacity="0.6"/>
<path d="M478.5 199.5L478.4 202.0L478.0 203.9L477.4 205.5L476.5 206.9L475.4 208.1L474.1 209.0L472.6 209.7L470.8 210.1L468.5 210.2L466.1 210.1L464.3 209.7L462.8 209.0L461.5 208.1L460.4 206.9L459.5 205.5L458.9 203.9L458.5 202.0L458.4 199.5L458.5 197.0L458.9 195.1L459.5 193.5L460.4 192.1L461.5 190.9L462.8 190.0L464.3 189.3L466.1 188.9L468.4 188.8L470.8 188.9L472.6 189.3L474.1 190.0L475.4 190.9L476.5 192.1L477.4 193.5L478.0 195.1L478.4 197.0Z" fill="none" stroke="#f08ab8" stroke-width="0.45" opacity="0.5"/>
<path d="M477.4 199.5L477.3 201.7L476.9 203.4L476.4 204.9L475.6 206.1L474.6 207.2L473.4 208.0L472.1 208.6L470.5 208.9L468.4 209.1L466.3 208.9L464.7 208.6L463.3 208.0L462.2 207.2L461.2 206.1L460.4 204.9L459.8 203.4L459.5 201.7L459.4 199.5L459.5 197.3L459.8 195.6L460.4 194.1L461.2 192.9L462.2 191.8L463.3 191.0L464.7 190.4L466.3 190.1L468.4 189.9L470.5 190.1L472.1 190.4L473.4 191.0L474.6 191.8L475.6 192.9L476.4 194.1L476.9 195.6L477.3 197.3Z" fill="none" stroke="#f08ab8" stroke-width="0.45" opacity="0.5"/>
<path d="M476.2 199.5L476.1 201.5L475.8 202.9L475.3 204.2L474.6 205.3L473.8 206.2L472.7 207.0L471.5 207.5L470.1 207.8L468.3 207.9L466.5 207.8L465.1 207.5L463.9 207.0L462.8 206.2L462.0 205.3L461.3 204.2L460.8 202.9L460.5 201.5L460.4 199.5L460.5 197.5L460.8 196.1L461.3 194.8L462.0 193.7L462.8 192.8L463.9 192.0L465.1 191.5L466.5 191.2L468.3 191.1L470.1 191.2L471.5 191.5L472.7 192.0L473.8 192.8L474.6 193.7L475.3 194.8L475.8 196.1L476.1 197.5Z" fill="none" stroke="#f08ab8" stroke-width="0.45" opacity="0.5"/>
<path d="M475.1 199.5L475.0 201.2L474.7 202.5L474.3 203.6L473.7 204.5L473.0 205.3L472.1 205.9L471.0 206.4L469.8 206.7L468.2 206.8L466.7 206.7L465.5 206.4L464.4 205.9L463.5 205.3L462.8 204.5L462.2 203.6L461.8 202.5L461.5 201.2L461.4 199.5L461.5 197.8L461.8 196.5L462.2 195.4L462.8 194.5L463.5 193.7L464.4 193.1L465.5 192.6L466.7 192.3L468.2 192.2L469.8 192.3L471.0 192.6L472.1 193.1L473.0 193.7L473.7 194.5L474.3 195.4L474.7 196.5L475.0 197.8Z" fill="none" stroke="#f08ab8" stroke-width="0.45" opacity="0.5"/>
<path d="M473.9 199.5L473.8 200.9L473.6 202.0L473.3 202.9L472.8 203.7L472.1 204.4L471.4 204.9L470.5 205.3L469.5 205.5L468.2 205.6L466.8 205.5L465.8 205.3L465.0 204.9L464.2 204.4L463.6 203.7L463.1 202.9L462.7 202.0L462.5 200.9L462.4 199.5L462.5 198.1L462.7 197.0L463.1 196.1L463.6 195.3L464.2 194.6L465.0 194.1L465.8 193.7L466.8 193.5L468.2 193.4L469.5 193.5L470.5 193.7L471.4 194.1L472.1 194.6L472.8 195.3L473.3 196.1L473.6 197.0L473.8 198.1Z" fill="none" stroke="#f08ab8" stroke-width="0.45" opacity="0.5"/>
<path d="M472.8 199.5L472.7 200.7L472.5 201.5L472.2 202.3L471.8 202.9L471.3 203.5L470.7 203.9L470.0 204.2L469.2 204.4L468.1 204.4L467.0 204.4L466.2 204.2L465.5 203.9L464.9 203.5L464.4 202.9L464.0 202.3L463.7 201.5L463.5 200.7L463.5 199.5L463.5 198.3L463.7 197.5L464.0 196.7L464.4 196.1L464.9 195.5L465.5 195.1L466.2 194.8L467.0 194.6L468.1 194.6L469.2 194.6L470.0 194.8L470.7 195.1L471.3 195.5L471.8 196.1L472.2 196.7L472.5 197.5L472.7 198.3Z" fill="none" stroke="#f08ab8" stroke-width="0.45" opacity="0.5"/>
<path d="M471.6 199.5L471.5 200.4L471.4 201.1L471.2 201.6L470.9 202.1L470.5 202.5L470.0 202.9L469.5 203.1L468.9 203.2L468.0 203.3L467.2 203.2L466.6 203.1L466.0 202.9L465.6 202.5L465.2 202.1L464.9 201.6L464.6 201.1L464.5 200.4L464.5 199.5L464.5 198.6L464.6 197.9L464.9 197.4L465.2 196.9L465.6 196.5L466.0 196.1L466.6 195.9L467.2 195.8L468.0 195.7L468.9 195.8L469.5 195.9L470.0 196.1L470.5 196.5L470.9 196.9L471.2 197.4L471.4 197.9L471.5 198.6Z" fill="none" stroke="#f08ab8" stroke-width="0.45" opacity="0.5"/>
<path d="M481.0 199.7L480.8 202.8L480.4 205.1L479.6 207.1L478.5 208.8L477.2 210.3L475.6 211.4L473.7 212.2L471.5 212.7L468.6 212.9L465.7 212.7L463.5 212.2L461.6 211.4L460.0 210.3L458.7 208.8L457.6 207.1L456.8 205.1L456.4 202.8L456.2 199.7L456.4 196.6L456.8 194.3L457.6 192.3L458.7 190.6L460.0 189.1L461.6 188.0L463.5 187.2L465.7 186.7L468.6 186.5L471.5 186.7L473.7 187.2L475.6 188.0L477.2 189.1L478.5 190.6L479.6 192.3L480.4 194.3L480.8 196.6Z" fill="none" stroke="#fff" stroke-width="1.1" opacity="0.85"/>
<path d="M475.3 199.7L475.2 201.4L474.9 202.7L474.5 203.9L473.9 204.8L473.1 205.6L472.2 206.3L471.2 206.7L469.9 207.0L468.3 207.1L466.7 207.0L465.4 206.7L464.4 206.3L463.5 205.6L462.7 204.8L462.1 203.9L461.7 202.7L461.4 201.4L461.3 199.7L461.4 198.0L461.7 196.7L462.1 195.5L462.7 194.6L463.5 193.8L464.4 193.1L465.4 192.7L466.7 192.4L468.3 192.3L469.9 192.4L471.2 192.7L472.2 193.1L473.1 193.8L473.9 194.6L474.5 195.5L474.9 196.7L475.2 198.0Z" fill="none" stroke="#fff" stroke-width="0.7" opacity="0.7"/>
<ellipse cx="468.3" cy="198.2" rx="2.2" ry="3" fill="#fff" opacity="0.8"/>
<path d="M466.9 184.5h.7v.7h-.7zM454.1 185.3h.7v.7h-.7zM475.1 202.0h.7v.7h-.7zM474.1 210.2h.7v.7h-.7zM468.2 201.3h.7v.7h-.7zM471.3 203.4h.7v.7h-.7zM458.6 196.7h.7v.7h-.7zM466.5 199.5h.7v.7h-.7zM461.3 198.0h.7v.7h-.7zM470.3 200.9h.7v.7h-.7zM472.9 206.6h.7v.7h-.7zM472.6 207.9h.7v.7h-.7zM475.0 211.8h.7v.7h-.7zM473.2 193.6h.7v.7h-.7zM487.9 209.4h.7v.7h-.7zM478.6 205.8h.7v.7h-.7zM468.2 188.9h.7v.7h-.7zM471.6 196.0h.7v.7h-.7zM464.3 179.9h.7v.7h-.7zM481.1 188.7h.7v.7h-.7zM458.3 203.4h.7v.7h-.7zM472.7 192.0h.7v.7h-.7zM467.7 201.5h.7v.7h-.7zM469.1 203.9h.7v.7h-.7zM474.5 195.9h.7v.7h-.7zM453.8 218.7h.7v.7h-.7zM464.5 190.3h.7v.7h-.7zM474.3 204.5h.7v.7h-.7zM462.5 220.4h.7v.7h-.7zM447.5 210.7h.7v.7h-.7zM467.5 202.0h.7v.7h-.7zM470.5 197.1h.7v.7h-.7zM470.5 187.4h.7v.7h-.7zM464.4 215.9h.7v.7h-.7zM445.6 210.3h.7v.7h-.7zM448.5 191.5h.7v.7h-.7zM475.4 195.5h.7v.7h-.7zM462.8 185.6h.7v.7h-.7zM466.8 197.6h.7v.7h-.7zM462.3 185.1h.7v.7h-.7zM469.1 203.0h.7v.7h-.7zM477.6 203.8h.7v.7h-.7zM480.9 210.0h.7v.7h-.7zM443.4 214.2h.7v.7h-.7zM466.9 189.7h.7v.7h-.7zM471.5 207.9h.7v.7h-.7zM454.4 188.0h.7v.7h-.7zM473.7 194.2h.7v.7h-.7zM480.4 201.1h.7v.7h-.7zM463.0 187.2h.7v.7h-.7zM473.0 183.7h.7v.7h-.7zM456.5 187.3h.7v.7h-.7zM482.5 214.6h.7v.7h-.7zM465.9 195.7h.7v.7h-.7zM473.8 210.4h.7v.7h-.7zM460.8 219.1h.7v.7h-.7zM466.0 209.4h.7v.7h-.7zM447.4 198.7h.7v.7h-.7zM461.8 217.1h.7v.7h-.7zM465.9 187.7h.7v.7h-.7zM484.6 193.0h.7v.7h-.7zM467.8 187.9h.7v.7h-.7zM473.6 200.9h.7v.7h-.7zM465.3 195.6h.7v.7h-.7zM462.9 192.7h.7v.7h-.7zM455.6 210.1h.7v.7h-.7zM475.5 186.6h.7v.7h-.7zM457.7 202.9h.7v.7h-.7zM487.3 197.3h.7v.7h-.7zM465.1 196.9h.7v.7h-.7zM469.9 197.6h.7v.7h-.7zM477.1 208.1h.7v.7h-.7zM472.6 213.4h.7v.7h-.7zM465.8 194.2h.7v.7h-.7zM493.5 181.7h.7v.7h-.7zM454.3 177.9h.7v.7h-.7zM470.9 189.5h.7v.7h-.7zM477.0 180.2h.7v.7h-.7zM466.6 195.7h.7v.7h-.7zM458.5 209.3h.7v.7h-.7zM464.3 203.3h.7v.7h-.7zM463.2 200.5h.7v.7h-.7zM463.9 199.9h.7v.7h-.7zM466.9 193.0h.7v.7h-.7zM471.6 197.5h.7v.7h-.7zM459.4 189.7h.7v.7h-.7zM471.6 211.2h.7v.7h-.7zM456.5 195.4h.7v.7h-.7zM471.7 208.6h.7v.7h-.7zM473.9 188.5h.7v.7h-.7zM468.1 207.3h.7v.7h-.7zM469.9 197.2h.7v.7h-.7zM457.6 200.7h.7v.7h-.7zM467.2 199.5h.7v.7h-.7zM480.8 209.9h.7v.7h-.7zM460.9 201.3h.7v.7h-.7zM465.1 200.1h.7v.7h-.7zM481.9 207.5h.7v.7h-.7zM468.1 193.2h.7v.7h-.7zM466.4 202.5h.7v.7h-.7zM463.5 209.1h.7v.7h-.7zM468.0 188.5h.7v.7h-.7zM485.5 173.0h.7v.7h-.7zM465.5 198.1h.7v.7h-.7zM476.3 209.3h.7v.7h-.7zM480.4 213.3h.7v.7h-.7zM470.5 200.2h.7v.7h-.7zM476.6 199.0h.7v.7h-.7zM456.9 195.1h.7v.7h-.7zM473.5 204.7h.7v.7h-.7zM458.2 210.0h.7v.7h-.7zM470.5 185.6h.7v.7h-.7zM471.8 208.3h.7v.7h-.7zM472.4 196.4h.7v.7h-.7zM460.9 209.3h.7v.7h-.7zM469.7 199.1h.7v.7h-.7zM464.3 189.9h.7v.7h-.7zM451.6 196.1h.7v.7h-.7zM477.4 206.1h.7v.7h-.7zM461.9 213.0h.7v.7h-.7zM465.8 190.1h.7v.7h-.7zM476.2 211.7h.7v.7h-.7zM464.4 188.2h.7v.7h-.7zM467.2 177.3h.7v.7h-.7zM468.3 213.0h.7v.7h-.7zM470.2 192.6h.7v.7h-.7zM473.9 194.7h.7v.7h-.7zM478.7 196.0h.7v.7h-.7zM485.4 196.0h.7v.7h-.7zM469.4 190.7h.7v.7h-.7zM456.8 202.3h.7v.7h-.7zM470.8 190.4h.7v.7h-.7zM472.6 195.5h.7v.7h-.7zM463.0 198.5h.7v.7h-.7zM471.2 205.8h.7v.7h-.7zM478.5 202.6h.7v.7h-.7zM461.5 193.0h.7v.7h-.7zM471.0 188.4h.7v.7h-.7zM466.3 195.7h.7v.7h-.7zM466.9 200.8h.7v.7h-.7zM476.8 214.0h.7v.7h-.7zM475.4 208.3h.7v.7h-.7zM458.6 208.6h.7v.7h-.7zM479.0 187.0h.7v.7h-.7zM489.6 194.1h.7v.7h-.7zM447.2 215.1h.7v.7h-.7zM468.3 192.0h.7v.7h-.7zM462.9 208.9h.7v.7h-.7zM470.0 195.8h.7v.7h-.7zM477.7 190.7h.7v.7h-.7zM460.5 194.1h.7v.7h-.7zM461.3 205.4h.7v.7h-.7zM465.8 189.7h.7v.7h-.7zM463.8 181.3h.7v.7h-.7zM469.2 200.1h.7v.7h-.7zM473.1 197.1h.7v.7h-.7zM471.2 190.8h.7v.7h-.7zM468.0 200.6h.7v.7h-.7zM457.3 204.5h.7v.7h-.7zM469.0 199.7h.7v.7h-.7zM463.7 217.3h.7v.7h-.7zM467.8 192.3h.7v.7h-.7zM460.5 204.5h.7v.7h-.7zM466.0 192.1h.7v.7h-.7zM461.6 207.6h.7v.7h-.7zM468.5 208.7h.7v.7h-.7zM467.7 188.5h.7v.7h-.7zM475.3 202.1h.7v.7h-.7zM462.2 196.4h.7v.7h-.7zM459.4 206.7h.7v.7h-.7zM464.2 203.5h.7v.7h-.7zM470.0 196.9h.7v.7h-.7zM471.0 197.0h.7v.7h-.7zM457.6 195.4h.7v.7h-.7zM457.6 206.0h.7v.7h-.7zM473.4 193.9h.7v.7h-.7zM473.1 201.4h.7v.7h-.7zM476.2 190.8h.7v.7h-.7zM468.0 190.3h.7v.7h-.7zM461.9 211.5h.7v.7h-.7zM450.5 191.0h.7v.7h-.7zM472.0 206.2h.7v.7h-.7zM461.0 180.9h.7v.7h-.7zM453.0 202.5h.7v.7h-.7zM477.3 207.4h.7v.7h-.7zM461.5 211.4h.7v.7h-.7zM466.2 204.7h.7v.7h-.7zM466.1 213.5h.7v.7h-.7zM463.3 179.9h.7v.7h-.7zM465.1 200.9h.7v.7h-.7zM470.2 192.7h.7v.7h-.7zM465.8 189.0h.7v.7h-.7zM465.8 200.0h.7v.7h-.7zM469.9 214.0h.7v.7h-.7zM450.6 203.9h.7v.7h-.7zM471.5 188.8h.7v.7h-.7zM468.4 199.1h.7v.7h-.7zM459.2 205.7h.7v.7h-.7zM484.2 205.3h.7v.7h-.7zM474.5 208.8h.7v.7h-.7zM466.7 207.9h.7v.7h-.7zM460.9 200.8h.7v.7h-.7zM473.9 210.9h.7v.7h-.7zM465.3 196.6h.7v.7h-.7zM471.8 198.5h.7v.7h-.7zM469.0 206.4h.7v.7h-.7zM461.2 207.1h.7v.7h-.7zM471.1 196.8h.7v.7h-.7zM457.1 193.5h.7v.7h-.7zM467.4 207.6h.7v.7h-.7zM450.9 205.6h.7v.7h-.7zM469.5 189.1h.7v.7h-.7zM475.1 202.8h.7v.7h-.7zM471.5 190.4h.7v.7h-.7zM458.3 207.3h.7v.7h-.7zM479.8 202.5h.7v.7h-.7zM466.1 195.2h.7v.7h-.7zM453.1 208.0h.7v.7h-.7zM467.0 210.2h.7v.7h-.7zM461.6 208.6h.7v.7h-.7zM461.7 204.4h.7v.7h-.7zM479.6 192.9h.7v.7h-.7zM475.6 199.1h.7v.7h-.7zM459.8 201.0h.7v.7h-.7zM473.3 192.8h.7v.7h-.7zM465.5 194.1h.7v.7h-.7zM461.2 197.3h.7v.7h-.7zM474.8 194.8h.7v.7h-.7zM478.4 195.8h.7v.7h-.7zM461.9 208.8h.7v.7h-.7zM479.8 193.4h.7v.7h-.7zM472.8 188.8h.7v.7h-.7zM464.3 195.9h.7v.7h-.7zM473.8 188.0h.7v.7h-.7zM463.4 193.0h.7v.7h-.7zM468.7 188.2h.7v.7h-.7zM456.4 224.4h.7v.7h-.7zM469.6 185.8h.7v.7h-.7zM474.9 187.5h.7v.7h-.7zM451.7 214.1h.7v.7h-.7zM478.4 191.7h.7v.7h-.7zM458.5 203.4h.7v.7h-.7zM485.1 204.5h.7v.7h-.7zM473.4 188.6h.7v.7h-.7zM452.6 202.6h.7v.7h-.7zM476.4 200.4h.7v.7h-.7zM467.8 211.5h.7v.7h-.7zM460.6 209.0h.7v.7h-.7zM474.9 193.6h.7v.7h-.7zM468.8 200.2h.7v.7h-.7zM472.7 190.5h.7v.7h-.7zM465.8 200.0h.7v.7h-.7zM468.0 199.4h.7v.7h-.7zM469.9 197.5h.7v.7h-.7zM463.6 208.4h.7v.7h-.7zM462.3 196.4h.7v.7h-.7zM460.3 189.0h.7v.7h-.7zM471.6 198.8h.7v.7h-.7zM466.7 203.2h.7v.7h-.7zM466.3 205.2h.7v.7h-.7zM483.1 202.3h.7v.7h-.7zM465.5 213.9h.7v.7h-.7zM473.8 184.4h.7v.7h-.7zM479.1 201.1h.7v.7h-.7zM475.0 189.0h.7v.7h-.7zM460.6 193.4h.7v.7h-.7zM472.5 189.2h.7v.7h-.7zM461.8 207.6h.7v.7h-.7zM462.4 200.2h.7v.7h-.7zM460.2 184.1h.7v.7h-.7zM467.1 198.1h.7v.7h-.7zM455.7 207.8h.7v.7h-.7zM474.7 207.0h.7v.7h-.7zM463.5 189.0h.7v.7h-.7zM467.0 200.7h.7v.7h-.7zM466.3 194.0h.7v.7h-.7zM459.4 192.7h.7v.7h-.7zM467.1 194.9h.7v.7h-.7zM481.9 196.8h.7v.7h-.7zM471.6 195.1h.7v.7h-.7zM466.2 190.6h.7v.7h-.7zM463.7 185.9h.7v.7h-.7zM450.3 211.0h.7v.7h-.7zM458.9 203.0h.7v.7h-.7zM466.7 194.2h.7v.7h-.7zM473.9 194.3h.7v.7h-.7zM471.5 195.9h.7v.7h-.7zM476.0 207.6h.7v.7h-.7zM468.3 208.9h.7v.7h-.7zM472.0 212.9h.7v.7h-.7zM466.8 185.5h.7v.7h-.7zM469.6 201.3h.7v.7h-.7zM464.7 197.4h.7v.7h-.7zM465.5 188.1h.7v.7h-.7zM482.3 192.3h.7v.7h-.7zM458.8 185.2h.7v.7h-.7zM460.7 198.8h.7v.7h-.7zM480.2 204.5h.7v.7h-.7zM461.7 188.2h.7v.7h-.7zM458.3 198.5h.7v.7h-.7zM475.1 194.9h.7v.7h-.7zM481.3 216.2h.7v.7h-.7zM469.1 180.1h.7v.7h-.7zM477.0 198.3h.7v.7h-.7zM473.4 207.9h.7v.7h-.7zM459.3 199.8h.7v.7h-.7zM469.3 192.5h.7v.7h-.7zM473.6 198.0h.7v.7h-.7zM464.4 215.8h.7v.7h-.7zM469.2 213.6h.7v.7h-.7zM466.5 208.3h.7v.7h-.7zM461.4 200.5h.7v.7h-.7zM476.9 180.0h.7v.7h-.7zM472.3 196.8h.7v.7h-.7zM476.9 200.8h.7v.7h-.7zM467.1 187.9h.7v.7h-.7zM492.5 192.7h.7v.7h-.7zM465.1 192.8h.7v.7h-.7zM465.2 201.1h.7v.7h-.7zM456.5 208.5h.7v.7h-.7zM465.6 204.5h.7v.7h-.7zM450.0 194.6h.7v.7h-.7zM465.3 195.8h.7v.7h-.7zM462.2 201.9h.7v.7h-.7zM471.2 190.5h.7v.7h-.7zM451.3 205.6h.7v.7h-.7zM465.1 208.6h.7v.7h-.7zM475.1 198.3h.7v.7h-.7zM455.7 196.0h.7v.7h-.7zM461.6 210.1h.7v.7h-.7zM453.5 207.2h.7v.7h-.7zM454.8 194.1h.7v.7h-.7zM455.9 193.0h.7v.7h-.7zM464.1 202.4h.7v.7h-.7zM462.8 205.2h.7v.7h-.7zM482.5 200.6h.7v.7h-.7zM458.1 197.6h.7v.7h-.7zM466.9 196.0h.7v.7h-.7zM477.4 209.4h.7v.7h-.7zM484.6 203.8h.7v.7h-.7zM445.4 198.0h.7v.7h-.7zM473.4 192.1h.7v.7h-.7zM462.7 207.2h.7v.7h-.7zM469.0 189.3h.7v.7h-.7zM462.9 172.0h.7v.7h-.7zM467.7 188.4h.7v.7h-.7zM467.3 188.7h.7v.7h-.7zM460.0 194.6h.7v.7h-.7zM491.1 188.7h.7v.7h-.7zM457.8 194.4h.7v.7h-.7zM476.7 206.2h.7v.7h-.7zM473.6 196.3h.7v.7h-.7zM468.8 192.4h.7v.7h-.7zM466.2 192.1h.7v.7h-.7zM455.5 190.4h.7v.7h-.7zM483.9 202.7h.7v.7h-.7zM461.4 198.2h.7v.7h-.7zM463.9 209.9h.7v.7h-.7zM467.5 193.6h.7v.7h-.7zM473.4 202.0h.7v.7h-.7zM462.0 192.4h.7v.7h-.7zM468.9 184.7h.7v.7h-.7zM460.1 208.1h.7v.7h-.7zM475.0 209.0h.7v.7h-.7zM464.0 193.9h.7v.7h-.7zM465.4 194.9h.7v.7h-.7zM478.5 197.2h.7v.7h-.7zM479.1 192.9h.7v.7h-.7zM470.9 213.5h.7v.7h-.7zM461.5 193.4h.7v.7h-.7zM462.7 185.0h.7v.7h-.7zM465.2 193.5h.7v.7h-.7zM486.2 195.0h.7v.7h-.7zM449.8 207.5h.7v.7h-.7zM475.7 198.9h.7v.7h-.7zM470.1 205.5h.7v.7h-.7zM463.0 199.5h.7v.7h-.7zM468.9 213.8h.7v.7h-.7zM479.6 200.6h.7v.7h-.7zM456.5 206.9h.7v.7h-.7zM467.3 209.5h.7v.7h-.7zM468.2 200.8h.7v.7h-.7zM473.2 192.7h.7v.7h-.7zM462.2 219.4h.7v.7h-.7zM460.4 207.4h.7v.7h-.7zM473.4 206.4h.7v.7h-.7zM479.2 187.4h.7v.7h-.7zM475.7 181.0h.7v.7h-.7zM468.1 202.1h.7v.7h-.7zM476.3 208.7h.7v.7h-.7zM459.9 196.8h.7v.7h-.7zM466.4 193.0h.7v.7h-.7zM460.8 193.3h.7v.7h-.7zM477.3 211.2h.7v.7h-.7zM474.0 214.0h.7v.7h-.7zM468.4 189.6h.7v.7h-.7zM462.2 201.0h.7v.7h-.7zM476.3 209.9h.7v.7h-.7zM460.2 207.6h.7v.7h-.7zM463.2 204.4h.7v.7h-.7zM475.4 212.2h.7v.7h-.7zM463.3 201.3h.7v.7h-.7zM471.3 195.5h.7v.7h-.7zM468.5 204.4h.7v.7h-.7zM453.9 193.5h.7v.7h-.7zM487.0 203.2h.7v.7h-.7zM463.0 183.0h.7v.7h-.7zM459.7 203.7h.7v.7h-.7zM473.4 203.1h.7v.7h-.7zM472.6 193.9h.7v.7h-.7zM481.0 189.3h.7v.7h-.7zM472.0 196.8h.7v.7h-.7zM453.4 207.1h.7v.7h-.7zM465.4 205.4h.7v.7h-.7zM478.3 200.6h.7v.7h-.7zM462.2 197.3h.7v.7h-.7zM467.1 211.9h.7v.7h-.7zM474.8 213.2h.7v.7h-.7zM474.0 192.4h.7v.7h-.7zM475.4 207.7h.7v.7h-.7zM482.7 203.3h.7v.7h-.7zM486.9 188.1h.7v.7h-.7zM482.0 205.9h.7v.7h-.7zM487.8 179.4h.7v.7h-.7zM497.2 208.8h.7v.7h-.7zM484.3 209.1h.7v.7h-.7zM496.2 195.5h.7v.7h-.7zM501.5 192.3h.7v.7h-.7zM490.4 200.4h.7v.7h-.7zM490.5 201.8h.7v.7h-.7zM508.1 195.7h.7v.7h-.7zM512.1 185.9h.7v.7h-.7zM509.2 189.5h.7v.7h-.7zM513.2 211.3h.7v.7h-.7zM506.4 194.1h.7v.7h-.7zM492.8 189.2h.7v.7h-.7zM491.7 201.3h.7v.7h-.7zM514.3 200.9h.7v.7h-.7zM492.6 180.9h.7v.7h-.7zM532.4 196.7h.7v.7h-.7zM482.8 200.5h.7v.7h-.7zM504.3 204.2h.7v.7h-.7zM482.1 192.7h.7v.7h-.7zM514.6 201.5h.7v.7h-.7zM495.3 215.6h.7v.7h-.7zM490.7 197.2h.7v.7h-.7zM517.3 197.2h.7v.7h-.7zM488.8 221.4h.7v.7h-.7zM491.5 201.0h.7v.7h-.7zM507.2 191.6h.7v.7h-.7zM519.7 187.0h.7v.7h-.7zM481.8 201.8h.7v.7h-.7zM499.7 197.3h.7v.7h-.7zM497.3 204.7h.7v.7h-.7zM493.1 194.2h.7v.7h-.7zM489.9 188.3h.7v.7h-.7zM490.1 218.6h.7v.7h-.7zM480.4 206.8h.7v.7h-.7zM491.9 212.3h.7v.7h-.7zM487.1 191.2h.7v.7h-.7zM501.7 207.4h.7v.7h-.7zM494.3 208.9h.7v.7h-.7zM480.4 198.8h.7v.7h-.7zM518.8 203.9h.7v.7h-.7zM486.2 196.4h.7v.7h-.7zM483.7 208.6h.7v.7h-.7zM489.2 192.5h.7v.7h-.7zM489.0 198.1h.7v.7h-.7zM486.0 197.5h.7v.7h-.7zM526.9 184.9h.7v.7h-.7zM488.4 179.6h.7v.7h-.7zM512.4 217.2h.7v.7h-.7zM494.3 195.1h.7v.7h-.7zM486.5 179.3h.7v.7h-.7zM484.8 207.9h.7v.7h-.7zM483.5 187.5h.7v.7h-.7zM500.2 194.5h.7v.7h-.7zM492.4 200.9h.7v.7h-.7zM486.7 217.3h.7v.7h-.7zM483.1 218.3h.7v.7h-.7zM489.1 188.1h.7v.7h-.7zM480.2 199.7h.7v.7h-.7zM510.3 210.6h.7v.7h-.7zM534.3 193.3h.7v.7h-.7zM489.5 220.0h.7v.7h-.7zM499.4 202.4h.7v.7h-.7zM514.0 190.2h.7v.7h-.7zM487.6 192.5h.7v.7h-.7zM490.7 202.8h.7v.7h-.7zM481.0 205.1h.7v.7h-.7zM497.1 195.8h.7v.7h-.7zM489.5 217.2h.7v.7h-.7zM481.0 199.7h.7v.7h-.7zM507.6 199.9h.7v.7h-.7zM507.4 201.3h.7v.7h-.7zM504.2 200.8h.7v.7h-.7zM499.9 191.6h.7v.7h-.7zM488.7 216.0h.7v.7h-.7zM519.5 196.4h.7v.7h-.7zM533.2 189.2h.7v.7h-.7zM498.4 207.5h.7v.7h-.7zM512.9 207.4h.7v.7h-.7zM487.6 204.8h.7v.7h-.7zM506.1 202.6h.7v.7h-.7zM499.7 198.7h.7v.7h-.7zM501.6 199.4h.7v.7h-.7zM486.9 196.4h.7v.7h-.7zM509.4 197.8h.7v.7h-.7zM490.2 192.4h.7v.7h-.7zM522.2 185.3h.7v.7h-.7zM507.8 197.2h.7v.7h-.7zM496.6 210.3h.7v.7h-.7zM483.9 185.7h.7v.7h-.7zM489.6 191.3h.7v.7h-.7zM484.1 191.0h.7v.7h-.7zM480.9 203.3h.7v.7h-.7zM492.5 197.4h.7v.7h-.7zM483.5 206.6h.7v.7h-.7zM495.6 205.9h.7v.7h-.7zM506.4 197.5h.7v.7h-.7zM501.0 196.4h.7v.7h-.7zM518.4 194.3h.7v.7h-.7zM505.9 197.7h.7v.7h-.7zM488.2 203.8h.7v.7h-.7zM482.0 203.0h.7v.7h-.7zM481.2 201.7h.7v.7h-.7zM504.6 205.1h.7v.7h-.7zM507.6 209.2h.7v.7h-.7zM509.2 203.0h.7v.7h-.7zM515.2 206.0h.7v.7h-.7zM484.6 195.1h.7v.7h-.7zM496.2 197.1h.7v.7h-.7zM480.2 190.5h.7v.7h-.7zM480.7 201.5h.7v.7h-.7zM490.8 198.8h.7v.7h-.7zM480.2 220.0h.7v.7h-.7zM501.3 202.1h.7v.7h-.7zM510.1 204.8h.7v.7h-.7zM491.9 175.3h.7v.7h-.7zM483.7 202.6h.7v.7h-.7zM480.3 200.1h.7v.7h-.7zM483.5 211.6h.7v.7h-.7zM487.7 196.7h.7v.7h-.7zM485.0 218.0h.7v.7h-.7zM498.8 194.5h.7v.7h-.7zM486.5 200.5h.7v.7h-.7zM486.0 211.4h.7v.7h-.7zM504.1 203.0h.7v.7h-.7zM480.4 198.6h.7v.7h-.7zM485.1 208.2h.7v.7h-.7zM507.5 189.9h.7v.7h-.7zM490.0 190.5h.7v.7h-.7zM496.0 209.9h.7v.7h-.7zM528.8 204.4h.7v.7h-.7zM508.5 197.0h.7v.7h-.7zM492.5 190.3h.7v.7h-.7zM512.2 199.8h.7v.7h-.7zM544.2 180.1h.7v.7h-.7zM488.5 209.1h.7v.7h-.7zM519.7 196.6h.7v.7h-.7zM497.5 196.6h.7v.7h-.7zM489.7 207.6h.7v.7h-.7zM500.8 203.5h.7v.7h-.7zM480.8 209.5h.7v.7h-.7zM488.9 197.3h.7v.7h-.7zM498.6 187.3h.7v.7h-.7zM485.4 205.6h.7v.7h-.7zM503.9 201.6h.7v.7h-.7zM490.1 190.9h.7v.7h-.7zM505.2 192.7h.7v.7h-.7z" fill="#f08ab8" opacity="0.78"/>
<rect x="485.50" y="181.30" width="90.80" height="39.20" fill="none" stroke="#222" stroke-width="0.9"/>
<text x="439.90" y="170.70" font-size="14" fill="#111">6.97</text>
<line x1="435.70" y1="157.60" x2="435.70" y2="227.50" stroke="#777" stroke-width="0.8"/>
<line x1="432.70" y1="157.90" x2="435.70" y2="157.90" stroke="#222" stroke-width="1.2"/>
<text x="419.70" y="166.20" font-size="5.4" fill="#777">10</text>
<text x="426.10" y="162.80" font-size="4.4" fill="#777">5</text>
<line x1="432.70" y1="192.10" x2="435.70" y2="192.10" stroke="#222" stroke-width="1.2"/>
<text x="419.70" y="195.70" font-size="5.4" fill="#777">10</text>
<text x="426.10" y="192.30" font-size="4.4" fill="#777">4</text>
<line x1="432.70" y1="227.20" x2="435.70" y2="227.20" stroke="#222" stroke-width="1.2"/>
<text x="419.70" y="226.90" font-size="5.4" fill="#777">10</text>
<text x="426.10" y="223.50" font-size="4.4" fill="#777">3</text>
<line x1="433.90" y1="181.77" x2="435.70" y2="181.77" stroke="#555" stroke-width="0.6"/>
<line x1="433.90" y1="175.73" x2="435.70" y2="175.73" stroke="#555" stroke-width="0.6"/>
<line x1="433.90" y1="171.45" x2="435.70" y2="171.45" stroke="#555" stroke-width="0.6"/>
<line x1="433.90" y1="168.13" x2="435.70" y2="168.13" stroke="#555" stroke-width="0.6"/>
<line x1="433.90" y1="165.41" x2="435.70" y2="165.41" stroke="#555" stroke-width="0.6"/>
<line x1="433.90" y1="163.11" x2="435.70" y2="163.11" stroke="#555" stroke-width="0.6"/>
<line x1="433.90" y1="161.12" x2="435.70" y2="161.12" stroke="#555" stroke-width="0.6"/>
<line x1="433.90" y1="159.37" x2="435.70" y2="159.37" stroke="#555" stroke-width="0.6"/>
<line x1="433.90" y1="217.17" x2="435.70" y2="217.17" stroke="#555" stroke-width="0.6"/>
<line x1="433.90" y1="211.13" x2="435.70" y2="211.13" stroke="#555" stroke-width="0.6"/>
<line x1="433.90" y1="206.85" x2="435.70" y2="206.85" stroke="#555" stroke-width="0.6"/>
<line x1="433.90" y1="203.53" x2="435.70" y2="203.53" stroke="#555" stroke-width="0.6"/>
<line x1="433.90" y1="200.81" x2="435.70" y2="200.81" stroke="#555" stroke-width="0.6"/>
<line x1="433.90" y1="198.51" x2="435.70" y2="198.51" stroke="#555" stroke-width="0.6"/>
<line x1="433.90" y1="196.52" x2="435.70" y2="196.52" stroke="#555" stroke-width="0.6"/>
<line x1="433.90" y1="194.77" x2="435.70" y2="194.77" stroke="#555" stroke-width="0.6"/>
<rect x="435.70" y="227.50" width="140.60" height="69.80" fill="none" stroke="#c4c4c4" stroke-width="0.8"/>
<ellipse cx="467.8" cy="269.1" rx="19.0" ry="19.5" fill="url(#g13)"/>
<ellipse cx="467.8" cy="269.1" rx="9.3" ry="9.9" fill="#a6cdf5" opacity="0.35"/>
<path d="M484.3 269.4L484.1 273.2L483.5 276.1L482.5 278.7L481.2 280.8L479.5 282.6L477.5 284.0L475.1 285.1L472.4 285.7L468.8 285.9L465.2 285.7L462.5 285.1L460.1 284.0L458.1 282.6L456.4 280.8L455.1 278.7L454.1 276.1L453.5 273.2L453.3 269.4L453.5 265.6L454.1 262.7L455.1 260.1L456.4 258.0L458.1 256.2L460.1 254.8L462.5 253.7L465.2 253.1L468.8 252.9L472.4 253.1L475.1 253.7L477.5 254.8L479.5 256.2L481.2 258.0L482.5 260.1L483.5 262.7L484.1 265.6Z" fill="none" stroke="#3c95ee" stroke-width="0.45" opacity="0.6"/>
<path d="M483.1 269.4L483.0 273.0L482.4 275.7L481.5 278.0L480.3 280.0L478.7 281.7L476.8 283.0L474.6 284.0L472.1 284.6L468.7 284.7L465.4 284.6L462.8 284.0L460.6 283.0L458.8 281.7L457.2 280.0L455.9 278.0L455.0 275.7L454.5 273.0L454.3 269.4L454.5 265.8L455.0 263.1L455.9 260.8L457.2 258.8L458.8 257.1L460.6 255.8L462.8 254.8L465.4 254.2L468.7 254.1L472.1 254.2L474.6 254.8L476.8 255.8L478.7 257.1L480.3 258.8L481.5 260.8L482.4 263.1L483.0 265.8Z" fill="none" stroke="#3c95ee" stroke-width="0.45" opacity="0.6"/>
<path d="M482.0 269.4L481.8 272.7L481.3 275.2L480.5 277.4L479.3 279.2L477.9 280.8L476.1 282.0L474.1 282.9L471.8 283.4L468.7 283.6L465.6 283.4L463.2 282.9L461.2 282.0L459.4 280.8L458.0 279.2L456.8 277.4L456.0 275.2L455.5 272.7L455.3 269.4L455.5 266.1L456.0 263.6L456.8 261.4L458.0 259.6L459.4 258.0L461.2 256.8L463.2 255.9L465.6 255.4L468.7 255.2L471.8 255.4L474.1 255.9L476.1 256.8L477.9 258.0L479.3 259.6L480.5 261.4L481.3 263.6L481.8 266.1Z" fill="none" stroke="#3c95ee" stroke-width="0.45" opacity="0.6"/>
<path d="M480.8 269.4L480.7 272.4L480.2 274.7L479.5 276.7L478.4 278.4L477.1 279.8L475.5 281.0L473.6 281.8L471.4 282.3L468.6 282.4L465.7 282.3L463.6 281.8L461.7 281.0L460.1 279.8L458.8 278.4L457.7 276.7L457.0 274.7L456.5 272.4L456.3 269.4L456.5 266.4L457.0 264.1L457.7 262.1L458.8 260.4L460.1 259.0L461.7 257.8L463.6 257.0L465.7 256.5L468.6 256.4L471.4 256.5L473.6 257.0L475.5 257.8L477.1 259.0L478.4 260.4L479.5 262.1L480.2 264.1L480.7 266.4Z" fill="none" stroke="#3c95ee" stroke-width="0.45" opacity="0.6"/>
<path d="M479.7 269.4L479.5 272.2L479.1 274.3L478.4 276.1L477.5 277.6L476.2 278.9L474.8 279.9L473.1 280.7L471.1 281.1L468.5 281.3L465.9 281.1L464.0 280.7L462.3 279.9L460.8 278.9L459.6 277.6L458.6 276.1L457.9 274.3L457.5 272.2L457.4 269.4L457.5 266.6L457.9 264.5L458.6 262.7L459.6 261.2L460.8 259.9L462.3 258.9L464.0 258.1L465.9 257.7L468.5 257.5L471.1 257.7L473.1 258.1L474.8 258.9L476.2 259.9L477.5 261.2L478.4 262.7L479.1 264.5L479.5 266.6Z" fill="none" stroke="#3c95ee" stroke-width="0.45" opacity="0.6"/>
<path d="M478.5 269.4L478.4 271.9L478.0 273.8L477.4 275.4L476.5 276.8L475.4 278.0L474.1 278.9L472.6 279.6L470.8 280.0L468.5 280.1L466.1 280.0L464.3 279.6L462.8 278.9L461.5 278.0L460.4 276.8L459.5 275.4L458.9 273.8L458.5 271.9L458.4 269.4L458.5 266.9L458.9 265.0L459.5 263.4L460.4 262.0L461.5 260.8L462.8 259.9L464.3 259.2L466.1 258.8L468.4 258.7L470.8 258.8L472.6 259.2L474.1 259.9L475.4 260.8L476.5 262.0L477.4 263.4L478.0 265.0L478.4 266.9Z" fill="none" stroke="#3c95ee" stroke-width="0.45" opacity="0.5"/>
<path d="M477.4 269.4L477.3 271.6L476.9 273.3L476.4 274.8L475.6 276.0L474.6 277.1L473.4 277.9L472.1 278.5L470.5 278.8L468.4 279.0L466.3 278.8L464.7 278.5L463.3 277.9L462.2 277.1L461.2 276.0L460.4 274.8L459.8 273.3L459.5 271.6L459.4 269.4L459.5 267.2L459.8 265.5L460.4 264.0L461.2 262.8L462.2 261.7L463.3 260.9L464.7 260.3L466.3 260.0L468.4 259.8L470.5 260.0L472.1 260.3L473.4 260.9L474.6 261.7L475.6 262.8L476.4 264.0L476.9 265.5L477.3 267.2Z" fill="none" stroke="#3c95ee" stroke-width="0.45" opacity="0.5"/>
<path d="M476.2 269.4L476.1 271.4L475.8 272.8L475.3 274.1L474.6 275.2L473.8 276.1L472.7 276.9L471.5 277.4L470.1 277.7L468.3 277.8L466.5 277.7L465.1 277.4L463.9 276.9L462.8 276.1L462.0 275.2L461.3 274.1L460.8 272.8L460.5 271.4L460.4 269.4L460.5 267.4L460.8 266.0L461.3 264.7L462.0 263.6L462.8 262.7L463.9 261.9L465.1 261.4L466.5 261.1L468.3 261.0L470.1 261.1L471.5 261.4L472.7 261.9L473.8 262.7L474.6 263.6L475.3 264.7L475.8 266.0L476.1 267.4Z" fill="none" stroke="#3c95ee" stroke-width="0.45" opacity="0.5"/>
<path d="M475.1 269.4L475.0 271.1L474.7 272.4L474.3 273.5L473.7 274.4L473.0 275.2L472.1 275.8L471.0 276.3L469.8 276.6L468.2 276.7L466.7 276.6L465.5 276.3L464.4 275.8L463.5 275.2L462.8 274.4L462.2 273.5L461.8 272.4L461.5 271.1L461.4 269.4L461.5 267.7L461.8 266.4L462.2 265.3L462.8 264.4L463.5 263.6L464.4 263.0L465.5 262.5L466.7 262.2L468.2 262.1L469.8 262.2L471.0 262.5L472.1 263.0L473.0 263.6L473.7 264.4L474.3 265.3L474.7 266.4L475.0 267.7Z" fill="none" stroke="#3c95ee" stroke-width="0.45" opacity="0.5"/>
<path d="M473.9 269.4L473.8 270.8L473.6 271.9L473.3 272.8L472.8 273.6L472.1 274.3L471.4 274.8L470.5 275.2L469.5 275.4L468.2 275.5L466.8 275.4L465.8 275.2L465.0 274.8L464.2 274.3L463.6 273.6L463.1 272.8L462.7 271.9L462.5 270.8L462.4 269.4L462.5 268.0L462.7 266.9L463.1 266.0L463.6 265.2L464.2 264.5L465.0 264.0L465.8 263.6L466.8 263.4L468.2 263.3L469.5 263.4L470.5 263.6L471.4 264.0L472.1 264.5L472.8 265.2L473.3 266.0L473.6 266.9L473.8 268.0Z" fill="none" stroke="#3c95ee" stroke-width="0.45" opacity="0.5"/>
<path d="M472.8 269.4L472.7 270.6L472.5 271.4L472.2 272.2L471.8 272.8L471.3 273.4L470.7 273.8L470.0 274.1L469.2 274.3L468.1 274.4L467.0 274.3L466.2 274.1L465.5 273.8L464.9 273.4L464.4 272.8L464.0 272.2L463.7 271.4L463.5 270.6L463.5 269.4L463.5 268.2L463.7 267.4L464.0 266.6L464.4 266.0L464.9 265.4L465.5 265.0L466.2 264.7L467.0 264.5L468.1 264.5L469.2 264.5L470.0 264.7L470.7 265.0L471.3 265.4L471.8 266.0L472.2 266.6L472.5 267.4L472.7 268.2Z" fill="none" stroke="#3c95ee" stroke-width="0.45" opacity="0.5"/>
<path d="M471.6 269.4L471.5 270.3L471.4 271.0L471.2 271.5L470.9 272.0L470.5 272.4L470.0 272.8L469.5 273.0L468.9 273.1L468.0 273.2L467.2 273.1L466.6 273.0L466.0 272.8L465.6 272.4L465.2 272.0L464.9 271.5L464.6 271.0L464.5 270.3L464.5 269.4L464.5 268.5L464.6 267.8L464.9 267.3L465.2 266.8L465.6 266.4L466.0 266.0L466.6 265.8L467.2 265.7L468.0 265.6L468.9 265.7L469.5 265.8L470.0 266.0L470.5 266.4L470.9 266.8L471.2 267.3L471.4 267.8L471.5 268.5Z" fill="none" stroke="#3c95ee" stroke-width="0.45" opacity="0.5"/>
<path d="M481.0 269.6L480.8 272.7L480.4 275.0L479.6 277.0L478.5 278.7L477.2 280.2L475.6 281.3L473.7 282.1L471.5 282.6L468.6 282.8L465.7 282.6L463.5 282.1L461.6 281.3L460.0 280.2L458.7 278.7L457.6 277.0L456.8 275.0L456.4 272.7L456.2 269.6L456.4 266.5L456.8 264.2L457.6 262.2L458.7 260.5L460.0 259.0L461.6 257.9L463.5 257.1L465.7 256.6L468.6 256.4L471.5 256.6L473.7 257.1L475.6 257.9L477.2 259.0L478.5 260.5L479.6 262.2L480.4 264.2L480.8 266.5Z" fill="none" stroke="#fff" stroke-width="1.1" opacity="0.85"/>
<path d="M475.3 269.6L475.2 271.3L474.9 272.6L474.5 273.8L473.9 274.7L473.1 275.5L472.2 276.2L471.2 276.6L469.9 276.9L468.3 277.0L466.7 276.9L465.4 276.6L464.4 276.2L463.5 275.5L462.7 274.7L462.1 273.8L461.7 272.6L461.4 271.3L461.3 269.6L461.4 267.9L461.7 266.6L462.1 265.4L462.7 264.5L463.5 263.7L464.4 263.0L465.4 262.6L466.7 262.3L468.3 262.2L469.9 262.3L471.2 262.6L472.2 263.0L473.1 263.7L473.9 264.5L474.5 265.4L474.9 266.6L475.2 267.9Z" fill="none" stroke="#fff" stroke-width="0.7" opacity="0.7"/>
<ellipse cx="468.3" cy="268.1" rx="2.2" ry="3" fill="#fff" opacity="0.8"/>
<path d="M470.5 269.9h.7v.7h-.7zM448.3 268.2h.7v.7h-.7zM465.3 259.7h.7v.7h-.7zM467.5 273.9h.7v.7h-.7zM458.9 256.9h.7v.7h-.7zM465.0 271.5h.7v.7h-.7zM465.5 283.0h.7v.7h-.7zM468.9 260.1h.7v.7h-.7zM474.3 263.3h.7v.7h-.7zM473.6 270.0h.7v.7h-.7zM478.2 260.1h.7v.7h-.7zM473.8 272.9h.7v.7h-.7zM460.0 275.4h.7v.7h-.7zM487.0 272.3h.7v.7h-.7zM461.2 267.7h.7v.7h-.7zM478.8 271.4h.7v.7h-.7zM480.3 263.2h.7v.7h-.7zM478.8 254.9h.7v.7h-.7zM466.3 266.4h.7v.7h-.7zM463.6 280.1h.7v.7h-.7zM462.6 272.3h.7v.7h-.7zM483.5 276.5h.7v.7h-.7zM464.2 262.5h.7v.7h-.7zM450.7 272.5h.7v.7h-.7zM475.3 279.1h.7v.7h-.7zM469.8 288.5h.7v.7h-.7zM474.3 248.3h.7v.7h-.7zM460.2 276.3h.7v.7h-.7zM464.3 276.6h.7v.7h-.7zM489.6 262.2h.7v.7h-.7zM486.6 268.4h.7v.7h-.7zM455.2 270.0h.7v.7h-.7zM475.4 263.9h.7v.7h-.7zM481.2 261.2h.7v.7h-.7zM466.1 277.4h.7v.7h-.7zM465.9 264.1h.7v.7h-.7zM467.6 275.0h.7v.7h-.7zM482.5 281.3h.7v.7h-.7zM483.7 268.8h.7v.7h-.7zM453.6 268.7h.7v.7h-.7zM464.2 260.1h.7v.7h-.7zM463.3 268.5h.7v.7h-.7zM468.2 277.4h.7v.7h-.7zM459.9 279.4h.7v.7h-.7zM468.1 275.7h.7v.7h-.7zM478.4 258.0h.7v.7h-.7zM481.4 262.6h.7v.7h-.7zM471.2 278.9h.7v.7h-.7zM475.6 255.0h.7v.7h-.7zM469.1 279.3h.7v.7h-.7zM466.7 268.4h.7v.7h-.7zM468.4 283.9h.7v.7h-.7zM463.1 260.6h.7v.7h-.7zM458.3 264.3h.7v.7h-.7zM465.7 272.2h.7v.7h-.7zM467.1 253.6h.7v.7h-.7zM454.3 275.2h.7v.7h-.7zM474.0 256.9h.7v.7h-.7zM475.8 247.2h.7v.7h-.7zM487.7 274.4h.7v.7h-.7zM453.6 273.7h.7v.7h-.7zM467.5 265.0h.7v.7h-.7zM464.6 267.1h.7v.7h-.7zM466.9 261.0h.7v.7h-.7zM462.9 274.1h.7v.7h-.7zM472.3 257.1h.7v.7h-.7zM463.6 283.2h.7v.7h-.7zM473.9 284.0h.7v.7h-.7zM456.2 259.7h.7v.7h-.7zM449.1 251.6h.7v.7h-.7zM464.6 259.6h.7v.7h-.7zM458.4 262.8h.7v.7h-.7zM466.2 276.6h.7v.7h-.7zM472.6 253.3h.7v.7h-.7zM480.6 266.1h.7v.7h-.7zM459.2 268.8h.7v.7h-.7zM464.3 256.6h.7v.7h-.7zM481.2 263.9h.7v.7h-.7zM462.6 274.0h.7v.7h-.7zM482.2 273.5h.7v.7h-.7zM460.1 273.1h.7v.7h-.7zM477.3 272.5h.7v.7h-.7zM473.4 264.8h.7v.7h-.7zM467.2 253.9h.7v.7h-.7zM461.6 258.9h.7v.7h-.7zM467.8 282.6h.7v.7h-.7zM448.4 257.2h.7v.7h-.7zM459.8 268.3h.7v.7h-.7zM477.8 262.1h.7v.7h-.7zM461.0 280.0h.7v.7h-.7zM471.0 273.9h.7v.7h-.7zM475.0 262.4h.7v.7h-.7zM469.7 263.2h.7v.7h-.7zM461.6 270.3h.7v.7h-.7zM471.5 257.6h.7v.7h-.7zM461.2 274.6h.7v.7h-.7zM469.2 275.1h.7v.7h-.7zM465.1 261.9h.7v.7h-.7zM474.5 274.5h.7v.7h-.7zM443.3 276.9h.7v.7h-.7zM461.2 275.1h.7v.7h-.7zM481.3 266.6h.7v.7h-.7zM459.4 271.4h.7v.7h-.7zM468.6 274.2h.7v.7h-.7zM455.7 271.3h.7v.7h-.7zM475.5 275.4h.7v.7h-.7zM473.2 279.9h.7v.7h-.7zM460.7 280.1h.7v.7h-.7zM469.6 260.1h.7v.7h-.7zM465.2 271.6h.7v.7h-.7zM470.7 281.3h.7v.7h-.7zM469.4 264.5h.7v.7h-.7zM486.6 266.1h.7v.7h-.7zM460.7 277.5h.7v.7h-.7zM464.2 262.0h.7v.7h-.7zM458.6 279.8h.7v.7h-.7zM458.6 270.0h.7v.7h-.7zM463.9 267.4h.7v.7h-.7zM460.7 270.5h.7v.7h-.7zM473.0 278.6h.7v.7h-.7zM464.7 258.6h.7v.7h-.7zM455.0 269.2h.7v.7h-.7zM446.4 281.1h.7v.7h-.7zM468.0 270.2h.7v.7h-.7zM455.8 263.3h.7v.7h-.7zM461.4 275.2h.7v.7h-.7zM464.3 274.7h.7v.7h-.7zM472.2 251.8h.7v.7h-.7zM465.8 280.5h.7v.7h-.7zM463.4 270.3h.7v.7h-.7zM466.7 258.1h.7v.7h-.7zM486.6 267.9h.7v.7h-.7zM473.3 265.1h.7v.7h-.7zM479.9 279.5h.7v.7h-.7zM478.0 277.7h.7v.7h-.7zM473.9 281.7h.7v.7h-.7zM471.3 270.4h.7v.7h-.7zM474.8 261.1h.7v.7h-.7zM445.9 276.5h.7v.7h-.7zM469.1 262.8h.7v.7h-.7zM465.5 260.6h.7v.7h-.7zM460.5 270.9h.7v.7h-.7zM468.8 276.7h.7v.7h-.7zM467.0 274.9h.7v.7h-.7zM473.7 262.8h.7v.7h-.7zM453.2 263.0h.7v.7h-.7zM465.6 264.4h.7v.7h-.7zM486.9 263.0h.7v.7h-.7zM471.9 262.3h.7v.7h-.7zM473.8 257.8h.7v.7h-.7zM476.0 270.8h.7v.7h-.7zM464.3 258.4h.7v.7h-.7zM482.2 264.0h.7v.7h-.7zM480.2 247.5h.7v.7h-.7zM457.4 285.5h.7v.7h-.7zM483.2 269.3h.7v.7h-.7zM476.4 274.7h.7v.7h-.7zM464.7 270.4h.7v.7h-.7zM457.9 257.1h.7v.7h-.7zM468.9 275.8h.7v.7h-.7zM469.2 258.2h.7v.7h-.7zM475.1 270.0h.7v.7h-.7zM474.3 266.6h.7v.7h-.7zM465.5 278.7h.7v.7h-.7zM479.6 258.4h.7v.7h-.7zM458.2 277.9h.7v.7h-.7zM470.9 269.7h.7v.7h-.7zM459.3 278.3h.7v.7h-.7zM469.4 271.2h.7v.7h-.7zM471.1 264.5h.7v.7h-.7zM471.2 270.4h.7v.7h-.7zM474.0 272.6h.7v.7h-.7zM456.7 262.8h.7v.7h-.7zM465.5 279.7h.7v.7h-.7zM462.2 279.4h.7v.7h-.7zM477.1 277.1h.7v.7h-.7zM487.3 269.1h.7v.7h-.7zM470.6 280.2h.7v.7h-.7zM471.3 278.1h.7v.7h-.7zM466.7 281.9h.7v.7h-.7zM470.8 252.0h.7v.7h-.7zM477.2 267.5h.7v.7h-.7zM460.2 266.5h.7v.7h-.7zM465.4 279.5h.7v.7h-.7zM470.7 268.6h.7v.7h-.7zM467.7 261.2h.7v.7h-.7zM462.3 265.0h.7v.7h-.7zM465.8 258.8h.7v.7h-.7zM464.3 278.2h.7v.7h-.7zM471.7 269.2h.7v.7h-.7zM470.8 267.1h.7v.7h-.7zM457.6 277.1h.7v.7h-.7zM487.2 273.8h.7v.7h-.7zM473.7 291.3h.7v.7h-.7zM457.4 273.9h.7v.7h-.7zM464.8 266.7h.7v.7h-.7zM453.5 268.5h.7v.7h-.7zM471.2 254.9h.7v.7h-.7zM465.9 264.8h.7v.7h-.7zM459.2 274.9h.7v.7h-.7zM482.0 273.0h.7v.7h-.7zM476.7 276.0h.7v.7h-.7zM467.3 274.4h.7v.7h-.7zM479.2 265.4h.7v.7h-.7zM466.5 256.9h.7v.7h-.7zM451.7 261.9h.7v.7h-.7zM475.5 272.5h.7v.7h-.7zM470.0 281.0h.7v.7h-.7zM452.5 281.6h.7v.7h-.7zM468.5 276.2h.7v.7h-.7zM479.7 262.0h.7v.7h-.7zM460.3 272.8h.7v.7h-.7zM467.3 264.0h.7v.7h-.7zM466.7 262.7h.7v.7h-.7zM469.0 265.8h.7v.7h-.7zM482.5 259.9h.7v.7h-.7zM472.8 269.9h.7v.7h-.7zM481.5 260.6h.7v.7h-.7zM463.8 284.7h.7v.7h-.7zM462.1 265.8h.7v.7h-.7zM464.4 260.5h.7v.7h-.7zM478.3 282.8h.7v.7h-.7zM466.5 262.5h.7v.7h-.7zM456.1 275.1h.7v.7h-.7zM463.2 274.1h.7v.7h-.7zM447.0 265.5h.7v.7h-.7zM473.2 273.0h.7v.7h-.7zM443.1 271.9h.7v.7h-.7zM468.9 269.0h.7v.7h-.7zM464.9 265.3h.7v.7h-.7zM469.0 273.8h.7v.7h-.7zM440.5 269.1h.7v.7h-.7zM475.8 267.3h.7v.7h-.7zM478.4 260.9h.7v.7h-.7zM484.3 277.8h.7v.7h-.7zM464.3 293.8h.7v.7h-.7zM480.2 283.4h.7v.7h-.7zM457.5 268.2h.7v.7h-.7zM471.9 278.6h.7v.7h-.7zM468.5 257.6h.7v.7h-.7zM478.4 267.7h.7v.7h-.7zM471.6 266.4h.7v.7h-.7zM466.8 257.0h.7v.7h-.7zM473.6 263.6h.7v.7h-.7zM452.5 272.9h.7v.7h-.7zM467.5 277.8h.7v.7h-.7zM474.9 258.4h.7v.7h-.7zM466.3 269.2h.7v.7h-.7zM468.6 259.8h.7v.7h-.7zM468.5 278.0h.7v.7h-.7zM478.5 282.2h.7v.7h-.7zM474.3 246.7h.7v.7h-.7zM465.5 264.4h.7v.7h-.7zM442.8 282.9h.7v.7h-.7zM475.7 269.2h.7v.7h-.7zM470.9 273.5h.7v.7h-.7zM465.9 281.4h.7v.7h-.7zM483.6 276.5h.7v.7h-.7zM463.0 271.5h.7v.7h-.7zM476.2 275.6h.7v.7h-.7zM461.9 277.7h.7v.7h-.7zM474.1 274.4h.7v.7h-.7zM464.2 269.0h.7v.7h-.7zM451.3 268.9h.7v.7h-.7zM464.0 266.6h.7v.7h-.7zM465.4 266.4h.7v.7h-.7zM468.5 270.1h.7v.7h-.7zM462.5 268.0h.7v.7h-.7zM467.0 273.6h.7v.7h-.7zM471.6 266.0h.7v.7h-.7zM460.7 254.6h.7v.7h-.7zM457.0 272.8h.7v.7h-.7zM459.9 283.5h.7v.7h-.7zM466.4 265.8h.7v.7h-.7zM466.4 264.4h.7v.7h-.7zM462.4 269.8h.7v.7h-.7zM455.3 270.4h.7v.7h-.7zM467.0 261.2h.7v.7h-.7zM476.7 272.4h.7v.7h-.7zM477.2 263.3h.7v.7h-.7zM457.1 258.6h.7v.7h-.7zM454.2 252.4h.7v.7h-.7zM481.3 265.0h.7v.7h-.7zM469.5 264.4h.7v.7h-.7zM466.6 283.2h.7v.7h-.7zM452.8 260.4h.7v.7h-.7zM469.0 261.1h.7v.7h-.7zM473.8 280.7h.7v.7h-.7zM475.5 275.9h.7v.7h-.7zM466.4 278.1h.7v.7h-.7zM460.9 258.6h.7v.7h-.7zM465.6 267.0h.7v.7h-.7zM478.4 260.4h.7v.7h-.7zM477.7 262.3h.7v.7h-.7zM456.9 254.1h.7v.7h-.7zM467.5 256.3h.7v.7h-.7zM469.6 269.6h.7v.7h-.7zM464.4 252.0h.7v.7h-.7zM463.3 273.1h.7v.7h-.7zM452.4 275.3h.7v.7h-.7zM468.0 264.3h.7v.7h-.7zM469.6 275.0h.7v.7h-.7zM467.6 262.3h.7v.7h-.7zM474.6 263.1h.7v.7h-.7zM470.9 277.8h.7v.7h-.7zM479.1 283.3h.7v.7h-.7zM476.6 270.5h.7v.7h-.7zM466.1 270.8h.7v.7h-.7zM473.5 261.8h.7v.7h-.7zM480.9 255.0h.7v.7h-.7zM476.5 257.8h.7v.7h-.7zM458.4 264.7h.7v.7h-.7zM465.4 257.2h.7v.7h-.7zM473.1 268.1h.7v.7h-.7zM479.4 260.1h.7v.7h-.7zM452.2 275.3h.7v.7h-.7zM465.9 277.8h.7v.7h-.7zM447.6 258.0h.7v.7h-.7zM468.6 286.5h.7v.7h-.7zM457.2 252.2h.7v.7h-.7zM463.9 281.7h.7v.7h-.7zM481.4 257.1h.7v.7h-.7zM462.5 252.8h.7v.7h-.7zM460.5 260.6h.7v.7h-.7zM471.5 279.3h.7v.7h-.7zM488.4 266.0h.7v.7h-.7zM474.9 271.1h.7v.7h-.7zM468.9 286.4h.7v.7h-.7zM473.9 283.1h.7v.7h-.7zM470.4 276.8h.7v.7h-.7zM472.2 268.3h.7v.7h-.7zM461.8 265.6h.7v.7h-.7zM467.9 265.7h.7v.7h-.7zM464.9 262.9h.7v.7h-.7zM475.2 267.0h.7v.7h-.7zM466.8 267.2h.7v.7h-.7zM479.1 264.4h.7v.7h-.7zM480.0 261.5h.7v.7h-.7zM481.0 274.6h.7v.7h-.7zM463.6 273.2h.7v.7h-.7zM477.6 260.7h.7v.7h-.7zM465.9 271.9h.7v.7h-.7zM466.0 266.6h.7v.7h-.7zM468.0 271.9h.7v.7h-.7zM474.5 282.3h.7v.7h-.7zM465.0 295.3h.7v.7h-.7zM465.0 285.0h.7v.7h-.7zM466.7 256.2h.7v.7h-.7zM464.1 266.1h.7v.7h-.7zM477.0 251.2h.7v.7h-.7zM462.4 268.0h.7v.7h-.7zM473.5 272.7h.7v.7h-.7zM475.2 267.7h.7v.7h-.7zM465.8 279.9h.7v.7h-.7zM482.6 272.5h.7v.7h-.7zM469.2 261.5h.7v.7h-.7zM485.9 272.7h.7v.7h-.7zM473.1 254.9h.7v.7h-.7zM473.0 290.8h.7v.7h-.7zM466.4 267.3h.7v.7h-.7zM481.0 267.5h.7v.7h-.7zM475.1 286.4h.7v.7h-.7zM457.8 261.8h.7v.7h-.7zM473.7 270.2h.7v.7h-.7zM468.2 267.7h.7v.7h-.7zM468.9 272.3h.7v.7h-.7zM463.7 266.7h.7v.7h-.7zM469.8 259.5h.7v.7h-.7zM471.6 249.6h.7v.7h-.7zM473.3 268.1h.7v.7h-.7zM457.7 281.1h.7v.7h-.7zM457.8 287.5h.7v.7h-.7zM461.6 279.9h.7v.7h-.7zM467.3 283.5h.7v.7h-.7zM465.9 278.3h.7v.7h-.7zM465.1 252.4h.7v.7h-.7zM471.2 273.4h.7v.7h-.7zM471.3 284.0h.7v.7h-.7zM461.5 256.4h.7v.7h-.7zM470.0 263.0h.7v.7h-.7zM466.9 269.1h.7v.7h-.7zM460.8 278.9h.7v.7h-.7zM466.8 285.1h.7v.7h-.7zM470.0 278.6h.7v.7h-.7zM465.3 263.3h.7v.7h-.7zM463.3 261.3h.7v.7h-.7zM471.7 270.4h.7v.7h-.7zM458.6 255.4h.7v.7h-.7zM460.5 252.9h.7v.7h-.7zM460.3 255.6h.7v.7h-.7zM473.9 258.8h.7v.7h-.7zM462.8 268.1h.7v.7h-.7zM468.1 272.9h.7v.7h-.7zM474.4 274.9h.7v.7h-.7zM464.9 280.3h.7v.7h-.7zM471.0 262.8h.7v.7h-.7zM480.6 258.6h.7v.7h-.7zM471.9 280.3h.7v.7h-.7zM468.8 272.2h.7v.7h-.7zM468.9 275.1h.7v.7h-.7zM469.8 269.2h.7v.7h-.7zM473.9 252.2h.7v.7h-.7zM470.0 266.4h.7v.7h-.7zM484.6 271.7h.7v.7h-.7zM462.2 275.0h.7v.7h-.7zM464.6 258.6h.7v.7h-.7zM465.5 273.6h.7v.7h-.7zM478.0 278.5h.7v.7h-.7zM469.8 267.7h.7v.7h-.7zM469.6 279.9h.7v.7h-.7zM466.8 279.5h.7v.7h-.7zM461.1 269.0h.7v.7h-.7zM474.4 275.4h.7v.7h-.7zM469.6 264.5h.7v.7h-.7zM452.6 265.2h.7v.7h-.7zM460.6 265.5h.7v.7h-.7zM481.3 262.3h.7v.7h-.7zM475.1 269.0h.7v.7h-.7zM458.4 270.1h.7v.7h-.7zM496.3 258.6h.7v.7h-.7zM504.9 265.7h.7v.7h-.7zM495.7 263.8h.7v.7h-.7zM489.1 273.2h.7v.7h-.7zM480.2 273.1h.7v.7h-.7zM507.5 267.4h.7v.7h-.7zM487.0 259.6h.7v.7h-.7zM495.4 268.2h.7v.7h-.7zM497.6 263.1h.7v.7h-.7zM509.9 277.4h.7v.7h-.7zM531.4 246.2h.7v.7h-.7zM502.7 270.2h.7v.7h-.7zM490.4 260.7h.7v.7h-.7zM487.2 278.9h.7v.7h-.7zM485.6 275.6h.7v.7h-.7zM482.7 260.8h.7v.7h-.7zM493.0 263.7h.7v.7h-.7zM508.7 279.4h.7v.7h-.7zM485.1 255.2h.7v.7h-.7zM490.3 265.6h.7v.7h-.7zM521.4 268.9h.7v.7h-.7zM486.1 257.3h.7v.7h-.7zM488.9 265.1h.7v.7h-.7zM519.8 275.0h.7v.7h-.7zM496.5 269.9h.7v.7h-.7zM507.4 277.3h.7v.7h-.7zM494.3 252.0h.7v.7h-.7zM495.6 266.0h.7v.7h-.7zM479.9 273.7h.7v.7h-.7zM484.7 272.8h.7v.7h-.7zM507.7 266.3h.7v.7h-.7zM487.4 269.3h.7v.7h-.7zM493.8 265.6h.7v.7h-.7zM481.6 263.1h.7v.7h-.7zM481.3 273.9h.7v.7h-.7zM497.4 267.5h.7v.7h-.7zM511.2 262.9h.7v.7h-.7zM481.6 273.8h.7v.7h-.7zM501.9 268.2h.7v.7h-.7zM499.7 271.9h.7v.7h-.7zM485.5 273.1h.7v.7h-.7zM484.3 256.5h.7v.7h-.7zM491.8 257.2h.7v.7h-.7zM494.3 268.6h.7v.7h-.7zM503.1 263.4h.7v.7h-.7zM496.3 270.9h.7v.7h-.7zM524.1 286.8h.7v.7h-.7zM512.8 278.1h.7v.7h-.7zM500.9 277.7h.7v.7h-.7zM482.0 275.6h.7v.7h-.7zM487.1 277.6h.7v.7h-.7zM493.7 261.9h.7v.7h-.7zM488.0 265.1h.7v.7h-.7zM494.3 261.5h.7v.7h-.7zM485.6 260.4h.7v.7h-.7zM481.9 288.2h.7v.7h-.7zM502.8 258.2h.7v.7h-.7zM514.1 267.1h.7v.7h-.7zM514.6 265.1h.7v.7h-.7zM499.8 267.5h.7v.7h-.7zM493.3 286.9h.7v.7h-.7zM503.0 252.8h.7v.7h-.7zM500.7 272.8h.7v.7h-.7zM493.8 267.1h.7v.7h-.7zM486.6 273.9h.7v.7h-.7zM487.2 278.0h.7v.7h-.7zM497.9 275.8h.7v.7h-.7zM499.4 270.9h.7v.7h-.7zM487.1 268.9h.7v.7h-.7zM527.2 271.4h.7v.7h-.7zM510.2 251.3h.7v.7h-.7zM496.2 261.0h.7v.7h-.7zM487.4 269.5h.7v.7h-.7zM517.4 261.1h.7v.7h-.7zM485.5 273.3h.7v.7h-.7zM481.3 257.9h.7v.7h-.7zM491.1 270.0h.7v.7h-.7zM506.9 265.2h.7v.7h-.7zM491.4 250.3h.7v.7h-.7zM516.7 276.9h.7v.7h-.7zM489.7 277.5h.7v.7h-.7zM502.0 282.7h.7v.7h-.7zM487.7 270.4h.7v.7h-.7zM492.1 269.9h.7v.7h-.7zM486.9 269.4h.7v.7h-.7zM497.4 275.8h.7v.7h-.7zM491.7 269.1h.7v.7h-.7zM502.3 262.6h.7v.7h-.7zM507.1 267.7h.7v.7h-.7zM512.2 265.2h.7v.7h-.7zM485.2 271.0h.7v.7h-.7zM503.2 281.9h.7v.7h-.7zM489.5 262.7h.7v.7h-.7zM496.1 280.1h.7v.7h-.7zM494.8 266.2h.7v.7h-.7zM507.0 268.9h.7v.7h-.7zM483.4 274.6h.7v.7h-.7zM491.9 249.1h.7v.7h-.7zM484.5 275.5h.7v.7h-.7zM489.2 273.9h.7v.7h-.7zM483.3 278.3h.7v.7h-.7zM482.3 282.3h.7v.7h-.7zM480.9 276.2h.7v.7h-.7zM491.5 271.8h.7v.7h-.7zM488.9 270.3h.7v.7h-.7zM512.7 269.5h.7v.7h-.7zM503.8 272.2h.7v.7h-.7zM503.1 261.1h.7v.7h-.7zM487.5 277.7h.7v.7h-.7zM497.2 272.6h.7v.7h-.7zM491.9 270.8h.7v.7h-.7zM489.1 273.9h.7v.7h-.7zM484.8 272.8h.7v.7h-.7zM490.8 265.1h.7v.7h-.7zM513.5 268.2h.7v.7h-.7zM516.0 269.4h.7v.7h-.7zM484.3 259.5h.7v.7h-.7zM481.3 271.7h.7v.7h-.7zM487.2 261.0h.7v.7h-.7zM482.1 272.7h.7v.7h-.7zM499.5 286.3h.7v.7h-.7zM521.8 272.1h.7v.7h-.7zM489.1 263.5h.7v.7h-.7zM486.7 287.7h.7v.7h-.7zM482.3 281.2h.7v.7h-.7zM502.5 265.2h.7v.7h-.7zM529.0 279.4h.7v.7h-.7zM512.6 253.5h.7v.7h-.7zM484.0 262.9h.7v.7h-.7zM484.2 269.7h.7v.7h-.7zM504.2 263.9h.7v.7h-.7zM520.9 253.9h.7v.7h-.7zM484.4 292.9h.7v.7h-.7zM481.9 274.7h.7v.7h-.7zM498.9 266.0h.7v.7h-.7zM520.5 271.0h.7v.7h-.7zM495.4 251.0h.7v.7h-.7zM490.2 274.1h.7v.7h-.7zM530.9 267.4h.7v.7h-.7zM513.6 257.2h.7v.7h-.7zM488.5 279.2h.7v.7h-.7zM504.6 263.3h.7v.7h-.7zM490.6 253.4h.7v.7h-.7zM511.3 273.9h.7v.7h-.7zM488.3 260.1h.7v.7h-.7zM519.6 267.0h.7v.7h-.7zM527.4 251.2h.7v.7h-.7zM502.0 279.1h.7v.7h-.7zM520.6 263.6h.7v.7h-.7z" fill="#3c95ee" opacity="0.78"/>
<rect x="485.50" y="251.20" width="90.80" height="39.20" fill="none" stroke="#222" stroke-width="0.9"/>
<text x="439.90" y="240.60" font-size="14" fill="#111">4.23</text>
<line x1="435.70" y1="227.50" x2="435.70" y2="297.30" stroke="#777" stroke-width="0.8"/>
<line x1="432.70" y1="227.80" x2="435.70" y2="227.80" stroke="#222" stroke-width="1.2"/>
<text x="419.70" y="236.10" font-size="5.4" fill="#777">10</text>
<text x="426.10" y="232.70" font-size="4.4" fill="#777">5</text>
<line x1="432.70" y1="262.00" x2="435.70" y2="262.00" stroke="#222" stroke-width="1.2"/>
<text x="419.70" y="265.60" font-size="5.4" fill="#777">10</text>
<text x="426.10" y="262.20" font-size="4.4" fill="#777">4</text>
<line x1="432.70" y1="297.00" x2="435.70" y2="297.00" stroke="#222" stroke-width="1.2"/>
<text x="419.70" y="296.70" font-size="5.4" fill="#777">10</text>
<text x="426.10" y="293.30" font-size="4.4" fill="#777">3</text>
<line x1="433.90" y1="251.67" x2="435.70" y2="251.67" stroke="#555" stroke-width="0.6"/>
<line x1="433.90" y1="245.63" x2="435.70" y2="245.63" stroke="#555" stroke-width="0.6"/>
<line x1="433.90" y1="241.35" x2="435.70" y2="241.35" stroke="#555" stroke-width="0.6"/>
<line x1="433.90" y1="238.03" x2="435.70" y2="238.03" stroke="#555" stroke-width="0.6"/>
<line x1="433.90" y1="235.31" x2="435.70" y2="235.31" stroke="#555" stroke-width="0.6"/>
<line x1="433.90" y1="233.01" x2="435.70" y2="233.01" stroke="#555" stroke-width="0.6"/>
<line x1="433.90" y1="231.02" x2="435.70" y2="231.02" stroke="#555" stroke-width="0.6"/>
<line x1="433.90" y1="229.27" x2="435.70" y2="229.27" stroke="#555" stroke-width="0.6"/>
<line x1="433.90" y1="286.97" x2="435.70" y2="286.97" stroke="#555" stroke-width="0.6"/>
<line x1="433.90" y1="280.93" x2="435.70" y2="280.93" stroke="#555" stroke-width="0.6"/>
<line x1="433.90" y1="276.65" x2="435.70" y2="276.65" stroke="#555" stroke-width="0.6"/>
<line x1="433.90" y1="273.33" x2="435.70" y2="273.33" stroke="#555" stroke-width="0.6"/>
<line x1="433.90" y1="270.61" x2="435.70" y2="270.61" stroke="#555" stroke-width="0.6"/>
<line x1="433.90" y1="268.31" x2="435.70" y2="268.31" stroke="#555" stroke-width="0.6"/>
<line x1="433.90" y1="266.32" x2="435.70" y2="266.32" stroke="#555" stroke-width="0.6"/>
<line x1="433.90" y1="264.57" x2="435.70" y2="264.57" stroke="#555" stroke-width="0.6"/>
<rect x="435.70" y="297.30" width="140.60" height="69.60" fill="none" stroke="#c4c4c4" stroke-width="0.8"/>
<ellipse cx="467.8" cy="338.9" rx="19.0" ry="19.5" fill="url(#g14)"/>
<ellipse cx="467.8" cy="338.9" rx="9.3" ry="9.9" fill="#f2a8a8" opacity="0.35"/>
<path d="M484.3 339.2L484.1 343.0L483.5 345.9L482.5 348.5L481.2 350.6L479.5 352.4L477.5 353.8L475.1 354.9L472.4 355.5L468.8 355.7L465.2 355.5L462.5 354.9L460.1 353.8L458.1 352.4L456.4 350.6L455.1 348.5L454.1 345.9L453.5 343.0L453.3 339.2L453.5 335.4L454.1 332.5L455.1 329.9L456.4 327.8L458.1 326.0L460.1 324.6L462.5 323.5L465.2 322.9L468.8 322.7L472.4 322.9L475.1 323.5L477.5 324.6L479.5 326.0L481.2 327.8L482.5 329.9L483.5 332.5L484.1 335.4Z" fill="none" stroke="#e04848" stroke-width="0.45" opacity="0.6"/>
<path d="M483.1 339.2L483.0 342.8L482.4 345.5L481.5 347.8L480.3 349.8L478.7 351.5L476.8 352.8L474.6 353.8L472.1 354.4L468.7 354.5L465.4 354.4L462.8 353.8L460.6 352.8L458.8 351.5L457.2 349.8L455.9 347.8L455.0 345.5L454.5 342.8L454.3 339.2L454.5 335.6L455.0 332.9L455.9 330.6L457.2 328.6L458.8 326.9L460.6 325.6L462.8 324.6L465.4 324.0L468.7 323.9L472.1 324.0L474.6 324.6L476.8 325.6L478.7 326.9L480.3 328.6L481.5 330.6L482.4 332.9L483.0 335.6Z" fill="none" stroke="#e04848" stroke-width="0.45" opacity="0.6"/>
<path d="M482.0 339.2L481.8 342.5L481.3 345.0L480.5 347.2L479.3 349.0L477.9 350.6L476.1 351.8L474.1 352.7L471.8 353.2L468.7 353.4L465.6 353.2L463.2 352.7L461.2 351.8L459.4 350.6L458.0 349.0L456.8 347.2L456.0 345.0L455.5 342.5L455.3 339.2L455.5 335.9L456.0 333.4L456.8 331.2L458.0 329.4L459.4 327.8L461.2 326.6L463.2 325.7L465.6 325.2L468.7 325.0L471.8 325.2L474.1 325.7L476.1 326.6L477.9 327.8L479.3 329.4L480.5 331.2L481.3 333.4L481.8 335.9Z" fill="none" stroke="#e04848" stroke-width="0.45" opacity="0.6"/>
<path d="M480.8 339.2L480.7 342.2L480.2 344.5L479.5 346.5L478.4 348.2L477.1 349.6L475.5 350.8L473.6 351.6L471.4 352.1L468.6 352.2L465.7 352.1L463.6 351.6L461.7 350.8L460.1 349.6L458.8 348.2L457.7 346.5L457.0 344.5L456.5 342.2L456.3 339.2L456.5 336.2L457.0 333.9L457.7 331.9L458.8 330.2L460.1 328.8L461.7 327.6L463.6 326.8L465.7 326.3L468.6 326.2L471.4 326.3L473.6 326.8L475.5 327.6L477.1 328.8L478.4 330.2L479.5 331.9L480.2 333.9L480.7 336.2Z" fill="none" stroke="#e04848" stroke-width="0.45" opacity="0.6"/>
<path d="M479.7 339.2L479.5 342.0L479.1 344.1L478.4 345.9L477.5 347.4L476.2 348.7L474.8 349.7L473.1 350.5L471.1 350.9L468.5 351.1L465.9 350.9L464.0 350.5L462.3 349.7L460.8 348.7L459.6 347.4L458.6 345.9L457.9 344.1L457.5 342.0L457.4 339.2L457.5 336.4L457.9 334.3L458.6 332.5L459.6 331.0L460.8 329.7L462.3 328.7L464.0 327.9L465.9 327.5L468.5 327.3L471.1 327.5L473.1 327.9L474.8 328.7L476.2 329.7L477.5 331.0L478.4 332.5L479.1 334.3L479.5 336.4Z" fill="none" stroke="#e04848" stroke-width="0.45" opacity="0.6"/>
<path d="M478.5 339.2L478.4 341.7L478.0 343.6L477.4 345.2L476.5 346.6L475.4 347.8L474.1 348.7L472.6 349.4L470.8 349.8L468.5 349.9L466.1 349.8L464.3 349.4L462.8 348.7L461.5 347.8L460.4 346.6L459.5 345.2L458.9 343.6L458.5 341.7L458.4 339.2L458.5 336.7L458.9 334.8L459.5 333.2L460.4 331.8L461.5 330.6L462.8 329.7L464.3 329.0L466.1 328.6L468.4 328.5L470.8 328.6L472.6 329.0L474.1 329.7L475.4 330.6L476.5 331.8L477.4 333.2L478.0 334.8L478.4 336.7Z" fill="none" stroke="#e04848" stroke-width="0.45" opacity="0.5"/>
<path d="M477.4 339.2L477.3 341.4L476.9 343.1L476.4 344.6L475.6 345.8L474.6 346.9L473.4 347.7L472.1 348.3L470.5 348.6L468.4 348.8L466.3 348.6L464.7 348.3L463.3 347.7L462.2 346.9L461.2 345.8L460.4 344.6L459.8 343.1L459.5 341.4L459.4 339.2L459.5 337.0L459.8 335.3L460.4 333.8L461.2 332.6L462.2 331.5L463.3 330.7L464.7 330.1L466.3 329.8L468.4 329.6L470.5 329.8L472.1 330.1L473.4 330.7L474.6 331.5L475.6 332.6L476.4 333.8L476.9 335.3L477.3 337.0Z" fill="none" stroke="#e04848" stroke-width="0.45" opacity="0.5"/>
<path d="M476.2 339.2L476.1 341.2L475.8 342.6L475.3 343.9L474.6 345.0L473.8 345.9L472.7 346.7L471.5 347.2L470.1 347.5L468.3 347.6L466.5 347.5L465.1 347.2L463.9 346.7L462.8 345.9L462.0 345.0L461.3 343.9L460.8 342.6L460.5 341.2L460.4 339.2L460.5 337.2L460.8 335.8L461.3 334.5L462.0 333.4L462.8 332.5L463.9 331.7L465.1 331.2L466.5 330.9L468.3 330.8L470.1 330.9L471.5 331.2L472.7 331.7L473.8 332.5L474.6 333.4L475.3 334.5L475.8 335.8L476.1 337.2Z" fill="none" stroke="#e04848" stroke-width="0.45" opacity="0.5"/>
<path d="M475.1 339.2L475.0 340.9L474.7 342.2L474.3 343.3L473.7 344.2L473.0 345.0L472.1 345.6L471.0 346.1L469.8 346.4L468.2 346.5L466.7 346.4L465.5 346.1L464.4 345.6L463.5 345.0L462.8 344.2L462.2 343.3L461.8 342.2L461.5 340.9L461.4 339.2L461.5 337.5L461.8 336.2L462.2 335.1L462.8 334.2L463.5 333.4L464.4 332.8L465.5 332.3L466.7 332.0L468.2 331.9L469.8 332.0L471.0 332.3L472.1 332.8L473.0 333.4L473.7 334.2L474.3 335.1L474.7 336.2L475.0 337.5Z" fill="none" stroke="#e04848" stroke-width="0.45" opacity="0.5"/>
<path d="M473.9 339.2L473.8 340.6L473.6 341.7L473.3 342.6L472.8 343.4L472.1 344.1L471.4 344.6L470.5 345.0L469.5 345.2L468.2 345.3L466.8 345.2L465.8 345.0L465.0 344.6L464.2 344.1L463.6 343.4L463.1 342.6L462.7 341.7L462.5 340.6L462.4 339.2L462.5 337.8L462.7 336.7L463.1 335.8L463.6 335.0L464.2 334.3L465.0 333.8L465.8 333.4L466.8 333.2L468.2 333.1L469.5 333.2L470.5 333.4L471.4 333.8L472.1 334.3L472.8 335.0L473.3 335.8L473.6 336.7L473.8 337.8Z" fill="none" stroke="#e04848" stroke-width="0.45" opacity="0.5"/>
<path d="M472.8 339.2L472.7 340.4L472.5 341.2L472.2 342.0L471.8 342.6L471.3 343.2L470.7 343.6L470.0 343.9L469.2 344.1L468.1 344.2L467.0 344.1L466.2 343.9L465.5 343.6L464.9 343.2L464.4 342.6L464.0 342.0L463.7 341.2L463.5 340.4L463.5 339.2L463.5 338.0L463.7 337.2L464.0 336.4L464.4 335.8L464.9 335.2L465.5 334.8L466.2 334.5L467.0 334.3L468.1 334.3L469.2 334.3L470.0 334.5L470.7 334.8L471.3 335.2L471.8 335.8L472.2 336.4L472.5 337.2L472.7 338.0Z" fill="none" stroke="#e04848" stroke-width="0.45" opacity="0.5"/>
<path d="M471.6 339.2L471.5 340.1L471.4 340.8L471.2 341.3L470.9 341.8L470.5 342.2L470.0 342.6L469.5 342.8L468.9 342.9L468.0 343.0L467.2 342.9L466.6 342.8L466.0 342.6L465.6 342.2L465.2 341.8L464.9 341.3L464.6 340.8L464.5 340.1L464.5 339.2L464.5 338.3L464.6 337.6L464.9 337.1L465.2 336.6L465.6 336.2L466.0 335.8L466.6 335.6L467.2 335.5L468.0 335.4L468.9 335.5L469.5 335.6L470.0 335.8L470.5 336.2L470.9 336.6L471.2 337.1L471.4 337.6L471.5 338.3Z" fill="none" stroke="#e04848" stroke-width="0.45" opacity="0.5"/>
<path d="M481.0 339.4L480.8 342.5L480.4 344.8L479.6 346.8L478.5 348.5L477.2 350.0L475.6 351.1L473.7 351.9L471.5 352.4L468.6 352.6L465.7 352.4L463.5 351.9L461.6 351.1L460.0 350.0L458.7 348.5L457.6 346.8L456.8 344.8L456.4 342.5L456.2 339.4L456.4 336.3L456.8 334.0L457.6 332.0L458.7 330.3L460.0 328.8L461.6 327.7L463.5 326.9L465.7 326.4L468.6 326.2L471.5 326.4L473.7 326.9L475.6 327.7L477.2 328.8L478.5 330.3L479.6 332.0L480.4 334.0L480.8 336.3Z" fill="none" stroke="#fff" stroke-width="1.1" opacity="0.85"/>
<path d="M475.3 339.4L475.2 341.1L474.9 342.4L474.5 343.6L473.9 344.5L473.1 345.3L472.2 346.0L471.2 346.4L469.9 346.7L468.3 346.8L466.7 346.7L465.4 346.4L464.4 346.0L463.5 345.3L462.7 344.5L462.1 343.6L461.7 342.4L461.4 341.1L461.3 339.4L461.4 337.7L461.7 336.4L462.1 335.2L462.7 334.3L463.5 333.5L464.4 332.8L465.4 332.4L466.7 332.1L468.3 332.0L469.9 332.1L471.2 332.4L472.2 332.8L473.1 333.5L473.9 334.3L474.5 335.2L474.9 336.4L475.2 337.7Z" fill="none" stroke="#fff" stroke-width="0.7" opacity="0.7"/>
<ellipse cx="468.3" cy="337.9" rx="2.2" ry="3" fill="#fff" opacity="0.8"/>
<path d="M468.4 349.0h.7v.7h-.7zM467.2 355.1h.7v.7h-.7zM467.6 337.9h.7v.7h-.7zM471.5 342.0h.7v.7h-.7zM455.3 330.5h.7v.7h-.7zM465.9 341.9h.7v.7h-.7zM457.6 332.5h.7v.7h-.7zM461.6 341.9h.7v.7h-.7zM464.2 344.3h.7v.7h-.7zM471.0 330.8h.7v.7h-.7zM465.3 327.8h.7v.7h-.7zM468.7 346.1h.7v.7h-.7zM459.6 323.1h.7v.7h-.7zM472.1 336.3h.7v.7h-.7zM467.6 343.0h.7v.7h-.7zM471.0 347.2h.7v.7h-.7zM464.0 319.3h.7v.7h-.7zM463.7 336.2h.7v.7h-.7zM464.4 342.4h.7v.7h-.7zM465.7 350.5h.7v.7h-.7zM462.5 338.8h.7v.7h-.7zM464.8 357.8h.7v.7h-.7zM459.8 330.0h.7v.7h-.7zM464.6 345.7h.7v.7h-.7zM467.9 337.3h.7v.7h-.7zM455.6 320.4h.7v.7h-.7zM466.0 336.8h.7v.7h-.7zM482.5 342.2h.7v.7h-.7zM471.4 347.6h.7v.7h-.7zM460.3 327.9h.7v.7h-.7zM464.7 352.1h.7v.7h-.7zM476.1 333.7h.7v.7h-.7zM457.4 347.2h.7v.7h-.7zM477.0 329.1h.7v.7h-.7zM481.3 332.0h.7v.7h-.7zM474.1 337.1h.7v.7h-.7zM465.1 333.4h.7v.7h-.7zM473.6 344.4h.7v.7h-.7zM474.6 336.4h.7v.7h-.7zM460.7 358.1h.7v.7h-.7zM482.2 337.2h.7v.7h-.7zM458.2 352.3h.7v.7h-.7zM468.9 339.4h.7v.7h-.7zM475.0 342.0h.7v.7h-.7zM468.7 356.7h.7v.7h-.7zM451.9 344.7h.7v.7h-.7zM459.5 339.6h.7v.7h-.7zM466.4 341.3h.7v.7h-.7zM447.5 345.1h.7v.7h-.7zM487.4 335.2h.7v.7h-.7zM475.4 344.5h.7v.7h-.7zM470.3 334.4h.7v.7h-.7zM473.2 341.3h.7v.7h-.7zM480.0 346.4h.7v.7h-.7zM461.8 312.8h.7v.7h-.7zM480.5 343.3h.7v.7h-.7zM469.3 333.5h.7v.7h-.7zM488.9 350.9h.7v.7h-.7zM468.6 335.6h.7v.7h-.7zM472.7 351.1h.7v.7h-.7zM472.2 347.4h.7v.7h-.7zM470.0 342.1h.7v.7h-.7zM457.1 340.0h.7v.7h-.7zM468.2 338.2h.7v.7h-.7zM465.8 341.7h.7v.7h-.7zM462.9 337.1h.7v.7h-.7zM456.7 359.6h.7v.7h-.7zM460.3 328.1h.7v.7h-.7zM463.3 335.2h.7v.7h-.7zM458.7 317.0h.7v.7h-.7zM481.7 348.1h.7v.7h-.7zM464.6 343.9h.7v.7h-.7zM458.4 324.4h.7v.7h-.7zM470.6 344.1h.7v.7h-.7zM462.0 338.9h.7v.7h-.7zM441.7 337.7h.7v.7h-.7zM476.8 340.4h.7v.7h-.7zM469.3 344.1h.7v.7h-.7zM450.1 327.3h.7v.7h-.7zM457.0 341.1h.7v.7h-.7zM462.5 322.0h.7v.7h-.7zM475.4 337.2h.7v.7h-.7zM476.3 356.9h.7v.7h-.7zM453.7 327.5h.7v.7h-.7zM477.0 351.6h.7v.7h-.7zM471.2 342.1h.7v.7h-.7zM473.7 344.8h.7v.7h-.7zM457.0 345.6h.7v.7h-.7zM476.2 335.3h.7v.7h-.7zM460.0 334.5h.7v.7h-.7zM462.8 343.6h.7v.7h-.7zM474.4 339.1h.7v.7h-.7zM465.2 323.0h.7v.7h-.7zM464.2 330.0h.7v.7h-.7zM463.1 342.0h.7v.7h-.7zM460.3 334.1h.7v.7h-.7zM458.0 336.6h.7v.7h-.7zM465.4 347.9h.7v.7h-.7zM451.1 347.1h.7v.7h-.7zM473.3 334.2h.7v.7h-.7zM461.9 340.7h.7v.7h-.7zM472.2 337.5h.7v.7h-.7zM466.5 339.1h.7v.7h-.7zM458.5 341.3h.7v.7h-.7zM472.7 339.4h.7v.7h-.7zM458.1 338.9h.7v.7h-.7zM466.9 341.7h.7v.7h-.7zM464.2 346.3h.7v.7h-.7zM477.1 346.3h.7v.7h-.7zM469.8 349.8h.7v.7h-.7zM467.4 337.4h.7v.7h-.7zM455.6 339.1h.7v.7h-.7zM478.2 330.4h.7v.7h-.7zM474.4 327.6h.7v.7h-.7zM470.3 355.2h.7v.7h-.7zM468.2 328.5h.7v.7h-.7zM470.2 337.6h.7v.7h-.7zM474.6 334.3h.7v.7h-.7zM453.0 334.7h.7v.7h-.7zM472.8 348.0h.7v.7h-.7zM470.1 339.1h.7v.7h-.7zM473.6 337.2h.7v.7h-.7zM463.9 340.9h.7v.7h-.7zM477.1 334.5h.7v.7h-.7zM472.0 333.2h.7v.7h-.7zM461.5 340.5h.7v.7h-.7zM456.4 331.4h.7v.7h-.7zM457.6 333.6h.7v.7h-.7zM460.0 359.5h.7v.7h-.7zM473.0 339.6h.7v.7h-.7zM456.3 317.9h.7v.7h-.7zM471.5 333.4h.7v.7h-.7zM476.7 335.4h.7v.7h-.7zM456.6 333.3h.7v.7h-.7zM454.7 326.4h.7v.7h-.7zM473.8 334.2h.7v.7h-.7zM473.6 334.0h.7v.7h-.7zM465.8 334.1h.7v.7h-.7zM463.1 333.1h.7v.7h-.7zM480.5 338.4h.7v.7h-.7zM451.1 353.9h.7v.7h-.7zM478.5 348.8h.7v.7h-.7zM466.8 337.6h.7v.7h-.7zM463.7 340.0h.7v.7h-.7zM471.7 338.9h.7v.7h-.7zM460.7 330.4h.7v.7h-.7zM482.0 353.8h.7v.7h-.7zM457.1 333.3h.7v.7h-.7zM467.4 344.1h.7v.7h-.7zM466.8 341.0h.7v.7h-.7zM470.8 348.9h.7v.7h-.7zM456.6 348.6h.7v.7h-.7zM471.5 343.7h.7v.7h-.7zM454.8 336.9h.7v.7h-.7zM465.5 344.5h.7v.7h-.7zM473.6 345.0h.7v.7h-.7zM456.7 350.0h.7v.7h-.7zM468.3 347.1h.7v.7h-.7zM467.6 332.8h.7v.7h-.7zM490.2 344.7h.7v.7h-.7zM474.2 334.9h.7v.7h-.7zM465.8 348.7h.7v.7h-.7zM471.5 354.2h.7v.7h-.7zM478.0 329.5h.7v.7h-.7zM454.5 349.1h.7v.7h-.7zM472.8 336.7h.7v.7h-.7zM465.2 334.1h.7v.7h-.7zM483.1 337.5h.7v.7h-.7zM455.9 346.9h.7v.7h-.7zM467.0 342.0h.7v.7h-.7zM464.4 338.6h.7v.7h-.7zM451.6 343.6h.7v.7h-.7zM461.8 335.6h.7v.7h-.7zM470.4 350.1h.7v.7h-.7zM449.2 337.8h.7v.7h-.7zM472.4 347.8h.7v.7h-.7zM459.9 341.7h.7v.7h-.7zM471.1 347.0h.7v.7h-.7zM462.4 337.3h.7v.7h-.7zM463.3 348.8h.7v.7h-.7zM477.0 335.1h.7v.7h-.7zM466.5 340.9h.7v.7h-.7zM460.0 338.0h.7v.7h-.7zM475.1 345.7h.7v.7h-.7zM461.8 333.3h.7v.7h-.7zM466.7 326.2h.7v.7h-.7zM470.3 340.0h.7v.7h-.7zM456.2 336.9h.7v.7h-.7zM462.0 336.6h.7v.7h-.7zM460.2 350.8h.7v.7h-.7zM459.4 345.6h.7v.7h-.7zM469.4 351.5h.7v.7h-.7zM467.2 339.0h.7v.7h-.7zM468.2 322.7h.7v.7h-.7zM488.3 337.1h.7v.7h-.7zM464.9 329.3h.7v.7h-.7zM466.5 352.9h.7v.7h-.7zM461.2 342.8h.7v.7h-.7zM476.5 347.1h.7v.7h-.7zM464.2 324.0h.7v.7h-.7zM471.1 343.9h.7v.7h-.7zM464.9 335.3h.7v.7h-.7zM482.7 325.4h.7v.7h-.7zM463.2 333.8h.7v.7h-.7zM454.2 333.0h.7v.7h-.7zM460.8 349.7h.7v.7h-.7zM452.7 327.2h.7v.7h-.7zM469.9 325.7h.7v.7h-.7zM450.5 333.6h.7v.7h-.7zM457.3 330.6h.7v.7h-.7zM466.3 342.9h.7v.7h-.7zM462.1 336.6h.7v.7h-.7zM473.8 337.7h.7v.7h-.7zM473.9 334.0h.7v.7h-.7zM471.8 349.9h.7v.7h-.7zM455.8 364.7h.7v.7h-.7zM464.9 336.1h.7v.7h-.7zM466.3 343.0h.7v.7h-.7zM457.3 339.3h.7v.7h-.7zM462.6 351.2h.7v.7h-.7zM452.8 344.6h.7v.7h-.7zM464.9 332.6h.7v.7h-.7zM468.8 337.0h.7v.7h-.7zM468.0 341.0h.7v.7h-.7zM478.0 335.6h.7v.7h-.7zM482.0 315.9h.7v.7h-.7zM483.3 349.4h.7v.7h-.7zM481.1 340.7h.7v.7h-.7zM470.1 330.4h.7v.7h-.7zM479.1 329.1h.7v.7h-.7zM460.8 339.0h.7v.7h-.7zM469.6 341.9h.7v.7h-.7zM457.7 336.1h.7v.7h-.7zM471.8 349.1h.7v.7h-.7zM474.2 342.6h.7v.7h-.7zM465.4 334.4h.7v.7h-.7zM463.2 338.2h.7v.7h-.7zM472.2 334.7h.7v.7h-.7zM485.3 330.5h.7v.7h-.7zM474.6 337.3h.7v.7h-.7zM466.4 335.8h.7v.7h-.7zM480.8 336.5h.7v.7h-.7zM472.4 340.0h.7v.7h-.7zM474.1 344.0h.7v.7h-.7zM481.8 332.8h.7v.7h-.7zM460.6 353.5h.7v.7h-.7zM478.6 339.6h.7v.7h-.7zM465.2 341.2h.7v.7h-.7zM478.8 332.5h.7v.7h-.7zM480.1 338.5h.7v.7h-.7zM464.5 335.7h.7v.7h-.7zM449.7 341.8h.7v.7h-.7zM456.4 334.3h.7v.7h-.7zM460.0 341.0h.7v.7h-.7zM473.8 339.4h.7v.7h-.7zM469.3 342.5h.7v.7h-.7zM481.4 343.9h.7v.7h-.7zM481.1 338.5h.7v.7h-.7zM470.7 333.5h.7v.7h-.7zM472.7 331.8h.7v.7h-.7zM471.7 333.7h.7v.7h-.7zM464.6 349.4h.7v.7h-.7zM468.9 345.8h.7v.7h-.7zM465.6 323.2h.7v.7h-.7zM480.3 337.5h.7v.7h-.7zM462.1 347.1h.7v.7h-.7zM457.9 332.7h.7v.7h-.7zM477.5 333.1h.7v.7h-.7zM477.3 336.4h.7v.7h-.7zM465.8 339.6h.7v.7h-.7zM463.4 348.1h.7v.7h-.7zM477.0 339.6h.7v.7h-.7zM472.9 343.6h.7v.7h-.7zM482.1 325.6h.7v.7h-.7zM476.4 346.8h.7v.7h-.7zM465.0 339.2h.7v.7h-.7zM464.7 349.5h.7v.7h-.7zM457.8 344.2h.7v.7h-.7zM478.6 343.9h.7v.7h-.7zM463.5 335.1h.7v.7h-.7zM449.5 330.3h.7v.7h-.7zM477.0 331.0h.7v.7h-.7zM453.6 337.0h.7v.7h-.7zM454.9 342.9h.7v.7h-.7zM460.2 347.1h.7v.7h-.7zM466.6 327.0h.7v.7h-.7zM461.0 333.6h.7v.7h-.7zM460.4 349.5h.7v.7h-.7zM459.1 342.1h.7v.7h-.7zM462.6 344.0h.7v.7h-.7zM455.4 325.8h.7v.7h-.7zM472.0 351.2h.7v.7h-.7zM455.8 336.4h.7v.7h-.7zM463.3 331.1h.7v.7h-.7zM476.0 339.5h.7v.7h-.7zM455.8 337.2h.7v.7h-.7zM479.1 333.0h.7v.7h-.7zM463.2 332.0h.7v.7h-.7zM469.0 334.3h.7v.7h-.7zM475.3 332.0h.7v.7h-.7zM455.2 342.9h.7v.7h-.7zM440.4 331.0h.7v.7h-.7zM470.1 341.1h.7v.7h-.7zM462.7 335.3h.7v.7h-.7zM460.8 337.5h.7v.7h-.7zM463.7 343.7h.7v.7h-.7zM467.7 343.7h.7v.7h-.7zM481.7 336.7h.7v.7h-.7zM465.2 342.2h.7v.7h-.7zM485.7 336.0h.7v.7h-.7zM482.1 349.1h.7v.7h-.7zM444.2 330.6h.7v.7h-.7zM459.2 342.4h.7v.7h-.7zM479.1 339.5h.7v.7h-.7zM469.1 357.4h.7v.7h-.7zM470.7 357.3h.7v.7h-.7zM460.0 353.0h.7v.7h-.7zM463.3 318.5h.7v.7h-.7zM460.6 335.0h.7v.7h-.7zM467.3 345.5h.7v.7h-.7zM473.6 343.5h.7v.7h-.7zM461.3 354.2h.7v.7h-.7zM477.9 339.4h.7v.7h-.7zM462.8 338.6h.7v.7h-.7zM465.8 333.1h.7v.7h-.7zM467.6 333.4h.7v.7h-.7zM473.2 333.5h.7v.7h-.7zM471.9 341.8h.7v.7h-.7zM469.1 343.5h.7v.7h-.7zM458.9 360.9h.7v.7h-.7zM461.7 345.3h.7v.7h-.7zM467.9 335.4h.7v.7h-.7zM482.6 348.4h.7v.7h-.7zM465.3 343.8h.7v.7h-.7zM473.5 352.5h.7v.7h-.7zM476.4 337.6h.7v.7h-.7zM465.5 329.2h.7v.7h-.7zM469.9 346.4h.7v.7h-.7zM464.3 344.7h.7v.7h-.7zM468.8 335.1h.7v.7h-.7zM457.2 348.5h.7v.7h-.7zM489.5 343.7h.7v.7h-.7zM458.4 330.3h.7v.7h-.7zM469.9 344.6h.7v.7h-.7zM480.7 318.5h.7v.7h-.7zM483.6 340.5h.7v.7h-.7zM468.9 342.3h.7v.7h-.7zM464.6 336.6h.7v.7h-.7zM476.8 324.3h.7v.7h-.7zM466.7 343.8h.7v.7h-.7zM453.5 337.7h.7v.7h-.7zM480.9 342.2h.7v.7h-.7zM473.8 345.0h.7v.7h-.7zM469.6 342.1h.7v.7h-.7zM460.7 337.3h.7v.7h-.7zM483.6 328.6h.7v.7h-.7zM466.3 328.2h.7v.7h-.7zM463.1 332.5h.7v.7h-.7zM457.2 341.1h.7v.7h-.7zM459.6 343.5h.7v.7h-.7zM483.2 317.2h.7v.7h-.7zM466.3 321.2h.7v.7h-.7zM466.7 342.2h.7v.7h-.7zM469.5 349.3h.7v.7h-.7zM469.1 324.3h.7v.7h-.7zM480.7 330.9h.7v.7h-.7zM466.9 341.8h.7v.7h-.7zM460.2 339.8h.7v.7h-.7zM480.6 324.6h.7v.7h-.7zM453.4 335.2h.7v.7h-.7zM466.3 328.1h.7v.7h-.7zM447.9 346.8h.7v.7h-.7zM471.1 327.7h.7v.7h-.7zM472.7 338.5h.7v.7h-.7zM469.1 327.6h.7v.7h-.7zM465.9 343.1h.7v.7h-.7zM452.7 330.0h.7v.7h-.7zM476.1 356.1h.7v.7h-.7zM473.4 338.4h.7v.7h-.7zM458.4 335.5h.7v.7h-.7zM465.6 342.8h.7v.7h-.7zM465.6 360.2h.7v.7h-.7zM479.1 320.2h.7v.7h-.7zM457.7 339.0h.7v.7h-.7zM476.2 342.5h.7v.7h-.7zM444.1 324.9h.7v.7h-.7zM479.4 344.1h.7v.7h-.7zM489.8 345.9h.7v.7h-.7zM471.7 352.1h.7v.7h-.7zM463.9 334.3h.7v.7h-.7zM459.0 341.1h.7v.7h-.7zM471.5 347.1h.7v.7h-.7zM480.2 344.4h.7v.7h-.7zM478.4 336.9h.7v.7h-.7zM459.5 345.3h.7v.7h-.7zM476.5 350.5h.7v.7h-.7zM466.3 335.0h.7v.7h-.7zM464.6 342.1h.7v.7h-.7zM467.3 337.4h.7v.7h-.7zM470.0 336.5h.7v.7h-.7zM470.7 333.9h.7v.7h-.7zM454.5 336.3h.7v.7h-.7zM484.1 332.0h.7v.7h-.7zM475.7 350.6h.7v.7h-.7zM463.1 341.2h.7v.7h-.7zM448.1 343.9h.7v.7h-.7zM481.0 340.6h.7v.7h-.7zM450.6 334.0h.7v.7h-.7zM461.4 340.0h.7v.7h-.7zM470.2 335.4h.7v.7h-.7zM465.1 331.9h.7v.7h-.7zM472.7 340.7h.7v.7h-.7zM470.8 334.6h.7v.7h-.7zM472.0 336.4h.7v.7h-.7zM470.3 337.6h.7v.7h-.7zM462.1 329.5h.7v.7h-.7zM451.7 327.2h.7v.7h-.7zM516.0 331.9h.7v.7h-.7zM484.4 328.9h.7v.7h-.7zM489.0 357.0h.7v.7h-.7zM541.5 328.9h.7v.7h-.7zM507.1 328.9h.7v.7h-.7zM482.1 333.5h.7v.7h-.7zM496.6 326.4h.7v.7h-.7zM486.6 340.9h.7v.7h-.7zM492.2 342.7h.7v.7h-.7zM483.2 323.6h.7v.7h-.7zM487.0 330.8h.7v.7h-.7zM491.5 336.9h.7v.7h-.7zM483.1 348.5h.7v.7h-.7zM482.2 353.6h.7v.7h-.7zM498.2 326.1h.7v.7h-.7zM492.7 349.5h.7v.7h-.7zM490.8 349.3h.7v.7h-.7zM492.2 337.9h.7v.7h-.7zM502.4 325.3h.7v.7h-.7zM481.5 335.0h.7v.7h-.7zM483.5 353.8h.7v.7h-.7zM490.6 327.2h.7v.7h-.7zM501.0 335.0h.7v.7h-.7zM483.4 349.0h.7v.7h-.7zM486.6 347.3h.7v.7h-.7zM483.7 331.1h.7v.7h-.7zM486.6 327.2h.7v.7h-.7zM505.9 340.4h.7v.7h-.7zM501.1 329.3h.7v.7h-.7zM498.5 328.6h.7v.7h-.7zM486.0 338.8h.7v.7h-.7zM492.8 341.6h.7v.7h-.7zM480.6 331.4h.7v.7h-.7zM496.2 327.6h.7v.7h-.7zM510.0 340.2h.7v.7h-.7zM487.8 344.9h.7v.7h-.7zM498.8 328.8h.7v.7h-.7zM487.6 352.7h.7v.7h-.7zM486.4 340.3h.7v.7h-.7zM518.2 325.5h.7v.7h-.7zM547.2 329.3h.7v.7h-.7zM481.4 327.2h.7v.7h-.7zM506.6 336.8h.7v.7h-.7zM533.6 330.7h.7v.7h-.7zM493.4 341.3h.7v.7h-.7zM502.2 336.7h.7v.7h-.7zM497.8 319.9h.7v.7h-.7zM486.4 336.4h.7v.7h-.7zM491.1 337.9h.7v.7h-.7zM519.4 335.1h.7v.7h-.7zM491.3 330.0h.7v.7h-.7zM507.6 356.3h.7v.7h-.7zM497.4 331.4h.7v.7h-.7zM511.1 343.3h.7v.7h-.7zM497.8 344.2h.7v.7h-.7zM492.5 343.9h.7v.7h-.7zM500.1 349.0h.7v.7h-.7zM503.0 337.8h.7v.7h-.7zM479.9 328.3h.7v.7h-.7zM488.9 344.9h.7v.7h-.7zM510.2 334.1h.7v.7h-.7zM504.1 327.8h.7v.7h-.7zM503.3 350.9h.7v.7h-.7zM494.4 335.5h.7v.7h-.7zM501.6 347.8h.7v.7h-.7zM510.8 320.8h.7v.7h-.7zM496.4 323.6h.7v.7h-.7zM493.7 335.3h.7v.7h-.7zM492.4 356.0h.7v.7h-.7zM483.5 349.1h.7v.7h-.7zM483.8 338.4h.7v.7h-.7zM491.0 342.8h.7v.7h-.7zM490.8 323.8h.7v.7h-.7zM491.0 341.7h.7v.7h-.7zM493.0 338.4h.7v.7h-.7zM488.8 327.5h.7v.7h-.7zM504.7 328.3h.7v.7h-.7zM510.7 347.7h.7v.7h-.7zM481.2 336.3h.7v.7h-.7zM496.9 336.2h.7v.7h-.7zM506.0 341.3h.7v.7h-.7zM506.7 334.9h.7v.7h-.7zM519.3 346.0h.7v.7h-.7zM489.7 338.3h.7v.7h-.7zM494.1 338.8h.7v.7h-.7zM511.7 344.9h.7v.7h-.7zM480.1 333.6h.7v.7h-.7zM493.4 361.9h.7v.7h-.7zM489.6 334.7h.7v.7h-.7zM492.6 334.6h.7v.7h-.7zM508.6 344.8h.7v.7h-.7zM489.0 342.1h.7v.7h-.7zM504.8 317.8h.7v.7h-.7zM513.0 345.2h.7v.7h-.7zM484.6 341.3h.7v.7h-.7zM484.2 339.1h.7v.7h-.7zM485.6 319.4h.7v.7h-.7zM492.3 339.3h.7v.7h-.7zM501.3 341.6h.7v.7h-.7zM486.1 344.2h.7v.7h-.7zM483.9 335.0h.7v.7h-.7zM488.1 335.2h.7v.7h-.7zM486.4 335.0h.7v.7h-.7zM501.4 364.4h.7v.7h-.7zM482.3 348.7h.7v.7h-.7zM523.2 310.6h.7v.7h-.7zM490.2 337.5h.7v.7h-.7zM496.1 327.0h.7v.7h-.7zM498.5 334.4h.7v.7h-.7zM483.2 336.0h.7v.7h-.7zM506.2 335.7h.7v.7h-.7zM513.1 331.2h.7v.7h-.7zM481.2 347.7h.7v.7h-.7zM497.5 333.9h.7v.7h-.7zM543.5 349.7h.7v.7h-.7zM491.4 340.3h.7v.7h-.7zM482.0 340.2h.7v.7h-.7zM490.0 336.3h.7v.7h-.7zM528.6 330.5h.7v.7h-.7zM483.1 326.9h.7v.7h-.7zM486.9 352.1h.7v.7h-.7zM485.0 333.2h.7v.7h-.7zM482.8 348.1h.7v.7h-.7zM517.5 328.0h.7v.7h-.7zM494.4 335.1h.7v.7h-.7zM481.7 333.8h.7v.7h-.7zM482.2 339.7h.7v.7h-.7zM505.4 333.4h.7v.7h-.7zM507.1 341.4h.7v.7h-.7zM485.6 344.6h.7v.7h-.7zM499.1 334.2h.7v.7h-.7zM528.6 339.0h.7v.7h-.7zM515.4 341.9h.7v.7h-.7zM503.5 342.8h.7v.7h-.7zM493.6 340.9h.7v.7h-.7zM488.0 347.1h.7v.7h-.7zM507.6 356.6h.7v.7h-.7zM485.7 346.2h.7v.7h-.7zM498.8 342.6h.7v.7h-.7zM485.7 327.8h.7v.7h-.7zM503.7 331.2h.7v.7h-.7zM494.1 331.4h.7v.7h-.7zM492.1 330.4h.7v.7h-.7zM489.8 343.8h.7v.7h-.7zM482.0 335.9h.7v.7h-.7zM492.9 350.4h.7v.7h-.7zM490.0 329.7h.7v.7h-.7zM493.0 331.2h.7v.7h-.7zM485.0 337.5h.7v.7h-.7z" fill="#e04848" opacity="0.78"/>
<rect x="485.50" y="321.00" width="90.80" height="39.20" fill="none" stroke="#222" stroke-width="0.9"/>
<text x="439.90" y="310.40" font-size="14" fill="#111">3.09</text>
<line x1="435.70" y1="297.30" x2="435.70" y2="366.90" stroke="#777" stroke-width="0.8"/>
<line x1="432.70" y1="297.60" x2="435.70" y2="297.60" stroke="#222" stroke-width="1.2"/>
<text x="419.70" y="305.90" font-size="5.4" fill="#777">10</text>
<text x="426.10" y="302.50" font-size="4.4" fill="#777">5</text>
<line x1="432.70" y1="331.80" x2="435.70" y2="331.80" stroke="#222" stroke-width="1.2"/>
<text x="419.70" y="335.40" font-size="5.4" fill="#777">10</text>
<text x="426.10" y="332.00" font-size="4.4" fill="#777">4</text>
<line x1="432.70" y1="366.60" x2="435.70" y2="366.60" stroke="#222" stroke-width="1.2"/>
<text x="419.70" y="366.30" font-size="5.4" fill="#777">10</text>
<text x="426.10" y="362.90" font-size="4.4" fill="#777">3</text>
<line x1="433.90" y1="321.47" x2="435.70" y2="321.47" stroke="#555" stroke-width="0.6"/>
<line x1="433.90" y1="315.43" x2="435.70" y2="315.43" stroke="#555" stroke-width="0.6"/>
<line x1="433.90" y1="311.15" x2="435.70" y2="311.15" stroke="#555" stroke-width="0.6"/>
<line x1="433.90" y1="307.83" x2="435.70" y2="307.83" stroke="#555" stroke-width="0.6"/>
<line x1="433.90" y1="305.11" x2="435.70" y2="305.11" stroke="#555" stroke-width="0.6"/>
<line x1="433.90" y1="302.81" x2="435.70" y2="302.81" stroke="#555" stroke-width="0.6"/>
<line x1="433.90" y1="300.82" x2="435.70" y2="300.82" stroke="#555" stroke-width="0.6"/>
<line x1="433.90" y1="299.07" x2="435.70" y2="299.07" stroke="#555" stroke-width="0.6"/>
<line x1="433.90" y1="356.57" x2="435.70" y2="356.57" stroke="#555" stroke-width="0.6"/>
<line x1="433.90" y1="350.53" x2="435.70" y2="350.53" stroke="#555" stroke-width="0.6"/>
<line x1="433.90" y1="346.25" x2="435.70" y2="346.25" stroke="#555" stroke-width="0.6"/>
<line x1="433.90" y1="342.93" x2="435.70" y2="342.93" stroke="#555" stroke-width="0.6"/>
<line x1="433.90" y1="340.21" x2="435.70" y2="340.21" stroke="#555" stroke-width="0.6"/>
<line x1="433.90" y1="337.91" x2="435.70" y2="337.91" stroke="#555" stroke-width="0.6"/>
<line x1="433.90" y1="335.92" x2="435.70" y2="335.92" stroke="#555" stroke-width="0.6"/>
<line x1="433.90" y1="334.17" x2="435.70" y2="334.17" stroke="#555" stroke-width="0.6"/>
<rect x="435.70" y="366.90" width="140.60" height="69.50" fill="none" stroke="#c4c4c4" stroke-width="0.8"/>
<ellipse cx="467.8" cy="408.5" rx="19.0" ry="19.5" fill="url(#g15)"/>
<ellipse cx="467.8" cy="408.5" rx="9.3" ry="9.9" fill="#cbaaf5" opacity="0.35"/>
<path d="M484.3 408.8L484.1 412.6L483.5 415.5L482.5 418.1L481.2 420.2L479.5 422.0L477.5 423.4L475.1 424.5L472.4 425.1L468.8 425.3L465.2 425.1L462.5 424.5L460.1 423.4L458.1 422.0L456.4 420.2L455.1 418.1L454.1 415.5L453.5 412.6L453.3 408.8L453.5 405.0L454.1 402.1L455.1 399.5L456.4 397.4L458.1 395.6L460.1 394.2L462.5 393.1L465.2 392.5L468.8 392.3L472.4 392.5L475.1 393.1L477.5 394.2L479.5 395.6L481.2 397.4L482.5 399.5L483.5 402.1L484.1 405.0Z" fill="none" stroke="#9650ea" stroke-width="0.45" opacity="0.6"/>
<path d="M483.1 408.8L483.0 412.4L482.4 415.1L481.5 417.4L480.3 419.4L478.7 421.1L476.8 422.4L474.6 423.4L472.1 424.0L468.7 424.1L465.4 424.0L462.8 423.4L460.6 422.4L458.8 421.1L457.2 419.4L455.9 417.4L455.0 415.1L454.5 412.4L454.3 408.8L454.5 405.2L455.0 402.5L455.9 400.2L457.2 398.2L458.8 396.5L460.6 395.2L462.8 394.2L465.4 393.6L468.7 393.5L472.1 393.6L474.6 394.2L476.8 395.2L478.7 396.5L480.3 398.2L481.5 400.2L482.4 402.5L483.0 405.2Z" fill="none" stroke="#9650ea" stroke-width="0.45" opacity="0.6"/>
<path d="M482.0 408.8L481.8 412.1L481.3 414.6L480.5 416.8L479.3 418.6L477.9 420.2L476.1 421.4L474.1 422.3L471.8 422.8L468.7 423.0L465.6 422.8L463.2 422.3L461.2 421.4L459.4 420.2L458.0 418.6L456.8 416.8L456.0 414.6L455.5 412.1L455.3 408.8L455.5 405.5L456.0 403.0L456.8 400.8L458.0 399.0L459.4 397.4L461.2 396.2L463.2 395.3L465.6 394.8L468.7 394.6L471.8 394.8L474.1 395.3L476.1 396.2L477.9 397.4L479.3 399.0L480.5 400.8L481.3 403.0L481.8 405.5Z" fill="none" stroke="#9650ea" stroke-width="0.45" opacity="0.6"/>
<path d="M480.8 408.8L480.7 411.8L480.2 414.1L479.5 416.1L478.4 417.8L477.1 419.2L475.5 420.4L473.6 421.2L471.4 421.7L468.6 421.8L465.7 421.7L463.6 421.2L461.7 420.4L460.1 419.2L458.8 417.8L457.7 416.1L457.0 414.1L456.5 411.8L456.3 408.8L456.5 405.8L457.0 403.5L457.7 401.5L458.8 399.8L460.1 398.4L461.7 397.2L463.6 396.4L465.7 395.9L468.6 395.8L471.4 395.9L473.6 396.4L475.5 397.2L477.1 398.4L478.4 399.8L479.5 401.5L480.2 403.5L480.7 405.8Z" fill="none" stroke="#9650ea" stroke-width="0.45" opacity="0.6"/>
<path d="M479.7 408.8L479.5 411.6L479.1 413.7L478.4 415.5L477.5 417.0L476.2 418.3L474.8 419.3L473.1 420.1L471.1 420.5L468.5 420.7L465.9 420.5L464.0 420.1L462.3 419.3L460.8 418.3L459.6 417.0L458.6 415.5L457.9 413.7L457.5 411.6L457.4 408.8L457.5 406.0L457.9 403.9L458.6 402.1L459.6 400.6L460.8 399.3L462.3 398.3L464.0 397.5L465.9 397.1L468.5 396.9L471.1 397.1L473.1 397.5L474.8 398.3L476.2 399.3L477.5 400.6L478.4 402.1L479.1 403.9L479.5 406.0Z" fill="none" stroke="#9650ea" stroke-width="0.45" opacity="0.6"/>
<path d="M478.5 408.8L478.4 411.3L478.0 413.2L477.4 414.8L476.5 416.2L475.4 417.4L474.1 418.3L472.6 419.0L470.8 419.4L468.5 419.5L466.1 419.4L464.3 419.0L462.8 418.3L461.5 417.4L460.4 416.2L459.5 414.8L458.9 413.2L458.5 411.3L458.4 408.8L458.5 406.3L458.9 404.4L459.5 402.8L460.4 401.4L461.5 400.2L462.8 399.3L464.3 398.6L466.1 398.2L468.4 398.1L470.8 398.2L472.6 398.6L474.1 399.3L475.4 400.2L476.5 401.4L477.4 402.8L478.0 404.4L478.4 406.3Z" fill="none" stroke="#9650ea" stroke-width="0.45" opacity="0.5"/>
<path d="M477.4 408.8L477.3 411.0L476.9 412.7L476.4 414.2L475.6 415.4L474.6 416.5L473.4 417.3L472.1 417.9L470.5 418.2L468.4 418.4L466.3 418.2L464.7 417.9L463.3 417.3L462.2 416.5L461.2 415.4L460.4 414.2L459.8 412.7L459.5 411.0L459.4 408.8L459.5 406.6L459.8 404.9L460.4 403.4L461.2 402.2L462.2 401.1L463.3 400.3L464.7 399.7L466.3 399.4L468.4 399.2L470.5 399.4L472.1 399.7L473.4 400.3L474.6 401.1L475.6 402.2L476.4 403.4L476.9 404.9L477.3 406.6Z" fill="none" stroke="#9650ea" stroke-width="0.45" opacity="0.5"/>
<path d="M476.2 408.8L476.1 410.8L475.8 412.2L475.3 413.5L474.6 414.6L473.8 415.5L472.7 416.3L471.5 416.8L470.1 417.1L468.3 417.2L466.5 417.1L465.1 416.8L463.9 416.3L462.8 415.5L462.0 414.6L461.3 413.5L460.8 412.2L460.5 410.8L460.4 408.8L460.5 406.8L460.8 405.4L461.3 404.1L462.0 403.0L462.8 402.1L463.9 401.3L465.1 400.8L466.5 400.5L468.3 400.4L470.1 400.5L471.5 400.8L472.7 401.3L473.8 402.1L474.6 403.0L475.3 404.1L475.8 405.4L476.1 406.8Z" fill="none" stroke="#9650ea" stroke-width="0.45" opacity="0.5"/>
<path d="M475.1 408.8L475.0 410.5L474.7 411.8L474.3 412.9L473.7 413.8L473.0 414.6L472.1 415.2L471.0 415.7L469.8 416.0L468.2 416.1L466.7 416.0L465.5 415.7L464.4 415.2L463.5 414.6L462.8 413.8L462.2 412.9L461.8 411.8L461.5 410.5L461.4 408.8L461.5 407.1L461.8 405.8L462.2 404.7L462.8 403.8L463.5 403.0L464.4 402.4L465.5 401.9L466.7 401.6L468.2 401.5L469.8 401.6L471.0 401.9L472.1 402.4L473.0 403.0L473.7 403.8L474.3 404.7L474.7 405.8L475.0 407.1Z" fill="none" stroke="#9650ea" stroke-width="0.45" opacity="0.5"/>
<path d="M473.9 408.8L473.8 410.2L473.6 411.3L473.3 412.2L472.8 413.0L472.1 413.7L471.4 414.2L470.5 414.6L469.5 414.8L468.2 414.9L466.8 414.8L465.8 414.6L465.0 414.2L464.2 413.7L463.6 413.0L463.1 412.2L462.7 411.3L462.5 410.2L462.4 408.8L462.5 407.4L462.7 406.3L463.1 405.4L463.6 404.6L464.2 403.9L465.0 403.4L465.8 403.0L466.8 402.8L468.2 402.7L469.5 402.8L470.5 403.0L471.4 403.4L472.1 403.9L472.8 404.6L473.3 405.4L473.6 406.3L473.8 407.4Z" fill="none" stroke="#9650ea" stroke-width="0.45" opacity="0.5"/>
<path d="M472.8 408.8L472.7 410.0L472.5 410.8L472.2 411.6L471.8 412.2L471.3 412.8L470.7 413.2L470.0 413.5L469.2 413.7L468.1 413.8L467.0 413.7L466.2 413.5L465.5 413.2L464.9 412.8L464.4 412.2L464.0 411.6L463.7 410.8L463.5 410.0L463.5 408.8L463.5 407.6L463.7 406.8L464.0 406.0L464.4 405.4L464.9 404.8L465.5 404.4L466.2 404.1L467.0 403.9L468.1 403.9L469.2 403.9L470.0 404.1L470.7 404.4L471.3 404.8L471.8 405.4L472.2 406.0L472.5 406.8L472.7 407.6Z" fill="none" stroke="#9650ea" stroke-width="0.45" opacity="0.5"/>
<path d="M471.6 408.8L471.5 409.7L471.4 410.4L471.2 410.9L470.9 411.4L470.5 411.8L470.0 412.2L469.5 412.4L468.9 412.5L468.0 412.6L467.2 412.5L466.6 412.4L466.0 412.2L465.6 411.8L465.2 411.4L464.9 410.9L464.6 410.4L464.5 409.7L464.5 408.8L464.5 407.9L464.6 407.2L464.9 406.7L465.2 406.2L465.6 405.8L466.0 405.4L466.6 405.2L467.2 405.1L468.0 405.0L468.9 405.1L469.5 405.2L470.0 405.4L470.5 405.8L470.9 406.2L471.2 406.7L471.4 407.2L471.5 407.9Z" fill="none" stroke="#9650ea" stroke-width="0.45" opacity="0.5"/>
<path d="M481.0 409.0L480.8 412.1L480.4 414.4L479.6 416.4L478.5 418.1L477.2 419.6L475.6 420.7L473.7 421.5L471.5 422.0L468.6 422.2L465.7 422.0L463.5 421.5L461.6 420.7L460.0 419.6L458.7 418.1L457.6 416.4L456.8 414.4L456.4 412.1L456.2 409.0L456.4 405.9L456.8 403.6L457.6 401.6L458.7 399.9L460.0 398.4L461.6 397.3L463.5 396.5L465.7 396.0L468.6 395.8L471.5 396.0L473.7 396.5L475.6 397.3L477.2 398.4L478.5 399.9L479.6 401.6L480.4 403.6L480.8 405.9Z" fill="none" stroke="#fff" stroke-width="1.1" opacity="0.85"/>
<path d="M475.3 409.0L475.2 410.7L474.9 412.0L474.5 413.2L473.9 414.1L473.1 414.9L472.2 415.6L471.2 416.0L469.9 416.3L468.3 416.4L466.7 416.3L465.4 416.0L464.4 415.6L463.5 414.9L462.7 414.1L462.1 413.2L461.7 412.0L461.4 410.7L461.3 409.0L461.4 407.3L461.7 406.0L462.1 404.8L462.7 403.9L463.5 403.1L464.4 402.4L465.4 402.0L466.7 401.7L468.3 401.6L469.9 401.7L471.2 402.0L472.2 402.4L473.1 403.1L473.9 403.9L474.5 404.8L474.9 406.0L475.2 407.3Z" fill="none" stroke="#fff" stroke-width="0.7" opacity="0.7"/>
<ellipse cx="468.3" cy="407.5" rx="2.2" ry="3" fill="#fff" opacity="0.8"/>
<path d="M448.0 421.3h.7v.7h-.7zM460.8 404.8h.7v.7h-.7zM451.0 391.3h.7v.7h-.7zM459.1 410.5h.7v.7h-.7zM475.1 392.7h.7v.7h-.7zM469.7 421.7h.7v.7h-.7zM465.4 416.5h.7v.7h-.7zM470.5 400.4h.7v.7h-.7zM476.3 403.2h.7v.7h-.7zM470.8 405.0h.7v.7h-.7zM465.9 409.8h.7v.7h-.7zM479.1 393.8h.7v.7h-.7zM458.2 409.4h.7v.7h-.7zM476.2 406.9h.7v.7h-.7zM466.2 413.1h.7v.7h-.7zM481.3 400.6h.7v.7h-.7zM454.1 406.0h.7v.7h-.7zM474.4 397.0h.7v.7h-.7zM477.5 416.7h.7v.7h-.7zM474.6 401.1h.7v.7h-.7zM456.7 414.2h.7v.7h-.7zM470.0 414.5h.7v.7h-.7zM456.2 382.7h.7v.7h-.7zM477.4 417.2h.7v.7h-.7zM465.4 408.4h.7v.7h-.7zM471.7 415.0h.7v.7h-.7zM466.2 404.0h.7v.7h-.7zM459.4 417.4h.7v.7h-.7zM468.6 378.8h.7v.7h-.7zM470.7 403.5h.7v.7h-.7zM456.9 404.0h.7v.7h-.7zM456.8 404.6h.7v.7h-.7zM463.1 413.0h.7v.7h-.7zM459.1 392.6h.7v.7h-.7zM462.6 396.5h.7v.7h-.7zM474.1 406.7h.7v.7h-.7zM453.4 400.9h.7v.7h-.7zM467.6 408.1h.7v.7h-.7zM452.0 407.4h.7v.7h-.7zM470.3 417.1h.7v.7h-.7zM477.2 407.4h.7v.7h-.7zM456.6 405.2h.7v.7h-.7zM473.4 400.5h.7v.7h-.7zM478.6 400.1h.7v.7h-.7zM458.1 415.7h.7v.7h-.7zM466.9 411.3h.7v.7h-.7zM465.2 408.8h.7v.7h-.7zM462.8 425.0h.7v.7h-.7zM473.4 407.4h.7v.7h-.7zM471.8 415.8h.7v.7h-.7zM463.3 410.0h.7v.7h-.7zM469.6 403.6h.7v.7h-.7zM461.2 406.7h.7v.7h-.7zM465.2 404.9h.7v.7h-.7zM451.1 409.2h.7v.7h-.7zM473.4 409.1h.7v.7h-.7zM482.5 416.0h.7v.7h-.7zM464.7 402.6h.7v.7h-.7zM472.1 405.2h.7v.7h-.7zM453.9 409.5h.7v.7h-.7zM465.2 406.5h.7v.7h-.7zM473.0 410.2h.7v.7h-.7zM485.2 402.0h.7v.7h-.7zM467.0 411.2h.7v.7h-.7zM464.0 404.0h.7v.7h-.7zM482.8 395.8h.7v.7h-.7zM470.8 393.2h.7v.7h-.7zM470.7 391.8h.7v.7h-.7zM457.8 418.4h.7v.7h-.7zM481.0 409.6h.7v.7h-.7zM444.5 417.3h.7v.7h-.7zM469.9 398.9h.7v.7h-.7zM464.7 397.0h.7v.7h-.7zM467.0 407.7h.7v.7h-.7zM468.8 415.4h.7v.7h-.7zM462.3 389.3h.7v.7h-.7zM457.8 397.5h.7v.7h-.7zM464.6 404.7h.7v.7h-.7zM467.4 420.4h.7v.7h-.7zM468.0 399.1h.7v.7h-.7zM465.2 400.9h.7v.7h-.7zM465.7 413.5h.7v.7h-.7zM458.1 414.6h.7v.7h-.7zM483.1 421.7h.7v.7h-.7zM481.7 409.3h.7v.7h-.7zM456.2 425.9h.7v.7h-.7zM467.4 410.5h.7v.7h-.7zM464.7 400.3h.7v.7h-.7zM473.1 396.4h.7v.7h-.7zM456.0 413.3h.7v.7h-.7zM464.6 401.2h.7v.7h-.7zM472.1 420.8h.7v.7h-.7zM465.4 407.3h.7v.7h-.7zM472.6 416.6h.7v.7h-.7zM476.7 414.4h.7v.7h-.7zM462.1 413.1h.7v.7h-.7zM467.9 393.8h.7v.7h-.7zM478.4 413.5h.7v.7h-.7zM479.5 407.9h.7v.7h-.7zM474.0 407.9h.7v.7h-.7zM469.2 416.4h.7v.7h-.7zM468.3 413.8h.7v.7h-.7zM467.5 419.1h.7v.7h-.7zM473.4 394.2h.7v.7h-.7zM482.0 412.3h.7v.7h-.7zM463.4 403.1h.7v.7h-.7zM484.8 409.3h.7v.7h-.7zM472.2 413.7h.7v.7h-.7zM462.7 423.6h.7v.7h-.7zM485.8 401.8h.7v.7h-.7zM477.5 394.4h.7v.7h-.7zM464.9 409.0h.7v.7h-.7zM468.2 413.4h.7v.7h-.7zM471.3 411.7h.7v.7h-.7zM466.6 411.1h.7v.7h-.7zM463.1 425.5h.7v.7h-.7zM468.3 419.2h.7v.7h-.7zM468.7 407.2h.7v.7h-.7zM466.3 397.4h.7v.7h-.7zM485.6 412.1h.7v.7h-.7zM468.9 404.5h.7v.7h-.7zM478.8 405.7h.7v.7h-.7zM463.9 403.8h.7v.7h-.7zM481.0 411.2h.7v.7h-.7zM466.6 403.0h.7v.7h-.7zM478.8 411.0h.7v.7h-.7zM465.0 416.2h.7v.7h-.7zM475.3 399.9h.7v.7h-.7zM477.6 417.9h.7v.7h-.7zM465.7 397.0h.7v.7h-.7zM477.2 405.6h.7v.7h-.7zM466.1 406.0h.7v.7h-.7zM465.5 415.7h.7v.7h-.7zM458.5 413.1h.7v.7h-.7zM477.7 417.6h.7v.7h-.7zM474.0 410.8h.7v.7h-.7zM466.2 407.5h.7v.7h-.7zM460.4 422.9h.7v.7h-.7zM466.8 399.8h.7v.7h-.7zM474.9 421.5h.7v.7h-.7zM470.2 405.8h.7v.7h-.7zM458.4 414.1h.7v.7h-.7zM465.8 402.8h.7v.7h-.7zM473.0 397.4h.7v.7h-.7zM474.1 387.6h.7v.7h-.7zM462.6 396.2h.7v.7h-.7zM465.8 415.4h.7v.7h-.7zM456.8 420.2h.7v.7h-.7zM462.1 404.4h.7v.7h-.7zM476.3 402.3h.7v.7h-.7zM480.2 406.8h.7v.7h-.7zM467.1 400.3h.7v.7h-.7zM477.6 408.0h.7v.7h-.7zM463.8 400.4h.7v.7h-.7zM462.5 407.7h.7v.7h-.7zM461.8 415.3h.7v.7h-.7zM467.6 403.2h.7v.7h-.7zM471.8 420.7h.7v.7h-.7zM450.3 411.6h.7v.7h-.7zM477.0 409.7h.7v.7h-.7zM474.9 395.3h.7v.7h-.7zM461.6 417.2h.7v.7h-.7zM467.1 409.0h.7v.7h-.7zM473.2 411.7h.7v.7h-.7zM471.7 404.3h.7v.7h-.7zM465.4 419.7h.7v.7h-.7zM463.7 396.2h.7v.7h-.7zM464.9 416.2h.7v.7h-.7zM483.0 409.8h.7v.7h-.7zM462.7 413.7h.7v.7h-.7zM470.5 418.6h.7v.7h-.7zM472.3 415.0h.7v.7h-.7zM472.2 412.1h.7v.7h-.7zM460.2 407.1h.7v.7h-.7zM481.4 419.9h.7v.7h-.7zM476.1 411.9h.7v.7h-.7zM467.0 411.5h.7v.7h-.7zM465.2 417.8h.7v.7h-.7zM465.3 402.0h.7v.7h-.7zM454.4 421.8h.7v.7h-.7zM461.6 401.2h.7v.7h-.7zM471.4 423.9h.7v.7h-.7zM473.6 405.7h.7v.7h-.7zM472.7 401.5h.7v.7h-.7zM465.9 408.8h.7v.7h-.7zM468.1 415.2h.7v.7h-.7zM472.5 424.6h.7v.7h-.7zM475.0 406.1h.7v.7h-.7zM470.1 401.3h.7v.7h-.7zM462.9 405.6h.7v.7h-.7zM476.5 402.6h.7v.7h-.7zM454.9 399.9h.7v.7h-.7zM457.9 407.0h.7v.7h-.7zM465.5 398.6h.7v.7h-.7zM461.4 405.0h.7v.7h-.7zM471.3 413.7h.7v.7h-.7zM479.1 406.3h.7v.7h-.7zM473.3 409.2h.7v.7h-.7zM458.9 403.1h.7v.7h-.7zM486.3 407.2h.7v.7h-.7zM481.8 415.6h.7v.7h-.7zM482.0 406.9h.7v.7h-.7zM475.9 405.9h.7v.7h-.7zM458.8 398.6h.7v.7h-.7zM471.7 394.8h.7v.7h-.7zM471.1 401.1h.7v.7h-.7zM471.0 396.9h.7v.7h-.7zM475.2 406.6h.7v.7h-.7zM455.3 396.3h.7v.7h-.7zM468.6 394.6h.7v.7h-.7zM470.8 412.7h.7v.7h-.7zM462.6 420.4h.7v.7h-.7zM480.2 411.2h.7v.7h-.7zM471.9 412.5h.7v.7h-.7zM465.9 419.7h.7v.7h-.7zM463.7 387.1h.7v.7h-.7zM468.3 412.3h.7v.7h-.7zM475.0 399.1h.7v.7h-.7zM479.7 401.6h.7v.7h-.7zM473.4 414.7h.7v.7h-.7zM469.6 418.2h.7v.7h-.7zM464.0 426.0h.7v.7h-.7zM472.2 405.0h.7v.7h-.7zM489.8 408.5h.7v.7h-.7zM454.6 420.6h.7v.7h-.7zM481.0 403.6h.7v.7h-.7zM459.9 418.1h.7v.7h-.7zM468.6 400.3h.7v.7h-.7zM464.1 409.1h.7v.7h-.7zM476.3 421.8h.7v.7h-.7zM463.0 421.6h.7v.7h-.7zM455.6 414.6h.7v.7h-.7zM467.0 412.2h.7v.7h-.7zM464.5 402.5h.7v.7h-.7zM470.5 418.1h.7v.7h-.7zM449.7 409.0h.7v.7h-.7zM464.8 399.4h.7v.7h-.7zM457.0 412.9h.7v.7h-.7zM472.8 414.0h.7v.7h-.7zM451.6 395.6h.7v.7h-.7zM463.0 404.8h.7v.7h-.7zM482.8 405.2h.7v.7h-.7zM469.2 417.0h.7v.7h-.7zM482.0 411.7h.7v.7h-.7zM471.0 425.0h.7v.7h-.7zM464.8 393.2h.7v.7h-.7zM461.9 405.9h.7v.7h-.7zM479.1 411.2h.7v.7h-.7zM478.2 409.4h.7v.7h-.7zM468.5 403.6h.7v.7h-.7zM457.9 412.8h.7v.7h-.7zM471.2 413.4h.7v.7h-.7zM463.7 404.9h.7v.7h-.7zM471.3 413.7h.7v.7h-.7zM484.7 401.1h.7v.7h-.7zM476.4 416.1h.7v.7h-.7zM466.0 409.7h.7v.7h-.7zM467.7 421.5h.7v.7h-.7zM489.3 411.3h.7v.7h-.7zM466.0 416.6h.7v.7h-.7zM472.3 406.9h.7v.7h-.7zM474.4 415.9h.7v.7h-.7zM464.9 415.8h.7v.7h-.7zM449.5 397.6h.7v.7h-.7zM465.6 409.9h.7v.7h-.7zM456.0 421.1h.7v.7h-.7zM465.0 409.8h.7v.7h-.7zM467.8 415.0h.7v.7h-.7zM463.4 414.9h.7v.7h-.7zM461.3 395.9h.7v.7h-.7zM472.4 409.9h.7v.7h-.7zM475.5 392.0h.7v.7h-.7zM469.1 403.0h.7v.7h-.7zM466.6 405.2h.7v.7h-.7zM465.0 402.8h.7v.7h-.7zM476.7 393.9h.7v.7h-.7zM454.3 411.5h.7v.7h-.7zM484.9 402.0h.7v.7h-.7zM460.6 398.6h.7v.7h-.7zM459.7 419.2h.7v.7h-.7zM473.8 416.2h.7v.7h-.7zM471.1 410.5h.7v.7h-.7zM463.3 400.3h.7v.7h-.7zM473.3 429.7h.7v.7h-.7zM465.1 419.3h.7v.7h-.7zM462.3 408.9h.7v.7h-.7zM482.3 407.9h.7v.7h-.7zM473.4 403.7h.7v.7h-.7zM483.8 398.0h.7v.7h-.7zM472.8 406.5h.7v.7h-.7zM469.8 411.6h.7v.7h-.7zM479.1 416.0h.7v.7h-.7zM476.9 411.7h.7v.7h-.7zM459.3 420.0h.7v.7h-.7zM481.0 412.6h.7v.7h-.7zM474.8 406.5h.7v.7h-.7zM456.2 416.9h.7v.7h-.7zM462.1 424.9h.7v.7h-.7zM473.9 408.4h.7v.7h-.7zM463.0 409.4h.7v.7h-.7zM459.8 405.3h.7v.7h-.7zM481.4 406.0h.7v.7h-.7zM483.5 407.7h.7v.7h-.7zM471.6 400.6h.7v.7h-.7zM465.7 404.7h.7v.7h-.7zM456.6 425.1h.7v.7h-.7zM473.1 407.8h.7v.7h-.7zM459.0 408.8h.7v.7h-.7zM459.4 400.2h.7v.7h-.7zM466.6 427.0h.7v.7h-.7zM453.7 413.3h.7v.7h-.7zM463.6 383.7h.7v.7h-.7zM456.4 407.4h.7v.7h-.7zM468.7 402.1h.7v.7h-.7zM482.9 413.1h.7v.7h-.7zM462.9 394.4h.7v.7h-.7zM469.6 402.8h.7v.7h-.7zM476.7 399.6h.7v.7h-.7zM478.1 404.6h.7v.7h-.7zM469.8 406.2h.7v.7h-.7zM473.3 418.4h.7v.7h-.7zM463.6 400.8h.7v.7h-.7zM483.9 416.7h.7v.7h-.7zM484.0 416.7h.7v.7h-.7zM469.2 422.5h.7v.7h-.7zM462.5 404.9h.7v.7h-.7zM464.8 414.4h.7v.7h-.7zM461.0 407.0h.7v.7h-.7zM461.1 406.5h.7v.7h-.7zM477.5 418.0h.7v.7h-.7zM466.3 430.4h.7v.7h-.7zM462.2 412.4h.7v.7h-.7zM464.1 389.5h.7v.7h-.7zM458.2 419.2h.7v.7h-.7zM454.3 433.6h.7v.7h-.7zM467.1 410.8h.7v.7h-.7zM478.6 408.8h.7v.7h-.7zM462.8 403.3h.7v.7h-.7zM460.2 413.2h.7v.7h-.7zM464.2 412.9h.7v.7h-.7zM455.6 404.8h.7v.7h-.7zM485.3 411.6h.7v.7h-.7zM467.2 418.7h.7v.7h-.7zM470.4 421.7h.7v.7h-.7zM458.4 415.1h.7v.7h-.7zM459.2 414.4h.7v.7h-.7zM488.6 421.7h.7v.7h-.7zM460.9 412.1h.7v.7h-.7zM471.9 402.3h.7v.7h-.7zM470.1 399.4h.7v.7h-.7zM476.2 416.4h.7v.7h-.7zM466.7 414.4h.7v.7h-.7zM488.0 407.1h.7v.7h-.7zM452.4 411.4h.7v.7h-.7zM464.3 401.8h.7v.7h-.7zM475.6 417.1h.7v.7h-.7zM473.0 422.6h.7v.7h-.7zM462.8 404.9h.7v.7h-.7zM471.6 385.3h.7v.7h-.7zM445.2 411.5h.7v.7h-.7zM466.3 409.0h.7v.7h-.7zM460.0 410.5h.7v.7h-.7zM476.9 403.1h.7v.7h-.7zM472.8 407.2h.7v.7h-.7zM466.7 409.5h.7v.7h-.7zM480.7 413.0h.7v.7h-.7zM473.8 409.8h.7v.7h-.7zM450.1 416.6h.7v.7h-.7zM467.9 409.3h.7v.7h-.7zM463.8 395.2h.7v.7h-.7zM480.5 424.3h.7v.7h-.7zM481.2 392.7h.7v.7h-.7zM472.6 398.4h.7v.7h-.7zM466.5 404.1h.7v.7h-.7zM462.8 401.9h.7v.7h-.7zM464.0 415.2h.7v.7h-.7zM481.5 416.5h.7v.7h-.7zM467.9 407.3h.7v.7h-.7zM466.0 408.3h.7v.7h-.7zM462.8 407.0h.7v.7h-.7zM475.1 406.6h.7v.7h-.7zM461.2 407.5h.7v.7h-.7zM468.7 407.8h.7v.7h-.7zM465.8 414.6h.7v.7h-.7zM467.6 399.8h.7v.7h-.7zM472.7 402.4h.7v.7h-.7zM474.5 415.6h.7v.7h-.7zM472.0 411.2h.7v.7h-.7zM456.7 406.8h.7v.7h-.7zM469.0 414.0h.7v.7h-.7zM458.5 407.2h.7v.7h-.7zM455.1 410.0h.7v.7h-.7zM468.6 409.6h.7v.7h-.7zM481.9 414.8h.7v.7h-.7zM466.3 403.5h.7v.7h-.7zM464.2 415.3h.7v.7h-.7zM475.6 404.2h.7v.7h-.7zM467.0 404.8h.7v.7h-.7zM473.7 410.2h.7v.7h-.7zM461.9 400.9h.7v.7h-.7zM478.9 396.5h.7v.7h-.7zM452.7 382.0h.7v.7h-.7zM485.1 403.9h.7v.7h-.7zM475.2 413.3h.7v.7h-.7zM475.0 418.3h.7v.7h-.7zM464.0 408.4h.7v.7h-.7zM476.2 413.3h.7v.7h-.7zM461.6 402.0h.7v.7h-.7zM455.8 410.8h.7v.7h-.7zM463.5 395.1h.7v.7h-.7zM463.3 411.3h.7v.7h-.7zM469.5 406.6h.7v.7h-.7zM469.3 414.1h.7v.7h-.7zM457.9 401.5h.7v.7h-.7zM476.2 414.8h.7v.7h-.7zM456.1 402.3h.7v.7h-.7zM480.2 415.0h.7v.7h-.7zM466.7 417.3h.7v.7h-.7zM479.5 420.7h.7v.7h-.7zM456.2 397.4h.7v.7h-.7zM490.4 408.1h.7v.7h-.7zM487.0 410.6h.7v.7h-.7zM512.2 418.0h.7v.7h-.7zM501.6 408.5h.7v.7h-.7zM515.9 412.5h.7v.7h-.7zM485.5 408.4h.7v.7h-.7zM519.1 427.0h.7v.7h-.7zM479.9 416.3h.7v.7h-.7zM529.3 406.9h.7v.7h-.7zM504.6 417.3h.7v.7h-.7zM485.4 400.4h.7v.7h-.7zM501.1 408.6h.7v.7h-.7zM499.9 386.8h.7v.7h-.7zM500.9 411.8h.7v.7h-.7zM501.8 416.9h.7v.7h-.7zM527.9 411.3h.7v.7h-.7zM485.1 407.9h.7v.7h-.7zM498.9 408.8h.7v.7h-.7zM502.7 420.7h.7v.7h-.7zM498.7 400.3h.7v.7h-.7zM494.7 406.3h.7v.7h-.7zM487.0 416.9h.7v.7h-.7zM493.7 410.3h.7v.7h-.7zM512.1 401.4h.7v.7h-.7zM483.5 414.8h.7v.7h-.7zM484.4 417.3h.7v.7h-.7zM501.3 395.7h.7v.7h-.7zM488.4 407.4h.7v.7h-.7zM487.0 416.8h.7v.7h-.7zM503.0 405.5h.7v.7h-.7zM487.8 391.9h.7v.7h-.7zM500.6 410.6h.7v.7h-.7zM484.9 395.8h.7v.7h-.7zM497.3 408.2h.7v.7h-.7zM504.1 405.5h.7v.7h-.7zM501.2 399.0h.7v.7h-.7zM519.7 401.6h.7v.7h-.7zM495.4 412.0h.7v.7h-.7zM520.4 409.8h.7v.7h-.7zM494.8 422.9h.7v.7h-.7zM497.2 412.9h.7v.7h-.7zM513.8 411.7h.7v.7h-.7zM522.2 406.0h.7v.7h-.7zM487.4 400.2h.7v.7h-.7zM501.5 407.3h.7v.7h-.7zM492.8 403.0h.7v.7h-.7zM486.8 414.6h.7v.7h-.7zM479.9 424.9h.7v.7h-.7zM486.2 402.3h.7v.7h-.7zM520.7 417.7h.7v.7h-.7zM494.9 406.9h.7v.7h-.7zM487.0 407.4h.7v.7h-.7zM499.1 408.4h.7v.7h-.7zM485.1 407.9h.7v.7h-.7zM498.7 389.6h.7v.7h-.7zM492.0 397.9h.7v.7h-.7zM488.8 414.0h.7v.7h-.7zM521.2 402.2h.7v.7h-.7zM483.4 416.6h.7v.7h-.7zM494.0 403.5h.7v.7h-.7zM489.9 426.2h.7v.7h-.7zM503.6 416.7h.7v.7h-.7zM500.4 414.2h.7v.7h-.7zM505.0 397.7h.7v.7h-.7zM480.4 406.9h.7v.7h-.7zM494.2 393.7h.7v.7h-.7zM495.5 408.5h.7v.7h-.7zM485.2 390.5h.7v.7h-.7zM524.5 403.9h.7v.7h-.7zM494.3 412.2h.7v.7h-.7zM496.5 394.0h.7v.7h-.7zM484.6 420.0h.7v.7h-.7zM513.2 414.1h.7v.7h-.7zM495.3 413.2h.7v.7h-.7zM482.3 394.7h.7v.7h-.7zM502.3 419.4h.7v.7h-.7zM481.8 419.1h.7v.7h-.7zM487.5 416.1h.7v.7h-.7zM488.0 410.4h.7v.7h-.7zM487.5 416.3h.7v.7h-.7zM492.0 418.0h.7v.7h-.7zM514.4 398.2h.7v.7h-.7zM483.2 413.1h.7v.7h-.7zM518.8 418.3h.7v.7h-.7zM482.0 393.8h.7v.7h-.7zM498.5 403.5h.7v.7h-.7zM484.4 412.0h.7v.7h-.7zM510.1 417.6h.7v.7h-.7zM500.1 413.4h.7v.7h-.7zM493.1 411.6h.7v.7h-.7zM509.9 404.2h.7v.7h-.7zM497.9 405.7h.7v.7h-.7zM480.7 411.7h.7v.7h-.7zM482.0 410.7h.7v.7h-.7zM490.7 408.5h.7v.7h-.7zM503.5 406.2h.7v.7h-.7zM500.9 402.8h.7v.7h-.7zM490.4 411.1h.7v.7h-.7zM498.7 384.5h.7v.7h-.7zM479.9 401.9h.7v.7h-.7zM493.1 416.5h.7v.7h-.7zM496.2 411.5h.7v.7h-.7zM482.7 410.2h.7v.7h-.7zM523.4 391.8h.7v.7h-.7zM501.1 407.3h.7v.7h-.7zM485.5 402.8h.7v.7h-.7zM481.0 408.9h.7v.7h-.7zM499.4 422.4h.7v.7h-.7zM495.6 407.4h.7v.7h-.7zM507.1 409.8h.7v.7h-.7zM487.9 417.7h.7v.7h-.7zM501.4 404.3h.7v.7h-.7zM515.0 407.6h.7v.7h-.7zM513.9 423.1h.7v.7h-.7zM488.2 399.4h.7v.7h-.7zM491.9 420.7h.7v.7h-.7zM488.8 417.8h.7v.7h-.7zM493.0 416.1h.7v.7h-.7zM508.9 406.0h.7v.7h-.7zM510.2 407.5h.7v.7h-.7zM496.7 398.4h.7v.7h-.7zM483.1 414.6h.7v.7h-.7zM519.5 395.7h.7v.7h-.7zM497.4 401.0h.7v.7h-.7zM488.0 420.0h.7v.7h-.7zM504.5 411.6h.7v.7h-.7zM491.8 385.5h.7v.7h-.7zM492.2 411.8h.7v.7h-.7zM509.7 410.1h.7v.7h-.7zM490.0 407.5h.7v.7h-.7zM497.3 416.0h.7v.7h-.7zM481.2 406.4h.7v.7h-.7zM505.1 418.2h.7v.7h-.7zM491.9 411.2h.7v.7h-.7zM513.4 415.1h.7v.7h-.7zM507.1 407.8h.7v.7h-.7zM495.0 394.6h.7v.7h-.7zM496.9 413.5h.7v.7h-.7zM487.4 406.8h.7v.7h-.7zM483.9 398.6h.7v.7h-.7zM496.2 407.1h.7v.7h-.7zM497.3 405.8h.7v.7h-.7zM483.1 411.3h.7v.7h-.7zM511.9 397.8h.7v.7h-.7zM491.6 410.1h.7v.7h-.7zM481.1 410.6h.7v.7h-.7zM522.5 408.8h.7v.7h-.7zM484.7 398.0h.7v.7h-.7zM498.4 407.5h.7v.7h-.7zM487.0 414.9h.7v.7h-.7z" fill="#9650ea" opacity="0.78"/>
<rect x="485.50" y="390.60" width="90.80" height="39.20" fill="none" stroke="#222" stroke-width="0.9"/>
<text x="439.90" y="380.00" font-size="14" fill="#111">3.33</text>
<line x1="435.70" y1="366.90" x2="435.70" y2="436.40" stroke="#777" stroke-width="0.8"/>
<line x1="432.70" y1="367.20" x2="435.70" y2="367.20" stroke="#222" stroke-width="1.2"/>
<text x="419.70" y="375.50" font-size="5.4" fill="#777">10</text>
<text x="426.10" y="372.10" font-size="4.4" fill="#777">5</text>
<line x1="432.70" y1="401.40" x2="435.70" y2="401.40" stroke="#222" stroke-width="1.2"/>
<text x="419.70" y="405.00" font-size="5.4" fill="#777">10</text>
<text x="426.10" y="401.60" font-size="4.4" fill="#777">4</text>
<line x1="432.70" y1="436.10" x2="435.70" y2="436.10" stroke="#222" stroke-width="1.2"/>
<text x="419.70" y="435.80" font-size="5.4" fill="#777">10</text>
<text x="426.10" y="432.40" font-size="4.4" fill="#777">3</text>
<line x1="433.90" y1="391.07" x2="435.70" y2="391.07" stroke="#555" stroke-width="0.6"/>
<line x1="433.90" y1="385.03" x2="435.70" y2="385.03" stroke="#555" stroke-width="0.6"/>
<line x1="433.90" y1="380.75" x2="435.70" y2="380.75" stroke="#555" stroke-width="0.6"/>
<line x1="433.90" y1="377.43" x2="435.70" y2="377.43" stroke="#555" stroke-width="0.6"/>
<line x1="433.90" y1="374.71" x2="435.70" y2="374.71" stroke="#555" stroke-width="0.6"/>
<line x1="433.90" y1="372.41" x2="435.70" y2="372.41" stroke="#555" stroke-width="0.6"/>
<line x1="433.90" y1="370.42" x2="435.70" y2="370.42" stroke="#555" stroke-width="0.6"/>
<line x1="433.90" y1="368.67" x2="435.70" y2="368.67" stroke="#555" stroke-width="0.6"/>
<line x1="433.90" y1="426.07" x2="435.70" y2="426.07" stroke="#555" stroke-width="0.6"/>
<line x1="433.90" y1="420.03" x2="435.70" y2="420.03" stroke="#555" stroke-width="0.6"/>
<line x1="433.90" y1="415.75" x2="435.70" y2="415.75" stroke="#555" stroke-width="0.6"/>
<line x1="433.90" y1="412.43" x2="435.70" y2="412.43" stroke="#555" stroke-width="0.6"/>
<line x1="433.90" y1="409.71" x2="435.70" y2="409.71" stroke="#555" stroke-width="0.6"/>
<line x1="433.90" y1="407.41" x2="435.70" y2="407.41" stroke="#555" stroke-width="0.6"/>
<line x1="433.90" y1="405.42" x2="435.70" y2="405.42" stroke="#555" stroke-width="0.6"/>
<line x1="433.90" y1="403.67" x2="435.70" y2="403.67" stroke="#555" stroke-width="0.6"/>
<line x1="436.20" y1="297.10" x2="576.30" y2="297.10" stroke="#d6d6d6" stroke-width="2.2"/>
<line x1="435.70" y1="436.40" x2="576.30" y2="436.40" stroke="#333" stroke-width="1"/>
<line x1="468.40" y1="436.40" x2="468.40" y2="439.40" stroke="#222" stroke-width="1"/>
<line x1="515.80" y1="436.40" x2="515.80" y2="439.40" stroke="#222" stroke-width="1"/>
<line x1="548.60" y1="436.40" x2="548.60" y2="439.40" stroke="#222" stroke-width="1"/>
<line x1="525.67" y1="436.40" x2="525.67" y2="438.20" stroke="#444" stroke-width="0.6"/>
<line x1="558.47" y1="436.40" x2="558.47" y2="438.20" stroke="#444" stroke-width="0.6"/>
<line x1="531.45" y1="436.40" x2="531.45" y2="438.20" stroke="#444" stroke-width="0.6"/>
<line x1="564.25" y1="436.40" x2="564.25" y2="438.20" stroke="#444" stroke-width="0.6"/>
<line x1="535.55" y1="436.40" x2="535.55" y2="438.20" stroke="#444" stroke-width="0.6"/>
<line x1="568.35" y1="436.40" x2="568.35" y2="438.20" stroke="#444" stroke-width="0.6"/>
<line x1="538.73" y1="436.40" x2="538.73" y2="438.20" stroke="#444" stroke-width="0.6"/>
<line x1="571.53" y1="436.40" x2="571.53" y2="438.20" stroke="#444" stroke-width="0.6"/>
<line x1="541.32" y1="436.40" x2="541.32" y2="438.20" stroke="#444" stroke-width="0.6"/>
<line x1="574.12" y1="436.40" x2="574.12" y2="438.20" stroke="#444" stroke-width="0.6"/>
<line x1="543.52" y1="436.40" x2="543.52" y2="438.20" stroke="#444" stroke-width="0.6"/>
<line x1="545.42" y1="436.40" x2="545.42" y2="438.20" stroke="#444" stroke-width="0.6"/>
<line x1="547.10" y1="436.40" x2="547.10" y2="438.20" stroke="#444" stroke-width="0.6"/>
<line x1="460.40" y1="436.40" x2="460.40" y2="438.20" stroke="#444" stroke-width="0.6"/>
<line x1="463.40" y1="436.40" x2="463.40" y2="438.20" stroke="#444" stroke-width="0.6"/>
<line x1="465.40" y1="436.40" x2="465.40" y2="438.20" stroke="#444" stroke-width="0.6"/>
<line x1="471.40" y1="436.40" x2="471.40" y2="438.20" stroke="#444" stroke-width="0.6"/>
<line x1="473.40" y1="436.40" x2="473.40" y2="438.20" stroke="#444" stroke-width="0.6"/>
<line x1="476.40" y1="436.40" x2="476.40" y2="438.20" stroke="#444" stroke-width="0.6"/>
<line x1="482.40" y1="436.40" x2="482.40" y2="438.20" stroke="#444" stroke-width="0.6"/>
<line x1="490.40" y1="436.40" x2="490.40" y2="438.20" stroke="#444" stroke-width="0.6"/>
<line x1="503.80" y1="436.40" x2="503.80" y2="438.20" stroke="#444" stroke-width="0.6"/>
<line x1="509.80" y1="436.40" x2="509.80" y2="438.20" stroke="#444" stroke-width="0.6"/>
<line x1="512.80" y1="436.40" x2="512.80" y2="438.20" stroke="#444" stroke-width="0.6"/>
<rect x="466.80" y="436.90" width="3.20" height="3.00" fill="#111" stroke="none" stroke-width="1"/>
<text x="468.40" y="447.90" font-size="4.6" text-anchor="middle" fill="#666">0</text>
<text x="513.80" y="447.90" font-size="4.6" text-anchor="middle" fill="#666">10</text>
<text x="518.30" y="444.90" font-size="3.6" fill="#666">3</text>
<text x="546.60" y="447.90" font-size="4.6" text-anchor="middle" fill="#666">10</text>
<text x="551.10" y="444.90" font-size="3.6" fill="#666">4</text>
<text transform="translate(186.64 489.70) scale(0.7 1)" font-size="22">E</text>
<line x1="209.20" y1="496.30" x2="225.70" y2="496.30" stroke="#2fb52f" stroke-width="1.6"/>
<text x="234.20" y="500.40" font-size="11.3"><tspan font-style="italic">GFP</tspan> gRNA</text>
<line x1="210.20" y1="512.20" x2="226.70" y2="512.20" stroke="#8b4a14" stroke-width="1.6"/>
<text x="235.40" y="516.30" font-size="11.3">TB7</text>
<line x1="301.30" y1="497.90" x2="317.80" y2="497.90" stroke="#fd72d6" stroke-width="1.6"/>
<text x="326.30" y="501.90" font-size="11.3">TB8</text>
<line x1="301.30" y1="512.30" x2="317.80" y2="512.30" stroke="#1f86f0" stroke-width="1.6"/>
<text x="326.30" y="516.30" font-size="11.3">TB48</text>
<line x1="367.80" y1="497.90" x2="384.30" y2="497.90" stroke="#c10010" stroke-width="1.6"/>
<text x="393.30" y="501.90" font-size="11.3">TB50</text>
<line x1="367.80" y1="512.30" x2="384.30" y2="512.30" stroke="#8a2be2" stroke-width="1.6"/>
<text x="393.30" y="516.30" font-size="11.3">TB48+TB50</text>
<line x1="246.80" y1="525.10" x2="246.80" y2="590.60" stroke="#111" stroke-width="1.8"/>
<line x1="238.80" y1="525.10" x2="246.80" y2="525.10" stroke="#111" stroke-width="1.5"/>
<text x="236.30" y="529.10" font-size="11" text-anchor="end">60</text>
<line x1="238.80" y1="546.93" x2="246.80" y2="546.93" stroke="#111" stroke-width="1.5"/>
<text x="236.30" y="550.93" font-size="11" text-anchor="end">45</text>
<line x1="238.80" y1="568.77" x2="246.80" y2="568.77" stroke="#111" stroke-width="1.5"/>
<text x="236.30" y="572.77" font-size="11" text-anchor="end">30</text>
<line x1="242.50" y1="590.60" x2="251.20" y2="590.60" stroke="#111" stroke-width="1.5"/>
<text x="236.30" y="594.60" font-size="11" text-anchor="end">15</text>
<line x1="258.70" y1="556.54" x2="258.70" y2="570.51" stroke="#333" stroke-width="0.9"/>
<line x1="255.50" y1="556.54" x2="261.90" y2="556.54" stroke="#555" stroke-width="1.1"/>
<line x1="255.50" y1="570.51" x2="261.90" y2="570.51" stroke="#555" stroke-width="1.1"/>
<line x1="306.50" y1="531.21" x2="306.50" y2="544.60" stroke="#333" stroke-width="0.9"/>
<line x1="303.30" y1="531.21" x2="309.70" y2="531.21" stroke="#555" stroke-width="1.1"/>
<line x1="303.30" y1="544.60" x2="309.70" y2="544.60" stroke="#555" stroke-width="1.1"/>
<line x1="354.30" y1="537.62" x2="354.30" y2="538.78" stroke="#333" stroke-width="0.9"/>
<line x1="351.10" y1="537.62" x2="357.50" y2="537.62" stroke="#555" stroke-width="1.1"/>
<line x1="351.10" y1="538.78" x2="357.50" y2="538.78" stroke="#555" stroke-width="1.1"/>
<line x1="402.10" y1="553.63" x2="402.10" y2="563.82" stroke="#333" stroke-width="0.9"/>
<line x1="398.90" y1="553.63" x2="405.30" y2="553.63" stroke="#555" stroke-width="1.1"/>
<line x1="398.90" y1="563.82" x2="405.30" y2="563.82" stroke="#555" stroke-width="1.1"/>
<line x1="449.90" y1="551.74" x2="449.90" y2="565.71" stroke="#333" stroke-width="0.9"/>
<line x1="446.70" y1="551.74" x2="453.10" y2="551.74" stroke="#555" stroke-width="1.1"/>
<line x1="446.70" y1="565.71" x2="453.10" y2="565.71" stroke="#555" stroke-width="1.1"/>
<polyline points="258.70,563.53 306.50,537.91 354.30,538.20 402.10,558.72 449.90,558.72" fill="none" stroke="#26c426" stroke-width="1.7" stroke-linejoin="round"/>
<circle cx="258.70" cy="563.53" r="2.7" fill="#0f7a0f" stroke="#111" stroke-width="0.7"/>
<circle cx="258.70" cy="563.53" r="0.8" fill="#000"/>
<circle cx="306.50" cy="537.91" r="2.7" fill="#0f7a0f" stroke="#111" stroke-width="0.7"/>
<circle cx="306.50" cy="537.91" r="0.8" fill="#000"/>
<circle cx="354.30" cy="538.20" r="2.7" fill="#0f7a0f" stroke="#111" stroke-width="0.7"/>
<circle cx="354.30" cy="538.20" r="0.8" fill="#000"/>
<circle cx="402.10" cy="558.72" r="2.7" fill="#0f7a0f" stroke="#111" stroke-width="0.7"/>
<circle cx="402.10" cy="558.72" r="0.8" fill="#000"/>
<circle cx="449.90" cy="558.72" r="2.7" fill="#0f7a0f" stroke="#111" stroke-width="0.7"/>
<circle cx="449.90" cy="558.72" r="0.8" fill="#000"/>
<line x1="246.80" y1="603.60" x2="246.80" y2="668.70" stroke="#111" stroke-width="1.8"/>
<line x1="242.50" y1="603.60" x2="251.20" y2="603.60" stroke="#111" stroke-width="1.5"/>
<text x="238.00" y="607.60" font-size="11" text-anchor="end">15</text>
<line x1="240.50" y1="625.30" x2="246.80" y2="625.30" stroke="#111" stroke-width="1.5"/>
<text x="238.30" y="629.30" font-size="11" text-anchor="end">10</text>
<line x1="240.50" y1="647.00" x2="246.80" y2="647.00" stroke="#111" stroke-width="1.5"/>
<text x="238.30" y="651.00" font-size="11" text-anchor="end">5</text>
<line x1="240.50" y1="668.70" x2="246.80" y2="668.70" stroke="#111" stroke-width="1.5"/>
<text x="238.30" y="672.70" font-size="11" text-anchor="end">0</text>
<line x1="240.50" y1="668.70" x2="462.00" y2="668.70" stroke="#111" stroke-width="1.8"/>
<line x1="258.70" y1="656.55" x2="258.70" y2="660.89" stroke="#333" stroke-width="0.9"/>
<line x1="255.50" y1="656.55" x2="261.90" y2="656.55" stroke="#555" stroke-width="1.1"/>
<line x1="255.50" y1="660.89" x2="261.90" y2="660.89" stroke="#555" stroke-width="1.1"/>
<line x1="306.50" y1="659.80" x2="306.50" y2="662.41" stroke="#333" stroke-width="0.9"/>
<line x1="303.30" y1="659.80" x2="309.70" y2="659.80" stroke="#555" stroke-width="1.1"/>
<line x1="303.30" y1="662.41" x2="309.70" y2="662.41" stroke="#555" stroke-width="1.1"/>
<line x1="354.30" y1="660.89" x2="354.30" y2="664.36" stroke="#333" stroke-width="0.9"/>
<line x1="351.10" y1="660.89" x2="357.50" y2="660.89" stroke="#555" stroke-width="1.1"/>
<line x1="351.10" y1="664.36" x2="357.50" y2="664.36" stroke="#555" stroke-width="1.1"/>
<line x1="402.10" y1="664.79" x2="402.10" y2="666.53" stroke="#333" stroke-width="0.9"/>
<line x1="398.90" y1="664.79" x2="405.30" y2="664.79" stroke="#555" stroke-width="1.1"/>
<line x1="398.90" y1="666.53" x2="405.30" y2="666.53" stroke="#555" stroke-width="1.1"/>
<line x1="449.90" y1="663.93" x2="449.90" y2="665.66" stroke="#333" stroke-width="0.9"/>
<line x1="446.70" y1="663.93" x2="453.10" y2="663.93" stroke="#555" stroke-width="1.1"/>
<line x1="446.70" y1="665.66" x2="453.10" y2="665.66" stroke="#555" stroke-width="1.1"/>
<line x1="258.70" y1="661.32" x2="258.70" y2="664.79" stroke="#333" stroke-width="0.9"/>
<line x1="255.50" y1="661.32" x2="261.90" y2="661.32" stroke="#555" stroke-width="1.1"/>
<line x1="255.50" y1="664.79" x2="261.90" y2="664.79" stroke="#555" stroke-width="1.1"/>
<line x1="306.50" y1="659.80" x2="306.50" y2="662.41" stroke="#333" stroke-width="0.9"/>
<line x1="303.30" y1="659.80" x2="309.70" y2="659.80" stroke="#555" stroke-width="1.1"/>
<line x1="303.30" y1="662.41" x2="309.70" y2="662.41" stroke="#555" stroke-width="1.1"/>
<line x1="354.30" y1="660.24" x2="354.30" y2="662.84" stroke="#333" stroke-width="0.9"/>
<line x1="351.10" y1="660.24" x2="357.50" y2="660.24" stroke="#555" stroke-width="1.1"/>
<line x1="351.10" y1="662.84" x2="357.50" y2="662.84" stroke="#555" stroke-width="1.1"/>
<line x1="402.10" y1="664.79" x2="402.10" y2="666.53" stroke="#333" stroke-width="0.9"/>
<line x1="398.90" y1="664.79" x2="405.30" y2="664.79" stroke="#555" stroke-width="1.1"/>
<line x1="398.90" y1="666.53" x2="405.30" y2="666.53" stroke="#555" stroke-width="1.1"/>
<line x1="449.90" y1="663.93" x2="449.90" y2="665.66" stroke="#333" stroke-width="0.9"/>
<line x1="446.70" y1="663.93" x2="453.10" y2="663.93" stroke="#555" stroke-width="1.1"/>
<line x1="446.70" y1="665.66" x2="453.10" y2="665.66" stroke="#555" stroke-width="1.1"/>
<line x1="258.70" y1="653.51" x2="258.70" y2="660.45" stroke="#333" stroke-width="0.9"/>
<line x1="255.50" y1="653.51" x2="261.90" y2="653.51" stroke="#555" stroke-width="1.1"/>
<line x1="255.50" y1="660.45" x2="261.90" y2="660.45" stroke="#555" stroke-width="1.1"/>
<line x1="306.50" y1="634.41" x2="306.50" y2="644.83" stroke="#333" stroke-width="0.9"/>
<line x1="303.30" y1="634.41" x2="309.70" y2="634.41" stroke="#555" stroke-width="1.1"/>
<line x1="303.30" y1="644.83" x2="309.70" y2="644.83" stroke="#555" stroke-width="1.1"/>
<line x1="354.30" y1="650.91" x2="354.30" y2="654.38" stroke="#333" stroke-width="0.9"/>
<line x1="351.10" y1="650.91" x2="357.50" y2="650.91" stroke="#555" stroke-width="1.1"/>
<line x1="351.10" y1="654.38" x2="357.50" y2="654.38" stroke="#555" stroke-width="1.1"/>
<line x1="402.10" y1="656.11" x2="402.10" y2="659.59" stroke="#333" stroke-width="0.9"/>
<line x1="398.90" y1="656.11" x2="405.30" y2="656.11" stroke="#555" stroke-width="1.1"/>
<line x1="398.90" y1="659.59" x2="405.30" y2="659.59" stroke="#555" stroke-width="1.1"/>
<line x1="449.90" y1="654.38" x2="449.90" y2="656.98" stroke="#333" stroke-width="0.9"/>
<line x1="446.70" y1="654.38" x2="453.10" y2="654.38" stroke="#555" stroke-width="1.1"/>
<line x1="446.70" y1="656.98" x2="453.10" y2="656.98" stroke="#555" stroke-width="1.1"/>
<line x1="258.70" y1="647.00" x2="258.70" y2="655.68" stroke="#333" stroke-width="0.9"/>
<line x1="255.50" y1="647.00" x2="261.90" y2="647.00" stroke="#555" stroke-width="1.1"/>
<line x1="255.50" y1="655.68" x2="261.90" y2="655.68" stroke="#555" stroke-width="1.1"/>
<line x1="306.50" y1="615.75" x2="306.50" y2="627.04" stroke="#333" stroke-width="0.9"/>
<line x1="303.30" y1="615.75" x2="309.70" y2="615.75" stroke="#555" stroke-width="1.1"/>
<line x1="303.30" y1="627.04" x2="309.70" y2="627.04" stroke="#555" stroke-width="1.1"/>
<line x1="354.30" y1="644.83" x2="354.30" y2="647.43" stroke="#333" stroke-width="0.9"/>
<line x1="351.10" y1="644.83" x2="357.50" y2="644.83" stroke="#555" stroke-width="1.1"/>
<line x1="351.10" y1="647.43" x2="357.50" y2="647.43" stroke="#555" stroke-width="1.1"/>
<line x1="402.10" y1="650.04" x2="402.10" y2="655.25" stroke="#333" stroke-width="0.9"/>
<line x1="398.90" y1="650.04" x2="405.30" y2="650.04" stroke="#555" stroke-width="1.1"/>
<line x1="398.90" y1="655.25" x2="405.30" y2="655.25" stroke="#555" stroke-width="1.1"/>
<line x1="449.90" y1="647.43" x2="449.90" y2="650.04" stroke="#333" stroke-width="0.9"/>
<line x1="446.70" y1="647.43" x2="453.10" y2="647.43" stroke="#555" stroke-width="1.1"/>
<line x1="446.70" y1="650.04" x2="453.10" y2="650.04" stroke="#555" stroke-width="1.1"/>
<line x1="258.70" y1="658.72" x2="258.70" y2="665.66" stroke="#333" stroke-width="0.9"/>
<line x1="255.50" y1="658.72" x2="261.90" y2="658.72" stroke="#555" stroke-width="1.1"/>
<line x1="255.50" y1="665.66" x2="261.90" y2="665.66" stroke="#555" stroke-width="1.1"/>
<line x1="306.50" y1="655.25" x2="306.50" y2="657.85" stroke="#333" stroke-width="0.9"/>
<line x1="303.30" y1="655.25" x2="309.70" y2="655.25" stroke="#555" stroke-width="1.1"/>
<line x1="303.30" y1="657.85" x2="309.70" y2="657.85" stroke="#555" stroke-width="1.1"/>
<line x1="354.30" y1="657.42" x2="354.30" y2="662.62" stroke="#333" stroke-width="0.9"/>
<line x1="351.10" y1="657.42" x2="357.50" y2="657.42" stroke="#555" stroke-width="1.1"/>
<line x1="351.10" y1="662.62" x2="357.50" y2="662.62" stroke="#555" stroke-width="1.1"/>
<line x1="402.10" y1="659.15" x2="402.10" y2="664.36" stroke="#333" stroke-width="0.9"/>
<line x1="398.90" y1="659.15" x2="405.30" y2="659.15" stroke="#555" stroke-width="1.1"/>
<line x1="398.90" y1="664.36" x2="405.30" y2="664.36" stroke="#555" stroke-width="1.1"/>
<line x1="449.90" y1="653.51" x2="449.90" y2="658.72" stroke="#333" stroke-width="0.9"/>
<line x1="446.70" y1="653.51" x2="453.10" y2="653.51" stroke="#555" stroke-width="1.1"/>
<line x1="446.70" y1="658.72" x2="453.10" y2="658.72" stroke="#555" stroke-width="1.1"/>
<polyline points="258.70,658.72 306.50,661.11 354.30,662.62 402.10,665.66 449.90,664.79" fill="none" stroke="#8a2be2" stroke-width="1.7" stroke-linejoin="round"/>
<polyline points="258.70,663.06 306.50,661.11 354.30,661.54 402.10,665.66 449.90,664.79" fill="none" stroke="#c8102e" stroke-width="1.7" stroke-linejoin="round"/>
<polyline points="258.70,656.98 306.50,639.62 354.30,652.64 402.10,657.85 449.90,655.68" fill="none" stroke="#ff7ad2" stroke-width="1.7" stroke-linejoin="round"/>
<polyline points="258.70,651.34 306.50,621.39 354.30,646.13 402.10,652.64 449.90,648.74" fill="none" stroke="#8b4510" stroke-width="1.7" stroke-linejoin="round"/>
<polyline points="258.70,662.19 306.50,656.55 354.30,660.02 402.10,661.76 449.90,656.11" fill="none" stroke="#2a8cff" stroke-width="1.7" stroke-linejoin="round"/>
<circle cx="258.70" cy="658.72" r="2.7" fill="#6a1ab0" stroke="#111" stroke-width="0.7"/>
<circle cx="258.70" cy="658.72" r="0.8" fill="#000"/>
<circle cx="306.50" cy="661.11" r="2.7" fill="#6a1ab0" stroke="#111" stroke-width="0.7"/>
<circle cx="306.50" cy="661.11" r="0.8" fill="#000"/>
<circle cx="354.30" cy="662.62" r="2.7" fill="#6a1ab0" stroke="#111" stroke-width="0.7"/>
<circle cx="354.30" cy="662.62" r="0.8" fill="#000"/>
<circle cx="402.10" cy="665.66" r="2.7" fill="#6a1ab0" stroke="#111" stroke-width="0.7"/>
<circle cx="402.10" cy="665.66" r="0.8" fill="#000"/>
<circle cx="449.90" cy="664.79" r="2.7" fill="#6a1ab0" stroke="#111" stroke-width="0.7"/>
<circle cx="449.90" cy="664.79" r="0.8" fill="#000"/>
<circle cx="258.70" cy="663.06" r="2.7" fill="#a00010" stroke="#111" stroke-width="0.7"/>
<circle cx="258.70" cy="663.06" r="0.8" fill="#000"/>
<circle cx="306.50" cy="661.11" r="2.7" fill="#a00010" stroke="#111" stroke-width="0.7"/>
<circle cx="306.50" cy="661.11" r="0.8" fill="#000"/>
<circle cx="354.30" cy="661.54" r="2.7" fill="#a00010" stroke="#111" stroke-width="0.7"/>
<circle cx="354.30" cy="661.54" r="0.8" fill="#000"/>
<circle cx="402.10" cy="665.66" r="2.7" fill="#a00010" stroke="#111" stroke-width="0.7"/>
<circle cx="402.10" cy="665.66" r="0.8" fill="#000"/>
<circle cx="449.90" cy="664.79" r="2.7" fill="#a00010" stroke="#111" stroke-width="0.7"/>
<circle cx="449.90" cy="664.79" r="0.8" fill="#000"/>
<circle cx="258.70" cy="656.98" r="2.7" fill="#c060a8" stroke="#111" stroke-width="0.7"/>
<circle cx="258.70" cy="656.98" r="0.8" fill="#000"/>
<circle cx="306.50" cy="639.62" r="2.7" fill="#c060a8" stroke="#111" stroke-width="0.7"/>
<circle cx="306.50" cy="639.62" r="0.8" fill="#000"/>
<circle cx="354.30" cy="652.64" r="2.7" fill="#c060a8" stroke="#111" stroke-width="0.7"/>
<circle cx="354.30" cy="652.64" r="0.8" fill="#000"/>
<circle cx="402.10" cy="657.85" r="2.7" fill="#c060a8" stroke="#111" stroke-width="0.7"/>
<circle cx="402.10" cy="657.85" r="0.8" fill="#000"/>
<circle cx="449.90" cy="655.68" r="2.7" fill="#c060a8" stroke="#111" stroke-width="0.7"/>
<circle cx="449.90" cy="655.68" r="0.8" fill="#000"/>
<circle cx="258.70" cy="651.34" r="2.7" fill="#6b300a" stroke="#111" stroke-width="0.7"/>
<circle cx="258.70" cy="651.34" r="0.8" fill="#000"/>
<circle cx="306.50" cy="621.39" r="2.7" fill="#6b300a" stroke="#111" stroke-width="0.7"/>
<circle cx="306.50" cy="621.39" r="0.8" fill="#000"/>
<circle cx="354.30" cy="646.13" r="2.7" fill="#6b300a" stroke="#111" stroke-width="0.7"/>
<circle cx="354.30" cy="646.13" r="0.8" fill="#000"/>
<circle cx="402.10" cy="652.64" r="2.7" fill="#6b300a" stroke="#111" stroke-width="0.7"/>
<circle cx="402.10" cy="652.64" r="0.8" fill="#000"/>
<circle cx="449.90" cy="648.74" r="2.7" fill="#6b300a" stroke="#111" stroke-width="0.7"/>
<circle cx="449.90" cy="648.74" r="0.8" fill="#000"/>
<circle cx="258.70" cy="662.19" r="2.7" fill="#1a6ad0" stroke="#111" stroke-width="0.7"/>
<circle cx="258.70" cy="662.19" r="0.8" fill="#000"/>
<circle cx="306.50" cy="656.55" r="2.7" fill="#1a6ad0" stroke="#111" stroke-width="0.7"/>
<circle cx="306.50" cy="656.55" r="0.8" fill="#000"/>
<circle cx="354.30" cy="660.02" r="2.7" fill="#1a6ad0" stroke="#111" stroke-width="0.7"/>
<circle cx="354.30" cy="660.02" r="0.8" fill="#000"/>
<circle cx="402.10" cy="661.76" r="2.7" fill="#1a6ad0" stroke="#111" stroke-width="0.7"/>
<circle cx="402.10" cy="661.76" r="0.8" fill="#000"/>
<circle cx="449.90" cy="656.11" r="2.7" fill="#1a6ad0" stroke="#111" stroke-width="0.7"/>
<circle cx="449.90" cy="656.11" r="0.8" fill="#000"/>
<text x="212.20" y="590.00" font-size="10.7" text-anchor="middle" transform="rotate(-90 212.20 590.00)">% CCR5<tspan dy="-4" font-size="7">+</tspan><tspan dy="4"> of CD4</tspan><tspan dy="-4" font-size="7">+</tspan><tspan dy="4"> T cells</tspan></text>
<line x1="247.40" y1="672.40" x2="247.40" y2="738.00" stroke="#111" stroke-width="1.8"/>
<line x1="239.40" y1="687.80" x2="247.40" y2="687.80" stroke="#111" stroke-width="1.5"/>
<text x="236.90" y="691.80" font-size="11" text-anchor="end">80</text>
<line x1="239.40" y1="704.53" x2="247.40" y2="704.53" stroke="#111" stroke-width="1.5"/>
<text x="236.90" y="708.53" font-size="11" text-anchor="end">60</text>
<line x1="239.40" y1="721.27" x2="247.40" y2="721.27" stroke="#111" stroke-width="1.5"/>
<text x="236.90" y="725.27" font-size="11" text-anchor="end">40</text>
<line x1="243.10" y1="738.00" x2="251.80" y2="738.00" stroke="#111" stroke-width="1.5"/>
<text x="236.90" y="742.00" font-size="11" text-anchor="end">20</text>
<line x1="258.70" y1="704.20" x2="258.70" y2="711.90" stroke="#333" stroke-width="0.9"/>
<line x1="255.50" y1="704.20" x2="261.90" y2="704.20" stroke="#555" stroke-width="1.1"/>
<line x1="255.50" y1="711.90" x2="261.90" y2="711.90" stroke="#555" stroke-width="1.1"/>
<line x1="306.50" y1="687.21" x2="306.50" y2="699.60" stroke="#333" stroke-width="0.9"/>
<line x1="303.30" y1="687.21" x2="309.70" y2="687.21" stroke="#555" stroke-width="1.1"/>
<line x1="303.30" y1="699.60" x2="309.70" y2="699.60" stroke="#555" stroke-width="1.1"/>
<line x1="354.30" y1="686.96" x2="354.30" y2="697.84" stroke="#333" stroke-width="0.9"/>
<line x1="351.10" y1="686.96" x2="357.50" y2="686.96" stroke="#555" stroke-width="1.1"/>
<line x1="351.10" y1="697.84" x2="357.50" y2="697.84" stroke="#555" stroke-width="1.1"/>
<line x1="402.10" y1="690.06" x2="402.10" y2="707.63" stroke="#333" stroke-width="0.9"/>
<line x1="398.90" y1="690.06" x2="405.30" y2="690.06" stroke="#555" stroke-width="1.1"/>
<line x1="398.90" y1="707.63" x2="405.30" y2="707.63" stroke="#555" stroke-width="1.1"/>
<line x1="449.90" y1="700.02" x2="449.90" y2="717.92" stroke="#333" stroke-width="0.9"/>
<line x1="446.70" y1="700.02" x2="453.10" y2="700.02" stroke="#555" stroke-width="1.1"/>
<line x1="446.70" y1="717.92" x2="453.10" y2="717.92" stroke="#555" stroke-width="1.1"/>
<polyline points="258.70,708.05 306.50,693.41 354.30,692.40 402.10,698.84 449.90,708.97" fill="none" stroke="#26c426" stroke-width="1.7" stroke-linejoin="round"/>
<circle cx="258.70" cy="708.05" r="2.7" fill="#0f7a0f" stroke="#111" stroke-width="0.7"/>
<circle cx="258.70" cy="708.05" r="0.8" fill="#000"/>
<circle cx="306.50" cy="693.41" r="2.7" fill="#0f7a0f" stroke="#111" stroke-width="0.7"/>
<circle cx="306.50" cy="693.41" r="0.8" fill="#000"/>
<circle cx="354.30" cy="692.40" r="2.7" fill="#0f7a0f" stroke="#111" stroke-width="0.7"/>
<circle cx="354.30" cy="692.40" r="0.8" fill="#000"/>
<circle cx="402.10" cy="698.84" r="2.7" fill="#0f7a0f" stroke="#111" stroke-width="0.7"/>
<circle cx="402.10" cy="698.84" r="0.8" fill="#000"/>
<circle cx="449.90" cy="708.97" r="2.7" fill="#0f7a0f" stroke="#111" stroke-width="0.7"/>
<circle cx="449.90" cy="708.97" r="0.8" fill="#000"/>
<line x1="247.40" y1="750.50" x2="247.40" y2="816.10" stroke="#111" stroke-width="1.8"/>
<line x1="243.10" y1="750.50" x2="251.80" y2="750.50" stroke="#111" stroke-width="1.5"/>
<text x="239.70" y="754.50" font-size="11" text-anchor="end">20</text>
<line x1="241.60" y1="766.90" x2="247.40" y2="766.90" stroke="#111" stroke-width="1.5"/>
<text x="239.70" y="770.90" font-size="11" text-anchor="end">15</text>
<line x1="241.60" y1="783.30" x2="247.40" y2="783.30" stroke="#111" stroke-width="1.5"/>
<text x="239.70" y="787.30" font-size="11" text-anchor="end">10</text>
<line x1="241.60" y1="799.70" x2="247.40" y2="799.70" stroke="#111" stroke-width="1.5"/>
<text x="239.70" y="803.70" font-size="11" text-anchor="end">5</text>
<line x1="241.60" y1="816.10" x2="247.40" y2="816.10" stroke="#111" stroke-width="1.5"/>
<text x="239.70" y="820.10" font-size="11" text-anchor="end">0</text>
<line x1="241.60" y1="816.10" x2="462.00" y2="816.10" stroke="#111" stroke-width="1.8"/>
<line x1="258.70" y1="787.89" x2="258.70" y2="797.73" stroke="#333" stroke-width="0.9"/>
<line x1="255.50" y1="787.89" x2="261.90" y2="787.89" stroke="#555" stroke-width="1.1"/>
<line x1="255.50" y1="797.73" x2="261.90" y2="797.73" stroke="#555" stroke-width="1.1"/>
<line x1="306.50" y1="800.36" x2="306.50" y2="810.85" stroke="#333" stroke-width="0.9"/>
<line x1="303.30" y1="800.36" x2="309.70" y2="800.36" stroke="#555" stroke-width="1.1"/>
<line x1="303.30" y1="810.85" x2="309.70" y2="810.85" stroke="#555" stroke-width="1.1"/>
<line x1="354.30" y1="810.85" x2="354.30" y2="814.13" stroke="#333" stroke-width="0.9"/>
<line x1="351.10" y1="810.85" x2="357.50" y2="810.85" stroke="#555" stroke-width="1.1"/>
<line x1="351.10" y1="814.13" x2="357.50" y2="814.13" stroke="#555" stroke-width="1.1"/>
<line x1="402.10" y1="810.20" x2="402.10" y2="813.48" stroke="#333" stroke-width="0.9"/>
<line x1="398.90" y1="810.20" x2="405.30" y2="810.20" stroke="#555" stroke-width="1.1"/>
<line x1="398.90" y1="813.48" x2="405.30" y2="813.48" stroke="#555" stroke-width="1.1"/>
<line x1="449.90" y1="808.88" x2="449.90" y2="812.82" stroke="#333" stroke-width="0.9"/>
<line x1="446.70" y1="808.88" x2="453.10" y2="808.88" stroke="#555" stroke-width="1.1"/>
<line x1="446.70" y1="812.82" x2="453.10" y2="812.82" stroke="#555" stroke-width="1.1"/>
<line x1="258.70" y1="802.32" x2="258.70" y2="807.57" stroke="#333" stroke-width="0.9"/>
<line x1="255.50" y1="802.32" x2="261.90" y2="802.32" stroke="#555" stroke-width="1.1"/>
<line x1="255.50" y1="807.57" x2="261.90" y2="807.57" stroke="#555" stroke-width="1.1"/>
<line x1="306.50" y1="803.31" x2="306.50" y2="808.56" stroke="#333" stroke-width="0.9"/>
<line x1="303.30" y1="803.31" x2="309.70" y2="803.31" stroke="#555" stroke-width="1.1"/>
<line x1="303.30" y1="808.56" x2="309.70" y2="808.56" stroke="#555" stroke-width="1.1"/>
<line x1="354.30" y1="807.90" x2="354.30" y2="811.84" stroke="#333" stroke-width="0.9"/>
<line x1="351.10" y1="807.90" x2="357.50" y2="807.90" stroke="#555" stroke-width="1.1"/>
<line x1="351.10" y1="811.84" x2="357.50" y2="811.84" stroke="#555" stroke-width="1.1"/>
<line x1="402.10" y1="811.18" x2="402.10" y2="813.80" stroke="#333" stroke-width="0.9"/>
<line x1="398.90" y1="811.18" x2="405.30" y2="811.18" stroke="#555" stroke-width="1.1"/>
<line x1="398.90" y1="813.80" x2="405.30" y2="813.80" stroke="#555" stroke-width="1.1"/>
<line x1="449.90" y1="804.29" x2="449.90" y2="808.88" stroke="#333" stroke-width="0.9"/>
<line x1="446.70" y1="804.29" x2="453.10" y2="804.29" stroke="#555" stroke-width="1.1"/>
<line x1="446.70" y1="808.88" x2="453.10" y2="808.88" stroke="#555" stroke-width="1.1"/>
<line x1="258.70" y1="774.12" x2="258.70" y2="797.73" stroke="#333" stroke-width="0.9"/>
<line x1="255.50" y1="774.12" x2="261.90" y2="774.12" stroke="#555" stroke-width="1.1"/>
<line x1="255.50" y1="797.73" x2="261.90" y2="797.73" stroke="#555" stroke-width="1.1"/>
<line x1="306.50" y1="782.64" x2="306.50" y2="789.20" stroke="#333" stroke-width="0.9"/>
<line x1="303.30" y1="782.64" x2="309.70" y2="782.64" stroke="#555" stroke-width="1.1"/>
<line x1="303.30" y1="789.20" x2="309.70" y2="789.20" stroke="#555" stroke-width="1.1"/>
<line x1="354.30" y1="794.78" x2="354.30" y2="801.34" stroke="#333" stroke-width="0.9"/>
<line x1="351.10" y1="794.78" x2="357.50" y2="794.78" stroke="#555" stroke-width="1.1"/>
<line x1="351.10" y1="801.34" x2="357.50" y2="801.34" stroke="#555" stroke-width="1.1"/>
<line x1="402.10" y1="795.76" x2="402.10" y2="805.60" stroke="#333" stroke-width="0.9"/>
<line x1="398.90" y1="795.76" x2="405.30" y2="795.76" stroke="#555" stroke-width="1.1"/>
<line x1="398.90" y1="805.60" x2="405.30" y2="805.60" stroke="#555" stroke-width="1.1"/>
<line x1="449.90" y1="798.06" x2="449.90" y2="805.93" stroke="#333" stroke-width="0.9"/>
<line x1="446.70" y1="798.06" x2="453.10" y2="798.06" stroke="#555" stroke-width="1.1"/>
<line x1="446.70" y1="805.93" x2="453.10" y2="805.93" stroke="#555" stroke-width="1.1"/>
<line x1="258.70" y1="783.96" x2="258.70" y2="793.80" stroke="#333" stroke-width="0.9"/>
<line x1="255.50" y1="783.96" x2="261.90" y2="783.96" stroke="#555" stroke-width="1.1"/>
<line x1="255.50" y1="793.80" x2="261.90" y2="793.80" stroke="#555" stroke-width="1.1"/>
<line x1="306.50" y1="765.26" x2="306.50" y2="777.07" stroke="#333" stroke-width="0.9"/>
<line x1="303.30" y1="765.26" x2="309.70" y2="765.26" stroke="#555" stroke-width="1.1"/>
<line x1="303.30" y1="777.07" x2="309.70" y2="777.07" stroke="#555" stroke-width="1.1"/>
<line x1="354.30" y1="786.58" x2="354.30" y2="795.76" stroke="#333" stroke-width="0.9"/>
<line x1="351.10" y1="786.58" x2="357.50" y2="786.58" stroke="#555" stroke-width="1.1"/>
<line x1="351.10" y1="795.76" x2="357.50" y2="795.76" stroke="#555" stroke-width="1.1"/>
<line x1="402.10" y1="780.02" x2="402.10" y2="797.73" stroke="#333" stroke-width="0.9"/>
<line x1="398.90" y1="780.02" x2="405.30" y2="780.02" stroke="#555" stroke-width="1.1"/>
<line x1="398.90" y1="797.73" x2="405.30" y2="797.73" stroke="#555" stroke-width="1.1"/>
<line x1="449.90" y1="785.27" x2="449.90" y2="800.36" stroke="#333" stroke-width="0.9"/>
<line x1="446.70" y1="785.27" x2="453.10" y2="785.27" stroke="#555" stroke-width="1.1"/>
<line x1="446.70" y1="800.36" x2="453.10" y2="800.36" stroke="#555" stroke-width="1.1"/>
<line x1="258.70" y1="797.40" x2="258.70" y2="807.90" stroke="#333" stroke-width="0.9"/>
<line x1="255.50" y1="797.40" x2="261.90" y2="797.40" stroke="#555" stroke-width="1.1"/>
<line x1="255.50" y1="807.90" x2="261.90" y2="807.90" stroke="#555" stroke-width="1.1"/>
<line x1="306.50" y1="802.32" x2="306.50" y2="808.88" stroke="#333" stroke-width="0.9"/>
<line x1="303.30" y1="802.32" x2="309.70" y2="802.32" stroke="#555" stroke-width="1.1"/>
<line x1="303.30" y1="808.88" x2="309.70" y2="808.88" stroke="#555" stroke-width="1.1"/>
<line x1="354.30" y1="805.28" x2="354.30" y2="810.52" stroke="#333" stroke-width="0.9"/>
<line x1="351.10" y1="805.28" x2="357.50" y2="805.28" stroke="#555" stroke-width="1.1"/>
<line x1="351.10" y1="810.52" x2="357.50" y2="810.52" stroke="#555" stroke-width="1.1"/>
<line x1="402.10" y1="807.90" x2="402.10" y2="811.84" stroke="#333" stroke-width="0.9"/>
<line x1="398.90" y1="807.90" x2="405.30" y2="807.90" stroke="#555" stroke-width="1.1"/>
<line x1="398.90" y1="811.84" x2="405.30" y2="811.84" stroke="#555" stroke-width="1.1"/>
<line x1="449.90" y1="802.32" x2="449.90" y2="807.57" stroke="#333" stroke-width="0.9"/>
<line x1="446.70" y1="802.32" x2="453.10" y2="802.32" stroke="#555" stroke-width="1.1"/>
<line x1="446.70" y1="807.57" x2="453.10" y2="807.57" stroke="#555" stroke-width="1.1"/>
<polyline points="258.70,792.81 306.50,805.60 354.30,812.49 402.10,811.84 449.90,810.85" fill="none" stroke="#8a2be2" stroke-width="1.7" stroke-linejoin="round"/>
<polyline points="258.70,804.95 306.50,805.93 354.30,809.87 402.10,812.49 449.90,806.59" fill="none" stroke="#c8102e" stroke-width="1.7" stroke-linejoin="round"/>
<polyline points="258.70,785.92 306.50,785.92 354.30,798.06 402.10,800.68 449.90,802.00" fill="none" stroke="#ff7ad2" stroke-width="1.7" stroke-linejoin="round"/>
<polyline points="258.70,788.88 306.50,771.16 354.30,791.17 402.10,788.88 449.90,792.81" fill="none" stroke="#8b4510" stroke-width="1.7" stroke-linejoin="round"/>
<polyline points="258.70,802.65 306.50,805.60 354.30,807.90 402.10,809.87 449.90,804.95" fill="none" stroke="#2a8cff" stroke-width="1.7" stroke-linejoin="round"/>
<circle cx="258.70" cy="792.81" r="2.7" fill="#6a1ab0" stroke="#111" stroke-width="0.7"/>
<circle cx="258.70" cy="792.81" r="0.8" fill="#000"/>
<circle cx="306.50" cy="805.60" r="2.7" fill="#6a1ab0" stroke="#111" stroke-width="0.7"/>
<circle cx="306.50" cy="805.60" r="0.8" fill="#000"/>
<circle cx="354.30" cy="812.49" r="2.7" fill="#6a1ab0" stroke="#111" stroke-width="0.7"/>
<circle cx="354.30" cy="812.49" r="0.8" fill="#000"/>
<circle cx="402.10" cy="811.84" r="2.7" fill="#6a1ab0" stroke="#111" stroke-width="0.7"/>
<circle cx="402.10" cy="811.84" r="0.8" fill="#000"/>
<circle cx="449.90" cy="810.85" r="2.7" fill="#6a1ab0" stroke="#111" stroke-width="0.7"/>
<circle cx="449.90" cy="810.85" r="0.8" fill="#000"/>
<circle cx="258.70" cy="804.95" r="2.7" fill="#a00010" stroke="#111" stroke-width="0.7"/>
<circle cx="258.70" cy="804.95" r="0.8" fill="#000"/>
<circle cx="306.50" cy="805.93" r="2.7" fill="#a00010" stroke="#111" stroke-width="0.7"/>
<circle cx="306.50" cy="805.93" r="0.8" fill="#000"/>
<circle cx="354.30" cy="809.87" r="2.7" fill="#a00010" stroke="#111" stroke-width="0.7"/>
<circle cx="354.30" cy="809.87" r="0.8" fill="#000"/>
<circle cx="402.10" cy="812.49" r="2.7" fill="#a00010" stroke="#111" stroke-width="0.7"/>
<circle cx="402.10" cy="812.49" r="0.8" fill="#000"/>
<circle cx="449.90" cy="806.59" r="2.7" fill="#a00010" stroke="#111" stroke-width="0.7"/>
<circle cx="449.90" cy="806.59" r="0.8" fill="#000"/>
<circle cx="258.70" cy="785.92" r="2.7" fill="#c060a8" stroke="#111" stroke-width="0.7"/>
<circle cx="258.70" cy="785.92" r="0.8" fill="#000"/>
<circle cx="306.50" cy="785.92" r="2.7" fill="#c060a8" stroke="#111" stroke-width="0.7"/>
<circle cx="306.50" cy="785.92" r="0.8" fill="#000"/>
<circle cx="354.30" cy="798.06" r="2.7" fill="#c060a8" stroke="#111" stroke-width="0.7"/>
<circle cx="354.30" cy="798.06" r="0.8" fill="#000"/>
<circle cx="402.10" cy="800.68" r="2.7" fill="#c060a8" stroke="#111" stroke-width="0.7"/>
<circle cx="402.10" cy="800.68" r="0.8" fill="#000"/>
<circle cx="449.90" cy="802.00" r="2.7" fill="#c060a8" stroke="#111" stroke-width="0.7"/>
<circle cx="449.90" cy="802.00" r="0.8" fill="#000"/>
<circle cx="258.70" cy="788.88" r="2.7" fill="#6b300a" stroke="#111" stroke-width="0.7"/>
<circle cx="258.70" cy="788.88" r="0.8" fill="#000"/>
<circle cx="306.50" cy="771.16" r="2.7" fill="#6b300a" stroke="#111" stroke-width="0.7"/>
<circle cx="306.50" cy="771.16" r="0.8" fill="#000"/>
<circle cx="354.30" cy="791.17" r="2.7" fill="#6b300a" stroke="#111" stroke-width="0.7"/>
<circle cx="354.30" cy="791.17" r="0.8" fill="#000"/>
<circle cx="402.10" cy="788.88" r="2.7" fill="#6b300a" stroke="#111" stroke-width="0.7"/>
<circle cx="402.10" cy="788.88" r="0.8" fill="#000"/>
<circle cx="449.90" cy="792.81" r="2.7" fill="#6b300a" stroke="#111" stroke-width="0.7"/>
<circle cx="449.90" cy="792.81" r="0.8" fill="#000"/>
<circle cx="258.70" cy="802.65" r="2.7" fill="#1a6ad0" stroke="#111" stroke-width="0.7"/>
<circle cx="258.70" cy="802.65" r="0.8" fill="#000"/>
<circle cx="306.50" cy="805.60" r="2.7" fill="#1a6ad0" stroke="#111" stroke-width="0.7"/>
<circle cx="306.50" cy="805.60" r="0.8" fill="#000"/>
<circle cx="354.30" cy="807.90" r="2.7" fill="#1a6ad0" stroke="#111" stroke-width="0.7"/>
<circle cx="354.30" cy="807.90" r="0.8" fill="#000"/>
<circle cx="402.10" cy="809.87" r="2.7" fill="#1a6ad0" stroke="#111" stroke-width="0.7"/>
<circle cx="402.10" cy="809.87" r="0.8" fill="#000"/>
<circle cx="449.90" cy="804.95" r="2.7" fill="#1a6ad0" stroke="#111" stroke-width="0.7"/>
<circle cx="449.90" cy="804.95" r="0.8" fill="#000"/>
<text x="212.50" y="738.00" font-size="10.7" text-anchor="middle" transform="rotate(-90 212.50 738.00)">% CCR5<tspan dy="-4" font-size="7">+</tspan><tspan dy="4"> of CD8</tspan><tspan dy="-4" font-size="7">+</tspan><tspan dy="4"> T cells</tspan></text>
<line x1="258.70" y1="816.10" x2="258.70" y2="821.50" stroke="#111" stroke-width="1.5"/>
<text x="258.70" y="834.60" font-size="10.6" text-anchor="middle">2</text>
<line x1="306.50" y1="816.10" x2="306.50" y2="821.50" stroke="#111" stroke-width="1.5"/>
<text x="306.50" y="834.60" font-size="10.6" text-anchor="middle">4</text>
<line x1="354.30" y1="816.10" x2="354.30" y2="821.50" stroke="#111" stroke-width="1.5"/>
<text x="354.30" y="834.60" font-size="10.6" text-anchor="middle">6</text>
<line x1="402.10" y1="816.10" x2="402.10" y2="821.50" stroke="#111" stroke-width="1.5"/>
<text x="402.10" y="834.60" font-size="10.6" text-anchor="middle">8</text>
<line x1="449.90" y1="816.10" x2="449.90" y2="821.50" stroke="#111" stroke-width="1.5"/>
<text x="449.90" y="834.60" font-size="10.6" text-anchor="middle">10</text>
<text x="354.80" y="849.80" font-size="10.5" text-anchor="middle">Days post electroporation</text>
<text transform="translate(521.00 489.70) scale(0.78 1)" font-size="22">F</text>
<line x1="583.20" y1="494.50" x2="583.20" y2="527.40" stroke="#111" stroke-width="1.8"/>
<line x1="575.20" y1="494.50" x2="583.20" y2="494.50" stroke="#111" stroke-width="1.5"/>
<text x="573.40" y="498.50" font-size="11" text-anchor="end">400</text>
<line x1="575.20" y1="504.85" x2="583.20" y2="504.85" stroke="#111" stroke-width="1.5"/>
<text x="573.40" y="508.85" font-size="11" text-anchor="end">300</text>
<line x1="575.20" y1="515.20" x2="583.20" y2="515.20" stroke="#111" stroke-width="1.5"/>
<text x="573.40" y="519.20" font-size="11" text-anchor="end">200</text>
<line x1="575.20" y1="527.40" x2="587.10" y2="527.40" stroke="#111" stroke-width="1.5"/>
<text x="573.40" y="531.40" font-size="11" text-anchor="end">80</text>
<line x1="583.20" y1="540.40" x2="583.20" y2="638.10" stroke="#111" stroke-width="1.8"/>
<line x1="579.20" y1="540.40" x2="587.10" y2="540.40" stroke="#111" stroke-width="1.5"/>
<text x="573.70" y="544.40" font-size="11" text-anchor="end">80</text>
<line x1="575.20" y1="564.83" x2="583.20" y2="564.83" stroke="#111" stroke-width="1.5"/>
<text x="573.40" y="568.83" font-size="11" text-anchor="end">60</text>
<line x1="575.20" y1="589.25" x2="583.20" y2="589.25" stroke="#111" stroke-width="1.5"/>
<text x="573.40" y="593.25" font-size="11" text-anchor="end">40</text>
<line x1="575.20" y1="613.67" x2="583.20" y2="613.67" stroke="#111" stroke-width="1.5"/>
<text x="573.40" y="617.67" font-size="11" text-anchor="end">20</text>
<line x1="575.20" y1="638.10" x2="583.20" y2="638.10" stroke="#111" stroke-width="1.5"/>
<text x="573.40" y="642.10" font-size="11" text-anchor="end">0</text>
<line x1="575.20" y1="638.10" x2="678.40" y2="638.10" stroke="#111" stroke-width="1.8"/>
<line x1="593.00" y1="638.10" x2="593.00" y2="643.80" stroke="#111" stroke-width="1.5"/>
<line x1="607.60" y1="638.10" x2="607.60" y2="643.80" stroke="#111" stroke-width="1.5"/>
<line x1="622.90" y1="638.10" x2="622.90" y2="643.80" stroke="#111" stroke-width="1.5"/>
<line x1="638.00" y1="638.10" x2="638.00" y2="643.80" stroke="#111" stroke-width="1.5"/>
<line x1="653.70" y1="638.10" x2="653.70" y2="643.80" stroke="#111" stroke-width="1.5"/>
<line x1="668.80" y1="638.10" x2="668.80" y2="643.80" stroke="#111" stroke-width="1.5"/>
<text x="595.30" y="653.00" font-size="11" text-anchor="end" transform="rotate(-45 595.30 653.00)"><tspan font-style="italic">GFP</tspan> gRNA</text>
<text x="609.90" y="653.00" font-size="11" text-anchor="end" transform="rotate(-45 609.90 653.00)">TB7</text>
<text x="625.20" y="653.00" font-size="11" text-anchor="end" transform="rotate(-45 625.20 653.00)">TB8</text>
<text x="640.30" y="653.00" font-size="11" text-anchor="end" transform="rotate(-45 640.30 653.00)">TB48</text>
<text x="656.00" y="653.00" font-size="11" text-anchor="end" transform="rotate(-45 656.00 653.00)">TB50</text>
<text x="671.10" y="653.00" font-size="11" text-anchor="end" transform="rotate(-45 671.10 653.00)">TB48+TB50</text>
<text x="546.80" y="566.30" font-size="11.6" text-anchor="middle" transform="rotate(-90 546.80 566.30)">Cumulative CCR5<tspan dy="-4" font-size="7">+</tspan><tspan dy="4"> CD4</tspan><tspan dy="-4" font-size="7">+</tspan><tspan dy="4"> (AUC)</tspan></text>
<line x1="593.00" y1="497.29" x2="593.00" y2="502.78" stroke="#888" stroke-width="1"/>
<line x1="590.80" y1="497.29" x2="595.20" y2="497.29" stroke="#333" stroke-width="0.8"/>
<line x1="590.80" y1="502.78" x2="595.20" y2="502.78" stroke="#333" stroke-width="0.8"/>
<line x1="588.50" y1="500.19" x2="597.50" y2="500.19" stroke="#444" stroke-width="1"/>
<rect x="588.09" y="495.09" width="4.42" height="4.42" fill="#2fb52f" stroke="#222" stroke-width="0.6"/>
<circle cx="595.70" cy="499.57" r="2.16" fill="#2fb52f" stroke="#222" stroke-width="0.6"/>
<path d="M589.90 500.43L592.25 502.78L589.90 505.13L587.55 502.78Z" fill="#2fb52f" stroke="#222" stroke-width="0.6"/>
<line x1="607.60" y1="574.23" x2="607.60" y2="582.66" stroke="#222" stroke-width="1"/>
<line x1="605.40" y1="574.23" x2="609.80" y2="574.23" stroke="#333" stroke-width="0.8"/>
<line x1="605.40" y1="582.66" x2="609.80" y2="582.66" stroke="#333" stroke-width="0.8"/>
<line x1="603.10" y1="580.70" x2="612.10" y2="580.70" stroke="#444" stroke-width="1"/>
<rect x="605.39" y="572.02" width="4.42" height="4.42" fill="#7b3b05" stroke="#222" stroke-width="0.6"/>
<circle cx="605.40" cy="582.66" r="2.16" fill="#7b3b05" stroke="#222" stroke-width="0.6"/>
<path d="M610.20 578.35L612.55 580.70L610.20 583.05L607.85 580.70Z" fill="#7b3b05" stroke="#222" stroke-width="0.6"/>
<line x1="622.90" y1="596.33" x2="622.90" y2="606.35" stroke="#222" stroke-width="1"/>
<line x1="620.70" y1="596.33" x2="625.10" y2="596.33" stroke="#333" stroke-width="0.8"/>
<line x1="620.70" y1="606.35" x2="625.10" y2="606.35" stroke="#333" stroke-width="0.8"/>
<line x1="618.40" y1="599.02" x2="627.40" y2="599.02" stroke="#444" stroke-width="1"/>
<rect x="618.09" y="594.13" width="4.42" height="4.42" fill="#fd72d6" stroke="#222" stroke-width="0.6"/>
<circle cx="625.50" cy="599.02" r="2.16" fill="#fd72d6" stroke="#222" stroke-width="0.6"/>
<path d="M622.90 604.00L625.25 606.35L622.90 608.70L620.55 606.35Z" fill="#fd72d6" stroke="#222" stroke-width="0.6"/>
<line x1="638.00" y1="613.06" x2="638.00" y2="619.41" stroke="#222" stroke-width="1"/>
<line x1="635.80" y1="613.06" x2="640.20" y2="613.06" stroke="#333" stroke-width="0.8"/>
<line x1="635.80" y1="619.41" x2="640.20" y2="619.41" stroke="#333" stroke-width="0.8"/>
<line x1="633.50" y1="617.95" x2="642.50" y2="617.95" stroke="#444" stroke-width="1"/>
<rect x="635.79" y="610.86" width="4.42" height="4.42" fill="#1f86f0" stroke="#222" stroke-width="0.6"/>
<circle cx="635.50" cy="619.41" r="2.16" fill="#1f86f0" stroke="#222" stroke-width="0.6"/>
<path d="M640.50 615.60L642.85 617.95L640.50 620.30L638.15 617.95Z" fill="#1f86f0" stroke="#222" stroke-width="0.6"/>
<line x1="653.70" y1="623.69" x2="653.70" y2="628.09" stroke="#222" stroke-width="1"/>
<line x1="651.50" y1="623.69" x2="655.90" y2="623.69" stroke="#333" stroke-width="0.8"/>
<line x1="651.50" y1="628.09" x2="655.90" y2="628.09" stroke="#333" stroke-width="0.8"/>
<line x1="649.20" y1="624.67" x2="658.20" y2="624.67" stroke="#444" stroke-width="1"/>
<rect x="648.49" y="621.48" width="4.42" height="4.42" fill="#c10010" stroke="#222" stroke-width="0.6"/>
<circle cx="656.50" cy="624.06" r="2.16" fill="#c10010" stroke="#222" stroke-width="0.6"/>
<path d="M650.70 625.73L653.05 628.09L650.70 630.44L648.35 628.09Z" fill="#c10010" stroke="#222" stroke-width="0.6"/>
<line x1="668.80" y1="623.45" x2="668.80" y2="629.80" stroke="#222" stroke-width="1"/>
<line x1="666.60" y1="623.45" x2="671.00" y2="623.45" stroke="#333" stroke-width="0.8"/>
<line x1="666.60" y1="629.80" x2="671.00" y2="629.80" stroke="#333" stroke-width="0.8"/>
<line x1="664.30" y1="624.67" x2="673.30" y2="624.67" stroke="#444" stroke-width="1"/>
<circle cx="666.20" cy="623.45" r="2.16" fill="#8a2be2" stroke="#222" stroke-width="0.6"/>
<rect x="668.99" y="622.46" width="4.42" height="4.42" fill="#8a2be2" stroke="#222" stroke-width="0.6"/>
<path d="M668.80 627.44L671.15 629.80L668.80 632.15L666.45 629.80Z" fill="#8a2be2" stroke="#222" stroke-width="0.6"/>
<line x1="593.70" y1="490.80" x2="609.20" y2="490.80" stroke="#000" stroke-width="2.5" stroke-linecap="round"/>
<text x="601.45" y="493.20" font-size="11" text-anchor="middle">*</text>
<line x1="609.30" y1="566.80" x2="624.90" y2="566.80" stroke="#000" stroke-width="2.5" stroke-linecap="round"/>
<text x="617.10" y="569.20" font-size="11" text-anchor="middle">*</text>
<line x1="623.60" y1="589.00" x2="639.70" y2="589.00" stroke="#000" stroke-width="2.5" stroke-linecap="round"/>
<text x="631.65" y="591.40" font-size="11" text-anchor="middle">*</text>
<line x1="639.20" y1="607.50" x2="654.80" y2="607.50" stroke="#000" stroke-width="2.5" stroke-linecap="round"/>
<text x="647.00" y="609.90" font-size="11" text-anchor="middle">*</text>
<text transform="translate(520.59 706.00) scale(0.88 1)" font-size="22">G</text>
<line x1="585.20" y1="716.60" x2="585.20" y2="749.30" stroke="#111" stroke-width="1.8"/>
<line x1="577.20" y1="723.40" x2="585.20" y2="723.40" stroke="#111" stroke-width="1.5"/>
<text x="574.80" y="727.40" font-size="11" text-anchor="end">600</text>
<line x1="577.20" y1="736.35" x2="585.20" y2="736.35" stroke="#111" stroke-width="1.5"/>
<text x="574.80" y="740.35" font-size="11" text-anchor="end">400</text>
<line x1="581.00" y1="749.30" x2="589.80" y2="749.30" stroke="#111" stroke-width="1.5"/>
<text x="573.30" y="753.30" font-size="11" text-anchor="end">200</text>
<line x1="585.20" y1="763.00" x2="585.20" y2="864.40" stroke="#111" stroke-width="1.8"/>
<line x1="581.00" y1="763.00" x2="589.80" y2="763.00" stroke="#111" stroke-width="1.5"/>
<text x="576.60" y="767.00" font-size="11" text-anchor="end">100</text>
<line x1="577.20" y1="788.35" x2="585.20" y2="788.35" stroke="#111" stroke-width="1.5"/>
<text x="574.80" y="792.35" font-size="11" text-anchor="end">75</text>
<line x1="577.20" y1="813.70" x2="585.20" y2="813.70" stroke="#111" stroke-width="1.5"/>
<text x="574.80" y="817.70" font-size="11" text-anchor="end">50</text>
<line x1="577.20" y1="839.05" x2="585.20" y2="839.05" stroke="#111" stroke-width="1.5"/>
<text x="574.80" y="843.05" font-size="11" text-anchor="end">25</text>
<line x1="577.20" y1="864.40" x2="585.20" y2="864.40" stroke="#111" stroke-width="1.5"/>
<text x="574.80" y="868.40" font-size="11" text-anchor="end">0</text>
<line x1="577.20" y1="864.40" x2="685.00" y2="864.40" stroke="#111" stroke-width="1.8"/>
<line x1="595.90" y1="864.40" x2="595.90" y2="870.10" stroke="#111" stroke-width="1.5"/>
<line x1="611.80" y1="864.40" x2="611.80" y2="870.10" stroke="#111" stroke-width="1.5"/>
<line x1="627.50" y1="864.40" x2="627.50" y2="870.10" stroke="#111" stroke-width="1.5"/>
<line x1="643.10" y1="864.40" x2="643.10" y2="870.10" stroke="#111" stroke-width="1.5"/>
<line x1="658.80" y1="864.40" x2="658.80" y2="870.10" stroke="#111" stroke-width="1.5"/>
<line x1="674.50" y1="864.40" x2="674.50" y2="870.10" stroke="#111" stroke-width="1.5"/>
<text x="598.20" y="879.50" font-size="11" text-anchor="end" transform="rotate(-45 598.20 879.50)">GFP guide</text>
<text x="614.10" y="879.50" font-size="11" text-anchor="end" transform="rotate(-45 614.10 879.50)">TB7</text>
<text x="629.80" y="879.50" font-size="11" text-anchor="end" transform="rotate(-45 629.80 879.50)">TB8</text>
<text x="645.40" y="879.50" font-size="11" text-anchor="end" transform="rotate(-45 645.40 879.50)">TB48</text>
<text x="661.10" y="879.50" font-size="11" text-anchor="end" transform="rotate(-45 661.10 879.50)">TB50</text>
<text x="676.80" y="879.50" font-size="11" text-anchor="end" transform="rotate(-45 676.80 879.50)">TB48/50</text>
<text x="548.60" y="790.80" font-size="12.0" text-anchor="middle" transform="rotate(-90 548.60 790.80)">Cumulative CD8+ CCR5+ (AUC)</text>
<line x1="595.90" y1="723.40" x2="595.90" y2="731.30" stroke="#999" stroke-width="1"/>
<line x1="593.70" y1="723.40" x2="598.10" y2="723.40" stroke="#333" stroke-width="0.8"/>
<line x1="593.70" y1="731.30" x2="598.10" y2="731.30" stroke="#333" stroke-width="0.8"/>
<line x1="591.40" y1="725.99" x2="600.40" y2="725.99" stroke="#444" stroke-width="1"/>
<rect x="592.19" y="721.19" width="4.42" height="4.42" fill="#2fb52f" stroke="#222" stroke-width="0.6"/>
<circle cx="599.10" cy="727.28" r="2.16" fill="#2fb52f" stroke="#222" stroke-width="0.6"/>
<circle cx="596.40" cy="731.30" r="2.16" fill="#2fb52f" stroke="#222" stroke-width="0.6"/>
<line x1="611.80" y1="779.22" x2="611.80" y2="798.49" stroke="#222" stroke-width="1"/>
<line x1="609.60" y1="779.22" x2="614.00" y2="779.22" stroke="#333" stroke-width="0.8"/>
<line x1="609.60" y1="798.49" x2="614.00" y2="798.49" stroke="#333" stroke-width="0.8"/>
<line x1="607.30" y1="788.35" x2="616.30" y2="788.35" stroke="#444" stroke-width="1"/>
<path d="M611.80 776.87L614.15 779.22L611.80 781.58L609.45 779.22Z" fill="#7b3b05" stroke="#222" stroke-width="0.6"/>
<rect x="609.59" y="786.14" width="4.42" height="4.42" fill="#7b3b05" stroke="#222" stroke-width="0.6"/>
<circle cx="611.80" cy="798.49" r="2.16" fill="#7b3b05" stroke="#222" stroke-width="0.6"/>
<line x1="627.50" y1="809.64" x2="627.50" y2="816.74" stroke="#222" stroke-width="1"/>
<line x1="625.30" y1="809.64" x2="629.70" y2="809.64" stroke="#333" stroke-width="0.8"/>
<line x1="625.30" y1="816.74" x2="629.70" y2="816.74" stroke="#333" stroke-width="0.8"/>
<line x1="623.00" y1="810.66" x2="632.00" y2="810.66" stroke="#444" stroke-width="1"/>
<rect x="622.69" y="807.44" width="4.42" height="4.42" fill="#fd72d6" stroke="#222" stroke-width="0.6"/>
<circle cx="630.10" cy="810.66" r="2.16" fill="#fd72d6" stroke="#222" stroke-width="0.6"/>
<path d="M627.50 814.39L629.85 816.74L627.50 819.09L625.15 816.74Z" fill="#fd72d6" stroke="#222" stroke-width="0.6"/>
<line x1="643.10" y1="839.56" x2="643.10" y2="842.09" stroke="#222" stroke-width="1"/>
<line x1="640.90" y1="839.56" x2="645.30" y2="839.56" stroke="#333" stroke-width="0.8"/>
<line x1="640.90" y1="842.09" x2="645.30" y2="842.09" stroke="#333" stroke-width="0.8"/>
<line x1="638.60" y1="841.59" x2="647.60" y2="841.59" stroke="#444" stroke-width="1"/>
<circle cx="640.50" cy="842.09" r="2.16" fill="#1f86f0" stroke="#222" stroke-width="0.6"/>
<circle cx="643.60" cy="839.56" r="2.16" fill="#1f86f0" stroke="#222" stroke-width="0.6"/>
<rect x="643.89" y="839.38" width="4.42" height="4.42" fill="#1f86f0" stroke="#222" stroke-width="0.6"/>
<line x1="658.80" y1="841.08" x2="658.80" y2="851.22" stroke="#222" stroke-width="1"/>
<line x1="656.60" y1="841.08" x2="661.00" y2="841.08" stroke="#333" stroke-width="0.8"/>
<line x1="656.60" y1="851.22" x2="661.00" y2="851.22" stroke="#333" stroke-width="0.8"/>
<line x1="654.30" y1="844.12" x2="663.30" y2="844.12" stroke="#444" stroke-width="1"/>
<rect x="654.39" y="838.87" width="4.42" height="4.42" fill="#c10010" stroke="#222" stroke-width="0.6"/>
<circle cx="661.80" cy="844.12" r="2.16" fill="#c10010" stroke="#222" stroke-width="0.6"/>
<path d="M658.80 848.87L661.15 851.22L658.80 853.57L656.45 851.22Z" fill="#c10010" stroke="#222" stroke-width="0.6"/>
<line x1="674.50" y1="838.04" x2="674.50" y2="848.68" stroke="#222" stroke-width="1"/>
<line x1="672.30" y1="838.04" x2="676.70" y2="838.04" stroke="#333" stroke-width="0.8"/>
<line x1="672.30" y1="848.68" x2="676.70" y2="848.68" stroke="#333" stroke-width="0.8"/>
<line x1="670.00" y1="845.64" x2="679.00" y2="845.64" stroke="#444" stroke-width="1"/>
<rect x="672.29" y="835.83" width="4.42" height="4.42" fill="#8a2be2" stroke="#222" stroke-width="0.6"/>
<circle cx="677.30" cy="845.64" r="2.16" fill="#8a2be2" stroke="#222" stroke-width="0.6"/>
<path d="M671.30 846.33L673.65 848.68L671.30 851.03L668.95 848.68Z" fill="#8a2be2" stroke="#222" stroke-width="0.6"/>
<line x1="596.50" y1="716.20" x2="612.60" y2="716.20" stroke="#000" stroke-width="2.5" stroke-linecap="round"/>
<text x="604.55" y="718.60" font-size="11" text-anchor="middle">*</text>
<line x1="612.70" y1="772.50" x2="628.80" y2="772.50" stroke="#000" stroke-width="2.5" stroke-linecap="round"/>
<text x="620.75" y="774.90" font-size="11" text-anchor="middle">*</text>
<line x1="627.80" y1="803.30" x2="643.90" y2="803.30" stroke="#000" stroke-width="2.5" stroke-linecap="round"/>
<text x="635.85" y="805.70" font-size="11" text-anchor="middle">*</text>
</svg></body></html>
